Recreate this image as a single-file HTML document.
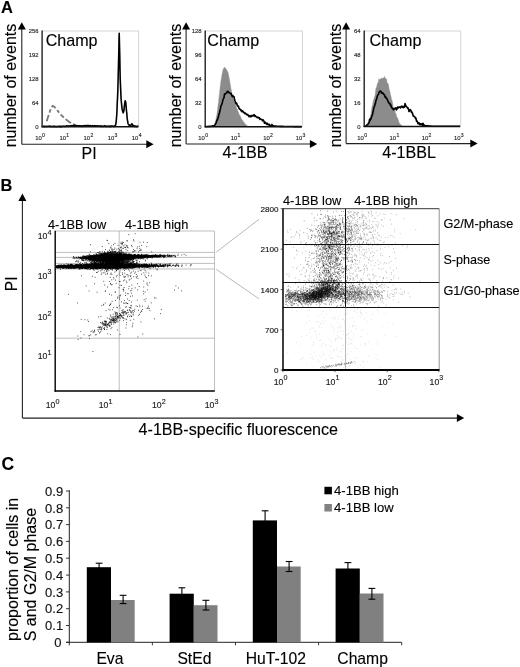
<!DOCTYPE html>
<html lang="en"><head><meta charset="utf-8"><title>4-1BB expression and cell cycle</title>
<style>html,body{margin:0;padding:0;background:#fff}svg{display:block}text{font-family:"Liberation Sans", Arial, Helvetica, sans-serif;stroke:#000;stroke-width:.22px;stroke-opacity:.55}</style>
</head><body>
<svg width="520" height="667" viewBox="0 0 520 667">
<rect width="520" height="667" fill="#fff"/>
<text x="0.9" y="12.6" font-size="16.5" font-weight="bold">A</text>
<line x1="42" y1="31" x2="138.6" y2="31" stroke="#c8c8c8" stroke-width="0.8"/>
<line x1="138.6" y1="31" x2="138.6" y2="126.7" stroke="#c8c8c8" stroke-width="0.8"/>
<line x1="21.8" y1="144.3" x2="21.8" y2="28.6" stroke="#222" stroke-width="1.1"/>
<path d="M21.8 22.3 L17.8 29.6 L25.8 29.6 Z" fill="#000"/>
<line x1="21.8" y1="144.3" x2="147.3" y2="144.3" stroke="#222" stroke-width="1.1"/>
<path d="M153.6 144.3 L146.3 140.3 L146.3 148.3 Z" fill="#000"/>
<text x="38.5" y="33.1" font-size="5.9" text-anchor="end" fill="#2a2a2a">256</text>
<text x="38.5" y="57" font-size="5.9" text-anchor="end" fill="#2a2a2a">192</text>
<text x="38.5" y="80.9" font-size="5.9" text-anchor="end" fill="#2a2a2a">128</text>
<text x="38.5" y="104.9" font-size="5.9" text-anchor="end" fill="#2a2a2a">64</text>
<text x="38.5" y="128.8" font-size="5.9" text-anchor="end" fill="#2a2a2a">0</text>
<text x="41.8" y="140.1" font-size="5.9" fill="#2a2a2a" text-anchor="end">10</text>
<text x="42.1" y="137.2" font-size="5.1" fill="#2a2a2a">0</text>
<text x="66" y="140.1" font-size="5.9" fill="#2a2a2a" text-anchor="end">10</text>
<text x="66.2" y="137.2" font-size="5.1" fill="#2a2a2a">1</text>
<text x="90.1" y="140.1" font-size="5.9" fill="#2a2a2a" text-anchor="end">10</text>
<text x="90.4" y="137.2" font-size="5.1" fill="#2a2a2a">2</text>
<text x="114.2" y="140.1" font-size="5.9" fill="#2a2a2a" text-anchor="end">10</text>
<text x="114.5" y="137.2" font-size="5.1" fill="#2a2a2a">3</text>
<text x="138.4" y="140.1" font-size="5.9" fill="#2a2a2a" text-anchor="end">10</text>
<text x="138.7" y="137.2" font-size="5.1" fill="#2a2a2a">4</text>
<text x="45.7" y="45.8" font-size="16.1">Champ</text>
<text x="81.6" y="158.6" font-size="16">PI</text>
<text x="16.2" y="147.3" font-size="16" transform="rotate(-90 16.2 147.3)">number of events</text>
<path d="M46.7 121.2 48.2 116.5 49.6 112.2 51 108.2 52.7 105.9 54.4 106.7 57 110 61 114.9 65 118.6 69 121.8 73 124.2 75.4 125.2" fill="none" stroke="#787878" stroke-width="1.8" stroke-linejoin="round" stroke-dasharray="6.6 2.4 3.6 2.4 5.4 2.4 3.2 2.4 4.4 2.4"/>
<path d="M42.5 126.5 42.8 126.6 43 126.5 43.2 126.3 43.5 126.4 43.8 126.3 44 126.5 44.2 126.7 44.5 126.4 44.8 126.4 45 126.6 45.2 126.6 45.5 126.5 45.8 126.3 46 126.5 46.2 126.6 46.5 126.3 46.8 126.4 47 126.2 47.2 126.3 47.5 126.2 47.8 126.5 48 126.3 48.2 126.5 48.5 126.5 48.8 126.5 49 126 49.2 126.4 49.5 126.5 49.8 126.5 50 126.2 50.2 126.4 50.5 126.3 50.8 126.4 51 126.7 51.2 126.4 51.5 126.5 51.8 126.7 52 126.4 52.2 126.5 52.5 126.5 52.8 126.5 53 126.3 53.2 126.5 53.5 126.7 53.8 126.2 54 126.7 54.2 126.5 54.5 126.4 54.8 126.7 55 126.6 55.2 126.3 55.5 126.5 55.8 126.6 56 126.5 56.2 126.6 56.5 126.5 56.8 126.6 57 126.7 57.2 126.4 57.5 126.5 57.8 126.4 58 126.5 58.2 126.3 58.5 126.4 58.8 126.5 59 126.7 59.2 126.7 59.5 126.3 59.8 126.4 60 126.6 60.2 126.1 60.5 126.4 60.8 126.4 61 126.7 61.2 126.6 61.5 126.4 61.8 126.3 62 126.4 62.2 126.7 62.5 126.3 62.8 126.3 63 126.4 63.2 126.3 63.5 126.3 63.8 126.1 64 126.3 64.2 126.2 64.5 126.5 64.8 126.4 65 126.2 65.2 126.4 65.5 126.2 65.8 126.4 66 126.2 66.2 126.3 66.5 125.9 66.8 126.2 67 125.8 67.2 125.8 67.5 126.1 67.8 126 68 126.1 68.2 126.5 68.5 125.9 68.8 126 69 126.1 69.2 126.1 69.5 126 69.8 126 70 126.1 70.2 126.1 70.5 125.8 70.8 125.9 71 126 71.2 125.7 71.5 126 71.8 125.8 72 126.1 72.2 125.9 72.5 125.9 72.8 125.8 73 125.8 73.2 125.5 73.5 125.6 73.8 125.9 74 125.4 74.2 125.9 74.5 125.5 74.8 125.9 75 125.6 75.2 125.9 75.5 125.7 75.8 125.4 76 125.9 76.2 126 76.5 125.7 76.8 125.7 77 125.7 77.2 125.6 77.5 126 77.8 125.7 78 125.8 78.2 125.7 78.5 125.8 78.8 125.7 79 126.1 79.2 125.9 79.5 126.1 79.8 126 80 125.8 80.2 125.9 80.5 125.9 80.8 126 81 126 81.2 126 81.5 125.8 81.8 125.9 82 126.4 82.2 126 82.5 125.9 82.8 126.1 83 126.3 83.2 125.7 83.5 125.9 83.8 125.8 84 125.6 84.2 126 84.5 125.9 84.8 125.9 85 125.7 85.2 125.9 85.5 125.7 85.8 125.8 86 125.6 86.2 125.5 86.5 126 86.8 125.6 87 125.7 87.2 125.7 87.5 125.6 87.8 125.5 88 125.7 88.2 125.6 88.5 125.6 88.8 125.7 89 125.9 89.2 125.8 89.5 125.8 89.8 125.6 90 125.5 90.2 125.9 90.5 125.9 90.8 125.8 91 125.9 91.2 126 91.5 126 91.8 126 92 125.8 92.2 126.2 92.5 125.7 92.8 126.1 93 126 93.2 126.1 93.5 126.3 93.8 126.3 94 125.8 94.2 125.7 94.5 126.2 94.8 125.8 95 126 95.2 126.2 95.5 125.7 95.8 125.7 96 126.1 96.2 126.1 96.5 126 96.8 126.1 97 125.9 97.2 125.8 97.5 126.1 97.8 125.9 98 125.8 98.2 126.2 98.5 126.1 98.8 126.2 99 126 99.2 126 99.5 126 99.8 126 100 126.2 100.2 126 100.5 126.2 100.8 126.2 101 126.6 101.2 125.9 101.5 126.4 101.8 126.2 102 126.2 102.2 126 102.5 126.1 102.8 126.4 103 126.2 103.2 126.3 103.5 126.2 103.8 126.5 104 126.3 104.2 125.9 104.5 126.2 104.8 125.9 105 125.7 105.2 126.2 105.5 126.5 105.8 126.3 106 126.1 106.2 126.1 106.5 126.5 106.8 126.3 107 126.3 107.2 126.3 107.5 126.3 107.8 126.4 108 126.4 108.2 126.3 108.5 126.1 108.8 126.4 109 126.2 109.2 126.5 109.5 126.1 109.8 126.3 110 126.3 110.2 126.1 110.5 126.6 110.8 126.6 111 126.2 111.2 126.4 111.5 126.4 111.8 125.8 112 126.3 112.2 126.3 112.5 126.3 112.8 126.1 113 126.3 113.2 126.3 113.5 126.5 113.8 126.4 114 126.3 114.2 126.6 114.5 126.2 114.8 126 115 125.5 115.2 125.7 115.5 125.3 115.8 124.3 116 122.8 116.2 121.3 116.5 118 116.8 114.2 117 109.7 117.2 104 117.5 98.6 117.8 91.6 118 84 118.2 75.6 118.5 64.1 118.8 52.9 119 40.6 119.2 33.2 119.5 45.3 119.8 57.1 120 68.8 120.2 79.4 120.5 85.6 120.8 92.1 121 97.2 121.2 100.4 121.5 103.2 121.8 106.3 122 107.8 122.2 109.7 122.5 110.6 122.8 111.6 123 112.4 123.2 112.8 123.5 112 123.8 111.1 124 110 124.2 107.3 124.5 105.1 124.8 103.1 125 101.5 125.2 100.7 125.5 101.6 125.8 102.8 126 105 126.2 107.8 126.5 111 126.8 113.3 127 116.2 127.2 118.8 127.5 120.5 127.8 121.8 128 123.4 128.2 124 128.5 124.3 128.8 124.4 129 125 129.2 125.6 129.5 125.8 129.8 125.4 130 125.4 130.2 125.4 130.5 125.5 130.8 125.4 131 125.1 131.2 124.7 131.5 124.2 131.8 123.8 132 123.8 132.2 124.2 132.5 124.8 132.8 125.5 133 125.7 133.2 125.7 133.5 125.5 133.8 126 134 125.7 134.2 125.9 134.5 126.5 134.8 126.4 135 126.3 135.2 126 135.5 126.3 135.8 126.2 136 126.5 136.2 126.7 136.5 126.4 136.8 126.3 137 126.2 137.2 126.4 137.5 126.4 137.8 126.2 138 126.5 138.2 126.3" fill="none" stroke="#000" stroke-width="1.6" stroke-linejoin="round"/>
<line x1="42.1" y1="30.6" x2="42.1" y2="127.3" stroke="#111" stroke-width="1.3"/>
<line x1="41.5" y1="126.7" x2="138.2" y2="126.7" stroke="#111" stroke-width="1.4"/>
<line x1="205.1" y1="31" x2="302.4" y2="31" stroke="#c8c8c8" stroke-width="0.8"/>
<line x1="302.4" y1="31" x2="302.4" y2="126.7" stroke="#c8c8c8" stroke-width="0.8"/>
<line x1="186.1" y1="144" x2="186.1" y2="28.6" stroke="#222" stroke-width="1.1"/>
<path d="M186.1 22.3 L182.1 29.6 L190.1 29.6 Z" fill="#000"/>
<line x1="186.1" y1="144" x2="310.9" y2="144" stroke="#222" stroke-width="1.1"/>
<path d="M317.2 144 L309.9 140 L309.9 148 Z" fill="#000"/>
<text x="201.6" y="33.1" font-size="5.9" text-anchor="end" fill="#2a2a2a">128</text>
<text x="201.6" y="57" font-size="5.9" text-anchor="end" fill="#2a2a2a">96</text>
<text x="201.6" y="80.9" font-size="5.9" text-anchor="end" fill="#2a2a2a">64</text>
<text x="201.6" y="104.9" font-size="5.9" text-anchor="end" fill="#2a2a2a">32</text>
<text x="201.6" y="128.8" font-size="5.9" text-anchor="end" fill="#2a2a2a">0</text>
<text x="204.9" y="140.1" font-size="5.9" fill="#2a2a2a" text-anchor="end">10</text>
<text x="205.2" y="137.2" font-size="5.1" fill="#2a2a2a">0</text>
<text x="237.3" y="140.1" font-size="5.9" fill="#2a2a2a" text-anchor="end">10</text>
<text x="237.6" y="137.2" font-size="5.1" fill="#2a2a2a">1</text>
<text x="269.8" y="140.1" font-size="5.9" fill="#2a2a2a" text-anchor="end">10</text>
<text x="270.1" y="137.2" font-size="5.1" fill="#2a2a2a">2</text>
<text x="302.2" y="140.1" font-size="5.9" fill="#2a2a2a" text-anchor="end">10</text>
<text x="302.5" y="137.2" font-size="5.1" fill="#2a2a2a">3</text>
<text x="207.3" y="45.8" font-size="16.1">Champ</text>
<text x="222.6" y="158" font-size="16.2">4-1BB</text>
<text x="180.6" y="147.3" font-size="16" transform="rotate(-90 180.6 147.3)">number of events</text>
<path d="M205.5 126.7 205.5 126.7 206 126.7 206.5 126.7 207 126.7 207.5 126.7 208 126.7 208.5 126.7 209 126.7 209.5 126.6 210 126.6 210.5 126.6 211 126.6 211.5 126.6 212 126.6 212.5 126.6 213 126.6 213.5 126.3 214 125.7 214.5 125.1 215 123.9 215.5 121.7 216 119.3 216.5 116.6 217 113.8 217.5 110.2 218 105.6 218.5 102.2 219 97.5 219.5 93.4 220 88.6 220.5 84.6 221 80.3 221.5 77.9 222 74.4 222.5 72.4 223 69.4 223.5 69 224 67.7 224.5 67.4 225 68 225.5 67.8 226 69.1 226.5 69.7 227 70.2 227.5 71.4 228 72.3 228.5 75 229 77.3 229.5 79.7 230 83.1 230.5 86 231 89 231.5 91.4 232 93.6 232.5 94.7 233 97.1 233.5 98.8 234 100.1 234.5 102.2 235 103.1 235.5 105.2 236 105.9 236.5 107.7 237 108.7 237.5 109.8 238 111.6 238.5 112.6 239 114.2 239.5 114.9 240 115.5 240.5 116.8 241 117.8 241.5 119.1 242 119.4 242.5 120.6 243 120.7 243.5 122.2 244 122.3 244.5 122.7 245 124 245.5 124.8 246 124.3 246.5 125.3 247 125.7 247.5 126.1 248 126.3 248.5 126.3 249 126.4 249.5 126.5 250 126.6 250.5 126.6 251 126.6 251.5 126.6 252 126.6 252.5 126.6 253 126.6 253.5 126.6 254 126.6 254.5 126.6 255 126.6 255.5 126.6 256 126.6 256.5 126.6 257 126.6 257.5 126.6 258 126.6 258.5 126.6 259 126.6 259.5 126.6 260 126.6 260.5 126.6 261 126.6 261.5 126.6 262 126.6 262.5 126.6 263 126.6 263.5 126.6 264 126.6 264.5 126.6 265 126.6 265.5 126.6 266 126.6 266.5 126.6 267 126.6 267.5 126.6 268 126.6 268.5 126.6 269 126.6 269.5 126.6 270 126.6 270.5 126.6 271 126.6 271.5 126.6 272 126.6 272.5 126.6 273 126.6 273.5 126.6 274 126.6 274.5 126.6 275 126.6 275.5 126.6 276 126.7 276.5 126.7 277 126.7 277.5 126.7 278 126.7 278.5 126.7 279 126.7 279.5 126.7 280 126.7 280.5 126.7 281 126.7 281.5 126.7 282 126.7 282.5 126.7 283 126.7 283.5 126.7 284 126.7 284.5 126.7 285 126.7 285.5 126.7 286 126.7 286.5 126.7 287 126.7 287.5 126.7 288 126.7 288.5 126.7 289 126.7 289.5 126.7 290 126.7 290.5 126.7 291 126.7 291.5 126.7 292 126.7 292.5 126.7 293 126.7 293.5 126.7 294 126.7 294.5 126.7 295 126.7 295.5 126.7 296 126.7 296.5 126.7 297 126.7 297.5 126.7 298 126.7 298.5 126.7 299 126.7 299.5 126.7 300 126.7 300.5 126.7 301 126.7 301.5 126.7 301.5 126.7Z" fill="#8c8c8c" stroke="#8c8c8c" stroke-width="0.4" stroke-linejoin="round"/>
<path d="M205.5 126.6 206 126.6 206.5 126.5 207 126.5 207.5 126.5 208 126.5 208.5 126.5 209 126.4 209.5 126.4 210 126.4 210.5 126.3 211 126.2 211.5 126.2 212 126.1 212.5 126 213 125.7 213.5 125.9 214 125.6 214.5 125.6 215 124.7 215.5 123.7 216 123.4 216.5 121.4 217 119.9 217.5 119.8 218 117.9 218.5 116.6 219 113.9 219.5 112.7 220 110.5 220.5 108.4 221 105.5 221.5 104.9 222 103.9 222.5 101.9 223 99.5 223.5 98.5 224 97.6 224.5 94.1 225 94.3 225.5 93.9 226 93.2 226.5 93 227 92.1 227.5 91.2 228 91.3 228.5 92.4 229 92.4 229.5 93 230 93.2 230.5 93.4 231 93.4 231.5 94.7 232 96.1 232.5 96.7 233 95.7 233.5 96.5 234 96.8 234.5 99 235 100.8 235.5 102.4 236 103.6 236.5 103.1 237 104.4 237.5 106 238 106.1 238.5 106.3 239 108.5 239.5 108.9 240 109.4 240.5 109.3 241 110.7 241.5 110.4 242 111.7 242.5 110.9 243 111.3 243.5 112.3 244 112.2 244.5 113.4 245 113.6 245.5 113.1 246 114 246.5 114 247 115 247.5 114.4 248 114.7 248.5 115.9 249 116.7 249.5 116.7 250 115.7 250.5 116 251 116.9 251.5 115.9 252 115.3 252.5 115.9 253 116.1 253.5 115.3 254 114.7 254.5 115.1 255 116.5 255.5 115.9 256 116.5 256.5 116.9 257 117.4 257.5 117.1 258 117.9 258.5 117.4 259 118 259.5 117.9 260 119.5 260.5 119.1 261 119 261.5 119.5 262 119.9 262.5 120.8 263 119.7 263.5 120.4 264 121.1 264.5 123.2 265 122.6 265.5 122.3 266 123.1 266.5 124.3 267 123.3 267.5 123.4 268 124.7 268.5 124.5 269 124.9 269.5 124.4 270 126.2 270.5 126.2 271 125.6 271.5 125.9 272 124.4 272.5 126.1 273 125.9 273.5 125.9 274 126 274.5 126 275 126.1 275.5 126.1 276 126.1 276.5 126.2 277 126.2 277.5 126.3 278 126.3 278.5 126.3 279 126.3 279.5 126.3 280 126.4 280.5 126.4 281 126.4 281.5 126.4 282 126.4 282.5 126.4 283 126.4 283.5 126.5 284 126.5 284.5 126.5 285 126.5 285.5 126.5 286 126.5 286.5 126.5 287 126.5 287.5 126.5 288 126.5 288.5 126.5 289 126.5 289.5 126.5 290 126.5 290.5 126.5 291 126.5 291.5 126.5 292 126.5 292.5 126.5 293 126.5 293.5 126.6 294 126.6 294.5 126.6 295 126.6 295.5 126.6 296 126.6 296.5 126.6 297 126.6 297.5 126.6 298 126.6 298.5 126.6 299 126.6 299.5 126.6 300 126.6 300.5 126.6 301 126.6 301.5 126.6" fill="none" stroke="#000" stroke-width="1.6" stroke-linejoin="round"/>
<line x1="205.2" y1="30.6" x2="205.2" y2="127.3" stroke="#111" stroke-width="1.3"/>
<line x1="204.6" y1="126.7" x2="302" y2="126.7" stroke="#111" stroke-width="1.4"/>
<line x1="364.1" y1="31" x2="460.7" y2="31" stroke="#c8c8c8" stroke-width="0.8"/>
<line x1="460.7" y1="31" x2="460.7" y2="126.5" stroke="#c8c8c8" stroke-width="0.8"/>
<line x1="346.1" y1="143.6" x2="346.1" y2="28.6" stroke="#222" stroke-width="1.1"/>
<path d="M346.1 22.3 L342.1 29.6 L350.1 29.6 Z" fill="#000"/>
<line x1="346.1" y1="143.6" x2="471.3" y2="143.6" stroke="#222" stroke-width="1.1"/>
<path d="M477.6 143.6 L470.3 139.6 L470.3 147.6 Z" fill="#000"/>
<text x="360.6" y="33.1" font-size="5.9" text-anchor="end" fill="#2a2a2a">64</text>
<text x="360.6" y="57" font-size="5.9" text-anchor="end" fill="#2a2a2a">48</text>
<text x="360.6" y="80.8" font-size="5.9" text-anchor="end" fill="#2a2a2a">32</text>
<text x="360.6" y="104.7" font-size="5.9" text-anchor="end" fill="#2a2a2a">16</text>
<text x="360.6" y="128.6" font-size="5.9" text-anchor="end" fill="#2a2a2a">0</text>
<text x="363.9" y="140.1" font-size="5.9" fill="#2a2a2a" text-anchor="end">10</text>
<text x="364.2" y="137.2" font-size="5.1" fill="#2a2a2a">0</text>
<text x="396.1" y="140.1" font-size="5.9" fill="#2a2a2a" text-anchor="end">10</text>
<text x="396.4" y="137.2" font-size="5.1" fill="#2a2a2a">1</text>
<text x="428.3" y="140.1" font-size="5.9" fill="#2a2a2a" text-anchor="end">10</text>
<text x="428.6" y="137.2" font-size="5.1" fill="#2a2a2a">2</text>
<text x="460.5" y="140.1" font-size="5.9" fill="#2a2a2a" text-anchor="end">10</text>
<text x="460.8" y="137.2" font-size="5.1" fill="#2a2a2a">3</text>
<text x="369.5" y="45.8" font-size="16.1">Champ</text>
<text x="382.2" y="157.7" font-size="16.1">4-1BBL</text>
<text x="340.6" y="147.3" font-size="16" transform="rotate(-90 340.6 147.3)">number of events</text>
<path d="M364.5 126.5 364.5 126.5 365 126.4 365.5 126.4 366 126.4 366.5 126.3 367 126.3 367.5 125.8 368 125 368.5 124.2 369 122.3 369.5 121 370 117.8 370.5 115.3 371 114.1 371.5 110 372 106.2 372.5 105.6 373 101.9 373.5 100.3 374 98.9 374.5 96.6 375 95.9 375.5 91.8 376 88.2 376.5 87.3 377 85.4 377.5 83.3 378 83.4 378.5 80.7 379 78.5 379.5 80.7 380 79.2 380.5 79 381 78.5 381.5 78.8 382 77.9 382.5 79 383 77.9 383.5 78 384 78.2 384.5 76.3 385 77.9 385.5 78.2 386 79.6 386.5 78.7 387 82.8 387.5 83 388 83.4 388.5 84.7 389 88.2 389.5 90.5 390 92 390.5 95 391 96.3 391.5 99.7 392 100.1 392.5 102.8 393 105.8 393.5 109.4 394 107.4 394.5 109.6 395 110.8 395.5 114.2 396 113.6 396.5 116 397 117.7 397.5 117.8 398 119 398.5 120.8 399 122.5 399.5 123.2 400 123.8 400.5 124.5 401 125.1 401.5 125.8 402 126 402.5 126.2 403 126.3 403.5 126.5 404 126.5 404.5 126.5 405 126.5 405.5 126.5 406 126.5 406.5 126.5 407 126.5 407.5 126.5 408 126.5 408.5 126.5 409 126.5 409.5 126.5 410 126.5 410.5 126.5 411 126.5 411.5 126.5 412 126.5 412.5 126.5 413 126.5 413.5 126.5 414 126.5 414.5 126.5 415 126.5 415.5 126.5 416 126.5 416.5 126.5 417 126.5 417.5 126.5 418 126.5 418.5 126.5 419 126.5 419.5 126.5 420 126.5 420.5 126.5 421 126.5 421.5 126.5 422 126.5 422.5 126.5 423 126.5 423.5 126.5 424 126.5 424.5 126.5 425 126.5 425.5 126.5 426 126.5 426.5 126.5 427 126.5 427.5 126.5 428 126.5 428.5 126.5 429 126.5 429.5 126.5 430 126.5 430.5 126.5 431 126.5 431.5 126.5 432 126.5 432.5 126.5 433 126.5 433.5 126.5 434 126.5 434.5 126.5 435 126.5 435.5 126.5 436 126.5 436.5 126.5 437 126.5 437.5 126.5 438 126.5 438.5 126.5 439 126.5 439.5 126.5 440 126.5 440.5 126.5 441 126.5 441.5 126.5 442 126.5 442.5 126.5 443 126.5 443.5 126.5 444 126.5 444.5 126.5 445 126.5 445.5 126.5 446 126.5 446.5 126.5 447 126.5 447.5 126.5 448 126.5 448.5 126.5 449 126.5 449.5 126.5 450 126.5 450.5 126.5 451 126.5 451.5 126.5 452 126.5 452.5 126.5 453 126.5 453.5 126.5 454 126.5 454.5 126.5 455 126.5 455.5 126.5 456 126.5 456.5 126.5 457 126.5 457.5 126.5 458 126.5 458.5 126.5 459 126.5 459.5 126.5 460 126.5 460 126.5Z" fill="#8c8c8c" stroke="#8c8c8c" stroke-width="0.4" stroke-linejoin="round"/>
<path d="M364.5 126.2 365 126.2 365.5 126.1 366 125.9 366.5 125.9 367 124.8 367.5 124.6 368 124.3 368.5 122.9 369 122.8 369.5 119.6 370 120.7 370.5 118.6 371 119 371.5 117.1 372 115.7 372.5 114.6 373 111.7 373.5 109.7 374 107.2 374.5 106.3 375 104.6 375.5 103 376 100.2 376.5 99.5 377 97.3 377.5 95.7 378 94.7 378.5 94.2 379 92.5 379.5 91.7 380 91 380.5 91.6 381 91.3 381.5 93.1 382 92.5 382.5 93.5 383 93 383.5 94.2 384 94.6 384.5 94.6 385 97 385.5 96.4 386 98 386.5 98.6 387 98.6 387.5 99.9 388 101.6 388.5 102.2 389 103.1 389.5 103.7 390 103.5 390.5 105.5 391 105 391.5 107.7 392 107.8 392.5 108.2 393 109 393.5 109.8 394 109.1 394.5 108.6 395 108.9 395.5 107.9 396 108.4 396.5 109.9 397 107.7 397.5 108.6 398 106.9 398.5 107.7 399 107.1 399.5 107.1 400 107.3 400.5 107.9 401 106.6 401.5 106.7 402 106.1 402.5 107.3 403 106.8 403.5 107.7 404 106.3 404.5 106.9 405 103.5 405.5 104.7 406 106.5 406.5 106.6 407 107.2 407.5 108.1 408 107.8 408.5 109.4 409 111.5 409.5 110.9 410 109.5 410.5 109.9 411 110.5 411.5 112.5 412 112.2 412.5 113.3 413 115.4 413.5 116.3 414 116.3 414.5 116.6 415 117.2 415.5 118.6 416 118.2 416.5 121.1 417 120.9 417.5 122.2 418 123.7 418.5 123.8 419 122.7 419.5 124.3 420 124.8 420.5 123.7 421 123.8 421.5 124.6 422 123.8 422.5 126 423 123.4 423.5 124.5 424 125.2 424.5 125.3 425 125.6 425.5 125.7 426 125.8 426.5 125.8 427 125.9 427.5 125.9 428 125.9 428.5 126 429 126 429.5 126 430 126.1 430.5 126.1 431 126.1 431.5 126.2 432 126.2 432.5 126.2 433 126.2 433.5 126.2 434 126.2 434.5 126.2 435 126.2 435.5 126.2 436 126.2 436.5 126.2 437 126.2 437.5 126.2 438 126.2 438.5 126.2 439 126.2 439.5 126.2 440 126.2 440.5 126.2 441 126.2 441.5 126.2 442 126.2 442.5 126.2 443 126.2 443.5 126.2 444 126.2 444.5 126.2 445 126.2 445.5 126.2 446 126.2 446.5 126.3 447 126.3 447.5 126.3 448 126.3 448.5 126.3 449 126.3 449.5 126.3 450 126.3 450.5 126.3 451 126.3 451.5 126.3 452 126.3 452.5 126.3 453 126.3 453.5 126.3 454 126.3 454.5 126.3 455 126.3 455.5 126.3 456 126.3 456.5 126.3 457 126.3 457.5 126.3 458 126.3 458.5 126.3 459 126.3 459.5 126.3 460 126.3" fill="none" stroke="#000" stroke-width="1.6" stroke-linejoin="round"/>
<line x1="364.2" y1="30.6" x2="364.2" y2="127.1" stroke="#111" stroke-width="1.3"/>
<line x1="363.6" y1="126.5" x2="460.3" y2="126.5" stroke="#111" stroke-width="1.4"/>
<text x="0.4" y="191.3" font-size="16.4" font-weight="bold">B</text>
<line x1="22.4" y1="418.1" x2="22.4" y2="199.9" stroke="#222" stroke-width="1.1"/>
<path d="M22.4 193.6 L18.4 200.9 L26.4 200.9 Z" fill="#000"/>
<line x1="22.4" y1="418.1" x2="457.9" y2="418.1" stroke="#222" stroke-width="1.1"/>
<path d="M464.2 418.1 L456.9 414.1 L456.9 422.1 Z" fill="#000"/>
<text x="17" y="291.2" font-size="15.6" transform="rotate(-90 17 291.2)">PI</text>
<text x="138.6" y="435.3" font-size="16.1">4-1BB-specific fluorescence</text>
<line x1="55.2" y1="252.4" x2="214.5" y2="252.4" stroke="#a4a4a4" stroke-width="0.7"/>
<line x1="55.2" y1="257.4" x2="214.5" y2="257.4" stroke="#a4a4a4" stroke-width="0.7"/>
<line x1="55.2" y1="263.4" x2="214.5" y2="263.4" stroke="#a4a4a4" stroke-width="0.7"/>
<line x1="55.2" y1="269" x2="214.5" y2="269" stroke="#a4a4a4" stroke-width="0.7"/>
<line x1="55.2" y1="338.2" x2="214.5" y2="338.2" stroke="#a4a4a4" stroke-width="0.7"/>
<line x1="119.2" y1="231" x2="119.2" y2="391" stroke="#a4a4a4" stroke-width="0.7"/>
<line x1="55.2" y1="231" x2="214.5" y2="231" stroke="#a4a4a4" stroke-width="0.7"/>
<line x1="214.5" y1="231" x2="214.5" y2="391" stroke="#a4a4a4" stroke-width="0.7"/>
<line x1="216.2" y1="252.2" x2="259" y2="219.3" stroke="#9a9a9a" stroke-width="0.7"/>
<line x1="216.2" y1="269.3" x2="259" y2="298.8" stroke="#9a9a9a" stroke-width="0.7"/>
<path d="M106.4 266.2h0.8M110.5 265.8h0.8M168.9 265.3h0.8M85.9 266.4h0.8M104.8 266.5h0.8M103.7 264.8h0.8M119.4 263.7h0.8M135.2 266.2h0.8M95.2 264.5h0.8M86.6 266.6h0.8M65.3 266.7h0.8M83.9 267.5h0.8M121.9 268h0.8M109.2 266.6h0.8M81.6 265.9h0.8M98.3 264.9h0.8M108.8 265.2h0.8M121.1 266.1h0.8M92.6 264.1h0.8M101.5 266.3h0.8M60.7 266.6h0.8M78.1 267h0.8M150.1 265.5h0.8M99.2 266.4h0.8M113.7 265.2h0.8M98.3 265.7h0.8M87 264.6h0.8M106.4 266.3h0.8M107.9 268.1h0.8M105.9 266.4h0.8M59.2 266.9h0.8M104.2 265h0.8M85.8 267.8h0.8M93.8 265.5h0.8M113.9 267.1h0.8M124.7 266.1h0.8M131.3 264.9h0.8M95.1 267.5h0.8M132 265.9h0.8M138.5 266h0.8M137.6 266.3h0.8M144.1 265.8h0.8M104.2 265.7h0.8M103.5 266.8h0.8M129.5 265.5h0.8M72.5 266.6h0.8M113.4 265.3h0.8M94.2 264.6h0.8M98.4 265.5h0.8M62.7 266.2h0.8M84.8 266.4h0.8M107.5 267.7h0.8M131.1 264.2h0.8M133.7 266h0.8M105.9 263.4h0.8M103.1 264.9h0.8M86.4 265.9h0.8M118.5 263.3h0.8M101.6 264h0.8M123.8 266.2h0.8M153.5 265.8h0.8M107.2 266h0.8M69.1 265.9h0.8M85.6 268.5h0.8M70.1 266.4h0.8M76.9 265.7h0.8M141.9 267.3h0.8M113.9 266.9h0.8M68.5 266.3h0.8M125 267.3h0.8M140.8 266h0.8M98.6 267h0.8M90.4 266.6h0.8M99.2 265h0.8M115.4 267.3h0.8M124.6 266.2h0.8M138.7 264.9h0.8M139.5 265.2h0.8M138.8 266.7h0.8M143.4 265.5h0.8M125.2 266.1h0.8M68.2 267.1h0.8M104.6 266.4h0.8M116.2 264.2h0.8M98 267h0.8M131.7 266.9h0.8M98.6 267.3h0.8M83.9 268h0.8M145.6 266.1h0.8M125.3 266.9h0.8M113.7 268.1h0.8M132.1 265.6h0.8M135.6 267.6h0.8M116.9 268.2h0.8M90.4 267.2h0.8M96.1 268.4h0.8M82.4 267.2h0.8M113.2 265h0.8M139 266.9h0.8M95.4 266.7h0.8M78.5 266.8h0.8M160.7 265.8h0.8M96.3 267.8h0.8M75.9 267h0.8M114.2 265.2h0.8M119.1 266.6h0.8M89.7 267.1h0.8M128.6 265.2h0.8M95.3 265.8h0.8M84 266h0.8M112.6 265.4h0.8M128 266.3h0.8M91.5 267.4h0.8M116.6 268.4h0.8M105.6 267.7h0.8M181.4 266.2h0.8M89.6 267.5h0.8M144 267h0.8M106.6 265.7h0.8M104.7 267.1h0.8M126.8 266.3h0.8M131.2 265.8h0.8M140.9 265.4h0.8M116.5 265.5h0.8M92.4 266h0.8M94 264.9h0.8M121.3 266.7h0.8M123.1 266h0.8M144.3 265.9h0.8M118.9 266.5h0.8M135.6 266.6h0.8M147.4 265.3h0.8M112.3 266h0.8M69.4 265.3h0.8M77.3 264.5h0.8M70.6 265h0.8M149.4 267h0.8M86 264.6h0.8M140 266.3h0.8M123.2 267.7h0.8M152.6 265.4h0.8M134.1 267.5h0.8M105.3 268.5h0.8M102.8 267.4h0.8M110.2 269.1h0.8M112.6 266.9h0.8M94.2 265.5h0.8M107.2 266.8h0.8M149.8 265.4h0.8M63.7 265.6h0.8M114.7 264.5h0.8M84.4 268.6h0.8M112.9 265.5h0.8M129.8 265.9h0.8M106.5 265.4h0.8M128.1 266.1h0.8M66.7 266.4h0.8M136.8 265.5h0.8M92.3 265h0.8M124.2 264.4h0.8M112.7 265.2h0.8M88.3 266.7h0.8M113.7 268.7h0.8M148.4 266.6h0.8M115.5 268.4h0.8M114.7 266.7h0.8M71.3 266.5h0.8M145.2 264.7h0.8M155 265.7h0.8M108.7 263.5h0.8M102.3 265.9h0.8M65.9 267.9h0.8M131 266.3h0.8M178.3 266.3h0.8M126.6 265.6h0.8M140.9 264.6h0.8M122.1 265.5h0.8M82.4 266.1h0.8M142.8 266.9h0.8M75.9 268.2h0.8M102.5 265.4h0.8M115.3 265.7h0.8M131 265.8h0.8M118.8 265.7h0.8M118.1 264.6h0.8M88.2 266.5h0.8M74.5 266.8h0.8M109.6 266.7h0.8M89.5 265.1h0.8M74 266.4h0.8M75.1 265h0.8M95.3 267.4h0.8M59.8 265.9h0.8M73 266.3h0.8M65.5 266.3h0.8M112.7 265.4h0.8M118.6 264.8h0.8M160.2 264.3h0.8M69.1 268h0.8M90.3 266.6h0.8M131.7 266.2h0.8M102.4 268.8h0.8M99.5 266.2h0.8M152.4 266.2h0.8M99.2 266.3h0.8M77.9 267.5h0.8M73.8 267h0.8M116.7 266.5h0.8M115.9 265.8h0.8M72.3 266.8h0.8M82.4 267.5h0.8M121.9 263.6h0.8M123 265.9h0.8M91.3 265.9h0.8M124.2 265.7h0.8M122.9 263.8h0.8M61.6 267.2h0.8M99.9 265.3h0.8M118.8 265.8h0.8M93.1 265.8h0.8M100.6 264.3h0.8M127.6 265.5h0.8M149.1 264.3h0.8M175.9 264.8h0.8M78.7 266.2h0.8M132.9 265.9h0.8M140.1 265.9h0.8M133.6 265.8h0.8M111.9 268.8h0.8M77.8 266.9h0.8M124.3 264.7h0.8M89.4 265.8h0.8M181.6 265h0.8M126.4 265.8h0.8M155.3 265.2h0.8M84.3 265.6h0.8M146.2 267.2h0.8M149.3 265.8h0.8M148.4 265.5h0.8M107.4 265.9h0.8M76.7 266.3h0.8M103.4 268h0.8M63.7 267h0.8M110.4 267.6h0.8M82.2 263.5h0.8M103.7 266.7h0.8M105.2 267.5h0.8M158.2 267.2h0.8M141.7 265.9h0.8M106.8 264.1h0.8M139.4 266.4h0.8M87.7 265.8h0.8M99.2 264.2h0.8M131.7 265.3h0.8M75.7 267.4h0.8M100.7 267.7h0.8M73.7 267.2h0.8M111.1 264.9h0.8M150.4 267.8h0.8M88.4 265.2h0.8M113.9 266.1h0.8M84.7 265h0.8M78.1 267.7h0.8M75.9 266.9h0.8M145.8 266.6h0.8M169.4 265.7h0.8M120.6 266h0.8M89.4 266.6h0.8M126.3 263.9h0.8M99.3 267.5h0.8M128.8 267h0.8M115.6 265.7h0.8M115.3 266.1h0.8M123.8 266.4h0.8M92.9 268.1h0.8M97.5 266.8h0.8M63.2 266.7h0.8M96.5 265.7h0.8M71 265.3h0.8M104.2 265.5h0.8M83.1 266.5h0.8M110.6 265.9h0.8M119.8 266.2h0.8M71.1 267.2h0.8M86.9 266.9h0.8M83.5 266.7h0.8M127.4 266.7h0.8M152.4 265.9h0.8M130.1 266h0.8M98.9 266.9h0.8M146.1 264.4h0.8M68.6 267.6h0.8M147 264.7h0.8M90.9 267.3h0.8M176.9 265.5h0.8M149 266.7h0.8M81.2 266.5h0.8M112.4 265h0.8M102.4 267.6h0.8M110.7 266.4h0.8M69.4 266.7h0.8M90.3 266.5h0.8M120.2 267.3h0.8M113.8 267.2h0.8M139.2 266.1h0.8M110.1 264.3h0.8M169.1 265.3h0.8M89.4 266.5h0.8M114.7 268.4h0.8M58.2 267h0.8M75.4 266.5h0.8M142.5 266.9h0.8M83.5 266.4h0.8M121.8 266.1h0.8M106.4 266.4h0.8M80.8 265.1h0.8M98.9 267.5h0.8M94.6 266.8h0.8M95.3 266h0.8M127.6 264.8h0.8M125 266.3h0.8M93 267.9h0.8M84.4 265.8h0.8M115.3 264.9h0.8M105.4 266.8h0.8M134.7 264.4h0.8M177 263.9h0.8M129.9 265.5h0.8M107.1 265.4h0.8M103.5 265.9h0.8M85.7 265.9h0.8M84.4 266.8h0.8M81.9 266.3h0.8M97.7 265.6h0.8M96.9 265.8h0.8M127.3 266.7h0.8M97.6 267.5h0.8M102.9 267.4h0.8M76.3 267.1h0.8M150.8 263.1h0.8M121.2 264.9h0.8M154.5 265.5h0.8M128.7 266.2h0.8M146.7 264.5h0.8M101.5 268h0.8M126.6 266.4h0.8M178.3 265h0.8M76.2 266.7h0.8M138.6 265.6h0.8M152.1 265.2h0.8M118.9 266.7h0.8M127.9 265.5h0.8M141.3 264.6h0.8M90.6 265.7h0.8M118.9 266h0.8M84.9 265.4h0.8M90 267.7h0.8M91.6 265.2h0.8M104.2 268.4h0.8M111.9 267.3h0.8M120 265h0.8M70.3 266.7h0.8M160.7 266.6h0.8M138.8 265.7h0.8M127.3 264.7h0.8M98.5 266.5h0.8M105.6 268.7h0.8M122.6 264.4h0.8M119 266.8h0.8M63.3 266.7h0.8M127.7 265.9h0.8M185.7 265.1h0.8M58.8 266.5h0.8M134.5 267h0.8M117.8 266.9h0.8M105 265.1h0.8M144.6 267.2h0.8M76.4 265.4h0.8M112.3 267h0.8M147.1 266h0.8M102.7 267.8h0.8M96.8 266.8h0.8M111.1 267.5h0.8M96.1 266.3h0.8M149.3 266.6h0.8M83.8 266.8h0.8M131.3 268.2h0.8M74.5 266h0.8M125.9 267.4h0.8M105.2 266.9h0.8M107.8 266.5h0.8M79.5 266h0.8M96.1 266.9h0.8M149.1 264.6h0.8M78.1 265.3h0.8M79.7 267.2h0.8M146.5 264.5h0.8M111.1 268h0.8M149.2 265.6h0.8M116.6 266.5h0.8M84.4 266.6h0.8M106.2 266.8h0.8M140.9 265.7h0.8M133.2 265.6h0.8M108 266.1h0.8M109.3 267.6h0.8M105 267.7h0.8M92.5 267.8h0.8M159.6 266h0.8M108.2 266h0.8M77.8 265.1h0.8M95.2 267.1h0.8M127.4 267h0.8M125.1 265.6h0.8M104.3 267.3h0.8M90.1 267.8h0.8M108.6 266.4h0.8M63.3 267.5h0.8M73.2 266.8h0.8M129.4 264.2h0.8M95.2 265.9h0.8M118 265.7h0.8M140.6 266.4h0.8M125.4 265.1h0.8M108.6 265.7h0.8M164.9 264.9h0.8M125.8 266h0.8M98.5 266.4h0.8M127.6 267.1h0.8M118.9 267.1h0.8M85.1 266.6h0.8M110 266.5h0.8M103.6 266.4h0.8M103.4 268.2h0.8M100.4 263.4h0.8M96.3 266.2h0.8M64 266.9h0.8M98.5 267.7h0.8M106.9 264.9h0.8M110.7 266.7h0.8M77.6 267.3h0.8M124.9 265.6h0.8M75.5 264.9h0.8M102 265.9h0.8M142.9 264.8h0.8M89.5 267.1h0.8M94.3 265.4h0.8M136.7 267.7h0.8M97.7 266.5h0.8M100.1 265.4h0.8M113.9 265.6h0.8M136 264.9h0.8M85.9 266.9h0.8M81.1 267.9h0.8M79 266.3h0.8M85.2 267.4h0.8M85.6 265.5h0.8M116 266.6h0.8M84.3 268.7h0.8M111.3 264.5h0.8M118.7 267.6h0.8M88.6 267.7h0.8M111.5 263.9h0.8M151.6 264.6h0.8M116.6 265h0.8M91 267.5h0.8M106.3 265.8h0.8M83.6 266.3h0.8M115.2 267.1h0.8M130.9 266.1h0.8M86.2 266.7h0.8M102.4 265.9h0.8M137.6 267h0.8M94.8 265.5h0.8M113 268.3h0.8M80.8 266.2h0.8M86.2 265.7h0.8M94.4 267.1h0.8M164.6 266h0.8M97.4 264.1h0.8M94.2 266.6h0.8M93.4 264.9h0.8M103.7 265.3h0.8M125.1 267h0.8M112.9 265.1h0.8M161.5 266h0.8M113.6 265.7h0.8M145.6 267.5h0.8M115.2 266.1h0.8M123.7 264.8h0.8M70.5 265.7h0.8M104.7 265.2h0.8M106.2 266.4h0.8M101.7 266.3h0.8M130.9 267h0.8M97.9 266.5h0.8M96.6 266.5h0.8M101.4 266.7h0.8M102.1 266.2h0.8M118.6 266.5h0.8M75 267.2h0.8M83.8 267.2h0.8M115.6 265.5h0.8M111.8 264h0.8M98.2 265.4h0.8M93.1 266.7h0.8M86.3 264h0.8M106.5 265.7h0.8M138.7 266.3h0.8M80.5 266h0.8M147.6 264.9h0.8M129.9 267.9h0.8M96.2 267.9h0.8M128.4 265.8h0.8M69.9 267.7h0.8M63 267.7h0.8M74.5 265.6h0.8M97.3 269.4h0.8M99.5 265.2h0.8M94.6 266.1h0.8M110.6 264.8h0.8M120.9 266.2h0.8M71.1 265.5h0.8M90.8 266.4h0.8M97.3 267.6h0.8M77.9 266.7h0.8M72.4 266.4h0.8M81.8 267.9h0.8M107.7 265.1h0.8M123.3 267.2h0.8M122.7 265.7h0.8M82.1 266.7h0.8M87.4 266.5h0.8M84.1 266.6h0.8M119.7 266.1h0.8M140.2 265.4h0.8M95.4 266.9h0.8M87.6 266.3h0.8M116.8 264.7h0.8M134.8 265.3h0.8M116.9 265.3h0.8M135.4 265.9h0.8M111.5 266.4h0.8M140 266h0.8M140.4 265.3h0.8M105.4 266.3h0.8M145.4 264.7h0.8M112.3 262.6h0.8M110.3 266.1h0.8M84 264.9h0.8M100.5 265.2h0.8M128.2 264.7h0.8M73.9 267.1h0.8M124.9 264.7h0.8M117.1 266.5h0.8M115.2 265.5h0.8M105.3 264.7h0.8M124.9 264.3h0.8M88.2 266.9h0.8M110.3 266.7h0.8M125.5 266.9h0.8M90.8 268.3h0.8M130.7 266.3h0.8M60.1 266.9h0.8M126 265.9h0.8M101.8 266.4h0.8M129 265.6h0.8M83.9 265.6h0.8M91.9 268.5h0.8M166.3 264.2h0.8M86.4 266.7h0.8M89.6 266.8h0.8M100.8 266.4h0.8M81.4 265.6h0.8M139 265.7h0.8M152.9 265.4h0.8M89.7 265.2h0.8M63.1 266.6h0.8M138.5 265.5h0.8M136.8 265.4h0.8M129.4 266.7h0.8M138.1 264.9h0.8M85.4 266.8h0.8M103.6 265.5h0.8M72 266.9h0.8M71.1 266.6h0.8M133.5 266.2h0.8M90.5 265.3h0.8M167.3 265h0.8M109.9 265.1h0.8M91.3 266.5h0.8M128.7 266.8h0.8M154.8 266.5h0.8M120.6 265.4h0.8M76.4 266.6h0.8M117.6 264.1h0.8M143.8 263.9h0.8M95.2 265.3h0.8M87.9 265.7h0.8M134.4 264.4h0.8M111.6 263.9h0.8M79.3 266.9h0.8M98.1 265.3h0.8M88.4 264.6h0.8M115.7 268.9h0.8M110.9 266.3h0.8M137.9 265.6h0.8M126.5 266.7h0.8M67.3 266h0.8M118.6 268h0.8M131.3 264.3h0.8M119.9 264.5h0.8M134.8 265.7h0.8M93.7 265.4h0.8M83.3 267.7h0.8M132.2 264.3h0.8M80.3 265.8h0.8M134.7 266.1h0.8M89.2 266.9h0.8M100 267.4h0.8M71.7 266.8h0.8M73.5 268.3h0.8M77.9 266h0.8M98.6 266.4h0.8M117.6 267.1h0.8M127.6 265.6h0.8M77.3 266.2h0.8M80.3 266h0.8M125.6 265.2h0.8M106.1 264.8h0.8M68.1 266.1h0.8M156 264.5h0.8M85.6 266.7h0.8M114.4 264.1h0.8M113.2 268.6h0.8M144.7 267.2h0.8M96.2 267.5h0.8M134.2 265.7h0.8M88.7 265.7h0.8M137.2 267h0.8M88.2 266.5h0.8M98.6 266.9h0.8M157.3 265.1h0.8M116.2 267.3h0.8M110.9 265.1h0.8M166.3 265.6h0.8M117.4 263.9h0.8M86.8 265.7h0.8M127.1 266.5h0.8M77.3 266h0.8M137.3 265.4h0.8M139.4 266.5h0.8M93.1 266.2h0.8M91.7 267.6h0.8M112.6 263.1h0.8M108.4 266.8h0.8M82.6 266.9h0.8M122.8 264.2h0.8M96.7 264.7h0.8M97.5 267.2h0.8M100.9 264.9h0.8M116 265.2h0.8M76.1 267h0.8M123.3 265.6h0.8M103.3 266.7h0.8M91.1 265.4h0.8M72.5 266.7h0.8M77.2 267.4h0.8M117.4 266.4h0.8M82.9 264.3h0.8M109.7 266.9h0.8M135.6 265.9h0.8M134.8 265h0.8M148.6 266.9h0.8M100.3 264.1h0.8M79.8 268.1h0.8M134.5 265.2h0.8M116 267.9h0.8M137.2 265.8h0.8M108.3 264.4h0.8M139.1 265.9h0.8M130 266.2h0.8M126.6 266.5h0.8M121.1 267.2h0.8M118.3 264.9h0.8M114.1 266.7h0.8M113.9 267h0.8M133.7 265.6h0.8M94.7 265.2h0.8M153.1 264.9h0.8M105.2 267.1h0.8M133.6 266.7h0.8M105.7 265.1h0.8M101.6 264.6h0.8M160.8 266.5h0.8M100 264.3h0.8M74.8 266.6h0.8M89.4 265.5h0.8M99.8 264.1h0.8M164 265.7h0.8M113.4 265.8h0.8M132.3 267.3h0.8M82 268.5h0.8M117.2 265.8h0.8M125.5 267.1h0.8M154.8 266.5h0.8M89.9 265.7h0.8M123.7 265h0.8M115.9 268h0.8M81.4 266h0.8M107.5 266.1h0.8M101.1 265.8h0.8M123.6 265.8h0.8M122 265.3h0.8M96.6 267.1h0.8M73.2 267.5h0.8M146.5 265.4h0.8M114.9 264.3h0.8M134.4 265.9h0.8M144.7 264.5h0.8M94.5 265.5h0.8M129.1 267.2h0.8M101.7 269h0.8M106.4 266.6h0.8M105.8 264.8h0.8M108 267.1h0.8M137 263.7h0.8M111.2 265.2h0.8M104 268h0.8M100.8 267.1h0.8M116.9 264.3h0.8M84.7 264.7h0.8M94.9 267.2h0.8M106.6 266.1h0.8M93.3 265.6h0.8M104.9 266.6h0.8M92.1 265.6h0.8M160.1 264.1h0.8M142.6 266.5h0.8M119.7 265.2h0.8M106.6 264.9h0.8M165 264.5h0.8M116.4 266.3h0.8M105.7 265.1h0.8M115.9 266.8h0.8M116 265.7h0.8M144.7 266.7h0.8M107.5 265.6h0.8M162.6 265.1h0.8M85.1 264.4h0.8M126 264.7h0.8M82 267h0.8M155.2 268h0.8M99.4 264.7h0.8M106.5 264.8h0.8M132 266.2h0.8M140.6 266.2h0.8M79.1 265.8h0.8M99 266.3h0.8M71.7 265.2h0.8M111.6 265.7h0.8M105.4 267.2h0.8M98.9 268.1h0.8M90.2 266.1h0.8M98 265.9h0.8M88.6 266.8h0.8M121.8 267.3h0.8M147.4 266.1h0.8M57.8 266.1h0.8M105 266.6h0.8M97.1 267.3h0.8M120.8 265.1h0.8M83.3 265.1h0.8M104.2 266.8h0.8M81 266.7h0.8M126.1 267h0.8M110.6 266.2h0.8M103.8 265.4h0.8M117.6 265.5h0.8M101.6 264.9h0.8M67.6 265.8h0.8M123.5 265.3h0.8M115.5 265.4h0.8M104 267.5h0.8M133.6 264.6h0.8M139.7 265.8h0.8M79.6 265.9h0.8M87.7 267.8h0.8M148.2 265.9h0.8M144.9 265.4h0.8M88.8 267.1h0.8M77.3 266.5h0.8M91.4 265.8h0.8M95 268h0.8M66.8 267.1h0.8M108.8 268.2h0.8M74.7 267.4h0.8M76.5 267.1h0.8M131.8 266h0.8M90.2 265.2h0.8M106.1 267h0.8M124.4 266h0.8M129.1 266.6h0.8M99.2 266.2h0.8M109.1 265.2h0.8M86.5 265.3h0.8M153.4 266.2h0.8M124.9 267.4h0.8M79.3 266.2h0.8M108.1 266.7h0.8M126.6 267.5h0.8M120.5 265h0.8M155.6 265.4h0.8M143.7 264.8h0.8M94 267.6h0.8M105.7 266.5h0.8M74.7 266.1h0.8M114.5 264h0.8M111.9 265.9h0.8M178.3 266.2h0.8M110.5 265.7h0.8M90.5 265.9h0.8M110.9 266.9h0.8M75.3 265.4h0.8M85.5 266.4h0.8M98.5 266.9h0.8M116.9 265.1h0.8M103.7 265.2h0.8M84.9 266.6h0.8M128.5 265.8h0.8M94 266h0.8M95 266.5h0.8M72.1 266.7h0.8M87.6 265.4h0.8M124.9 265.2h0.8M65.9 266.9h0.8M106.1 267.5h0.8M126.7 267.4h0.8M98.2 265.2h0.8M114.2 267.4h0.8M79 267.1h0.8M142.1 265.8h0.8M136.6 266.3h0.8M114.1 267.1h0.8M62.4 268h0.8M80.8 265.4h0.8M133.4 266.5h0.8M152.5 265.6h0.8M115.7 265.8h0.8M140.4 266.8h0.8M92.2 267.2h0.8M103.1 264.9h0.8M108 265.8h0.8M119 266.3h0.8M68.3 265.4h0.8M132.5 266.8h0.8M142.4 265.7h0.8M78.1 266.6h0.8M72.8 266.8h0.8M117.1 268.2h0.8M91 266.3h0.8M129 265.5h0.8M112 268.2h0.8M95.6 265.7h0.8M162.9 265.2h0.8M111.6 264.4h0.8M88.4 267.4h0.8M110.6 266.4h0.8M81 266.8h0.8M88.2 266.5h0.8M118 265.9h0.8M93.6 265.4h0.8M96.3 265.4h0.8M151.4 266.1h0.8M130.4 266h0.8M128.9 267.7h0.8M121.7 265.1h0.8M120.6 265.4h0.8M145.9 264.9h0.8M107.5 267.8h0.8M156.2 264.7h0.8M83.3 267.1h0.8M101.4 267.9h0.8M72.2 266.4h0.8M99.1 267.1h0.8M121.5 263.5h0.8M145.7 265.4h0.8M90.8 264.6h0.8M108.1 266.3h0.8M98.7 266.2h0.8M88.8 265.5h0.8M77.1 267.3h0.8M109.6 266.6h0.8M63 266.2h0.8M110.9 265.5h0.8M108.5 264.3h0.8M90.9 266.1h0.8M81.7 268.4h0.8M72 265.9h0.8M156.7 266h0.8M73.1 266h0.8M148.5 266.4h0.8M123.6 266.5h0.8M98.5 266h0.8M77.9 264.9h0.8M135.1 265.4h0.8M153 266.6h0.8M83.7 266.2h0.8M100.2 267h0.8M135.3 265.4h0.8M116.7 263.8h0.8M160 266h0.8M93.2 266.6h0.8M122.1 265.3h0.8M75.5 266.2h0.8M162.5 265.8h0.8M89 265.7h0.8M104.7 266.6h0.8M104.4 265.9h0.8M157.8 263.8h0.8M99.2 266.1h0.8M107.7 265.4h0.8M123.4 265h0.8M149.2 266.1h0.8M106.4 265.6h0.8M135 266.4h0.8M121.5 267.3h0.8M100.3 266.4h0.8M110 264.2h0.8M108.7 265.2h0.8M84.2 267.3h0.8M139.6 265.6h0.8M72 265.9h0.8M138.5 265.8h0.8M132.8 266.4h0.8M105.6 266.5h0.8M88.1 267h0.8M102.1 265.2h0.8M120.3 265.7h0.8M127.3 265.7h0.8M115.5 266h0.8M133.8 263.8h0.8M93.5 266h0.8M114.1 264.4h0.8M67.2 267.7h0.8M127.9 267.6h0.8M112 268.2h0.8M97.2 267.2h0.8M138.2 265.4h0.8M126 267h0.8M109 265.9h0.8M70.2 267h0.8M135.7 265h0.8M172.7 265.1h0.8M94.5 266.8h0.8M109.9 268.3h0.8M101.5 266.2h0.8M117.1 268.8h0.8M124.8 269.1h0.8M141.5 264.7h0.8M82.3 266.4h0.8M148.9 265h0.8M83.8 266.3h0.8M115.2 265.4h0.8M138.1 265.8h0.8M126.5 267h0.8M83.6 267.3h0.8M89.7 266.6h0.8M96 266.3h0.8M106.7 266.3h0.8M137.8 266h0.8M74.4 267h0.8M120.1 266h0.8M123.9 266.6h0.8M122.5 264.5h0.8M120.1 267h0.8M147.5 267.2h0.8M120.7 266.2h0.8M130.3 264.5h0.8M122.7 267.6h0.8M154.6 265.4h0.8M58.6 264.4h0.8M141.3 265.6h0.8M101.2 266.9h0.8M100.7 266.7h0.8M82.8 267.6h0.8M59.4 267.1h0.8M98.1 266.4h0.8M90.1 264.3h0.8M120.8 264.7h0.8M69.7 266.7h0.8M145.2 266.4h0.8M115.1 264.8h0.8M101.6 265.5h0.8M89.6 266.8h0.8M87.5 264.4h0.8M78.6 264.7h0.8M93.8 266h0.8M108.2 266.5h0.8M103.4 265.6h0.8M71.2 264.7h0.8M101.1 266.3h0.8M84.8 265.1h0.8M112.2 266.9h0.8M156.5 265.6h0.8M124.3 266.3h0.8M99.9 267h0.8M65.8 266.2h0.8M71.2 267.2h0.8M64.1 267.6h0.8M126.9 266.4h0.8M88.1 267.7h0.8M109.6 265.4h0.8M91.8 267.3h0.8M110.4 266.5h0.8M144.4 265h0.8M90.2 266.3h0.8M99.1 265.6h0.8M87 265.8h0.8M130.7 266h0.8M81.3 267.4h0.8M78.5 266.2h0.8M71.9 266.6h0.8M71.4 265.3h0.8M120.2 266.2h0.8M174.8 266.4h0.8M82.1 267.2h0.8M132.7 266.4h0.8M114.5 265.4h0.8M79.3 265.6h0.8M100.8 266.1h0.8M101.9 264.6h0.8M90 265.1h0.8M158.2 266.4h0.8M58.4 266h0.8M117.9 268.2h0.8M116.6 264.3h0.8M92.9 266.8h0.8M111.9 264.7h0.8M130.8 266.1h0.8M112 264.8h0.8M118.9 266.1h0.8M126 265.8h0.8M146.4 266.2h0.8M167.2 266.7h0.8M133.5 265.3h0.8M134.4 266.8h0.8M71.4 266.6h0.8M104.9 266.1h0.8M86.9 268.5h0.8M92.7 264h0.8M133.1 265.2h0.8M87.1 264.6h0.8M104.6 265.8h0.8M58.4 266.5h0.8M103.9 270.8h0.8M110.3 266.6h0.8M89.7 268.2h0.8M89.3 267.7h0.8M157 265.3h0.8M76.5 266.9h0.8M80.7 267.9h0.8M87 266.5h0.8M139.2 266h0.8M162.6 266h0.8M116.6 264.2h0.8M89.3 265.5h0.8M96.9 266.7h0.8M135.7 266.4h0.8M84.3 265.5h0.8M145.8 265.5h0.8M144.8 265.7h0.8M109.8 265.9h0.8M124.8 266.8h0.8M127.5 266.1h0.8M148.4 265.9h0.8M80.7 265.1h0.8M138.7 264.9h0.8M98.2 266.6h0.8M88 264.7h0.8M110.7 266.5h0.8M102.4 265.4h0.8M82.3 265.7h0.8M66.5 267.1h0.8M83.5 265.8h0.8M145.8 265.1h0.8M159 265.1h0.8M124.9 266h0.8M138.8 268.4h0.8M94.6 263.9h0.8M106 266.1h0.8M115.4 265.8h0.8M79.9 267.3h0.8M82.3 266.1h0.8M110.5 263.1h0.8M99.7 267.8h0.8M80.3 265.4h0.8M118 266h0.8M101.2 264.6h0.8M134.6 264.8h0.8M107.9 265.5h0.8M100.2 267.2h0.8M111.3 267.2h0.8M103.5 265.5h0.8M90.6 266.8h0.8M97.5 265.8h0.8M127.5 266.1h0.8M124.8 266.1h0.8M141.4 266.4h0.8M64 266.1h0.8M97.8 266.1h0.8M97.2 266.5h0.8M112.5 266.2h0.8M96.2 265.4h0.8M94.7 268.2h0.8M128.4 265.4h0.8M112.6 267h0.8M77.7 266.6h0.8M142.7 266.9h0.8M133.9 263.7h0.8M93.1 268.5h0.8M129.6 265.7h0.8M88.9 265.1h0.8M137.3 266h0.8M102.3 268.9h0.8M87.1 266.9h0.8M98.3 264.8h0.8M88.1 265.9h0.8M113 267.7h0.8M112.6 264.4h0.8M108.9 265.9h0.8M93.5 266h0.8M110.4 268.8h0.8M58.7 266.4h0.8M114.3 267.7h0.8M137.4 265.2h0.8M115.1 265.1h0.8M97.9 267.4h0.8M103.3 266.9h0.8M104.5 264.1h0.8M93.7 267h0.8M92.8 267h0.8M84 265.8h0.8M138.9 266h0.8M107.6 266.5h0.8M132.9 265.4h0.8M101.5 265.5h0.8M109.9 265.3h0.8M103.6 265.8h0.8M120 264.4h0.8M129.5 265.9h0.8M114.2 264.2h0.8M90.5 266.4h0.8M87.7 266.3h0.8M151.1 264.9h0.8M100.7 267.2h0.8M100.4 268.5h0.8M146.1 266.9h0.8M136.3 264.6h0.8M121.9 267.5h0.8M97.6 266.5h0.8M169.2 265.5h0.8M118.2 265.3h0.8M122.2 266h0.8M103.6 267.9h0.8M71.2 267h0.8M73.3 266.1h0.8M118.6 265.2h0.8M118.2 265.5h0.8M101.8 266.9h0.8M77.5 268.1h0.8M70.5 265.7h0.8M99.5 266.2h0.8M70.1 266.2h0.8M131.4 265.1h0.8M138 266.2h0.8M181.6 265.8h0.8M130.8 264.4h0.8M92.6 265.2h0.8M85.3 267.5h0.8M92.5 266.6h0.8M103.4 266.8h0.8M133.2 265.4h0.8M123.9 265.5h0.8M123.3 266.5h0.8M113.6 265.5h0.8M125.2 264.7h0.8M145.6 265.8h0.8M80.3 267.2h0.8M96.1 265.1h0.8M71.9 267.4h0.8M150.1 266.3h0.8M141.7 265h0.8M127.6 265.9h0.8M76.8 266.4h0.8M112.5 266.9h0.8M101.9 267h0.8M110.1 264.5h0.8M103.1 264.5h0.8M121.5 267.2h0.8M97.7 266.4h0.8M130.2 266.3h0.8M114.3 266.5h0.8M100.4 268h0.8M105.1 264.7h0.8M96.5 267.5h0.8M129.2 265.1h0.8M100.9 267.1h0.8M115.7 267.7h0.8M97.8 264.6h0.8M69.4 266.9h0.8M131.6 265.6h0.8M80.5 266.2h0.8M125.7 266h0.8M118.9 264.8h0.8M64.9 265.8h0.8M83.4 267h0.8M94.6 267.2h0.8M86.7 265.8h0.8M77.3 265.2h0.8M127.2 268.4h0.8M101.8 267.5h0.8M118 266.5h0.8M96.8 265.1h0.8M115.9 265.3h0.8M88.5 266.6h0.8M107.3 265h0.8M123.1 267.8h0.8M109.2 266.3h0.8M96.1 266.7h0.8M79.7 265.5h0.8M112.4 265h0.8M117 265.1h0.8M101.3 266.5h0.8M88 266.1h0.8M122.1 265.7h0.8M172.5 265.7h0.8M100.1 266.5h0.8M116.8 267.8h0.8M117.8 265.8h0.8M111.2 264.8h0.8M89.6 266.3h0.8M144 267h0.8M101.4 265.5h0.8M87.8 266.4h0.8M102.3 265.8h0.8M112.3 266.6h0.8M93.4 266.6h0.8M106.6 265.1h0.8M72.8 266.3h0.8M102.1 267.3h0.8M128.2 267.1h0.8M159.2 266.3h0.8M126.4 266.9h0.8M115.1 265.7h0.8M138.8 265.5h0.8M134.5 266.8h0.8M151.3 264.8h0.8M136.1 265.8h0.8M104.9 263.9h0.8M114.7 265.6h0.8M112.7 265.2h0.8M115.9 264.6h0.8M113.2 266.8h0.8M87.7 265.6h0.8M90.5 265.9h0.8M109.8 265.2h0.8M108.1 267.9h0.8M64.4 266.2h0.8M125.9 266.2h0.8M130.5 264.6h0.8M110.5 265.5h0.8M151.4 265.5h0.8M156.7 265.4h0.8M76.6 266h0.8M135 266h0.8M119.5 267.8h0.8M118.9 265.9h0.8M132.3 265.8h0.8M89.3 265.9h0.8M92.6 269h0.8M86.5 267.9h0.8M88.4 266.9h0.8M105.4 267h0.8M70.3 266h0.8M80.8 266.3h0.8M123 266.2h0.8M106.2 266.3h0.8M118 265h0.8M58.9 266h0.8M87.6 266.9h0.8M93.6 266.6h0.8M108.8 263.5h0.8M92.8 266.4h0.8M132.3 267.2h0.8M106.5 265.4h0.8M108.4 266.4h0.8M108.4 264.3h0.8M126.4 266.9h0.8M95.7 265h0.8M137.2 264.7h0.8M120 265.6h0.8M112 269h0.8M109.1 265.4h0.8M121.5 264.5h0.8M134.4 266.3h0.8M132.6 266.1h0.8M117.8 268h0.8M130.8 264.6h0.8M111.1 264.1h0.8M140.6 265.5h0.8M107.3 266.6h0.8M142.8 266.1h0.8M110.8 267.4h0.8M77.6 265.2h0.8M102.8 265.2h0.8M85 266.2h0.8M162.6 266.2h0.8M120.9 266.6h0.8M67.2 266.2h0.8M122.2 264.8h0.8M97.6 267.2h0.8M157.8 266.4h0.8M80.6 268.9h0.8M109.7 265.9h0.8M99 268.1h0.8M97.2 264.9h0.8M119.1 265.4h0.8M151.5 265.2h0.8M58.4 266.3h0.8M138.5 265h0.8M93.2 265.7h0.8M169.1 265.5h0.8M119.3 265.5h0.8M103.1 267h0.8M136.7 265.8h0.8M121.7 266h0.8M92.6 267.9h0.8M126.5 266.3h0.8M94.7 266.4h0.8M61.5 266.6h0.8M160.8 265.7h0.8M98.9 266.9h0.8M92.2 265.4h0.8M116.8 267.4h0.8M67.4 267.8h0.8M72.8 267.4h0.8M95 265.7h0.8M94.5 264.5h0.8M109.9 265.6h0.8M137.2 266h0.8M95.7 267.2h0.8M120.8 265.8h0.8M123.6 265.6h0.8M79.8 267.8h0.8M113.9 265.3h0.8M83.5 267.4h0.8M135.7 266.7h0.8M119.8 264.5h0.8M108.4 266.5h0.8M73.2 266h0.8M111 264.9h0.8M88.1 264.5h0.8M126.4 264.3h0.8M104.9 266.7h0.8M86.9 266h0.8M132.1 266.2h0.8M126.8 264.8h0.8M92.6 266h0.8M138.2 265.6h0.8M100.2 264.4h0.8M100 264.3h0.8M111.2 266.6h0.8M88.4 266.5h0.8M96.5 265.2h0.8M103.8 266.1h0.8M147.8 266.3h0.8M147 267.3h0.8M101.3 265.2h0.8M149.9 266.2h0.8M106.9 268.7h0.8M117.9 266.1h0.8M131 267.4h0.8M115.6 262.9h0.8M170.8 266.6h0.8M114.3 266.1h0.8M76.9 264.9h0.8M141.9 266.5h0.8M97.3 267.4h0.8M100.1 267.6h0.8M134 267h0.8M129.3 265.9h0.8M128.8 265.1h0.8M133.4 265.4h0.8M152 265.7h0.8M106.8 266.6h0.8M132.4 265.4h0.8M88.7 266.4h0.8M98.8 267.2h0.8M135.5 266.2h0.8M118.2 268.8h0.8M73.3 268.3h0.8M117.4 264.7h0.8M103.2 265.5h0.8M86.7 265.1h0.8M119.3 264.7h0.8M97.5 266.9h0.8M67.2 265.8h0.8M79.1 265.5h0.8M154 265.5h0.8M68.6 267.2h0.8M113.8 265.6h0.8M123.9 265.6h0.8M124.6 267h0.8M76.1 266.9h0.8M99.6 266.8h0.8M111.7 267.3h0.8M128.8 264.9h0.8M91.2 266.5h0.8M77.7 265.9h0.8M134.1 266.9h0.8M136.7 266.6h0.8M117.6 264.8h0.8M92.2 267.7h0.8M118.6 264.6h0.8M110.8 267.5h0.8M129.8 266.1h0.8M75.5 265.7h0.8M111 264.7h0.8M103.9 265.8h0.8M79.1 266.4h0.8M113.6 265.2h0.8M108.9 266.8h0.8M97.3 264.6h0.8M118.3 266h0.8M71.1 266.5h0.8M106.6 263.9h0.8M119.2 266.4h0.8M115.4 264.5h0.8M136 263.5h0.8M76.8 265.9h0.8M68.8 266.4h0.8M114.2 267.2h0.8M119.8 265.4h0.8M163.1 266.7h0.8M124 267.6h0.8M85.3 267.4h0.8M129 267.3h0.8M86 266.7h0.8M69.4 266.1h0.8M175.8 265.9h0.8M116.5 267.2h0.8M126.6 266.2h0.8M122.7 265.7h0.8M155.1 264.5h0.8M115.4 266.9h0.8M139.7 266.1h0.8M81.3 265.2h0.8M71.8 266.6h0.8M145.1 266.4h0.8M146.3 265.7h0.8M121.3 266.9h0.8M113.9 267h0.8M112.3 264.3h0.8M90.1 266h0.8M148 266.1h0.8M125.1 267h0.8M121.2 267.6h0.8M117.8 263.7h0.8M135.2 265.8h0.8M121.1 266.8h0.8M127.4 267.3h0.8M77.6 267.9h0.8M121.3 264.9h0.8M164.9 265.3h0.8M94.5 265.1h0.8M104.7 267.2h0.8M131.2 264.6h0.8M132.9 267.1h0.8M124.2 267h0.8M65.9 266.9h0.8M121 263.5h0.8M77.2 265.9h0.8M86.6 267.1h0.8M122.2 264.4h0.8M100.3 265.9h0.8M129.1 265.8h0.8M189.9 266h0.8M128.2 266.2h0.8M126.8 266.2h0.8M84.7 266h0.8M91.3 266.3h0.8M80.3 266.3h0.8M94.2 267.1h0.8M79.6 266.3h0.8M90.8 267.4h0.8M102.6 264.1h0.8M82 267.5h0.8M71.1 266.4h0.8M72.6 267.4h0.8M119.8 266.1h0.8M109.6 267.2h0.8M134.7 267.3h0.8M135.2 265.3h0.8M99.1 266.3h0.8M125.4 265.8h0.8M70.5 266.7h0.8M167.4 264.3h0.8M139.1 265.7h0.8M102.4 265.9h0.8M77.8 265.8h0.8M117.9 265.8h0.8M59.4 265.5h0.8M87.7 267.7h0.8M127.5 266.4h0.8M110 268.4h0.8M95.2 265.3h0.8M132.7 264.7h0.8M81 266.7h0.8M115.4 264h0.8M95.1 266.5h0.8M86 265.7h0.8M120 265.6h0.8M82.2 266.6h0.8M157.5 265.7h0.8M92.8 268.3h0.8M159.7 266.1h0.8M79.6 265.3h0.8M123.8 267.1h0.8M76.8 265.3h0.8M73.1 266.6h0.8M112.2 264.5h0.8M125.6 265h0.8M74.9 267.6h0.8M138.8 265.3h0.8M87.3 265.7h0.8M111.4 265.4h0.8M117.9 265.7h0.8M123.5 267.6h0.8M61.3 265.7h0.8M150.1 264.7h0.8M122.6 266.6h0.8M96.9 264.4h0.8M81.4 266.1h0.8M64 267.5h0.8M72.6 266.5h0.8M122.2 265.4h0.8M99.1 265.4h0.8M78.6 265.6h0.8M94.3 265.6h0.8M148.7 265.8h0.8M99.4 267.7h0.8M92.8 267.3h0.8M143.1 265.3h0.8M120 265.1h0.8M109.2 267h0.8M92.2 264.3h0.8M67.6 266.2h0.8M77.6 266.2h0.8M95.5 265h0.8M102.3 265h0.8M117.3 266.4h0.8M122.3 264.1h0.8M113.8 264.9h0.8M113.7 265.3h0.8M81.8 266.5h0.8M94.5 264.7h0.8M83.2 267.4h0.8M91 266h0.8M100.9 265.9h0.8M75.7 266.1h0.8M79.1 265.8h0.8M105.4 264.9h0.8M111 267.5h0.8M90.9 266.5h0.8M121 265.8h0.8M102.3 267.3h0.8M81.5 265.7h0.8M109.1 266.9h0.8M156.9 265.6h0.8M90.5 265.4h0.8M138.3 266.5h0.8M143.8 264.5h0.8M147 266.3h0.8M86.6 265.4h0.8M160.4 265.9h0.8M111 267.8h0.8M101.4 266.8h0.8M102 265.4h0.8M123.6 265.9h0.8M109.3 265.6h0.8M103.4 264.7h0.8M141.4 264.8h0.8M89.2 266.3h0.8M80.9 266.9h0.8M128.6 264h0.8M126.3 265.8h0.8M136.4 266.3h0.8M80.1 266.5h0.8M136.1 264.9h0.8M120.5 267.2h0.8M153.8 264.7h0.8M75.5 267h0.8M113.7 268h0.8M100.8 263.7h0.8M66.7 266.7h0.8M89.4 266.6h0.8M137.3 266h0.8M95.8 265.3h0.8M89.2 266h0.8M130.6 264.4h0.8M133.7 266h0.8M133.7 266.4h0.8M87.5 265.6h0.8M106.5 264.9h0.8M134.8 265.4h0.8M90.9 266.2h0.8M88.5 266.3h0.8M129.5 265.8h0.8M148.6 265.7h0.8M78 265.2h0.8M70.3 264.3h0.8M81.7 266.9h0.8M104.4 267.8h0.8M124 264.3h0.8M104.2 265.3h0.8M89.8 266.6h0.8M112 267.2h0.8M83 266.9h0.8M106.8 267.6h0.8M91.3 266.2h0.8M177.7 265.7h0.8M129.2 266.3h0.8M86.3 265.9h0.8M82.1 267.4h0.8M96.6 266.9h0.8M65.2 267.3h0.8M89 265.9h0.8M88.8 267.3h0.8M131 264.8h0.8M96.9 266.6h0.8M87.4 263.7h0.8M73.1 265.6h0.8M77.4 267h0.8M106.3 265.5h0.8M102.4 266.3h0.8M137.5 264.3h0.8M91.6 267.9h0.8M135.5 266.4h0.8M114.7 265.9h0.8M107.9 266.6h0.8M74.5 267.6h0.8M127.3 266.1h0.8M144.3 264.5h0.8M113.4 265.7h0.8M127.8 267.2h0.8M97.4 266.8h0.8M98.3 265.7h0.8M90.8 266.9h0.8M133.3 265.9h0.8M116.9 266.7h0.8M101.9 264.2h0.8M99.5 265.1h0.8M122.5 266.7h0.8M116.4 265.7h0.8M86.4 266.6h0.8M152.6 267.2h0.8M114.7 265.6h0.8M108.3 266.3h0.8M146.4 265.2h0.8M134.6 265.2h0.8M105.7 266h0.8M121.9 264.3h0.8M80.2 264.5h0.8M91.3 267.7h0.8M139.7 265.7h0.8M58.6 267.4h0.8M125.7 266h0.8M86.4 266.4h0.8M82.5 266.9h0.8M102.9 267h0.8M114.9 264.5h0.8M123.9 267.2h0.8M154.1 264.9h0.8M117.3 266.2h0.8M130.9 268.4h0.8M92.4 266.3h0.8M126.6 267.7h0.8M112 265.6h0.8M96 266.9h0.8M105.5 266.1h0.8M106.4 266.6h0.8M113 265h0.8M118.4 264.9h0.8M94.8 266.6h0.8M88.7 264.7h0.8M127.4 265h0.8M63.9 267h0.8M91.9 265.6h0.8M148.4 265h0.8M90 265.1h0.8M125.9 266h0.8M65.1 266.2h0.8M175.6 265.5h0.8M145.4 265.6h0.8M148.5 267.2h0.8M131.8 265.4h0.8M102.2 263.8h0.8M117.3 266.1h0.8M84.7 266.3h0.8M129 266h0.8M78.9 265h0.8M100.9 267.4h0.8M133.9 265.8h0.8M79 266.3h0.8M98.5 264.3h0.8M112.3 266.6h0.8M73.1 266.4h0.8M138.3 267h0.8M116.9 265.5h0.8M68.6 265.5h0.8M106.8 266.2h0.8M87.8 265.4h0.8M90.9 266.7h0.8M110 264.7h0.8M89.5 266.1h0.8M133.1 265.6h0.8M89.7 266.2h0.8M133.5 265.3h0.8M106.9 265.1h0.8M130.2 265.8h0.8M93.9 265.6h0.8M94.9 266.4h0.8M78 266.1h0.8M123 263.4h0.8M132.4 265.8h0.8M163.1 266.6h0.8M141.6 266h0.8M114.5 266.7h0.8M102.5 266.6h0.8M118.1 265.4h0.8M107.3 264.4h0.8M146.1 266.4h0.8M132.5 266.9h0.8M86.2 266.8h0.8M90.1 266.7h0.8M143.5 266.1h0.8M116 265.9h0.8M102 266.4h0.8M138.8 265.8h0.8M97.9 266.5h0.8M100.7 265h0.8M96 265.5h0.8M57 267h0.8M130.5 265.5h0.8M76.6 264.4h0.8M93.2 266.3h0.8M88.7 264h0.8M126.9 267.9h0.8M106.2 266.9h0.8M108.4 266.9h0.8M64.3 266h0.8M105.7 264.7h0.8M69.6 266.3h0.8M116 266h0.8M117.5 265.1h0.8M107.5 266.2h0.8M161.1 266.1h0.8M121.7 266.6h0.8M123.5 264.8h0.8M111.7 263.4h0.8M103 266.1h0.8M133.1 265.2h0.8M136.6 266.2h0.8M74.2 267.8h0.8M135.4 267.3h0.8M121.4 266.3h0.8M133 266.9h0.8M120.1 267.8h0.8M75.6 266.5h0.8M77.5 266.6h0.8M155.4 266.3h0.8M114.6 266h0.8M71.2 266.1h0.8M117.1 265.1h0.8M98.6 266.2h0.8M60.1 266.1h0.8M66.3 267.1h0.8M115.1 265.6h0.8M106.8 267.8h0.8M101.5 267.5h0.8M115.4 264.5h0.8M123.6 267.1h0.8M100.2 265.7h0.8M86.5 267.6h0.8M75.9 266.8h0.8M93.8 266.2h0.8M104.8 266.9h0.8M101.1 265.5h0.8M70.2 266.7h0.8M95.4 266.6h0.8M160.4 265.5h0.8M80.6 266.7h0.8M64.1 265.8h0.8M115.2 266.7h0.8M123.5 264.6h0.8M120.1 266.7h0.8M78.9 266.8h0.8M134 266.5h0.8M87.6 265.8h0.8M78.5 269h0.8M92.2 266h0.8M105.2 266.3h0.8M126.6 265.1h0.8M124.2 267.5h0.8M107.4 265.5h0.8M132.3 266.8h0.8M110.1 264.9h0.8M131.3 266.2h0.8M71.5 266.2h0.8M67.1 267.2h0.8M128.2 265.6h0.8M71.9 265.8h0.8M100.2 266.7h0.8M105.4 264.7h0.8M95.3 265.2h0.8M96.2 267.1h0.8M144.2 264.2h0.8M131 266.6h0.8M167.7 265.2h0.8M108.6 265h0.8M107.5 266.4h0.8M126.9 266.6h0.8M155.6 265.2h0.8M77.1 266.3h0.8M110.3 267h0.8M103.2 267h0.8M122.5 265.9h0.8M112.1 265.2h0.8M125.2 264.9h0.8M97 265.6h0.8M109.3 266.9h0.8M90.6 266.9h0.8M90.7 266.6h0.8M104.3 267.8h0.8M104.3 265.8h0.8M77.5 266.1h0.8M148.8 265.4h0.8M104.5 268.4h0.8M72 264.9h0.8M136.6 266.1h0.8M88.5 266.8h0.8M121.2 266.1h0.8M107.6 268.9h0.8M114.5 267.4h0.8M112.4 267h0.8M93 265.4h0.8M109.1 266.7h0.8M160.9 265.3h0.8M109.7 266.2h0.8M119.3 266.2h0.8M80.6 266h0.8M72.4 267h0.8M164.1 266.8h0.8M98.3 267.4h0.8M162.1 265.8h0.8M121.9 263.9h0.8M110 267.4h0.8M120.4 267.2h0.8M124.5 265.8h0.8M138.7 265.4h0.8M119.3 266.8h0.8M111.8 265.2h0.8M112.6 267h0.8M143.1 264.9h0.8M129.2 265h0.8M81.9 266.4h0.8M91.5 264.8h0.8M116.6 266.1h0.8M91.8 266.9h0.8M98.2 264.8h0.8M83.1 267.2h0.8M101.2 265.6h0.8M119 266.7h0.8M133.9 266.1h0.8M108.2 265.6h0.8M161.9 265.2h0.8M106 264.2h0.8M191 264.8h0.8M134 265.2h0.8M120.9 267.8h0.8M95 267.4h0.8M104 264.6h0.8M112.6 267h0.8M158 265.8h0.8M72.1 266.2h0.8M157.6 266h0.8M101.5 267.1h0.8M126.8 265.4h0.8M111.6 265.8h0.8M99.1 266.4h0.8M125.7 265h0.8M110.4 266.4h0.8M78.3 266.4h0.8M132.6 265.3h0.8M126.1 265.1h0.8M123.5 266.3h0.8M134.2 266.7h0.8M136.6 266.2h0.8M107.4 265.2h0.8M72.7 267.1h0.8M72 266.7h0.8M143.1 266.3h0.8M126.5 267.2h0.8M110.7 265.1h0.8M96.7 266.1h0.8M108.8 265.5h0.8M108.6 265.1h0.8M99.2 268.5h0.8M89.8 267.3h0.8M164.3 264.3h0.8M113.9 266.6h0.8M92.2 265.8h0.8M74.1 267.4h0.8M89.1 266.4h0.8M126.7 265.8h0.8M127.7 266.1h0.8M102.3 266.7h0.8M109.3 266.2h0.8M100.1 266h0.8M79.2 266.3h0.8M141.8 266.3h0.8M117.7 264.8h0.8M172.4 265.5h0.8M88.3 266.3h0.8M104.4 265.6h0.8M131 266.7h0.8M101.6 264.8h0.8M71.9 266.2h0.8M83.3 265.7h0.8M110.6 266.8h0.8M116.9 265.5h0.8M105.5 266.2h0.8M134.1 266.3h0.8M133.8 264.4h0.8M116.4 266.6h0.8M108.7 265.3h0.8M101.4 265.9h0.8M122.3 265.9h0.8M131.9 266.7h0.8M109.6 267h0.8M119.7 268h0.8M99.6 266.4h0.8M71.3 266.2h0.8M82 266h0.8M127.9 266.6h0.8M119.6 267.8h0.8M149.3 266h0.8M109.5 265.5h0.8M130.5 266.2h0.8M142.4 266h0.8M133.9 265.9h0.8M92.2 265.6h0.8M103.2 263.3h0.8M111.4 265.5h0.8M82.4 267.3h0.8M120.3 266.3h0.8M134.6 263.9h0.8M95.5 266.3h0.8M159.3 264.3h0.8M100.4 268.5h0.8M102.7 266.4h0.8M101.8 264.9h0.8M89.6 267.1h0.8M118.9 265.2h0.8M108.5 266.8h0.8M151.2 265.8h0.8M123.8 264.8h0.8M122 266.8h0.8M102.2 264.7h0.8M71.2 267.6h0.8M105.7 266.3h0.8M85.9 265.4h0.8M132.7 264.2h0.8M107.2 268.1h0.8M151.3 266.8h0.8M127.1 264.7h0.8M129.7 267.6h0.8M114 266.3h0.8M113.4 265.9h0.8M125 265.9h0.8M132 265.7h0.8M89.5 267.7h0.8M120.8 266.2h0.8M176.1 264.2h0.8M105.7 268.6h0.8M101.4 267.2h0.8M90 265.3h0.8M70.3 266.3h0.8M138.9 265.1h0.8M109.6 266.2h0.8M115.8 266.5h0.8M156 265.9h0.8M173.2 265.1h0.8M84.9 265.7h0.8M135.4 266.7h0.8M124.2 265.9h0.8M118.4 268.6h0.8M120.5 265.2h0.8M107.4 267.1h0.8M149.4 265.8h0.8M124 265.2h0.8M117 267.6h0.8M140.5 265.9h0.8M131.4 265.1h0.8M120 265.7h0.8M116.6 267.2h0.8M153.7 264.8h0.8M121.3 267.5h0.8M105.7 267h0.8M85.8 266.1h0.8M99.1 267.8h0.8M80.8 267.9h0.8M110.9 266.8h0.8M114.8 266.3h0.8M108.5 268.3h0.8M124.9 267.6h0.8M112.4 265h0.8M83.2 266.2h0.8M141.1 265.7h0.8M90 265.9h0.8M76.1 265.3h0.8M80 267.2h0.8M107.7 266.3h0.8M133.6 266h0.8M138.4 267.1h0.8M113.5 265.5h0.8M77 266.4h0.8M91 266.6h0.8M84.7 266h0.8M103.4 266.1h0.8M61.9 267.2h0.8M110.9 266.1h0.8M124.8 267.4h0.8M104.2 265.3h0.8M120 266.3h0.8M83.6 265.1h0.8M70.2 266.5h0.8M91.5 265.6h0.8M138.1 267.1h0.8M134.8 266.6h0.8M96.1 266.8h0.8M139.3 267.4h0.8M99.6 267.9h0.8M147.3 266.3h0.8M120.6 265.3h0.8M96.3 264.7h0.8M128.7 265.9h0.8M87.9 266h0.8M83.7 265.8h0.8M70.3 266.3h0.8M114.7 264.2h0.8M106.6 267.9h0.8M106 264.9h0.8M97.3 265.5h0.8M145.4 266.3h0.8M97 264.5h0.8M89.2 267.3h0.8M140.4 266.6h0.8M145 265.5h0.8M116.8 264.8h0.8M62.8 266.3h0.8M92.4 264.4h0.8M123.9 267.5h0.8M108.5 266.2h0.8M148.4 265.2h0.8M72.5 265.8h0.8M125.6 266.6h0.8M91.7 267.9h0.8M142.4 264.8h0.8M106 265.5h0.8M134.8 264.3h0.8M91.2 267h0.8M71.4 266.7h0.8M79.1 268.4h0.8M92.2 266.2h0.8M81.4 266.1h0.8M139.2 265.2h0.8M142.8 266.5h0.8M115.1 264.2h0.8M81.1 267.1h0.8M104.9 266.5h0.8M90.2 265.8h0.8M145.8 265.1h0.8M116.2 267.3h0.8M120.7 268.1h0.8M97.6 265.8h0.8M88 268.1h0.8M79 265.9h0.8M117.6 265.8h0.8M110.5 264.7h0.8M87.2 266.2h0.8M97.9 266.2h0.8M148.7 265.4h0.8M83.1 265.8h0.8M84.1 265h0.8M102.1 264.7h0.8M89.8 265.4h0.8M96.9 267h0.8M121.8 265.5h0.8M153 265.1h0.8M61.7 267.1h0.8M107.5 266.8h0.8M109.1 265.3h0.8M105.8 265.5h0.8M103.1 267h0.8M99.2 266.7h0.8M134.1 265.1h0.8M95.9 266.6h0.8M104.7 266.2h0.8M108 267.5h0.8M110.8 265.1h0.8M103.6 267.2h0.8M134 266.3h0.8M107.8 265h0.8M112.5 267.4h0.8M106.7 267.3h0.8M81.9 265.3h0.8M86.4 268.3h0.8M80.7 265.4h0.8M113 265h0.8M89.4 266h0.8M80.4 267.1h0.8M114.2 266.8h0.8M121.7 265.9h0.8M62.2 267.6h0.8M151.9 266h0.8M108.8 267.8h0.8M105.3 269.5h0.8M135.7 266.1h0.8M109.8 263.1h0.8M92.3 265.9h0.8M165.1 264.8h0.8M80.1 266.5h0.8M105.5 266.3h0.8M130 264.7h0.8M80.2 265.4h0.8M105.3 265.9h0.8M118.1 265.8h0.8M170.4 263.7h0.8M84.8 267.3h0.8M106.8 266.2h0.8M125.1 266h0.8M110.1 266.5h0.8M76.7 265.6h0.8M118.6 266h0.8M110.8 267.4h0.8M119.6 267.3h0.8M137.4 266.3h0.8M134.3 265.6h0.8M118.6 265.1h0.8M116.1 267.7h0.8M79.4 266.9h0.8M104.5 265.7h0.8M113.7 263.5h0.8M97.6 265.3h0.8M110.5 263.8h0.8M86.5 267.6h0.8M147.9 265.9h0.8M164 265.1h0.8M97.9 266h0.8M118.4 269.1h0.8M101.9 267.7h0.8M140.8 264.7h0.8M119.3 265.9h0.8M110 264.7h0.8M102.2 264.2h0.8M111.3 266.3h0.8M82 268.6h0.8M125.6 267.7h0.8M89.4 266.4h0.8M121.9 265.6h0.8M111.4 266.4h0.8M136.5 266.9h0.8M107.6 264.4h0.8M134.6 264.1h0.8M84 268.2h0.8M123.8 266.3h0.8M102.2 268.1h0.8M113 266.4h0.8M109.9 268h0.8M132.3 265.3h0.8M116.4 268h0.8M69.1 267.4h0.8M139.4 265.4h0.8M56.7 267.4h0.8M81.9 265.8h0.8M64.5 265.5h0.8M150.6 266.2h0.8M74.5 267.7h0.8M111 267.2h0.8M94.1 264.9h0.8M61.2 267.3h0.8M99.2 267.1h0.8M125.2 265.5h0.8M103.2 263.2h0.8M132.5 266.9h0.8M98.6 267.3h0.8M108.2 266.8h0.8M98 264.3h0.8M116.9 264.3h0.8M157.4 266.5h0.8M117.4 267h0.8M113.1 266.7h0.8M91.9 266.1h0.8M88.4 266.8h0.8M146.1 265.3h0.8M79.1 266.2h0.8M84.3 265.6h0.8M105.5 266.5h0.8M96.9 265.8h0.8M158.9 266.4h0.8M117.4 266.9h0.8M126.5 265.1h0.8M78.9 268.1h0.8M91.2 265.1h0.8M119.2 266.6h0.8M150.4 266.6h0.8M84.1 267.6h0.8M66.9 264.8h0.8M133.3 266.9h0.8M147.6 266.8h0.8M99.3 268h0.8M145.7 263.9h0.8M102.8 265.4h0.8M137.2 265.8h0.8M106.9 265.6h0.8M98.2 267.8h0.8M96.3 265.5h0.8M146.3 266.8h0.8M145.3 266.3h0.8M83.7 265h0.8M154.2 264.9h0.8M98.5 265.7h0.8M72.6 266.6h0.8M108.1 267.4h0.8M105.2 266h0.8M105.5 267.3h0.8M95.5 264.5h0.8M99.9 262.6h0.8M96.1 265.9h0.8M116.7 266.6h0.8M86.9 266h0.8M100.5 265h0.8M104.3 266.7h0.8M141.9 267.5h0.8M117.7 265.9h0.8M105.1 265.3h0.8M121.9 265h0.8M118.6 268.4h0.8M136.3 265.8h0.8M121.2 266.8h0.8M154.6 266.7h0.8M143 266.8h0.8M106.9 265h0.8M97.2 267.4h0.8M130.9 266.8h0.8M121.4 266.6h0.8M105.5 267.4h0.8M69.6 266.1h0.8M60.4 266.6h0.8M117.1 265.4h0.8M128 266.8h0.8M128.9 265.3h0.8M74.5 266.8h0.8M135 264.8h0.8M94.1 266.2h0.8M118.1 265.6h0.8M118.8 265.9h0.8M87.1 266.5h0.8M92.6 266.1h0.8M84.2 266.2h0.8M61.1 265h0.8M119.4 267.4h0.8M109.6 265.4h0.8M131.8 265.7h0.8M117.3 265.1h0.8M91.5 267.4h0.8M117 265h0.8M97.8 266.9h0.8M123.8 267.4h0.8M116.2 268.1h0.8M82.3 267.5h0.8M108.1 266.9h0.8M109.4 264.7h0.8M100 267.8h0.8M131.3 267.2h0.8M152.5 266.4h0.8M98.4 267.2h0.8M98.9 266.4h0.8M104.6 265.6h0.8M96.7 267.5h0.8M115.5 267.7h0.8M123.4 264.8h0.8M88.9 267.3h0.8M98.3 266.6h0.8M82.9 267.3h0.8M127.8 266.3h0.8M68.5 267.5h0.8M99.9 267.5h0.8M158.7 266.4h0.8M109.3 264.5h0.8M120.2 267h0.8M104.2 266.3h0.8M77.5 265.5h0.8M107.2 267.1h0.8M118.6 264.4h0.8M81.4 267.3h0.8M116.9 268.2h0.8M140.4 265.4h0.8M135.8 266.8h0.8M66.8 267h0.8M82.6 267h0.8M66 265.5h0.8M135.9 266.5h0.8M123.9 266.2h0.8M126.3 266.8h0.8M85.2 266.4h0.8M77.7 267.5h0.8M110 266.5h0.8M110.6 267h0.8M85.8 267.8h0.8M111.7 266.4h0.8M124.8 267.1h0.8M113.9 266.4h0.8M81 266.9h0.8M101.3 265.6h0.8M112.3 267.1h0.8M101.2 267.7h0.8M96.9 266.2h0.8M90 267.2h0.8M126.6 266.5h0.8M106.6 264.9h0.8M111.2 266.6h0.8M82.7 267.7h0.8M91.9 265.8h0.8M112.3 264h0.8M81.9 266.6h0.8M75.3 266h0.8M99.4 268.5h0.8M139.2 265.9h0.8M113 266.2h0.8M145.9 265.3h0.8M104.6 266.5h0.8M99.9 265.6h0.8M71.8 265.8h0.8M93 266.3h0.8M145.3 265.1h0.8M116.5 267.7h0.8M127.1 264.8h0.8M126.3 265.9h0.8M107.8 265.4h0.8M102.7 264.6h0.8M111.1 268.2h0.8M125.5 263.7h0.8M119.9 267.8h0.8M120.8 264.4h0.8M112 266.3h0.8M88 268.7h0.8M101.2 263.8h0.8M83.5 265.2h0.8M134.1 267.2h0.8M102.3 266.5h0.8M170.1 265.2h0.8M99.1 266.3h0.8M78.5 265.7h0.8M107.5 266.4h0.8M141.5 267.2h0.8M103.8 265.8h0.8M123.9 266.2h0.8M110.6 267.7h0.8M98.3 268.6h0.8M189.9 264.9h0.8M109.8 266.6h0.8M94 265.7h0.8M95.3 265.6h0.8M117.9 265.6h0.8M118.6 265.4h0.8M128.1 264.2h0.8M111.7 263.7h0.8M70.8 266h0.8M121.8 266.2h0.8M100 267.7h0.8M100.6 265.7h0.8M69.4 266.5h0.8M93.1 267.1h0.8M89.1 267.1h0.8M107.1 266.1h0.8M70.2 266.5h0.8M109.3 268.5h0.8M111.2 265.8h0.8M78.9 266.1h0.8M91.8 264.7h0.8M85.7 266.8h0.8M131.6 265.7h0.8M99.1 268.5h0.8M64.8 266.4h0.8M96.8 267.2h0.8M130 266.9h0.8M91.6 268.1h0.8M111.6 264.6h0.8M86 267.9h0.8M158.4 265.7h0.8M131.7 265.9h0.8M137.3 265.6h0.8M73.5 266.2h0.8M79.4 266.2h0.8M136.1 263.7h0.8M102.9 266.9h0.8M101.3 266.4h0.8M116.7 265h0.8M75.4 266.5h0.8M128.1 268.4h0.8M108.5 266.7h0.8M120.5 265.6h0.8M90.6 268.2h0.8M121.3 265.2h0.8M89.7 266.2h0.8M132.8 265.4h0.8M137.4 265.7h0.8M131.7 266.7h0.8M121.4 266.7h0.8M124.5 265.2h0.8M129.7 265.9h0.8M100.9 266.4h0.8M110.5 265.7h0.8M100.6 266.2h0.8M71.8 266h0.8M94 265.6h0.8M125.1 266.1h0.8M144.9 265h0.8M91.8 266.8h0.8M84.5 266.3h0.8M145.7 265.1h0.8M85.1 265.8h0.8M161.9 265.3h0.8M109.3 266h0.8M85 266.5h0.8M133.6 265.7h0.8M152 265.1h0.8M70.7 267.7h0.8M148.5 266.5h0.8M100.7 266.4h0.8M146.6 266.6h0.8M98.1 266.7h0.8M67 266.4h0.8M121.1 266.2h0.8M132.1 268.6h0.8M162.5 266.4h0.8M152.8 266.6h0.8M126.1 265.6h0.8M101.8 267h0.8M94.5 268.8h0.8M100.3 266.8h0.8M86.4 267.5h0.8M100.9 267.7h0.8M112.7 266.9h0.8M107.2 268.1h0.8M174.7 265.7h0.8M127.7 266.5h0.8M95.5 265.6h0.8M122.7 269h0.8M76.1 266.8h0.8M92.3 266.5h0.8M59.4 267.7h0.8M145.3 265.4h0.8M123.4 266h0.8M77.4 265.8h0.8M106.4 266.2h0.8M132.7 265.6h0.8M120.9 266.7h0.8M117.9 266h0.8M85.7 265.8h0.8M91.4 266.1h0.8M110.5 266h0.8M131.9 265.5h0.8M86.4 267.3h0.8M78.8 267.1h0.8M137.7 266h0.8M83.8 265.3h0.8M136 266.4h0.8M114.3 264.6h0.8M130.9 266.2h0.8M153.4 265.8h0.8M125.9 265.4h0.8M128.2 265.1h0.8M84.1 265.8h0.8M89.9 268.5h0.8M124.7 265.7h0.8M147.9 265.6h0.8M144.2 266.6h0.8M168.2 265.9h0.8M116.1 267.4h0.8M113.3 264.7h0.8M134.2 264.9h0.8M108.5 270.2h0.8M106.4 266.2h0.8M80.8 266.2h0.8M133.8 266.1h0.8M80.1 267.3h0.8M121.3 264.7h0.8M71.1 266.8h0.8M136.5 265.9h0.8M81.3 267.1h0.8M129.9 266.2h0.8M66.7 266.2h0.8M96.6 265.4h0.8M138.6 263.7h0.8M87.1 267.4h0.8M109.7 264.4h0.8M95.6 265.9h0.8M116 268.1h0.8M119.2 265.6h0.8M79.2 267h0.8M122.9 265.8h0.8M87.3 267.1h0.8M81.9 266.5h0.8M108.2 265.6h0.8M90.3 267.7h0.8M167.6 265.4h0.8M67.6 265.6h0.8M127.2 265.7h0.8M133.7 266.5h0.8M56.5 265.9h0.8M63 267.2h0.8M122.6 266.9h0.8M95.5 268.6h0.8M118 265.4h0.8M137.6 266.5h0.8M98.3 264.4h0.8M80.3 266.1h0.8M113.3 266.3h0.8M83.9 266.8h0.8M116.1 266.1h0.8M114 266h0.8M72 266.1h0.8M152.8 265.4h0.8M136.2 266.2h0.8M130.1 266.5h0.8M77.2 267h0.8M97.4 267.4h0.8M93.8 267.6h0.8M97.2 264.3h0.8M78.8 266h0.8M119.3 265.9h0.8M114 265.4h0.8M117.5 267.3h0.8M94.8 267.1h0.8M141.6 265.8h0.8M112.9 266.3h0.8M91.4 267.7h0.8M106.5 265.8h0.8M133.1 265.6h0.8M100.2 267.3h0.8M101.5 266.8h0.8M90.8 267.8h0.8M125.3 266.4h0.8M96.4 267.1h0.8M92.3 265.8h0.8M88.7 265.5h0.8M122.5 266h0.8M94.1 263.5h0.8M64.4 266.9h0.8M124.2 267.1h0.8M89.8 266.5h0.8M117.3 265.9h0.8M117.7 267.4h0.8M139.3 265.8h0.8M135.2 266.8h0.8M93 268.7h0.8M103.7 267.1h0.8M74.4 267.3h0.8M151.6 266.1h0.8M119.5 266.4h0.8M144.3 266.1h0.8M99.7 266.4h0.8M147.8 266.7h0.8M110.4 264.2h0.8M111.5 265.8h0.8M109.4 267h0.8M124.8 265.1h0.8M121.9 265.9h0.8M66.6 266.1h0.8M136.3 266.3h0.8M94.2 267.3h0.8M95.9 267.9h0.8M152.9 266.1h0.8M131.9 265.3h0.8M99.2 266.6h0.8M59.7 267.1h0.8M112.2 267.8h0.8M122 263.7h0.8M105.9 266.7h0.8M75.6 265h0.8M87.4 267.1h0.8M75.4 266.9h0.8M113.6 266.7h0.8M129.3 266.9h0.8M134.7 266.3h0.8M89 265.7h0.8M114.1 266.6h0.8M122.4 267.4h0.8M94.7 266.2h0.8M104.1 266.3h0.8M163.2 264.8h0.8M113.3 267.5h0.8M131 265.5h0.8M96.7 265.5h0.8M109.1 265.7h0.8M63.4 266h0.8M107.3 265.9h0.8M139 267h0.8M162.6 266.2h0.8M139.1 267.1h0.8M125.9 267.6h0.8M109.4 265.1h0.8M92.4 266.9h0.8M103.8 268h0.8M123.9 268.5h0.8M87.6 265h0.8M132.3 264.6h0.8M82.4 266.9h0.8M61.7 266.4h0.8M81.7 265.6h0.8M64.7 266.9h0.8M72.3 265.9h0.8M137.4 263.9h0.8M102.8 266.2h0.8M113.7 266.3h0.8M138.1 266.5h0.8M140.7 266.7h0.8M94.9 266.5h0.8M142.5 265.6h0.8M118 265.3h0.8M108.1 264.2h0.8M119.5 265.6h0.8M70.9 267.3h0.8M87.6 267h0.8M105.2 268.6h0.8M123.9 265.9h0.8M98.3 264.3h0.8M104.7 267.2h0.8M133.2 266.9h0.8M144.7 264.9h0.8M127.9 264.3h0.8M141 266h0.8M97.5 267.1h0.8M100 265h0.8M116.3 265.7h0.8M100.2 265.4h0.8M94.8 265.1h0.8M151 264.7h0.8M102.8 266.4h0.8M82.9 266.1h0.8M120.7 265.3h0.8M155.7 263.8h0.8M110.1 268.3h0.8M140 265h0.8M96.6 266.2h0.8M95.2 265.1h0.8M90.1 266.7h0.8M104.3 264.5h0.8M155.7 265.8h0.8M78 266.3h0.8M150.6 266.5h0.8M81.8 265.5h0.8M101.9 265.5h0.8M129.7 265.7h0.8M124.4 268.3h0.8M115.3 264.4h0.8M65.1 266.8h0.8M117.4 265.3h0.8M81.4 266.7h0.8M174.8 266h0.8M102.5 266.4h0.8M112.9 266.4h0.8M78.2 266.7h0.8M95.5 265.7h0.8M74.4 266.3h0.8M133.5 264.3h0.8M101.2 265.8h0.8M122.6 265.2h0.8M90.2 266.1h0.8M95 267.1h0.8M141.5 266.2h0.8M82.7 266.9h0.8M61.2 267.5h0.8M118.6 263.3h0.8M78.3 266.8h0.8M96.6 266.3h0.8M131.7 265.8h0.8M86.7 265.1h0.8M130.8 266.5h0.8M90.3 267.5h0.8M146.8 266.6h0.8M142.5 265.8h0.8M95.7 267h0.8M102.5 267.3h0.8M86.4 268.1h0.8M113.2 267.6h0.8M137.9 266h0.8M70.4 266.6h0.8M131.9 266.1h0.8M73.6 266.7h0.8M85.6 265.9h0.8M61.5 267.2h0.8M162.7 265.1h0.8M109.5 265.2h0.8M114.4 266.5h0.8M90.4 265.8h0.8M135.7 265.7h0.8M108.7 263.7h0.8M165.4 266.2h0.8M98.1 266.3h0.8M108.4 266h0.8M125.5 266.5h0.8M86.9 266.6h0.8M108.6 265.3h0.8M133 267.8h0.8M113.1 265.6h0.8M117.6 267.2h0.8M98.9 268.3h0.8M116.2 265.4h0.8M109.4 266.3h0.8M145.8 265.1h0.8M126.8 267.1h0.8M101.7 265.9h0.8M126.6 264.8h0.8M127.6 267.3h0.8M84.2 267.3h0.8M56 266h0.8M78.3 267.5h0.8M132.1 266.1h0.8M80.3 268.8h0.8M96.1 268.2h0.8M113.7 265.5h0.8M139.8 265.6h0.8M107.5 265.1h0.8M105.4 266.4h0.8M93.7 266.4h0.8M150.4 266.3h0.8M135.7 266h0.8M105.5 264.5h0.8M71.7 265.9h0.8M87.5 267.7h0.8M123.1 267.3h0.8M89.2 266.2h0.8M131.2 265.8h0.8M117.4 265.9h0.8M115.6 266.1h0.8M125 264.2h0.8M121 267h0.8M85.8 265.8h0.8M99.5 266.4h0.8M168.8 263.7h0.8M76.6 266.7h0.8M95.7 267.7h0.8M135.7 263.8h0.8M103.9 268h0.8M86.9 266.8h0.8M73.6 265.9h0.8M121.9 264.3h0.8M134.5 267h0.8M144.4 266h0.8M109.4 266.9h0.8M135.2 265.6h0.8M81.1 265.7h0.8M112.4 267.2h0.8M90.4 265.4h0.8M112.5 267.2h0.8M127.5 264.2h0.8M135.8 265h0.8M82.3 265.1h0.8M141 267h0.8M95.7 264.4h0.8M81.3 265.4h0.8M103.6 267h0.8M70 266.7h0.8M108.1 268.8h0.8M115.5 268.3h0.8M102.8 266.9h0.8M121.9 266.8h0.8M99.8 264.2h0.8M108.1 265.1h0.8M70.5 266.3h0.8M109.1 265.9h0.8M85.9 265.1h0.8M96.3 265.3h0.8M105.6 265.2h0.8M113 267.4h0.8M65.2 266.9h0.8M67.4 266.3h0.8M100.1 265.9h0.8M120.3 266.4h0.8M117.4 265.3h0.8M131.2 265.7h0.8M141.8 264.4h0.8M120.9 266.8h0.8M107.5 267.3h0.8M81.2 266.8h0.8M83.4 266.9h0.8M95.9 266.7h0.8M115 268.5h0.8M113.7 266.4h0.8M108.1 264.6h0.8M104 265h0.8M124.4 266.8h0.8M113.4 267.4h0.8M115.7 267h0.8M116 267.1h0.8M93.8 266.5h0.8M81.2 265.1h0.8M120.8 265.2h0.8M118.8 264h0.8M102.3 265.8h0.8M97.2 264.8h0.8M167.2 265.6h0.8M88.3 266.2h0.8M102.3 264h0.8M114.9 267h0.8M78 267.1h0.8M111 264.5h0.8M154.7 265.8h0.8M132.3 266.6h0.8M124.4 265.7h0.8M123.4 267h0.8M110.9 266.4h0.8M132.9 267h0.8M103.9 266.4h0.8M97 266.1h0.8M110.7 266.7h0.8M131.5 266.7h0.8M116.6 266.4h0.8M125.5 265.5h0.8M139 265.5h0.8M168.9 265.1h0.8M142.7 266h0.8M99.7 266.4h0.8M85.9 266.3h0.8M115.2 266.1h0.8M82.3 266.6h0.8M126.9 267.6h0.8M94.3 267.6h0.8M133 265.4h0.8M143.4 266.2h0.8M115.6 266h0.8M89.8 266.1h0.8M71.3 266h0.8M91.9 264.9h0.8M102.3 263.3h0.8M134.9 266.1h0.8M68.4 267.5h0.8M135.3 265h0.8M160.5 266h0.8M123.5 265.6h0.8M122.2 266.3h0.8M107.7 265.2h0.8M77.4 266.3h0.8M121.9 265.9h0.8M118 263.3h0.8M127 266.2h0.8M174.8 265.4h0.8M126.9 263.3h0.8M119.1 266.8h0.8M148.6 265.7h0.8M73 266.7h0.8M78.3 266.8h0.8M98.2 265.8h0.8M91 265.2h0.8M126 265.5h0.8M99.7 265.7h0.8M153.2 267.4h0.8M147.5 267.2h0.8M128 265.4h0.8M98 265.8h0.8M124 266.3h0.8M129.1 266.5h0.8M80.3 265.8h0.8M117.1 264.9h0.8M126.4 268h0.8M113.6 267.4h0.8M148.8 264.5h0.8M139.6 264.3h0.8M86.5 265.6h0.8M111.2 266.4h0.8M86.3 266.9h0.8M123.1 265.6h0.8M85.5 264.8h0.8M132 266.1h0.8M118.1 266.7h0.8M133.2 265.9h0.8M104.2 265.6h0.8M70.1 267h0.8M153.9 265.6h0.8M103.5 264.8h0.8M143.8 265.9h0.8M119.2 264.5h0.8M125.5 267h0.8M155.6 266h0.8M116.8 264.9h0.8M144.4 266h0.8M69.4 267.5h0.8M130.6 263.7h0.8M101.7 266h0.8M104.5 268.1h0.8M108.2 264.2h0.8M117 265.8h0.8M151.1 264.6h0.8M59.8 266.6h0.8M109.1 263.2h0.8M89.4 264.7h0.8M138.3 265.4h0.8M97 266.4h0.8M119.9 266.5h0.8M97.7 266.7h0.8M125.4 267.2h0.8M134.4 266.5h0.8M97.7 267.1h0.8M109.3 264.9h0.8M71.1 266.4h0.8M115.9 269.9h0.8M130.3 268.2h0.8M93.6 267.2h0.8M137.1 266.5h0.8M59.9 267.4h0.8M71.9 266.2h0.8M95.4 268.4h0.8M108.5 265.7h0.8M105.9 266.1h0.8M106.3 268.8h0.8M126.8 263.7h0.8M95.7 266.7h0.8M75.1 265h0.8M75.7 265.9h0.8M162.9 265.5h0.8M103.4 265.8h0.8M145.9 265.9h0.8M120.6 265.1h0.8M86.4 266.3h0.8M108.1 264.7h0.8M130.5 265.5h0.8M139.4 264.6h0.8M84.6 267h0.8M127.8 264.6h0.8M114.6 266.9h0.8M136.7 265.5h0.8M144.2 265.5h0.8M99.1 267.6h0.8M70.3 266.6h0.8M118.3 263.8h0.8M154.2 266.1h0.8M125.8 262.8h0.8M114 266.4h0.8M170.4 265.2h0.8M81 265.1h0.8M131.5 266h0.8M93.2 266h0.8M109.3 268.6h0.8M110.3 265.6h0.8M147.4 267.4h0.8M83.7 267.7h0.8M94.1 265.6h0.8M66.6 265.9h0.8M120.7 267.6h0.8M96.1 266.1h0.8M119 266.2h0.8M80.1 266.2h0.8M98.7 264.8h0.8M135 265.5h0.8M103.5 265h0.8M124.3 264.3h0.8M121.7 265.7h0.8M98.8 268.3h0.8M67.4 267.8h0.8M133.6 265.8h0.8M112.4 266.3h0.8M133.6 266.4h0.8M65 266.8h0.8M85.2 265.9h0.8M135.1 265.5h0.8M122.7 267.3h0.8M107.1 269.4h0.8M111.4 265.3h0.8M127.8 263.7h0.8M100.1 267.2h0.8M118.3 265.9h0.8M111.6 266.3h0.8M98 267.7h0.8M143.3 265.8h0.8M97.7 264.7h0.8M104.3 263.8h0.8M92.2 266.2h0.8M95.4 265h0.8M137.2 266.1h0.8M101 264.7h0.8M81.4 266.1h0.8M93.1 264.7h0.8M56.9 266.4h0.8M60.6 266.3h0.8M128.7 266.6h0.8M126.4 267.4h0.8M58.2 266.5h0.8M130.1 265h0.8M119.9 268.3h0.8M87.6 266.7h0.8M127.1 266.6h0.8M65.7 267.1h0.8M76.7 267.7h0.8M70.6 267.3h0.8M79.1 267h0.8M130.8 266.7h0.8M73.3 265.8h0.8M78.1 265.9h0.8M83.3 266.3h0.8M113.1 266.2h0.8M99.2 266.2h0.8M130.4 266.2h0.8M89.5 266.4h0.8M74.5 266.1h0.8M94.9 264.5h0.8M108.9 267.2h0.8M83.7 266.9h0.8M115.1 265h0.8M155.1 266.1h0.8M92.7 266.7h0.8M108.9 266.2h0.8M142.9 264.2h0.8M90.9 265h0.8M85.7 265.8h0.8M79.3 267.9h0.8M118 265h0.8M121 265.6h0.8M103.8 264.8h0.8M108.7 265.5h0.8M140.7 266.1h0.8M130.1 263.8h0.8M71.1 264.2h0.8M107.2 267h0.8M110.2 266.2h0.8M126.1 265.3h0.8M101.6 267.4h0.8M90.6 267.3h0.8M95.4 263.9h0.8M61.1 266.5h0.8M106.6 267.5h0.8M91.8 265.6h0.8M119.4 265.7h0.8M80.6 267.3h0.8M95.9 266h0.8M81.8 265.3h0.8M79.5 265.8h0.8M125.4 264.5h0.8M95 266.9h0.8M118.7 264h0.8M78 267.3h0.8M109.6 264.1h0.8M63.1 266.6h0.8M94.6 264.6h0.8M93.9 265.9h0.8M122.1 267.2h0.8M111.7 267.5h0.8M102.4 267.8h0.8M128.7 265.8h0.8M111.9 266.2h0.8M120.9 266.3h0.8M126.8 266.6h0.8M105.2 265.7h0.8M99.3 267.5h0.8M115.4 266.5h0.8M96 267.6h0.8M116.9 266.6h0.8M135.6 266.5h0.8M129 265.2h0.8M96.9 265.8h0.8M73.5 265.4h0.8M105.4 265.8h0.8M103.6 266h0.8M135.5 266.7h0.8M96.9 264.8h0.8M101.4 270.1h0.8M125.9 265.8h0.8M94.4 267.7h0.8M102.7 267.5h0.8M151.3 263.7h0.8M145.5 265.5h0.8M123.1 267.7h0.8M113.7 263.1h0.8M81.6 267.1h0.8M121.3 264.9h0.8M108.3 265.6h0.8M112.5 266.4h0.8M93.3 264.2h0.8M106.5 266.4h0.8M102 265.4h0.8M115 265.1h0.8M143.8 266.4h0.8M116.2 270.4h0.8M63.7 266.9h0.8M81.6 266.9h0.8M65.7 266.5h0.8M86.2 265.6h0.8M121.3 266.3h0.8M117.2 267.9h0.8M91.2 266.5h0.8M113.7 267.2h0.8M87.1 266.1h0.8M69.9 268.6h0.8M70.3 265.2h0.8M84.5 266.9h0.8M143.6 266.3h0.8M72 266.7h0.8M139 264.8h0.8M141.2 264.8h0.8M102 265.9h0.8M105.5 266.3h0.8M90.8 265h0.8M106.1 264.8h0.8M123.8 266.6h0.8M106.9 267.4h0.8M132.6 265.3h0.8M137.5 265.2h0.8M115.6 265.2h0.8M115.2 269.1h0.8M105.1 266.8h0.8M115.7 266h0.8M77.8 267.3h0.8M117.2 268.8h0.8M112 267.5h0.8M84.3 265h0.8M162.5 265.5h0.8M81.4 266h0.8M84.1 266h0.8M113.9 264.6h0.8M56.4 266.4h0.8M86.1 265.3h0.8M67.1 266.8h0.8M81.6 266.4h0.8M103.2 264.4h0.8M114.9 263.9h0.8M135.3 265.4h0.8M127.5 266.6h0.8M137.4 266.3h0.8M121.9 265.9h0.8M94.5 262.6h0.8M135.5 265.4h0.8M93.9 265.4h0.8M90.7 265.9h0.8M146.3 264.7h0.8M127 265.5h0.8M112.3 265.2h0.8M126.1 269h0.8M129.4 266.7h0.8M71.2 266.3h0.8M104.1 266.1h0.8M76 266.4h0.8M109.7 266.3h0.8M89.1 265.9h0.8M141.8 265.8h0.8M120 267.2h0.8M85.5 267.2h0.8M106.1 266.5h0.8M75.1 267.6h0.8M107.6 266.4h0.8M120.8 264.8h0.8M113.4 263.9h0.8M56.4 266.1h0.8M97.8 266.2h0.8M119.8 266.5h0.8M114.5 267.4h0.8M136.7 265.3h0.8M73.1 265.8h0.8M120.1 266.9h0.8M89.6 267.5h0.8M111.6 265.5h0.8M117.1 266.4h0.8M124.4 267.5h0.8M91.5 266.6h0.8M111.3 266h0.8M76.2 264.6h0.8M69.9 267.6h0.8M120.9 266.8h0.8M105.1 266.3h0.8M64.4 266.2h0.8M84.4 265.2h0.8M107 266h0.8M146.9 265.7h0.8M133.7 267h0.8M127.2 264.6h0.8M60.1 267.7h0.8M104 266.2h0.8M118.9 267.4h0.8M116.7 264.8h0.8M117.3 266.5h0.8M100.4 267.7h0.8M152.2 265.8h0.8M144.9 264.5h0.8M104 265.8h0.8M81 266.9h0.8M159.9 264.5h0.8M92.1 264.7h0.8M137.6 266.1h0.8M156.1 264.9h0.8M82 267h0.8M114 264.6h0.8M97.4 264.1h0.8M119.9 265.1h0.8M114.8 267.9h0.8M157.1 265h0.8M121.8 266h0.8M106.3 266.4h0.8M135.7 264.9h0.8M99.4 267.5h0.8M97 266.4h0.8M164.7 265.9h0.8M85.1 264.7h0.8M93.8 264.3h0.8M107.6 262.7h0.8M79 266.3h0.8M133.9 265.6h0.8M86.1 267.1h0.8M92.4 267.9h0.8M96.8 265.9h0.8M81 266.2h0.8M78.5 266.8h0.8M110.7 268h0.8M168.8 264.9h0.8M125.6 266.7h0.8M125.9 265.7h0.8M67.3 266.3h0.8M105.8 267.2h0.8M75.7 265.8h0.8M126.5 264.8h0.8M100.5 267h0.8M107.5 266.1h0.8M104.2 265.8h0.8M91.3 266.2h0.8M66.9 266.9h0.8M121.5 265.6h0.8M70.5 267.1h0.8M75.8 266.8h0.8M98.7 268h0.8M88.1 267.6h0.8M113.3 267.1h0.8M132.7 265.7h0.8M112.9 266.2h0.8M111.6 265.3h0.8M107.1 269.7h0.8M128.8 265.7h0.8M58.5 267.1h0.8M116 267.7h0.8M82.2 265.1h0.8M74.4 265.8h0.8M106.6 265.7h0.8M96.4 265.1h0.8M121.6 264.5h0.8M135.1 265.4h0.8M104.6 267.8h0.8M157.4 266.2h0.8M129 266h0.8M144.1 265.8h0.8M109.1 264h0.8M69.1 267.1h0.8M77.2 266.8h0.8M125 264.7h0.8M131.4 266.1h0.8M87.4 266.1h0.8M99.5 265.6h0.8M113.3 264.8h0.8M61 266.1h0.8M97.4 265.1h0.8M148.5 266.1h0.8M163.3 265.9h0.8M103.7 266.6h0.8M154.1 265.5h0.8M92.8 265.8h0.8M85.4 268.4h0.8M131.4 264h0.8M96.7 267.6h0.8M167.3 265.8h0.8M115.1 266.1h0.8M111.4 265.5h0.8M59.5 266.5h0.8M145.5 264.8h0.8M97.1 264.6h0.8M102.3 266.1h0.8M130.6 264.2h0.8M132.2 266.8h0.8M90.7 267.5h0.8M108.9 261.8h0.8M116.7 264.1h0.8M131.5 266.2h0.8M109.2 266.4h0.8M151.3 265.8h0.8M100.2 266.7h0.8M90.8 267.1h0.8M94.4 267.2h0.8M85.6 268.1h0.8M132.7 265.9h0.8M113.4 267.2h0.8M85.3 264.8h0.8M115.6 265.9h0.8M99.2 264.8h0.8M120.2 267.7h0.8M124.7 268.6h0.8M86.4 266.9h0.8M130.3 264.6h0.8M155.2 265.6h0.8M95.5 266.3h0.8M125.9 266.2h0.8M66.1 267.4h0.8M122.5 262.9h0.8M107.7 267.8h0.8M111.8 265.5h0.8M91.5 265.7h0.8M99 267.9h0.8M127.7 265.7h0.8M151.3 264.6h0.8M101 264.6h0.8M63.7 266.6h0.8M139.8 266.7h0.8M122.3 267.7h0.8M124.4 265.8h0.8M111.4 265.5h0.8M167.1 266.8h0.8M108.6 265.6h0.8M120 267.8h0.8M58.5 266.8h0.8M91.6 266.6h0.8M88.8 266.1h0.8M105.9 266.5h0.8M115.7 265.5h0.8M87.2 265.7h0.8M151.7 265.6h0.8M79 265.9h0.8M94.9 266.6h0.8M112.9 266.2h0.8M74.1 266.3h0.8M121.5 265.8h0.8M123.1 265.7h0.8M99.1 268.3h0.8M156.3 265.7h0.8M108.8 265.4h0.8M114 265.7h0.8M81.7 267h0.8M63.1 266.4h0.8M90.3 266.2h0.8M98.3 265.9h0.8M94.8 266.5h0.8M126.7 266.4h0.8M77.2 266.8h0.8M59.2 265.4h0.8M141.6 264.9h0.8M92 263.5h0.8M93.3 267.2h0.8M78 267.4h0.8M130.1 267.3h0.8M96 266.4h0.8M112.5 267.5h0.8M137.2 265.8h0.8M117 265.9h0.8M121 264.2h0.8M138.9 265.1h0.8M101.7 265.5h0.8M102.3 267.3h0.8M125.4 267.8h0.8M117.8 265.5h0.8M100.3 266.7h0.8M107.9 266.5h0.8M93.6 265.4h0.8M125.3 264h0.8M131 265.1h0.8M106.9 264.4h0.8M155.6 265.4h0.8M66.7 266.5h0.8M100.7 266h0.8M151.3 265.6h0.8M95.8 266.8h0.8M65.1 265.8h0.8M143.1 266.6h0.8M121 264h0.8M75.6 266.5h0.8M126.9 266.4h0.8M80.1 265.7h0.8M71.8 265.2h0.8M102.8 267h0.8M94.2 265.5h0.8M78.1 267.1h0.8M97.2 267.1h0.8M80.6 266.4h0.8M108.3 266.1h0.8M106.2 267.4h0.8M126.2 266.4h0.8M94.9 265.2h0.8M72.1 266.6h0.8M72.4 267h0.8M100.4 266.5h0.8M146.8 265.9h0.8M128.9 265.8h0.8M90.1 266.2h0.8M131.3 264.9h0.8M76.5 265.2h0.8M133.2 267h0.8M96.8 265.5h0.8M126.8 266.2h0.8M123 264.3h0.8M99.5 266.4h0.8M115.3 265h0.8M79 269.1h0.8M104.9 264.9h0.8M135 264.9h0.8M125.1 267h0.8M109.1 267.5h0.8M80.4 264.5h0.8M134.4 266.1h0.8M63.6 267.3h0.8M85.9 265.2h0.8M116.1 266.9h0.8M75.4 266h0.8M147 264.9h0.8M135.3 265.5h0.8M92 265.8h0.8M92.3 264.8h0.8M72.4 268.4h0.8M70.3 266.2h0.8M118.3 265.1h0.8M123.1 267h0.8M116 266h0.8M113.7 267.7h0.8M92.2 266h0.8M116.2 266.5h0.8M68.4 266.6h0.8M107 266.4h0.8M145.2 265.6h0.8M141.3 265.7h0.8M94.7 268.1h0.8M98.1 265.4h0.8M142.7 265.3h0.8M153.4 265.4h0.8M67.8 267h0.8M95.7 266.7h0.8M112.9 267.2h0.8M138.6 264.6h0.8M84.9 266.6h0.8M123.6 265.8h0.8M99 265.9h0.8M168.8 265.7h0.8M118 263.7h0.8M103.3 266.5h0.8M98.1 266.4h0.8M134.4 264.5h0.8M124.5 265.9h0.8M78.6 267.8h0.8M112.5 265.6h0.8M71.9 267h0.8M87.1 266.1h0.8M73 265.8h0.8M72.2 265.7h0.8M88.9 265.9h0.8M81.2 267.6h0.8M120.6 267h0.8M127.6 265.2h0.8M100.6 267.4h0.8M77.6 266.3h0.8M127.8 265.2h0.8M56.4 267h0.8M125.8 265h0.8M124 264.2h0.8M132.3 267.2h0.8M101.2 264h0.8M73.9 266.9h0.8M93.5 264.6h0.8M121.6 266h0.8M86.8 266.2h0.8M88.5 265.9h0.8M70.4 264.8h0.8M76.4 266.4h0.8M128.9 265.9h0.8M118.7 265h0.8M76.5 266.4h0.8M78.6 267.3h0.8M92.2 265.5h0.8M121.1 266.3h0.8M76.3 265.5h0.8M102.4 266.7h0.8M74 267h0.8M117.8 269h0.8M130.3 266.9h0.8M76.6 266.8h0.8M86.6 267.7h0.8M127.7 264.9h0.8M96.7 267.5h0.8M92.7 265.7h0.8M120.4 265.3h0.8M112 267.4h0.8M135.9 266.1h0.8M127.6 267.4h0.8M91.8 264.8h0.8M103.7 266.5h0.8M105.3 265.5h0.8M71.5 266.3h0.8M81.4 264.7h0.8M132.2 266.8h0.8M65.4 266.7h0.8M132.8 264.9h0.8M68.4 265.5h0.8M96 265.3h0.8M62.6 267.7h0.8M86.3 266.3h0.8M97.4 265.9h0.8M61.9 267h0.8M89.7 266.3h0.8M67.3 266.7h0.8M57.7 267.2h0.8M74.4 266.8h0.8M86.5 267.2h0.8M67.8 265.6h0.8M97.8 266.3h0.8M67.1 266.7h0.8M70.4 266.5h0.8M71.7 266h0.8M68.5 266.3h0.8M56 267.4h0.8M64.4 266.2h0.8M66.8 265.6h0.8M85.3 267h0.8M72 267.3h0.8M87.5 266.1h0.8M74.9 266.6h0.8M70.3 265.9h0.8M62.2 266.5h0.8M65.3 267.4h0.8M95.6 267.2h0.8M75.5 266.6h0.8M69.1 266.3h0.8M64.8 265.3h0.8M94.4 266.6h0.8M86.7 266.8h0.8M86.3 267.4h0.8M91.2 268.4h0.8M65.9 266.9h0.8M87.9 267.3h0.8M58.2 265.8h0.8M84.9 267.5h0.8M69.5 267.2h0.8M84.8 267.7h0.8M65.2 267.1h0.8M70.9 266.9h0.8M85.2 267.8h0.8M97.3 265.5h0.8M70.3 267.1h0.8M62.6 267.4h0.8M60.6 266.1h0.8M85.2 265.3h0.8M95.2 266.8h0.8M70.5 267h0.8M62.6 267.1h0.8M98 265.4h0.8M61 266.9h0.8M58.1 267.5h0.8M89.6 266h0.8M100 265.9h0.8M89.8 265.2h0.8M60.2 267.3h0.8M73.4 268.1h0.8M78.4 265.3h0.8M95.4 267.1h0.8M88.9 267.3h0.8M57.7 266.3h0.8M75.4 266.2h0.8M90 265.3h0.8M79.4 265.8h0.8M85 266.6h0.8M98.5 267h0.8M99 266.4h0.8M92.7 267.2h0.8M80.7 266.6h0.8M68.8 265.7h0.8M62.2 267.7h0.8M62.5 267.5h0.8M83.8 265.8h0.8M89.8 268.2h0.8M93.6 266.8h0.8M96.1 266.5h0.8M68 268.1h0.8M70.1 264.6h0.8M63.8 265.4h0.8M79.5 267.1h0.8M97.6 266h0.8M89.1 265.4h0.8M74.7 267.8h0.8M62.2 267h0.8M92.9 265h0.8M95.3 265.6h0.8M89.6 267.2h0.8M68.1 268h0.8M72.6 264.9h0.8M81.3 266.7h0.8M96.3 265.9h0.8M65.9 265.3h0.8M73.9 266.4h0.8M57.7 265.5h0.8M66 267.9h0.8M91.4 266.9h0.8M85.4 267.2h0.8M76.5 267h0.8M73.4 266.8h0.8M66.9 267.4h0.8M89.5 265.2h0.8M76.9 266.2h0.8M58.2 267.3h0.8M83.2 265.8h0.8M99.7 265.8h0.8M58.3 267.6h0.8M99.9 268.1h0.8M59.5 266.2h0.8M68.8 265.9h0.8M98.9 267h0.8M98.7 266.6h0.8M63.3 266.1h0.8M87.4 267h0.8M82.6 267h0.8M72.9 266.6h0.8M90.3 269.4h0.8M83.6 267.7h0.8M65.1 267.3h0.8M77.1 267.4h0.8M86.9 269.3h0.8M83 267.5h0.8M79.4 265.9h0.8M88.2 266.7h0.8M61.1 266.7h0.8M56.9 266.3h0.8M56.5 266.9h0.8M82.9 266.7h0.8M74.6 266.5h0.8M92.6 265.9h0.8M98.7 267.3h0.8M60 265.5h0.8M72 267.2h0.8M73.9 266.6h0.8M79.6 266.7h0.8M95.9 263.7h0.8M82 268h0.8M68.7 265.2h0.8M84.8 265.6h0.8M69.8 267.1h0.8M80 266h0.8M59.4 266.4h0.8M80.4 264.5h0.8M76.5 266.2h0.8M84 266.7h0.8M80.5 267.1h0.8M80.8 266.2h0.8M88.2 266.6h0.8M61 267h0.8M88.8 265.7h0.8M83.1 265.8h0.8M86 268.3h0.8M73 265.9h0.8M58.8 267.6h0.8M96.5 266.4h0.8M92.2 267.9h0.8M98.9 265.6h0.8M75.7 267h0.8M94.8 266.7h0.8M94.2 266.1h0.8M79.7 266.8h0.8M95.5 265.5h0.8M91.7 266.3h0.8M59.6 266.4h0.8M61 267.3h0.8M73.3 266.5h0.8M79 265.3h0.8M84.4 266.1h0.8M80.4 266.4h0.8M94.4 265.4h0.8M91 267.8h0.8M59.6 267h0.8M70.3 267.3h0.8M95 265.5h0.8M89 266h0.8M83.2 265.1h0.8M60.7 267h0.8M77.7 266.6h0.8M99.7 265.7h0.8M58.4 266.8h0.8M92.1 265.2h0.8M76.8 266.7h0.8M99 264.9h0.8M93.7 265h0.8M57.9 267.8h0.8M83.9 265.8h0.8M93.7 264.1h0.8M67.6 267.4h0.8M86.7 265.7h0.8M66.4 263.9h0.8M64.2 266.6h0.8M69.9 267.3h0.8M68.2 266.9h0.8M98.3 268.3h0.8M65.6 266.5h0.8M74.1 267h0.8M76.9 265.7h0.8M86.1 266.6h0.8M98.6 268.1h0.8M82.6 266.9h0.8M93.7 266.5h0.8M60.9 265.2h0.8M84.8 266.1h0.8M62.8 265.7h0.8M94.2 267.2h0.8M81.8 265.8h0.8M61.1 266.9h0.8M93.3 265.3h0.8M78.6 268.2h0.8M76.9 265.5h0.8M58.7 266.8h0.8M95.8 269.3h0.8M78.1 266.7h0.8M93.9 265.4h0.8M58.4 267.2h0.8M85.6 267.4h0.8M71.9 267.3h0.8M79.1 264.8h0.8M83.1 266.7h0.8M92.2 264.1h0.8M96.5 268.5h0.8M62.5 266.7h0.8M93.7 265.9h0.8M60.3 267.2h0.8M68.6 265.7h0.8M67.8 267.9h0.8M89.7 266.2h0.8M80.2 264.9h0.8M72.5 267.7h0.8M90.6 268h0.8M97.1 267.8h0.8M83.9 267h0.8M84.4 265.6h0.8M93.8 267.4h0.8M68.2 268.1h0.8M99.8 267.3h0.8M62.9 267.9h0.8M57 266.1h0.8M92 267.5h0.8M62.8 267.4h0.8M70.1 265.4h0.8M78.1 265.1h0.8M60 266.1h0.8M74.1 266.6h0.8M70.9 267h0.8M58.9 266.5h0.8M82.1 266.4h0.8M75.3 266.4h0.8M62.2 266.7h0.8M90.5 267h0.8M73.5 267h0.8M56.2 266.7h0.8M94.6 266.6h0.8M73.4 266.2h0.8M59.1 267.3h0.8M68 266.2h0.8M66.5 267.9h0.8M57 266.7h0.8M69.9 266.8h0.8M62.6 266.1h0.8M64.6 266.4h0.8M85.3 266.6h0.8M62.1 266.7h0.8M56 266.3h0.8M63 265.8h0.8M68.3 266.6h0.8M62.4 266.8h0.8M81.9 267h0.8M94.6 267.7h0.8M92.4 266h0.8M76.2 264.8h0.8M90.4 266.3h0.8M90.6 264.5h0.8M83.6 265.2h0.8M91.1 267.5h0.8M72 267h0.8M88.7 265.8h0.8M78.5 266h0.8M88.2 266.3h0.8M88.3 264.6h0.8M58 267.1h0.8M92.5 266h0.8M56.6 268.1h0.8M74.2 265.7h0.8M81.6 267.4h0.8M92.1 265.7h0.8M57.6 267.5h0.8M85.2 265.5h0.8M70.5 267.2h0.8M56.8 266.4h0.8M70 265.9h0.8M83.8 266.3h0.8M58.7 267.1h0.8M93.2 266.8h0.8M56.9 267.9h0.8M65.8 267.3h0.8M69.8 264.5h0.8M57.9 266.4h0.8M96.6 264.1h0.8M98.5 265.9h0.8M95.7 267.1h0.8M63.9 265.6h0.8M92.5 265.1h0.8M70.2 266.7h0.8M68 266.4h0.8M86 268h0.8M58.8 267h0.8M96.9 268.4h0.8M70.9 266.2h0.8M90.8 266.4h0.8M74.2 265.7h0.8M59.2 266.9h0.8M76.4 267.4h0.8M62.7 267.7h0.8M58.6 266.7h0.8M55.9 266.2h0.8M73 265.9h0.8M66.6 265.5h0.8M70.1 266.7h0.8M98.3 267.9h0.8M92.3 263.8h0.8M86.8 264.3h0.8M66 267.7h0.8M88.7 264.8h0.8M86.4 266.8h0.8M78.8 265.4h0.8M65.7 267.3h0.8M64.4 267.3h0.8M73.9 266.7h0.8M67.4 267.3h0.8M94.8 266.4h0.8M76 267h0.8M85.5 268.2h0.8M95.4 267.6h0.8M82.9 265.9h0.8M62.2 266.1h0.8M69.4 266.4h0.8M96.5 266.1h0.8M57.1 266.8h0.8M65 266.2h0.8M82.8 267.1h0.8M93.4 266.4h0.8M91.9 266.8h0.8M87.9 266.4h0.8M86.6 267.1h0.8M71.8 265.6h0.8M57.8 267.9h0.8M83.6 266.8h0.8M58.3 267.1h0.8M90.9 267.1h0.8M60.9 267.5h0.8M56.1 267.3h0.8M100 266.6h0.8M62.5 266.5h0.8M81.2 265h0.8M57.8 266.9h0.8M99.1 266h0.8M86 268.8h0.8M93 264.4h0.8M68.3 266.7h0.8M56.7 267.5h0.8M57.7 267.7h0.8M88.9 265.1h0.8M78.8 265.7h0.8M95.3 267.1h0.8M83.5 266.2h0.8M81.7 268.1h0.8M64.1 266.8h0.8M65.1 266.8h0.8M99 266.9h0.8M97.9 266h0.8M74.7 266.7h0.8M90.8 265.7h0.8M87.4 266.4h0.8M67.5 266.3h0.8M64 266.9h0.8M88.7 265h0.8M98.3 264.6h0.8M99.3 266.9h0.8M71.1 266.8h0.8M57.9 266h0.8M69.4 266.4h0.8M58.1 265.9h0.8M99.4 268.8h0.8M68.8 265.4h0.8M93.1 268.3h0.8M66.1 266h0.8M98.2 266.9h0.8M77 266.3h0.8M92.5 266h0.8M82 267.4h0.8M89.5 267.3h0.8M58.3 266.5h0.8M58.9 266h0.8M71.1 268.3h0.8M94.5 268h0.8M95.9 266.6h0.8M87 266.2h0.8M81.9 266.8h0.8M57.2 266.8h0.8M96.8 267.8h0.8M84.7 265.6h0.8M82.7 266.5h0.8M92.9 265.6h0.8M65.6 267.7h0.8M82.9 268.2h0.8M85.7 266.4h0.8M89 267h0.8M59.3 267.8h0.8M87.8 266.2h0.8M95.6 265.3h0.8M83.3 267.5h0.8M62.6 267.1h0.8M96.3 266.2h0.8M59.6 267.8h0.8M65.4 266.9h0.8M93.5 264.5h0.8M81.5 266.8h0.8M70.1 266.6h0.8M91.2 268.4h0.8M84.1 266.5h0.8M60.3 266.6h0.8M65.4 267h0.8M91.5 266.7h0.8M91.5 264.9h0.8M58.3 266.8h0.8M78.5 266.3h0.8M87.1 267.9h0.8M69.6 268.6h0.8M57.8 265.9h0.8M73.8 265.8h0.8M97.1 265.4h0.8M87.9 265.8h0.8M64.6 266.1h0.8M93 266.5h0.8M85 267.6h0.8M68.1 265.6h0.8M67.1 265.4h0.8M63 265.3h0.8M73.2 267.5h0.8M71.2 267.7h0.8M67.8 265.4h0.8M94.3 264.6h0.8M89.2 266.6h0.8M77.2 267.5h0.8M98.3 267.6h0.8M85.3 266.7h0.8M97.8 267.2h0.8M92.1 266.8h0.8M83.5 266h0.8M86.2 268.4h0.8M89.9 266.4h0.8M89.1 265.3h0.8M94.3 265.9h0.8M70.3 265.4h0.8M71.4 266.6h0.8M66.1 267.5h0.8M96.5 264.9h0.8M95.7 267.7h0.8M74.9 268.4h0.8M73.1 266.9h0.8M61 265.8h0.8M98.9 265.4h0.8M85.2 266.2h0.8M98.4 264.9h0.8M83.4 265.3h0.8M78.1 266.3h0.8M88.7 266.3h0.8M94.9 267.1h0.8M93 265.1h0.8M70.6 268.2h0.8M77.8 267.5h0.8M97.5 267.4h0.8M77.8 266h0.8M91.1 268.3h0.8M78.6 266.2h0.8M92.5 268.4h0.8M58.1 267.6h0.8M59.1 266.4h0.8M74.6 268.2h0.8M71.5 267.4h0.8M98.2 266.2h0.8M99.9 266.6h0.8M61.1 266.9h0.8M92.5 265.6h0.8M77.9 266.4h0.8M92.9 265.7h0.8M71.6 266.3h0.8M89.8 266.9h0.8M76.1 267.2h0.8M70 266.7h0.8M66.3 267.3h0.8M68.5 267.4h0.8M73.9 267.6h0.8M77.3 267.1h0.8M78.6 267.2h0.8M88.1 266.3h0.8M92.2 267h0.8M98.3 265.3h0.8M85.1 266.3h0.8M66.6 267.3h0.8M81 266.5h0.8M74.7 267h0.8M65.6 265.8h0.8M70 267.7h0.8M65.3 266.2h0.8M79.2 266.9h0.8M58 266.7h0.8M79.4 267.4h0.8M73.5 266.3h0.8M67.4 265.1h0.8M98.7 266h0.8M81.1 265.4h0.8M57.9 267.2h0.8M81 267.9h0.8M86.7 264.2h0.8M61.1 265.7h0.8M73.1 266.9h0.8M64.6 267.7h0.8M79.4 266.8h0.8M92 266.8h0.8M65.8 267.1h0.8M61.3 267.2h0.8M61.3 268h0.8M82.6 267.1h0.8M58.1 265.8h0.8M78.7 266.1h0.8M91.5 266.7h0.8M89.5 265.6h0.8M85.2 266.2h0.8M74.4 266h0.8M66 267.2h0.8M78.2 266.2h0.8M61.8 265.9h0.8M61.1 266.2h0.8M97.8 266.4h0.8M94.6 268.8h0.8M59.4 266.9h0.8M92.2 268h0.8M58 267.1h0.8M70.3 264.9h0.8M99.7 266.8h0.8M97.3 265.4h0.8M76 265.4h0.8M86.6 265.4h0.8M72.2 268.1h0.8M93.2 264.7h0.8M69.2 266.1h0.8M64.3 267.6h0.8M61.5 267.2h0.8M83.4 264.9h0.8M80.1 266.4h0.8M95.6 265.8h0.8M61.6 266.6h0.8M91.2 267.2h0.8M97.5 265.7h0.8M88.6 266.1h0.8M60.2 267.9h0.8M61.9 265.3h0.8M59 266.4h0.8M70 267h0.8M89.2 265.2h0.8M61.5 266.2h0.8M75.2 265.4h0.8M57 266.9h0.8M85.5 265.9h0.8M59.4 267.3h0.8M90.7 267.5h0.8M82.6 266.6h0.8M63.6 266.4h0.8M86.4 266.7h0.8M70.7 266.7h0.8M78.6 265.5h0.8M80 267.5h0.8M67.2 266.8h0.8M73.8 267.3h0.8M90.4 265h0.8M93.9 267.4h0.8M93.2 268.7h0.8M80.6 267.1h0.8M94.3 264.8h0.8M61.3 266.7h0.8M99.3 266.3h0.8M57 266.9h0.8M95.5 266.1h0.8M90.6 267h0.8M72.6 266.2h0.8M90.6 266.7h0.8M98.1 265.6h0.8M62.4 266.8h0.8M84.2 267.5h0.8M84.9 267.1h0.8M57.8 266.1h0.8M85 266.1h0.8M56.2 266.6h0.8M73.2 267.6h0.8M94 265.5h0.8M68.8 267.6h0.8M98.6 264.6h0.8M76.2 266.4h0.8M63.2 267.4h0.8M97.1 267.2h0.8M62 265.9h0.8M81.7 265.4h0.8M97.4 267.4h0.8M97.3 264.9h0.8M80 267.1h0.8M64.5 266.3h0.8M77.5 266.5h0.8M68.1 268.5h0.8M69.1 267.9h0.8M69.3 267.3h0.8M64.1 265.6h0.8M56.7 267h0.8M88.8 266.5h0.8M80.8 267.8h0.8M71.5 265.2h0.8M84.3 266.8h0.8M81.1 266.6h0.8M76.6 265.9h0.8M90 268.3h0.8M80.7 265.3h0.8M95.4 266.4h0.8M81.3 266.6h0.8M94.4 263.9h0.8M93.9 264.8h0.8M86.8 265.5h0.8M69.8 267.3h0.8M76.9 267.4h0.8M58.6 267.2h0.8M87.6 266.7h0.8M84.1 264.3h0.8M91.8 266.7h0.8M58.8 266.3h0.8M60.8 267.6h0.8M84.1 267.8h0.8M87.9 268.8h0.8M58.3 267.3h0.8M56.4 267.4h0.8M69.6 265.8h0.8M70.3 266.7h0.8M57.3 265.8h0.8M59.4 267.4h0.8M64.2 265.7h0.8M61.7 266.1h0.8M56.2 266.4h0.8M71.6 267h0.8M88.7 265.9h0.8M84.8 266.7h0.8M82.2 265.5h0.8M76.1 267.8h0.8M63.4 266.2h0.8M57.2 267.5h0.8M63.3 268.4h0.8M97.6 263.5h0.8M91.6 265.3h0.8M80.6 266.3h0.8M82.6 267.6h0.8M88.5 265.9h0.8M92 266.8h0.8M65.9 266.1h0.8M91.1 267h0.8M84.2 265.3h0.8M67.5 267.3h0.8M67.9 264.2h0.8M62.7 265.2h0.8M79.6 268.2h0.8M98.6 266.6h0.8M90.5 265.5h0.8M62.5 268.4h0.8M60.4 267.5h0.8M67.7 267.6h0.8M62.4 266.3h0.8M61.4 267.2h0.8M87.9 267h0.8M69.2 265.3h0.8M80.4 267.1h0.8M69.2 266.5h0.8M99.3 267.9h0.8M81.6 267.7h0.8M61.3 266.2h0.8M90 265.8h0.8M68 266.8h0.8M75.5 267.1h0.8M67.9 266.3h0.8M77 266.4h0.8M68.8 267.1h0.8M69.4 267h0.8M62.1 267.6h0.8M98.2 266.6h0.8M64.3 266h0.8M67.7 265.2h0.8M73.5 267.3h0.8M60.3 266.4h0.8M65.3 266.4h0.8M73.3 266.3h0.8M81.3 265h0.8M79.1 266.2h0.8M71.6 264.4h0.8M85.4 266.1h0.8M88.6 265.5h0.8M66.9 268.1h0.8M65.8 267h0.8M83.1 266.3h0.8M73.5 266.7h0.8M92.4 267.2h0.8M79.4 266.3h0.8M70.7 266.3h0.8M64.6 268.7h0.8M94.1 266.5h0.8M64.8 265.1h0.8M90.5 267.3h0.8M93.4 269.3h0.8M98.5 265.2h0.8M60.2 269.4h0.8M62 266.6h0.8M58.8 267.5h0.8M69.4 266.1h0.8M95.8 266.1h0.8M84 265.3h0.8M62 265.8h0.8M59.8 265h0.8M88.7 267.6h0.8M83 265.4h0.8M81.4 266.8h0.8M63.5 266.1h0.8M68.2 266.7h0.8M59.5 266.6h0.8M99.6 265.7h0.8M75.6 266.6h0.8M82.8 266.5h0.8M64.2 265.8h0.8M71.9 265.5h0.8M84.1 265.6h0.8M88.6 266.6h0.8M95.8 268h0.8M66.1 267.8h0.8M65.8 266.9h0.8M73.1 267.4h0.8M68.9 266.7h0.8M91.9 267.6h0.8M71.7 266.7h0.8M71.8 266.9h0.8M77.6 266.3h0.8M80.4 266.5h0.8M70.9 268.2h0.8M88.1 266.4h0.8M60.2 266.2h0.8M93.4 267.5h0.8M66.1 268.1h0.8M66.5 266.4h0.8M79.1 263.9h0.8M95.8 267.1h0.8M72.1 267.1h0.8M76.6 265h0.8M73.7 266.4h0.8M60 266.6h0.8M68 264.7h0.8M96.3 267.1h0.8M97.3 266.9h0.8M66.5 266.8h0.8M96.4 265.1h0.8M87.3 265.8h0.8M56.2 267.1h0.8M74.2 265.7h0.8M73.6 267.8h0.8M74.6 266.9h0.8M97.4 263.7h0.8M70.9 268h0.8M55.8 266.9h0.8M60 266.3h0.8M88.7 266.5h0.8M60.8 265.2h0.8M57.6 266.9h0.8M63.8 264.7h0.8M99 265.1h0.8M75 267.7h0.8M61.7 267.7h0.8M84.6 266.1h0.8M72 265.7h0.8M79.9 267.4h0.8M99.8 266.2h0.8M86.5 266.7h0.8M79.1 267.1h0.8M99.9 265h0.8M77.8 267.2h0.8M75.4 264.7h0.8M93.3 268h0.8M98.1 264.4h0.8M87.4 265.8h0.8M71.4 266h0.8M73.1 267.2h0.8M65.8 266.9h0.8M90 267h0.8M77 266.9h0.8M93.5 266.3h0.8M85.2 264.5h0.8M80.5 264.3h0.8M91.3 263.8h0.8M77.4 266.5h0.8M85 266.2h0.8M77 266.4h0.8M70.9 266.8h0.8M89.4 266.1h0.8M58.2 265.9h0.8M99 264.5h0.8M98.2 264h0.8M92.4 267.7h0.8M76 267.3h0.8M75.2 265.3h0.8M73.1 266.3h0.8M75.7 266.9h0.8M65 267.9h0.8M91 265.7h0.8M94.6 266.5h0.8M77.5 267.6h0.8M93.4 264.4h0.8M68.1 266h0.8M93.7 266.3h0.8M98.8 265.4h0.8M85.2 268.6h0.8M98.3 267.4h0.8M87.7 266.6h0.8M86.2 265.4h0.8M76.3 267.3h0.8M57.7 267.2h0.8M60.6 266.3h0.8M92.3 265.9h0.8M63.2 265.5h0.8M85.9 266.3h0.8M62.2 267.4h0.8M89 267.5h0.8M98 267h0.8M82.8 267.3h0.8M56.8 266.2h0.8M88.2 265.9h0.8M76.4 267.6h0.8M94 266.9h0.8M61.7 266h0.8M67.6 267h0.8M96.4 267.3h0.8M92.7 267.2h0.8M95.9 266.5h0.8M78.4 266h0.8M85.3 266.8h0.8M97 268.4h0.8M84.7 266.6h0.8M58.9 266.1h0.8M62 266.9h0.8M60 266.9h0.8M56.2 266.5h0.8M72.3 267.4h0.8M82.7 266.5h0.8M93.8 267.6h0.8M73.4 268.6h0.8M62.2 266.5h0.8M95.9 265.3h0.8M96.3 266.9h0.8M99 266.2h0.8M56.1 266.8h0.8M81.6 265.9h0.8M83.4 267h0.8M79 266.5h0.8M63.5 264.9h0.8M96.4 266h0.8M79.1 266.8h0.8M56.7 267.6h0.8M70.6 266.1h0.8M87.7 265.5h0.8M64.1 267.6h0.8M89.9 265.7h0.8M64.4 266.7h0.8M74.5 266.9h0.8M68.2 267.2h0.8M60.7 266.7h0.8M94.8 265h0.8M70.3 267.4h0.8M105.2 256.8h0.8M104 255.1h0.8M139.5 256.2h0.8M123.6 258.2h0.8M96.4 255.8h0.8M104.5 257.8h0.8M107.8 258.1h0.8M100.8 256.1h0.8M84.4 258.2h0.8M122.5 258h0.8M122.2 258.6h0.8M114.7 259.1h0.8M105.6 253.9h0.8M114.3 259.1h0.8M120.2 258h0.8M96.7 259.1h0.8M106.6 255.3h0.8M103.4 259.2h0.8M121 257.6h0.8M114.9 254.5h0.8M93.1 259.3h0.8M102.6 255.7h0.8M136 255.7h0.8M97.7 258.1h0.8M113.4 255.7h0.8M102.4 258.1h0.8M128.7 256.4h0.8M110.3 257.8h0.8M105.1 259.1h0.8M94.8 257.4h0.8M107.8 259.2h0.8M122.8 258.3h0.8M120.6 255.4h0.8M92.7 258.7h0.8M133.1 257.3h0.8M107.8 257.5h0.8M96.5 259.3h0.8M113 260.9h0.8M102.5 258.9h0.8M103.1 254.2h0.8M102.4 258.3h0.8M109.9 256.9h0.8M104.2 256.7h0.8M87.3 258h0.8M118.5 256.3h0.8M103.9 260.8h0.8M127.9 257.1h0.8M118.7 257h0.8M119.8 258.5h0.8M113.7 258.9h0.8M129.3 258.2h0.8M106.6 258.7h0.8M97.3 257.4h0.8M116 257.3h0.8M73.2 256.6h0.8M106 254h0.8M114.2 259.4h0.8M105.3 256.6h0.8M128.7 259h0.8M120.9 260.2h0.8M112.7 254.3h0.8M105.6 258h0.8M126.4 260.9h0.8M101.7 255.8h0.8M105.3 258.2h0.8M121.6 256.5h0.8M119.4 256.5h0.8M139.5 256.3h0.8M108.1 257.2h0.8M84.9 258.4h0.8M120.3 255.4h0.8M128.7 257.4h0.8M108.8 255.6h0.8M132.9 257.2h0.8M135.9 256.9h0.8M101.8 255.8h0.8M104.4 257.6h0.8M93.6 256.5h0.8M118.7 255.3h0.8M121.1 259.1h0.8M119.5 253.4h0.8M93.9 258.3h0.8M100.4 258.8h0.8M91.1 256.9h0.8M88.6 258.8h0.8M92.3 258.8h0.8M89 256.2h0.8M108.5 258.4h0.8M117 258h0.8M119.8 255.6h0.8M110.8 258.5h0.8M101.7 258.9h0.8M110.9 255.5h0.8M119 253h0.8M106.9 258.2h0.8M111.8 255.4h0.8M106.8 253.3h0.8M103.7 256.5h0.8M111.5 251.6h0.8M95.5 257h0.8M125.7 259h0.8M89.3 254.5h0.8M117.4 258h0.8M92.1 256.4h0.8M132 256.3h0.8M123.1 255.4h0.8M99.7 258.6h0.8M104.8 257.3h0.8M95.3 256.3h0.8M110.2 254.1h0.8M116.7 256.1h0.8M146.5 257.1h0.8M92 256h0.8M128.3 257.3h0.8M102.9 258.1h0.8M114.8 252.6h0.8M123.2 258.7h0.8M118.6 256.9h0.8M116.9 261.8h0.8M108.3 261.3h0.8M110.9 256.6h0.8M113.1 256.8h0.8M127.7 255.5h0.8M90.6 255.9h0.8M104.2 259.1h0.8M93.7 257.2h0.8M97.6 256.8h0.8M99.9 257.1h0.8M126.2 257.8h0.8M140.8 257.2h0.8M129.8 256.7h0.8M94.5 257.2h0.8M112 257.4h0.8M95.2 260.7h0.8M117.2 252.7h0.8M128.6 255.3h0.8M119.2 257.9h0.8M123.1 257.1h0.8M109 260.1h0.8M83.7 258.9h0.8M83.5 259.4h0.8M109.6 255.3h0.8M119 258.2h0.8M128.6 256.5h0.8M106.2 259.5h0.8M112 257.6h0.8M114.5 259.1h0.8M125.7 255.7h0.8M110 257.6h0.8M95.8 256.7h0.8M126 256.5h0.8M116.7 256.1h0.8M116.3 254.8h0.8M93.4 259.1h0.8M110.9 257.9h0.8M87.2 258.8h0.8M83.2 256.9h0.8M107.7 252.7h0.8M105 255.9h0.8M118.9 256.7h0.8M131 257.6h0.8M110.5 259.7h0.8M135.8 257.7h0.8M102.8 260.6h0.8M121.6 258.3h0.8M93.4 257.7h0.8M112.7 255.4h0.8M106.6 258.9h0.8M108.1 256.1h0.8M119.2 255.4h0.8M84.9 258.3h0.8M112.6 257.7h0.8M99.7 259.1h0.8M112.6 255.5h0.8M116.4 259.6h0.8M105.9 258.1h0.8M105.8 256.9h0.8M95 256.4h0.8M118.6 254.8h0.8M101.7 254.6h0.8M117.1 260h0.8M91.2 255.8h0.8M129.9 257.5h0.8M96.8 257.1h0.8M127 256h0.8M104.8 256.3h0.8M118.6 256.8h0.8M109 259.4h0.8M120.4 258h0.8M111.1 257.2h0.8M128.6 255h0.8M120.3 253.6h0.8M120.4 260.5h0.8M134.1 255.7h0.8M101.3 254.2h0.8M129 258.2h0.8M112 253.7h0.8M90.5 258.5h0.8M117.6 259h0.8M108.2 257.8h0.8M134.4 257.5h0.8M104.2 254.3h0.8M111.7 254.3h0.8M114.2 256.7h0.8M84.6 257.7h0.8M118 256.8h0.8M97.2 258.3h0.8M130.5 255.9h0.8M134.1 254.6h0.8M110.9 258.1h0.8M89 257.4h0.8M113.5 259h0.8M113.4 261.9h0.8M121 257.1h0.8M106.9 258.6h0.8M94.5 256.2h0.8M109 259.4h0.8M98.2 258.1h0.8M135.5 256.8h0.8M101.2 259.2h0.8M102 255h0.8M110.4 258.5h0.8M93.8 258.2h0.8M104.8 260.9h0.8M109.1 253h0.8M104.2 257.1h0.8M107.5 262.4h0.8M128.2 256.3h0.8M117 256.1h0.8M92.5 260h0.8M105.1 262.9h0.8M121.3 257.2h0.8M102 255.9h0.8M112.1 255.8h0.8M110.6 256.3h0.8M118.3 255.3h0.8M108.5 255.3h0.8M109 257.6h0.8M99.1 257.5h0.8M116 258.1h0.8M98.2 257.5h0.8M135 255.5h0.8M110.7 258.9h0.8M107.9 257.8h0.8M121.9 255.9h0.8M109.8 256.6h0.8M112.2 257.9h0.8M110.3 257.4h0.8M101 257.1h0.8M98.2 258.8h0.8M101.3 259.5h0.8M126.7 256.4h0.8M102.3 257.3h0.8M105.4 254.8h0.8M104.8 256.9h0.8M120.7 257.8h0.8M138.4 257.2h0.8M98.2 257.7h0.8M118.6 256.8h0.8M112.7 255.5h0.8M106.8 257.8h0.8M118 254.8h0.8M93.4 257.7h0.8M122.5 256.9h0.8M114.1 255h0.8M97.2 258h0.8M133 256.4h0.8M122.8 257.9h0.8M127.1 256.1h0.8M90.9 258.2h0.8M107.2 260.9h0.8M103.8 257.7h0.8M119.7 258.5h0.8M129.7 256h0.8M84.7 257.4h0.8M111.3 252.7h0.8M109.3 256.9h0.8M124.8 255.1h0.8M110.4 257.5h0.8M93.4 254.6h0.8M108.3 255.2h0.8M96.7 257.6h0.8M100.3 258.2h0.8M111.6 253.3h0.8M104.4 256.4h0.8M114.9 262.8h0.8M90 258.5h0.8M143 256.5h0.8M128.4 253.2h0.8M120.9 255.2h0.8M93.1 258.3h0.8M81.2 258h0.8M99.1 258.3h0.8M107.8 259.5h0.8M141.8 256.5h0.8M129 257.8h0.8M103.7 253.4h0.8M127.7 260.1h0.8M127.9 256.4h0.8M111.2 255.6h0.8M127.8 258.8h0.8M115.6 258.4h0.8M102 259.4h0.8M94.8 256.6h0.8M109.3 257.9h0.8M124.8 257.9h0.8M92.3 256h0.8M88.8 257.4h0.8M118.6 256.5h0.8M73.5 257.8h0.8M136.2 256h0.8M104.9 254.5h0.8M121.1 257.7h0.8M136.7 256.8h0.8M91 259h0.8M96.5 257.4h0.8M141.9 256h0.8M107.1 253.9h0.8M109.2 257.4h0.8M114.1 256.4h0.8M125.6 259.8h0.8M129.3 259.5h0.8M112.5 260.8h0.8M106.4 255.2h0.8M110.5 253.9h0.8M115.2 256.5h0.8M129.1 255.6h0.8M112.9 260.4h0.8M136.1 256.7h0.8M99.2 256.7h0.8M118.3 257h0.8M135.2 257.7h0.8M128.8 255.6h0.8M115.6 258.1h0.8M98.8 255h0.8M101.2 256.9h0.8M108.8 255.7h0.8M115.3 257.8h0.8M107.6 257.6h0.8M90.9 259.1h0.8M100.8 258.7h0.8M118.1 255.7h0.8M122.5 254.6h0.8M91.7 256.5h0.8M106 256.3h0.8M87.9 257.4h0.8M103.2 255.7h0.8M159.9 256.7h0.8M111.9 259.3h0.8M106.2 256.6h0.8M102.9 256.3h0.8M94.3 257.2h0.8M85.3 257.7h0.8M110.4 257.1h0.8M107.2 253.5h0.8M131.4 256.2h0.8M88.4 255.6h0.8M117 257.1h0.8M129.5 257.5h0.8M84 256.8h0.8M120.1 257.3h0.8M88.8 257h0.8M118.2 255.6h0.8M131.4 258.8h0.8M110.9 259.2h0.8M115 258.1h0.8M101.4 256.5h0.8M115 258h0.8M126.6 256.5h0.8M108.5 258.3h0.8M109.1 255.1h0.8M116.4 256.9h0.8M122.4 256.2h0.8M88.4 256.1h0.8M111.8 261.1h0.8M101.5 259h0.8M117.9 255.4h0.8M125.3 254.6h0.8M115.3 255.4h0.8M128.8 255.7h0.8M97.3 256.4h0.8M105.4 253.9h0.8M97.3 256h0.8M111.8 257.3h0.8M112.3 258.1h0.8M108.3 252.6h0.8M94.3 257.5h0.8M109.9 254.8h0.8M105 254.9h0.8M119.4 256.3h0.8M107.3 255.6h0.8M127.1 257.7h0.8M114.2 258.7h0.8M85.4 257.4h0.8M108.6 255.7h0.8M91.3 259.8h0.8M124.4 259.8h0.8M130.8 257.1h0.8M110.6 256.8h0.8M117.1 259.1h0.8M91 259.4h0.8M80 257.4h0.8M103.3 261.2h0.8M107.5 256.8h0.8M90.1 258.9h0.8M112.3 255.9h0.8M115.3 257.2h0.8M119.9 256.1h0.8M132.4 256.7h0.8M122.2 258.7h0.8M106 255.2h0.8M112.5 256.4h0.8M119.3 258h0.8M96.6 256.7h0.8M129.4 259.2h0.8M123.5 254.4h0.8M107.9 263.1h0.8M102.2 255.9h0.8M163.6 256.5h0.8M122.6 259.7h0.8M124 257.7h0.8M135.9 255.4h0.8M124.6 256.3h0.8M113.9 257.2h0.8M120.8 258h0.8M98.4 259.2h0.8M120.9 259h0.8M89.8 259.3h0.8M116.9 255h0.8M118.8 259h0.8M89.5 255.6h0.8M137.6 256.7h0.8M95.2 255.8h0.8M125.5 254.1h0.8M103.8 259.3h0.8M115.4 257h0.8M102 259.4h0.8M145.6 255.3h0.8M125.4 255h0.8M136.2 256.5h0.8M122 255.7h0.8M120.8 257.1h0.8M113.3 255.6h0.8M107.9 256.4h0.8M119.6 254.7h0.8M113.4 260.1h0.8M109.1 256.4h0.8M92.2 256h0.8M107 258.8h0.8M119.6 257.9h0.8M104.7 257.8h0.8M116.1 257.5h0.8M109.3 256.2h0.8M97 257.2h0.8M98.8 253.3h0.8M101 254.2h0.8M107.3 254.3h0.8M107.7 257.9h0.8M126.8 258.5h0.8M96.3 257.2h0.8M83 257.5h0.8M120.8 259h0.8M105 256.4h0.8M109.7 258.7h0.8M146.6 256.6h0.8M131.6 255.2h0.8M119.5 257.6h0.8M124.4 257.2h0.8M113 254.4h0.8M124.6 255.2h0.8M102.9 254.6h0.8M101.5 260.2h0.8M104.9 262h0.8M133.2 257.3h0.8M132.9 258.2h0.8M103 254.4h0.8M127.5 258.7h0.8M109.2 261.9h0.8M126.3 259.1h0.8M107 255h0.8M124.6 258.6h0.8M109.9 256.9h0.8M107.4 259.7h0.8M111.1 255.6h0.8M113.6 257.1h0.8M103.4 256.1h0.8M92.5 258.2h0.8M134.9 256.5h0.8M106 259.8h0.8M86.3 258.5h0.8M80 258.1h0.8M72.6 258h0.8M103 256.7h0.8M130.3 256.7h0.8M88.8 258.5h0.8M107 257.5h0.8M86 258h0.8M126.8 256.7h0.8M116.6 256.8h0.8M116 255.5h0.8M130.2 254.5h0.8M134.3 257.2h0.8M125.8 257.6h0.8M103.5 255.2h0.8M93.1 260.2h0.8M97 255.4h0.8M87.2 258.7h0.8M136.6 256.8h0.8M108.9 257.9h0.8M113.3 259.7h0.8M114.3 259.2h0.8M139.6 256.5h0.8M103.7 255h0.8M128 255.1h0.8M115.8 257.5h0.8M109.4 260.9h0.8M84.9 258.5h0.8M124.3 256.8h0.8M101.2 258h0.8M105.2 258.8h0.8M114.7 261h0.8M112.9 255.3h0.8M127.2 257.8h0.8M102.2 257.9h0.8M113.8 255.3h0.8M115.4 254.8h0.8M111.9 260.1h0.8M121 257.5h0.8M108 256.7h0.8M128.3 256.9h0.8M101.7 259.4h0.8M91.6 257.7h0.8M111 261h0.8M128 256.4h0.8M104.4 255.5h0.8M102.9 257.1h0.8M106.8 255h0.8M113.9 256.3h0.8M109.1 260.1h0.8M115.9 260.8h0.8M87.7 258.3h0.8M132.4 256.9h0.8M119.7 255.1h0.8M99.6 255.5h0.8M130.6 257.1h0.8M117.8 257.3h0.8M132 256.1h0.8M95.2 256.8h0.8M134.6 258.1h0.8M112.2 259.5h0.8M83 257.8h0.8M122 257.3h0.8M107.4 260.2h0.8M97.5 258.1h0.8M108.6 257.8h0.8M84.6 256.3h0.8M119.7 253.6h0.8M108.6 252.6h0.8M107.8 251.9h0.8M131.2 256.7h0.8M112.1 257.9h0.8M102.4 255.5h0.8M98.4 258.2h0.8M110.7 258.2h0.8M126.4 256.7h0.8M103.5 254.1h0.8M97.1 259.9h0.8M124.4 259.1h0.8M112.4 255.7h0.8M111.2 261.8h0.8M140.6 256.5h0.8M94.7 256.3h0.8M114.3 256.1h0.8M86.9 255.8h0.8M107.4 256.4h0.8M119.7 253.8h0.8M127.2 258.4h0.8M93.9 258h0.8M123.2 254.5h0.8M122.5 257.9h0.8M109.9 253h0.8M145.8 256.5h0.8M111.6 258.3h0.8M99.3 257.5h0.8M117.5 254.6h0.8M85.7 257.6h0.8M133.3 256.5h0.8M125.3 256.9h0.8M106 260.7h0.8M120.1 260.2h0.8M119 260.2h0.8M138.5 256h0.8M103 255.7h0.8M93.6 257.5h0.8M83.3 258.1h0.8M107.5 252.3h0.8M89.8 256.9h0.8M109.2 261.5h0.8M117.3 254.3h0.8M105.4 255.6h0.8M98.4 256.1h0.8M128.1 257.4h0.8M108.8 257h0.8M114.8 256.3h0.8M124.8 254.4h0.8M93.4 258.4h0.8M98.7 257.4h0.8M146.3 255.9h0.8M109.4 257.2h0.8M97.1 258.8h0.8M108 253.7h0.8M103.6 253.9h0.8M94.5 255.9h0.8M105.9 255.2h0.8M111.3 249.8h0.8M111.4 255.7h0.8M119 259.2h0.8M87.5 257.3h0.8M90.8 258.8h0.8M122.5 251.8h0.8M105.4 257h0.8M128.5 258.5h0.8M115.8 260.5h0.8M92 256.9h0.8M119 255.3h0.8M97.5 258.1h0.8M115.2 254.3h0.8M128.6 256.3h0.8M140.9 255.3h0.8M110.6 257.3h0.8M121.3 256.9h0.8M115.7 260.7h0.8M122.5 257.5h0.8M76.1 257.4h0.8M106.2 257h0.8M115.6 254.1h0.8M118.1 257h0.8M101.1 256.9h0.8M123 257.6h0.8M126.9 258.1h0.8M112.5 252.4h0.8M108.4 258h0.8M106.6 259h0.8M113.5 254.3h0.8M127.9 259.3h0.8M132.4 255.9h0.8M105 262.9h0.8M98.7 258.9h0.8M100.6 259.3h0.8M125.2 257.2h0.8M114.6 259.4h0.8M115.7 254.7h0.8M118.2 255.3h0.8M116.8 252.7h0.8M109.9 258.5h0.8M97.1 256.2h0.8M103 258.9h0.8M113.2 258.5h0.8M117 254.1h0.8M106.4 258.9h0.8M105.8 257.8h0.8M130.5 256.9h0.8M105.1 258.3h0.8M114.6 257h0.8M107.2 257.2h0.8M99.7 259.4h0.8M90.6 256.3h0.8M104.1 254.6h0.8M100.2 255.9h0.8M123.3 258.6h0.8M95.7 256.9h0.8M105.9 261.7h0.8M120.6 251h0.8M110 255.4h0.8M118.4 256h0.8M123.1 257.3h0.8M88.6 259.1h0.8M105.9 256.8h0.8M98.3 255.5h0.8M130.2 257.7h0.8M109.9 260.9h0.8M118.4 251.6h0.8M135 257.1h0.8M106.6 257.9h0.8M112.6 255.1h0.8M117.2 256h0.8M107.9 257.9h0.8M128.9 256.8h0.8M122.8 256.4h0.8M125.4 255h0.8M112.2 257.8h0.8M106.8 255.7h0.8M106.7 257.4h0.8M106.5 255.8h0.8M88.9 257.8h0.8M116.5 258.7h0.8M122.7 257.3h0.8M111.4 258.7h0.8M104.7 254.1h0.8M112.1 258.2h0.8M114.6 257.7h0.8M116 255.6h0.8M136.3 256.4h0.8M99.8 251.9h0.8M116.5 257.2h0.8M121 256.1h0.8M112.6 251.7h0.8M108.3 258.4h0.8M97.5 256.3h0.8M103.4 257.9h0.8M121.2 256.4h0.8M131.5 257.2h0.8M102.5 257.5h0.8M118 256.4h0.8M118.7 258h0.8M125.4 258.1h0.8M114.9 251.8h0.8M117.6 257h0.8M123.8 255.8h0.8M95.6 255.7h0.8M112.2 260.2h0.8M87.4 258.6h0.8M84.5 256.8h0.8M100.3 255.1h0.8M90.5 258.6h0.8M118.4 255.6h0.8M125.1 256.3h0.8M107.3 252.5h0.8M109.6 256.8h0.8M108.3 259.9h0.8M107.9 256.1h0.8M113.4 256.8h0.8M116.3 260.9h0.8M105.2 259.3h0.8M100.8 260.2h0.8M104.4 258.7h0.8M122.4 259h0.8M105.8 253.4h0.8M131.3 255.8h0.8M108.2 253.2h0.8M130.1 259.3h0.8M95.2 257.8h0.8M102 257h0.8M118 255.4h0.8M118.1 254.8h0.8M109.3 250.4h0.8M139.3 258.2h0.8M112.5 256.9h0.8M115.4 257.2h0.8M103.7 254.2h0.8M134 256.6h0.8M123.1 257.5h0.8M117.1 256.8h0.8M89.2 258.3h0.8M116.4 255.1h0.8M105.1 258h0.8M116.8 258.9h0.8M123.9 257.8h0.8M101.3 258.1h0.8M114.4 256.8h0.8M123.4 255.2h0.8M113.7 258.3h0.8M107 256.3h0.8M97.1 255.8h0.8M102.4 258.9h0.8M94.2 255.1h0.8M124.9 255.9h0.8M112.9 258.9h0.8M95 258.9h0.8M111.4 256.2h0.8M93.9 257.6h0.8M127.8 257.5h0.8M127.3 256.7h0.8M91.4 256.5h0.8M101.7 258.2h0.8M114.2 257.4h0.8M106.2 257.5h0.8M99.8 259.5h0.8M104.5 257.9h0.8M108.2 256.1h0.8M103.9 257.6h0.8M114.3 261.5h0.8M108.3 255.5h0.8M101.1 256.8h0.8M111.7 255.2h0.8M88.9 258h0.8M131 255.3h0.8M87.9 258.1h0.8M110.3 258.9h0.8M116 255.3h0.8M117 255.1h0.8M114.9 253.6h0.8M128.5 256.8h0.8M96.2 255.6h0.8M110.5 255.6h0.8M113.4 256.1h0.8M104.7 255.7h0.8M103.4 259.1h0.8M128.8 258.8h0.8M101.7 252.9h0.8M104.9 255.4h0.8M107.6 257.8h0.8M108.5 254.7h0.8M113.6 255.8h0.8M108.6 257.7h0.8M116.4 260.1h0.8M113.2 259.8h0.8M117.8 256.3h0.8M129.9 256.9h0.8M100 256.6h0.8M133.6 256.5h0.8M105.3 254.5h0.8M120.3 253.5h0.8M113.5 256.2h0.8M107.3 259.5h0.8M84.9 258.4h0.8M133.1 254.7h0.8M101.1 256.9h0.8M100.7 256.1h0.8M125.7 257.2h0.8M112.3 254.5h0.8M137 257.3h0.8M134 256.4h0.8M120.9 258h0.8M114.7 259h0.8M121.6 253.3h0.8M93.6 257.2h0.8M113.6 260.6h0.8M113.3 257.1h0.8M105 259.6h0.8M114.7 258h0.8M91.7 256.9h0.8M123.4 257.3h0.8M128.6 258.1h0.8M93.9 259.4h0.8M113.3 260.5h0.8M132.1 255.5h0.8M116.9 258.8h0.8M97.4 255h0.8M98 257.2h0.8M122.8 256.5h0.8M135.9 257.1h0.8M96.7 258h0.8M111.8 260.1h0.8M100.9 256.1h0.8M107.5 259.2h0.8M115.4 257.9h0.8M110.7 257.1h0.8M102.1 254.8h0.8M139.5 256.9h0.8M109.2 257.9h0.8M108.8 259.1h0.8M126.2 256.7h0.8M111.4 256.5h0.8M108.6 258.1h0.8M124 257.6h0.8M97.4 258.6h0.8M121.3 260.4h0.8M125.1 255.9h0.8M120.1 260.8h0.8M108.9 250.1h0.8M111.2 259.4h0.8M88.3 256.7h0.8M109.5 262h0.8M115.1 255h0.8M122.9 258.7h0.8M113.2 254.8h0.8M106.1 254.6h0.8M100 258.9h0.8M110.7 259.2h0.8M113.1 255.4h0.8M127.4 260.1h0.8M111.4 256.3h0.8M104.6 260.8h0.8M109.8 254.7h0.8M104.8 255.1h0.8M108.1 257.4h0.8M81.7 257h0.8M90 258.1h0.8M95.3 254.1h0.8M117.5 257.4h0.8M110.2 255.8h0.8M113.2 254.8h0.8M126.8 257.1h0.8M97.3 257h0.8M126.5 256.1h0.8M116.4 258.8h0.8M101.7 257.9h0.8M131.1 257.1h0.8M92.2 259.3h0.8M96.2 257.3h0.8M108.5 259.2h0.8M116.6 256.1h0.8M108.7 258.6h0.8M82.7 258.2h0.8M107.3 255.9h0.8M110.1 253.5h0.8M145.2 255.5h0.8M129.6 255.6h0.8M112.9 258.4h0.8M96.7 257.2h0.8M115.8 256.4h0.8M95.7 258.2h0.8M113.9 258.7h0.8M116.1 260.1h0.8M105.9 255.9h0.8M114.6 258.3h0.8M106.8 258.9h0.8M103.6 255.2h0.8M131.7 256.8h0.8M119 255.1h0.8M107.1 256.7h0.8M101 258.2h0.8M113.6 253.1h0.8M118.8 255.2h0.8M122.6 255.5h0.8M130.9 256.8h0.8M117.4 255.4h0.8M96.3 258.1h0.8M138.3 255.8h0.8M126.7 256h0.8M122.3 257.9h0.8M129 257.1h0.8M91.4 257.8h0.8M106.2 257.1h0.8M104.4 259.5h0.8M127.1 258.7h0.8M95.5 256.9h0.8M106.9 255.5h0.8M131.4 255.5h0.8M119.8 260.3h0.8M106.1 255.2h0.8M136.2 255.4h0.8M93.5 257.9h0.8M117.2 259.2h0.8M108.2 254.3h0.8M118 256.7h0.8M107.5 253.8h0.8M100.1 256h0.8M114 260.8h0.8M93.6 257.7h0.8M118.2 256.4h0.8M106.9 257.4h0.8M123.5 257.3h0.8M105.2 257h0.8M102.2 254.8h0.8M116.5 254.4h0.8M127.6 259.5h0.8M83.6 257.1h0.8M112.8 259.9h0.8M119.5 255.5h0.8M92.2 259.3h0.8M99.4 258.7h0.8M119.7 256.5h0.8M100.2 261.3h0.8M102.7 255.3h0.8M134 256.4h0.8M98.6 255.8h0.8M99.7 255.9h0.8M80.4 257.5h0.8M96.6 255.8h0.8M94.8 257h0.8M134 258.1h0.8M127.3 254.4h0.8M94.3 255.6h0.8M137.3 255.8h0.8M121.4 256h0.8M108.7 259.6h0.8M121.9 258.2h0.8M116.2 258.1h0.8M101 257.8h0.8M87.7 260.1h0.8M99 255.3h0.8M111.1 254.4h0.8M106.4 257.2h0.8M101.3 257.8h0.8M124.1 256.5h0.8M97 256h0.8M123 254.6h0.8M104.7 256.6h0.8M112.6 255.4h0.8M96.2 256.7h0.8M111 254.6h0.8M100.7 260h0.8M87.9 258.1h0.8M110.8 261.5h0.8M110.4 255.9h0.8M122.1 257h0.8M114.9 256.5h0.8M97.6 257.5h0.8M102.9 256.8h0.8M78 257.7h0.8M96.2 254.2h0.8M128.4 256.4h0.8M131.3 257.4h0.8M121.2 253.3h0.8M115.1 256.2h0.8M118.9 258.1h0.8M117.6 259.7h0.8M88 257.5h0.8M99.5 258.3h0.8M126.9 259.2h0.8M126.8 258.6h0.8M114.3 256h0.8M107 255.8h0.8M106 259.6h0.8M103.8 257.8h0.8M98.7 256.4h0.8M85.4 257.5h0.8M113.1 257.8h0.8M105.1 256.8h0.8M108.2 256.6h0.8M133.9 256.4h0.8M119 253.9h0.8M101.7 260.9h0.8M118.8 259.4h0.8M91 259.5h0.8M125.1 256.6h0.8M114.6 257.3h0.8M108.5 258.5h0.8M118.7 258.6h0.8M130.5 254.6h0.8M104.9 258.1h0.8M97.9 255.6h0.8M139.3 256.5h0.8M111.3 255.5h0.8M131 258.6h0.8M102.1 258.5h0.8M116.1 257h0.8M102.5 260.3h0.8M119.5 256.8h0.8M107.4 255.5h0.8M102.1 256.9h0.8M131.8 256.3h0.8M115.6 257.1h0.8M84 258.5h0.8M107.9 256.9h0.8M98.8 257.3h0.8M94.8 259h0.8M103.3 257.9h0.8M104.7 259.4h0.8M111.5 257.4h0.8M100.4 254.8h0.8M86.2 256.6h0.8M103.9 253.6h0.8M122.8 258.8h0.8M92.8 258.1h0.8M119.3 256h0.8M117.2 254.9h0.8M105 258.1h0.8M115.2 256.7h0.8M101 258h0.8M105.7 255.3h0.8M97.4 255.5h0.8M117.3 260.3h0.8M129.4 255.6h0.8M101.9 257.3h0.8M127.1 258.6h0.8M82.4 256.3h0.8M99.2 258.7h0.8M97.5 257.5h0.8M134.1 256.5h0.8M103.1 257.9h0.8M121.5 254.7h0.8M83.5 255.8h0.8M112.6 261.5h0.8M118.6 256.4h0.8M110.5 259.3h0.8M74.5 258.6h0.8M113.4 257.7h0.8M121.9 257.7h0.8M128.8 257.6h0.8M116.4 260.5h0.8M88.3 258.2h0.8M108.2 260.2h0.8M123.2 256.4h0.8M100 256.5h0.8M118.6 257.1h0.8M104.6 258.2h0.8M112.3 258.4h0.8M121.2 260.5h0.8M101.5 259.1h0.8M149.5 256.3h0.8M113.1 261.7h0.8M115.6 257.8h0.8M101 258.1h0.8M111.8 258.3h0.8M107.4 256.4h0.8M91.4 256.2h0.8M90.4 257.7h0.8M114.9 256.3h0.8M109.8 255.1h0.8M75.6 258h0.8M82.1 257.6h0.8M106.8 255.8h0.8M110.1 252.9h0.8M119.2 256.6h0.8M94.3 260.1h0.8M119 258.7h0.8M106.9 259.7h0.8M104.2 257.2h0.8M109.1 259.7h0.8M124.3 255.8h0.8M118.5 256h0.8M123 257.8h0.8M101.7 254.4h0.8M107.2 257.4h0.8M95.3 258h0.8M103.5 261h0.8M105.6 255.7h0.8M104.7 258.2h0.8M120.6 255.7h0.8M116.7 255.8h0.8M121.2 251.9h0.8M112.7 254.9h0.8M125.5 258.6h0.8M112.5 258.3h0.8M124 257.1h0.8M117.8 262.2h0.8M120.9 257.9h0.8M110.1 254.2h0.8M94.3 257.2h0.8M91.5 257.5h0.8M137.4 257.9h0.8M116.2 255h0.8M117 257.9h0.8M108.7 259.5h0.8M104.8 255.5h0.8M149.8 256.3h0.8M95.9 254.2h0.8M110.2 257.4h0.8M110.3 251.9h0.8M95.7 256.9h0.8M93.8 260h0.8M101.5 258.2h0.8M106.4 257.4h0.8M104.4 257.6h0.8M122 260.8h0.8M95.1 258.3h0.8M116.5 259.3h0.8M130.8 256.2h0.8M123.1 256.1h0.8M95.6 255.8h0.8M122.4 256.6h0.8M117.7 255.5h0.8M103.1 259.4h0.8M128.3 257.6h0.8M105.5 257h0.8M112.5 255.8h0.8M97 252.5h0.8M115.3 255.7h0.8M105.2 258h0.8M104.2 258.8h0.8M125.6 252.2h0.8M113.9 251.6h0.8M90.8 257.8h0.8M120.3 255h0.8M122.3 256.5h0.8M99.8 256.5h0.8M105.7 258.6h0.8M111.7 252.7h0.8M107.6 255.9h0.8M112.7 259.3h0.8M119.8 257.4h0.8M104.4 255.4h0.8M139.1 256.9h0.8M101.4 257.9h0.8M103.7 255.4h0.8M137.6 257.1h0.8M143.2 256.9h0.8M111.5 256.8h0.8M108.5 259.4h0.8M96.5 255.5h0.8M126.4 257.9h0.8M113.3 256.6h0.8M99.6 255.6h0.8M116.5 255.7h0.8M129.5 258.1h0.8M120.3 255.9h0.8M140.8 256.2h0.8M126.7 255.9h0.8M116.9 255.3h0.8M110.6 259.4h0.8M118.4 261.5h0.8M127.4 258.6h0.8M122.6 257.8h0.8M125.2 258h0.8M114 256.3h0.8M121.3 256h0.8M127.4 255.2h0.8M108.8 260.6h0.8M93.5 257h0.8M134.3 255.9h0.8M118.9 255.7h0.8M105.1 257.7h0.8M114.2 255.8h0.8M107.7 257.3h0.8M88 257.8h0.8M108.5 260.4h0.8M91.8 255.9h0.8M113.7 257.8h0.8M109.5 255.5h0.8M126.3 256.2h0.8M109.4 261h0.8M116 258.4h0.8M107 256.3h0.8M105.9 258.4h0.8M92.1 257.5h0.8M124.4 258.6h0.8M113.3 256h0.8M103.1 258.4h0.8M113.8 256.6h0.8M105.4 257.3h0.8M101.2 257h0.8M114.4 255.7h0.8M127.4 256.9h0.8M107.4 259.5h0.8M91.8 256.8h0.8M102.7 256.5h0.8M135.3 256.9h0.8M100 255.9h0.8M127 258h0.8M107.8 258.9h0.8M121 252.6h0.8M109.6 255.6h0.8M89.7 256.4h0.8M105.4 259.1h0.8M139.5 257.2h0.8M109.2 254.4h0.8M118.6 255.6h0.8M106.5 257.1h0.8M109.2 256.3h0.8M115.4 258.7h0.8M117.4 259.1h0.8M141 256.9h0.8M110.8 259.7h0.8M108.6 259.4h0.8M102.1 257.2h0.8M93.3 256.9h0.8M89.3 256.8h0.8M120 258.5h0.8M85.9 258.5h0.8M130 257.9h0.8M122.6 256.3h0.8M107 256.3h0.8M95.4 257.9h0.8M111.4 260.1h0.8M111.3 258h0.8M126.2 257.1h0.8M101 255.7h0.8M105.9 258.3h0.8M110.3 258.4h0.8M107.3 255h0.8M102.6 261.1h0.8M87.9 256.7h0.8M88.9 258.7h0.8M101.9 256.9h0.8M108 257.6h0.8M124.5 255.6h0.8M142.2 256.1h0.8M134.2 257.3h0.8M116.4 256.6h0.8M136.4 256.3h0.8M109.5 259.3h0.8M103.9 258.9h0.8M142.3 256.6h0.8M96.6 257.9h0.8M105.5 261.2h0.8M107.5 256.8h0.8M130.7 257.1h0.8M103 258.2h0.8M121.6 254.4h0.8M105.6 252.9h0.8M94.5 257.7h0.8M114.2 259.1h0.8M113.3 257.6h0.8M95.5 256.7h0.8M99.4 256.2h0.8M100.4 259h0.8M124.1 256.4h0.8M117.3 253.6h0.8M114.3 258.6h0.8M117.7 257.5h0.8M104.6 258.1h0.8M117.5 259.2h0.8M102.9 260.2h0.8M93.1 258.3h0.8M101.6 257h0.8M113.9 252.3h0.8M112.3 257.8h0.8M125.3 256.6h0.8M88.3 259.1h0.8M108.1 260.2h0.8M116.4 258.1h0.8M98.1 259.9h0.8M114.4 256.9h0.8M105.6 257.2h0.8M95.8 256.1h0.8M126.2 256.4h0.8M92.3 257.8h0.8M124.6 258.5h0.8M105.5 255.6h0.8M98.4 258.9h0.8M99.2 261.8h0.8M101.1 254.7h0.8M99.7 256.9h0.8M114.7 257.1h0.8M85.9 258.6h0.8M127.8 259.4h0.8M122.4 259.1h0.8M129.8 256.7h0.8M97.8 255.9h0.8M79.8 257.8h0.8M102.7 257.3h0.8M108.8 257.8h0.8M115.2 255.1h0.8M104.1 260.7h0.8M110 255.5h0.8M113.1 258.7h0.8M90.2 257.9h0.8M135.5 255.6h0.8M96 257.6h0.8M114.7 257.1h0.8M125.7 256.5h0.8M100.6 259h0.8M111.2 256h0.8M133.2 259.2h0.8M107.3 259.9h0.8M125.2 255.4h0.8M115.1 251.5h0.8M114.2 259.9h0.8M120.8 257.4h0.8M108 257.4h0.8M108.3 254.9h0.8M124.1 254.5h0.8M114.7 252.9h0.8M117.9 262.4h0.8M95 260h0.8M111.4 255.8h0.8M127.5 259.3h0.8M123.3 253.8h0.8M115.8 258.6h0.8M104.2 258.9h0.8M102.9 255.5h0.8M117.1 256h0.8M130.3 255.5h0.8M111.8 257.2h0.8M128.8 258.4h0.8M107.2 259.6h0.8M127.4 257.3h0.8M97.7 259.4h0.8M113.7 253h0.8M96.8 260.9h0.8M120.1 256.8h0.8M118.9 254.3h0.8M98.4 256.7h0.8M101.2 256h0.8M105.2 257.5h0.8M91.1 258h0.8M98.7 253.1h0.8M99.5 259.8h0.8M121.8 260h0.8M129.9 255.5h0.8M105.2 260.6h0.8M107.3 260.2h0.8M114.1 259.4h0.8M104.2 260.9h0.8M107.5 254h0.8M122.5 258.2h0.8M114.3 254.7h0.8M110.1 262.8h0.8M103.5 255.2h0.8M131 255.3h0.8M102.9 259.7h0.8M112.8 258.6h0.8M97.3 257.5h0.8M103.2 257.6h0.8M112.5 258.6h0.8M105.9 261.2h0.8M118.4 255.5h0.8M112.1 255.8h0.8M92.6 256.7h0.8M80.1 257.8h0.8M124.6 256.9h0.8M103.3 254.5h0.8M131.2 257h0.8M111.4 254.1h0.8M100.9 256.7h0.8M118.7 256.5h0.8M107.5 256.6h0.8M111.4 260.7h0.8M98.7 260.4h0.8M119.8 259.1h0.8M126 259.2h0.8M104.1 256.6h0.8M135.2 257.9h0.8M103.5 257.2h0.8M114.6 257.6h0.8M89.1 257.9h0.8M85.3 256.5h0.8M139.5 256h0.8M130.4 256.5h0.8M126.7 257.3h0.8M88.3 257.5h0.8M114.2 255.1h0.8M116.8 254.5h0.8M112.3 257.1h0.8M115.2 254.4h0.8M98.8 255.2h0.8M109 256.9h0.8M95.8 257.8h0.8M106.5 255.3h0.8M116.2 253.1h0.8M100.6 257.9h0.8M107.4 259.1h0.8M105.4 256.3h0.8M111.4 256.2h0.8M123.6 253h0.8M114.3 259.1h0.8M116.5 254.6h0.8M91.7 258.5h0.8M106.3 255.9h0.8M122.2 256.6h0.8M99.5 257h0.8M105.3 253.1h0.8M98.1 262.4h0.8M129.1 254.8h0.8M105 257.5h0.8M101.3 255.7h0.8M119.5 256.5h0.8M126 258.8h0.8M117.8 253h0.8M124.4 256.6h0.8M114 258.2h0.8M109.4 257.5h0.8M105.2 258.2h0.8M104.3 255.6h0.8M103.1 253.7h0.8M116.1 254.1h0.8M109.6 256.2h0.8M112.3 258.9h0.8M119.3 257.1h0.8M110.4 261h0.8M92.6 257.7h0.8M100.4 257.7h0.8M96 257.8h0.8M85.4 256.1h0.8M112.5 258.5h0.8M94.9 255.7h0.8M93.8 256.9h0.8M96.6 261.4h0.8M122.9 254.7h0.8M106.9 257.5h0.8M124.6 257.3h0.8M109.9 257.5h0.8M105.2 257.3h0.8M118.7 255.8h0.8M119.1 261h0.8M112.6 252.3h0.8M97.1 255.7h0.8M104.9 260.6h0.8M95.1 258.3h0.8M107.6 255.4h0.8M112.3 255h0.8M131.1 256.4h0.8M130.1 259.8h0.8M120.2 257.9h0.8M123.9 255.1h0.8M114.2 257.6h0.8M148.4 255.9h0.8M131.7 258.3h0.8M146.7 256.5h0.8M116.2 259.8h0.8M116.6 257.4h0.8M125.2 260h0.8M113.6 258h0.8M115.2 257.7h0.8M97.7 255.6h0.8M123.7 256.1h0.8M112.9 258h0.8M122 256h0.8M108.1 263.1h0.8M87.1 257.6h0.8M117.8 255.4h0.8M126.7 258.2h0.8M93.8 256.7h0.8M97.9 258.1h0.8M107 257h0.8M107.7 255.5h0.8M88.1 259.1h0.8M134.7 256.7h0.8M124.7 258.6h0.8M102.7 256.6h0.8M86.6 256.2h0.8M115.9 254.2h0.8M137.8 256.1h0.8M122.2 256.6h0.8M126.6 256.9h0.8M98.3 258.3h0.8M114.1 254.2h0.8M90.8 257.9h0.8M137.7 255.5h0.8M118.7 255.6h0.8M82.6 259.9h0.8M86.1 258.9h0.8M117.5 256.2h0.8M112.9 261.3h0.8M106.8 260.6h0.8M119.3 258.7h0.8M138.1 257.7h0.8M115.9 256.5h0.8M86.6 257.5h0.8M108.8 255.1h0.8M93.3 258.4h0.8M100.1 254.9h0.8M115.4 255.9h0.8M108.7 258.3h0.8M96.6 256.6h0.8M110.6 258h0.8M99.9 260.9h0.8M118.1 254.9h0.8M107.7 260.5h0.8M116.2 255.5h0.8M107.3 255h0.8M121 257.3h0.8M109.1 259.6h0.8M110.7 255.4h0.8M103.3 255.7h0.8M112.8 256.1h0.8M86.9 256.9h0.8M146.9 256.5h0.8M101.7 255.8h0.8M112.2 256.5h0.8M104.5 258.1h0.8M104.3 256.3h0.8M116.3 259.6h0.8M104 255.8h0.8M105.1 255.5h0.8M92.2 260.3h0.8M98.4 260.2h0.8M95.1 257.6h0.8M135.2 257.4h0.8M92.8 258h0.8M96.3 256.6h0.8M113.4 258.7h0.8M130.1 257.1h0.8M88 259h0.8M89.9 255.4h0.8M112.5 259h0.8M115.4 257.4h0.8M91.7 256.7h0.8M86.5 257.2h0.8M97.8 256.7h0.8M120.9 254.4h0.8M110.2 255.8h0.8M120.8 258.4h0.8M109.3 253.5h0.8M110.3 256.2h0.8M119.1 252.1h0.8M109.2 255.8h0.8M113.9 258h0.8M98.5 257.3h0.8M102.7 257.4h0.8M117.1 254.6h0.8M107.5 258.6h0.8M100.7 255.5h0.8M119.6 258.7h0.8M118.1 257.4h0.8M110.6 256.2h0.8M100.5 260.3h0.8M122.8 256.2h0.8M144.4 257.1h0.8M99.6 257.6h0.8M89.9 257.6h0.8M100.2 259.3h0.8M98.1 258.2h0.8M93.6 257.5h0.8M94.7 257.3h0.8M122.1 257.3h0.8M122.3 257h0.8M130.7 256.3h0.8M120.8 254.9h0.8M104.2 251.5h0.8M125.3 256.6h0.8M102.4 256.8h0.8M106 260.1h0.8M94.8 258.2h0.8M127.2 258.4h0.8M124.3 259.7h0.8M104.4 257h0.8M106.5 255.3h0.8M111.1 259.1h0.8M113.4 255.7h0.8M122.1 256.4h0.8M111.5 260.6h0.8M116.1 258.2h0.8M90.4 258.9h0.8M106.6 254.1h0.8M86.4 257.7h0.8M134.7 257.7h0.8M129.5 255.1h0.8M120.3 257.3h0.8M125.6 257.4h0.8M137.7 254.7h0.8M123.3 259.6h0.8M89.1 256.8h0.8M107.8 256.9h0.8M78.8 259h0.8M99.6 253.9h0.8M93.8 258.2h0.8M110.5 256.1h0.8M115.8 257.1h0.8M98.1 255.9h0.8M106.8 260.4h0.8M114.3 254.5h0.8M108.5 258.1h0.8M108.2 258.5h0.8M78.1 257.8h0.8M104.6 256.7h0.8M121.2 256.4h0.8M114 259.4h0.8M90.5 258.1h0.8M106.9 257h0.8M114.1 254.5h0.8M97.4 257.7h0.8M119.6 258h0.8M99.7 257.3h0.8M106.1 260.6h0.8M109.1 252.6h0.8M140.6 258.3h0.8M106.2 256.8h0.8M102.8 254.9h0.8M120.2 253.5h0.8M104.2 259.2h0.8M113.1 258.4h0.8M80.1 257.6h0.8M114.5 256.9h0.8M110.2 257.6h0.8M93.1 256.9h0.8M128.8 258.2h0.8M107.3 258.7h0.8M107.9 256.9h0.8M92.8 255.3h0.8M88.6 259.1h0.8M102.8 256.3h0.8M89.9 256.4h0.8M117.1 259.8h0.8M122.2 257.8h0.8M101.9 253.1h0.8M88.8 255.8h0.8M105.2 256.4h0.8M96.2 255.4h0.8M112.7 256.7h0.8M112.9 263.3h0.8M104.7 264h0.8M111.5 257h0.8M124.5 258.1h0.8M133.5 257.5h0.8M103.4 257h0.8M120.2 254.1h0.8M107.3 259.8h0.8M96.2 257.2h0.8M127.8 257.4h0.8M115.8 258.6h0.8M112.4 255.2h0.8M115.2 260.9h0.8M108.3 257.4h0.8M96.2 257.8h0.8M134.4 256.2h0.8M122.6 258.1h0.8M114 259.4h0.8M123.5 255.9h0.8M127.8 257.6h0.8M107.7 256.2h0.8M118.4 254.4h0.8M106.1 256.5h0.8M119.1 258.2h0.8M107 258.5h0.8M143.3 257.2h0.8M105.6 255.7h0.8M117.4 256.4h0.8M116.7 257.2h0.8M105.9 258.7h0.8M123.1 256.7h0.8M109.3 254.9h0.8M104.9 253.8h0.8M110.5 260h0.8M100.3 259.5h0.8M126.6 255.8h0.8M118.9 260h0.8M123.7 256.8h0.8M92.2 258.2h0.8M114.1 260h0.8M100.1 256.4h0.8M111.6 255.3h0.8M127.6 254.4h0.8M113.9 257.8h0.8M108.1 258.3h0.8M125.6 258.1h0.8M124.1 257.9h0.8M135.4 256.7h0.8M85.3 258.8h0.8M114.9 254.7h0.8M104.8 258.2h0.8M98.6 258.4h0.8M112 256.9h0.8M94.7 260.2h0.8M80.3 258.1h0.8M98.3 259.9h0.8M106.9 259.4h0.8M135.6 256.4h0.8M100.7 261.3h0.8M94.7 259.2h0.8M83.7 257.8h0.8M105.7 257h0.8M107.2 254.8h0.8M112.4 256.8h0.8M90.9 257.3h0.8M100.2 257.8h0.8M79.8 257.5h0.8M112.7 258.5h0.8M89.3 257.5h0.8M73.4 256.9h0.8M126.1 256.1h0.8M117.3 255.1h0.8M115.2 254.2h0.8M115.2 256.5h0.8M96.5 259h0.8M124.9 255.1h0.8M96.3 254.1h0.8M136.3 256.4h0.8M113.5 264.1h0.8M85.5 257.1h0.8M122.2 257.4h0.8M137.1 256.2h0.8M107 259.3h0.8M124.8 259.1h0.8M107.6 256.9h0.8M102 259.9h0.8M75.6 257.2h0.8M127.1 257.1h0.8M104.4 254.4h0.8M115.6 257.5h0.8M95.2 256.5h0.8M98.2 257.9h0.8M125.6 255.1h0.8M105.2 257.8h0.8M105.1 257.6h0.8M93.4 256.7h0.8M113.3 255.2h0.8M121 254.7h0.8M104.3 256.4h0.8M107.9 258.2h0.8M94 257.3h0.8M129.4 256.9h0.8M102.1 260.1h0.8M108.4 256.5h0.8M133.3 257h0.8M107.4 259.2h0.8M89.5 258.2h0.8M98 258.2h0.8M105.7 257.5h0.8M134.6 258.4h0.8M113.5 257h0.8M107.5 256.3h0.8M121.7 258h0.8M128.2 258.9h0.8M100.3 260.2h0.8M130 256.8h0.8M122.2 258.4h0.8M116.6 258.2h0.8M78.5 257.9h0.8M113.2 258.7h0.8M129.5 257.5h0.8M106.9 257.6h0.8M141.9 257.7h0.8M111.6 256.3h0.8M96.8 259.9h0.8M118.6 261.4h0.8M114.6 262h0.8M121.9 257.4h0.8M107.6 256.8h0.8M128.3 254.7h0.8M103.1 257.2h0.8M112.4 263h0.8M93.7 255.2h0.8M99.8 254.4h0.8M113.4 259.1h0.8M101.7 258.7h0.8M104.5 253.2h0.8M107.8 257.1h0.8M114.1 257.9h0.8M121.1 254.1h0.8M121.1 258.8h0.8M124.6 254.7h0.8M113.5 259.8h0.8M103.2 257.8h0.8M89.1 256.8h0.8M105.9 253.6h0.8M99.8 256.8h0.8M85.9 257.6h0.8M133.1 256.5h0.8M85.6 257.1h0.8M115.5 256.6h0.8M118.3 258.8h0.8M107.5 255.1h0.8M146 256.2h0.8M111 258.3h0.8M100.2 257.4h0.8M134.7 257.4h0.8M99.8 260.5h0.8M91.1 257.1h0.8M97 257.9h0.8M101.9 251.2h0.8M111.3 256.3h0.8M115.3 258.6h0.8M89.9 256.3h0.8M115.5 260.1h0.8M141.2 255.1h0.8M100.9 260.1h0.8M108.9 256h0.8M120.2 255h0.8M127.2 256.1h0.8M101.6 256.8h0.8M97.5 255.7h0.8M96.9 255.1h0.8M125.7 256h0.8M123 258.5h0.8M81.1 258.1h0.8M81.4 258.9h0.8M93.8 256.6h0.8M90.2 257.2h0.8M116.3 256.3h0.8M113.7 257.4h0.8M137.5 256.9h0.8M121.6 260.2h0.8M112.4 258.8h0.8M126.9 257h0.8M98.5 259.9h0.8M91.6 256.6h0.8M111.2 254h0.8M123.6 258h0.8M88.5 257.8h0.8M123 257.1h0.8M122.5 258.6h0.8M103.8 256.6h0.8M113 256.9h0.8M106.9 258.1h0.8M111.8 258.7h0.8M121.8 258.7h0.8M99.7 257.6h0.8M125 257.3h0.8M122.6 252.6h0.8M123.1 259h0.8M83.7 256.4h0.8M85.2 257.7h0.8M120.2 261.9h0.8M102.7 256.6h0.8M101.2 254.1h0.8M100.2 260.6h0.8M92.3 256.8h0.8M106.8 256.9h0.8M100.8 257h0.8M101.7 258.9h0.8M117.3 258.7h0.8M94.5 257.3h0.8M126.1 258.5h0.8M80.2 257.1h0.8M145.1 256.8h0.8M92 256.7h0.8M118.7 258.4h0.8M123.2 255.7h0.8M110.6 256.1h0.8M120.9 259.7h0.8M109.2 254.5h0.8M86.5 256.5h0.8M115.4 258.3h0.8M126.4 256.4h0.8M103.1 256.4h0.8M87.4 257.5h0.8M102.4 261.9h0.8M115.2 254.7h0.8M114.8 256.4h0.8M125.9 257.1h0.8M118.4 255h0.8M117.7 256.9h0.8M83.2 258.2h0.8M141.3 255.8h0.8M111.4 259.8h0.8M122.6 254.9h0.8M105.9 256.9h0.8M108.6 258h0.8M111.5 264.7h0.8M132.4 254.8h0.8M131.6 257h0.8M119.2 262.1h0.8M138 256.1h0.8M105.3 259.8h0.8M117.9 257.4h0.8M104.5 254.1h0.8M128.6 257.3h0.8M111.2 255h0.8M124.2 257h0.8M134.5 255.2h0.8M82.2 258.4h0.8M140.7 254.7h0.8M115.2 256.7h0.8M106.4 260.2h0.8M84.4 258.2h0.8M106.6 256.4h0.8M79.1 257.7h0.8M112 256.1h0.8M108.5 263.7h0.8M135.9 256.5h0.8M106.3 257.2h0.8M125.6 255.7h0.8M126.9 256.1h0.8M139.3 257h0.8M107.4 255.8h0.8M121.3 255.4h0.8M89.9 256.9h0.8M95.5 256.9h0.8M107.1 257.6h0.8M110.5 256h0.8M94.1 257.2h0.8M105.2 255.5h0.8M120.5 259.3h0.8M104.6 257.5h0.8M108.7 256.4h0.8M98.6 257.9h0.8M130 256.7h0.8M135.5 255.2h0.8M113.7 256.6h0.8M109.3 261.1h0.8M133.9 257.1h0.8M117.5 259.5h0.8M101.6 255.9h0.8M92.2 255.5h0.8M102.7 255.8h0.8M141.3 257.4h0.8M102.7 255.2h0.8M150.9 255.8h0.8M110.9 259.8h0.8M107.9 256.6h0.8M129.2 256.5h0.8M107.5 258.1h0.8M116.2 257.2h0.8M96.5 256.9h0.8M93.7 257.9h0.8M100.7 255.9h0.8M114 257h0.8M101.7 258.7h0.8M83.7 256.8h0.8M117.5 256.5h0.8M108.7 254.4h0.8M107.1 259h0.8M102.5 258.6h0.8M79.8 258.5h0.8M133 257.7h0.8M104.3 259.6h0.8M118.3 258.5h0.8M130.2 255.8h0.8M126.6 258.1h0.8M113.8 254.9h0.8M111.1 262.7h0.8M115.2 257.7h0.8M123.5 257.9h0.8M119 254.4h0.8M104.8 259.7h0.8M117.2 259.5h0.8M116.2 253.5h0.8M120.6 255.8h0.8M113.8 256h0.8M130 255.9h0.8M113.8 260.3h0.8M123.3 260.5h0.8M111.6 254.6h0.8M103 259.6h0.8M97.9 256.9h0.8M108.8 260.5h0.8M118.4 251.9h0.8M128.5 256.2h0.8M109.7 260.1h0.8M103.8 255.6h0.8M103.9 259.9h0.8M128.9 256.1h0.8M112.5 259.8h0.8M104.1 258.6h0.8M121.2 256.1h0.8M92.7 256.5h0.8M112.6 256.7h0.8M110.4 259.9h0.8M109.1 257.1h0.8M95 256.4h0.8M124.6 262.1h0.8M134.3 255.1h0.8M92.7 257.2h0.8M112.7 258.4h0.8M119.9 254.9h0.8M142.3 256.4h0.8M105.2 256.3h0.8M97.9 254.7h0.8M110.9 258.2h0.8M138.9 255.6h0.8M112 255.3h0.8M114.7 259.9h0.8M135.6 255.6h0.8M81.4 258.3h0.8M81 258.7h0.8M123.6 258.5h0.8M121.7 257.7h0.8M91.8 257.2h0.8M118.2 254h0.8M111.6 257.4h0.8M114 258.1h0.8M99.9 256.4h0.8M104.7 255h0.8M98.9 259h0.8M111.7 254.6h0.8M107.8 258.2h0.8M134.3 256.2h0.8M119.7 253.6h0.8M89.2 259.4h0.8M116.8 258.3h0.8M130.8 257.3h0.8M114.9 253.8h0.8M126 256.6h0.8M110.5 257.8h0.8M120.8 255.5h0.8M98.1 260.4h0.8M121.9 253.2h0.8M91.9 258.5h0.8M128.9 254.3h0.8M90 255.7h0.8M81.7 256.7h0.8M118.3 258.1h0.8M108.6 255.4h0.8M112.6 255.4h0.8M116.9 255h0.8M110.6 253.5h0.8M98.7 255.7h0.8M113.9 254.7h0.8M115.8 256.2h0.8M117.8 256.1h0.8M138.5 254.6h0.8M100.8 256h0.8M111.9 259.9h0.8M118.7 255.9h0.8M104.8 257h0.8M94.4 256.3h0.8M103.1 255.7h0.8M125.7 256.6h0.8M107.3 253.9h0.8M119.5 256.5h0.8M100.8 253.8h0.8M117.2 257.6h0.8M101.6 253.9h0.8M99.3 258.5h0.8M112.6 259.3h0.8M111.7 253h0.8M131.4 257.3h0.8M88.5 257.1h0.8M118 259.2h0.8M133.3 256h0.8M129.9 256.3h0.8M105.7 256.4h0.8M101.6 259.8h0.8M104.1 252.7h0.8M115.2 258.6h0.8M113.6 257.1h0.8M115.8 255.7h0.8M119.3 256.3h0.8M96.2 258.8h0.8M95.4 258.6h0.8M94 259.9h0.8M92.4 256.5h0.8M109.6 252.4h0.8M115.3 255.6h0.8M146.1 256.2h0.8M118.4 255.8h0.8M111.2 259.8h0.8M130.6 259.2h0.8M100.8 257.9h0.8M115.7 252.8h0.8M124.5 258.3h0.8M121.9 255.5h0.8M116.6 256.9h0.8M106.2 258.9h0.8M93.8 257.9h0.8M108.9 256.8h0.8M102.8 257.7h0.8M120.5 258.2h0.8M109.1 258.4h0.8M118.8 261h0.8M88.7 254.2h0.8M124.5 255.4h0.8M99.2 256.1h0.8M89.4 258.4h0.8M91.9 257.7h0.8M102.3 258.9h0.8M126.6 254.6h0.8M120.9 256.3h0.8M94.8 258.3h0.8M112.2 256.7h0.8M109.5 255.9h0.8M89.3 257.8h0.8M97.3 260.1h0.8M82.8 255.9h0.8M99 260.2h0.8M74.3 258h0.8M100 255.5h0.8M98 258.4h0.8M100 257.2h0.8M99.6 259.5h0.8M127 255.5h0.8M106.2 259.2h0.8M114.3 254.7h0.8M121.4 257.3h0.8M123.5 257.8h0.8M120.4 256.6h0.8M103.3 258.5h0.8M95.8 256.3h0.8M100.2 259.3h0.8M104.5 255.9h0.8M111.1 255.2h0.8M109.8 256.6h0.8M126.2 256.6h0.8M109.6 254.9h0.8M135.8 257.2h0.8M125.2 256.5h0.8M104.3 258.4h0.8M122.9 254.1h0.8M130 255h0.8M116.7 256.2h0.8M116.5 254.6h0.8M87.7 257.4h0.8M145.8 256.7h0.8M107.5 259.6h0.8M109 260.4h0.8M126.5 257.8h0.8M108.3 255.2h0.8M99.2 258.2h0.8M120.1 255.7h0.8M97 258.2h0.8M121.3 254.7h0.8M112.9 260h0.8M126.6 257.2h0.8M94.3 256.9h0.8M128.2 254.8h0.8M115.1 257.4h0.8M138.3 256h0.8M102 257.6h0.8M136.6 255.9h0.8M120.7 255.7h0.8M121.9 257.8h0.8M101 260.1h0.8M118.7 254.1h0.8M120.2 256.3h0.8M99.5 257.9h0.8M95 257.1h0.8M100.3 256.3h0.8M131.2 259h0.8M113.2 254.9h0.8M123.9 257.3h0.8M115 255.7h0.8M112.6 256.6h0.8M114.1 251.5h0.8M105.3 259.1h0.8M127.9 256.3h0.8M113.4 254.6h0.8M114.1 260.7h0.8M91.9 257h0.8M115.3 255.4h0.8M101.7 255.4h0.8M104.1 259.4h0.8M125.3 256.7h0.8M95.9 256.8h0.8M108.2 253.8h0.8M119.7 254.9h0.8M126.9 257.1h0.8M103.8 257h0.8M115.4 252.3h0.8M114.9 254.8h0.8M95.4 257.7h0.8M81.5 259.8h0.8M84.4 257h0.8M119.3 252.3h0.8M112.4 258.7h0.8M92.5 256.7h0.8M102.2 254.3h0.8M105.5 258.3h0.8M106.1 256.5h0.8M110.6 254.6h0.8M141.4 255.4h0.8M100.2 256.9h0.8M113 257.1h0.8M100.4 253.6h0.8M102.3 259.2h0.8M98.8 254.8h0.8M107.8 260.3h0.8M103.4 257.8h0.8M115.8 256.4h0.8M113.9 257.6h0.8M98.7 256.1h0.8M137.4 256.4h0.8M94.9 259.9h0.8M115.9 255.5h0.8M140.9 257h0.8M101.2 255.3h0.8M129.3 256.6h0.8M130.6 257.7h0.8M115.7 254.1h0.8M85.5 257.9h0.8M130.6 254.1h0.8M112.3 254.1h0.8M103.4 256.2h0.8M128.6 257.8h0.8M101 258.6h0.8M125.7 255.3h0.8M103.4 256.8h0.8M118.4 257.1h0.8M96.1 254.7h0.8M105.5 258h0.8M98.4 259.7h0.8M101.2 259.7h0.8M113.6 255.5h0.8M108.6 256h0.8M113.6 254.6h0.8M128.7 256h0.8M109.4 256.3h0.8M85.3 258.2h0.8M107 257.2h0.8M112.1 254.7h0.8M125 257.9h0.8M125.2 258h0.8M124.1 255.7h0.8M107.9 256.4h0.8M119.9 256.5h0.8M91.1 255.4h0.8M128.8 256.8h0.8M117 258.2h0.8M118 260.9h0.8M105.8 257.5h0.8M111.8 256.2h0.8M101.8 256.8h0.8M118.8 258h0.8M92.7 258.5h0.8M124.4 255.3h0.8M118.5 257.2h0.8M138.9 256.9h0.8M110.5 252.1h0.8M109.7 260.2h0.8M113.7 256.3h0.8M111.5 259h0.8M109.5 256.8h0.8M95.8 256.9h0.8M95.7 257.2h0.8M103.2 257.7h0.8M107 259h0.8M94.6 256.9h0.8M95 255.6h0.8M107.1 255.3h0.8M121.2 254.9h0.8M108.4 258.8h0.8M120.3 254.9h0.8M124.4 259.1h0.8M121.6 257h0.8M105.2 256.8h0.8M105.4 260h0.8M85.3 257.3h0.8M101.6 256.5h0.8M117.4 258.5h0.8M96 258.5h0.8M129.7 255.4h0.8M130.8 259.4h0.8M105.9 258.3h0.8M123.7 254.6h0.8M91.5 257.2h0.8M96.5 258.9h0.8M105.9 257.5h0.8M111.1 259h0.8M108.4 262.6h0.8M99.1 259h0.8M138.1 258.1h0.8M115 258.4h0.8M114.9 255.3h0.8M120.4 259.7h0.8M113.4 255.2h0.8M107.8 259.3h0.8M103.3 258.6h0.8M88.4 256.6h0.8M131.6 255.8h0.8M98.3 256.9h0.8M88.1 258h0.8M99.9 259.8h0.8M88.9 257.6h0.8M138.5 258h0.8M116 258.8h0.8M130.4 255.9h0.8M131 255.9h0.8M118.8 257h0.8M118.9 255.8h0.8M101 257.1h0.8M109.8 258.9h0.8M102.7 257.8h0.8M111.6 259.3h0.8M101.4 255.8h0.8M128.5 255.6h0.8M121.5 254.2h0.8M109.5 252.8h0.8M88 257.1h0.8M120.4 257h0.8M123.2 256.4h0.8M110.1 257.1h0.8M93.6 260.4h0.8M117 254.5h0.8M125.5 256.3h0.8M84.6 257.2h0.8M118.8 255h0.8M86 258.9h0.8M112.1 256.9h0.8M135.1 257.7h0.8M112.3 254.3h0.8M117.6 260.9h0.8M106.6 262.5h0.8M110.9 255h0.8M143.4 256.4h0.8M129.4 256.5h0.8M106.7 258.5h0.8M105.8 254.2h0.8M111.3 258.2h0.8M141.2 257h0.8M113.9 255.6h0.8M126.3 253.4h0.8M106 255.6h0.8M93.5 256.9h0.8M129.2 257.6h0.8M109.9 255.6h0.8M100.2 255h0.8M101.5 258.6h0.8M101.8 258.1h0.8M102.7 258.8h0.8M89.8 257.6h0.8M127.5 258.2h0.8M116.3 258.1h0.8M124.4 253.9h0.8M106.3 257.6h0.8M115.8 258.7h0.8M113.3 257.1h0.8M127.1 258.8h0.8M122.2 256h0.8M115.9 258.5h0.8M102.1 254.7h0.8M94.5 257.5h0.8M100 256.3h0.8M102.3 255.2h0.8M103.6 254.4h0.8M94 257.8h0.8M133.8 257h0.8M114.7 255.5h0.8M83.3 256.7h0.8M96 256h0.8M92.6 258.6h0.8M114.3 254.2h0.8M125.6 258.5h0.8M97.5 254.5h0.8M119.5 257.5h0.8M107.2 258.7h0.8M126.8 258.5h0.8M129.7 256.2h0.8M115.3 255.3h0.8M120.9 254.2h0.8M111 259.3h0.8M105.9 256.9h0.8M95.1 256.7h0.8M115.5 256h0.8M110 257.7h0.8M105.7 257.3h0.8M110 259.9h0.8M108.5 252h0.8M96.8 258.9h0.8M103.8 256.1h0.8M126.6 256.7h0.8M107.8 256.4h0.8M130.1 256.6h0.8M95.2 258.7h0.8M92.5 257.8h0.8M112.7 253.7h0.8M121.6 256.7h0.8M102 257.1h0.8M119.6 257.7h0.8M123.8 256.9h0.8M125.7 256.7h0.8M109.5 259.6h0.8M110.3 254.5h0.8M88.4 260h0.8M111.3 255.8h0.8M114.8 254.7h0.8M130.3 257.6h0.8M93.6 259.1h0.8M99.4 259.8h0.8M97.3 260h0.8M123.3 257.7h0.8M76.4 257.9h0.8M96.2 258.1h0.8M139.2 256.5h0.8M120 255.9h0.8M92.8 259.8h0.8M110.2 261.5h0.8M122.6 256.9h0.8M118.5 256.5h0.8M108 256h0.8M100.2 254h0.8M122.4 255.7h0.8M110.9 255.9h0.8M122.1 256.8h0.8M116.4 254.8h0.8M104.6 253h0.8M130.7 257.4h0.8M104.2 261.1h0.8M116.9 252.4h0.8M102.4 257h0.8M107.9 259.2h0.8M107.6 254.4h0.8M102 254.3h0.8M114.2 257.1h0.8M128.9 256.4h0.8M136.4 256h0.8M130.6 258.6h0.8M108.7 260.8h0.8M130.9 257.4h0.8M116.7 256.9h0.8M135.5 256.3h0.8M93.8 258.8h0.8M131.2 256.4h0.8M102.8 260.5h0.8M126.8 258.6h0.8M104.7 255.9h0.8M123.4 258.2h0.8M107.2 261h0.8M85.4 258.3h0.8M97.8 255.8h0.8M107.7 256.6h0.8M111.3 256.4h0.8M80.5 257.9h0.8M94.7 257.6h0.8M101 256.7h0.8M108.1 259.3h0.8M114 260.3h0.8M99.8 256.3h0.8M90.4 255.8h0.8M115.1 258h0.8M106.5 257.3h0.8M123.1 257.7h0.8M103.8 255.9h0.8M119.8 257.6h0.8M98.9 255.8h0.8M114.6 259.7h0.8M112.2 261.2h0.8M117.1 255.1h0.8M98.3 252.7h0.8M109.3 256.1h0.8M99.5 256.5h0.8M108.8 257.8h0.8M119.5 257.1h0.8M151.6 256.6h0.8M111.5 263.7h0.8M120.7 256h0.8M112.5 256.4h0.8M126.4 257.5h0.8M117.3 253.1h0.8M125.2 258.1h0.8M115.8 255.8h0.8M143.6 255.5h0.8M129.7 255.8h0.8M87.9 258.2h0.8M115.1 259.1h0.8M112.1 260.2h0.8M81.1 258.2h0.8M99.3 256.1h0.8M104.8 258.7h0.8M101.1 257.3h0.8M112.8 262.8h0.8M86.7 255.7h0.8M121.2 260.1h0.8M121.6 258.5h0.8M115.8 258.1h0.8M106.6 257.2h0.8M111.1 256h0.8M104.7 255.3h0.8M126.6 254.7h0.8M117.9 261.5h0.8M138.1 257.4h0.8M106.1 259h0.8M130.7 257.2h0.8M103.2 253.3h0.8M108.8 256.7h0.8M96.9 257.8h0.8M118.2 259.6h0.8M110.3 255h0.8M119.5 257.7h0.8M131.3 256.5h0.8M110.3 257.5h0.8M116.2 255.5h0.8M123.3 257.6h0.8M110.3 257.6h0.8M103.7 253.4h0.8M115.9 260h0.8M117.9 261.8h0.8M121.7 255.5h0.8M122.4 259.1h0.8M102 255.5h0.8M117.1 256.1h0.8M127.8 259.3h0.8M104.8 258h0.8M116 260.6h0.8M102.7 258.2h0.8M113.4 259.7h0.8M134.6 256.6h0.8M113.4 260.7h0.8M98 260.9h0.8M115.8 258.8h0.8M114 256h0.8M126.2 256.4h0.8M92.5 256.4h0.8M98.7 258.8h0.8M110 258.7h0.8M90.1 256.9h0.8M126.5 258.3h0.8M83.7 257.3h0.8M99.9 261.2h0.8M91.1 258.8h0.8M102.2 261h0.8M121.9 255.8h0.8M119.3 255.2h0.8M123.6 254h0.8M119.3 258.5h0.8M83.6 256.9h0.8M115.2 260.4h0.8M86.1 257.9h0.8M104.3 259.3h0.8M105.8 254.6h0.8M103.7 256.3h0.8M117.8 257.7h0.8M100.2 259.1h0.8M134.5 255.5h0.8M119.2 257.9h0.8M127.1 255.8h0.8M121.4 258.7h0.8M123.2 256.7h0.8M110.5 256.8h0.8M137.7 257h0.8M96.9 259.7h0.8M117.4 256.8h0.8M111.2 260.4h0.8M108.1 255.2h0.8M115.4 258h0.8M101 255.4h0.8M122.9 257.5h0.8M121.7 255.5h0.8M112.4 257.5h0.8M121.1 258.3h0.8M97.1 256h0.8M86.6 256.1h0.8M103.3 257.2h0.8M107.9 258.8h0.8M144.8 256.6h0.8M108 255.4h0.8M125.1 258.3h0.8M122.6 256.6h0.8M139.7 257.2h0.8M112.7 255.3h0.8M120 258.1h0.8M108.5 260.3h0.8M99.4 256.4h0.8M97.5 257.1h0.8M100.5 258.9h0.8M130.4 257.5h0.8M115 258.2h0.8M109 257.2h0.8M111.4 253.7h0.8M103.5 257.6h0.8M110.7 254.4h0.8M110.6 257.6h0.8M119.9 252.6h0.8M123.4 259.5h0.8M89 259.9h0.8M114.3 258.4h0.8M129.7 255.8h0.8M97.3 257.1h0.8M107.7 259.6h0.8M113.4 258.9h0.8M126 256h0.8M119.2 259.6h0.8M108.2 259.2h0.8M117.9 258.4h0.8M125.1 256.5h0.8M116.4 257.3h0.8M136.3 256.1h0.8M116.9 257.7h0.8M96.9 256.5h0.8M100.5 259.9h0.8M109.3 257.6h0.8M108.3 258h0.8M119.5 257.8h0.8M115.9 258h0.8M134.3 255.4h0.8M122.1 259.4h0.8M131.2 256.9h0.8M100.8 256.5h0.8M105.4 255.3h0.8M120.4 255.8h0.8M112.4 255.9h0.8M119.7 257.2h0.8M114.6 255.4h0.8M102.8 257.8h0.8M134.2 256.9h0.8M126.6 256h0.8M90.2 260.4h0.8M102.9 257.3h0.8M111.5 258.2h0.8M120.4 257.4h0.8M110.2 257h0.8M92.8 258.6h0.8M122.4 259.5h0.8M108.4 257.3h0.8M127.5 255.7h0.8M115.3 258.5h0.8M124.8 253.6h0.8M122.5 257.3h0.8M123.2 256.7h0.8M104.4 258.2h0.8M125.1 254.7h0.8M114 256.3h0.8M94.4 256.1h0.8M105.9 256.2h0.8M106.7 258.8h0.8M117.6 256.8h0.8M120.5 256h0.8M96.2 259.6h0.8M121.1 257.1h0.8M110.4 252.5h0.8M97 255.8h0.8M122.5 257.7h0.8M101 258.4h0.8M95.2 257.9h0.8M121.5 257.5h0.8M123.4 255.5h0.8M102.4 257.3h0.8M125.6 255.1h0.8M124.8 255.6h0.8M104.3 255.4h0.8M138.3 255.9h0.8M110.5 256.5h0.8M114.4 256.7h0.8M79.2 257.3h0.8M119.9 259.1h0.8M103 256.4h0.8M117.3 260.4h0.8M88.3 258.8h0.8M126.9 255.2h0.8M131 257.7h0.8M136.8 255.4h0.8M119.3 259.9h0.8M116 257.8h0.8M101.5 255.4h0.8M110.3 252h0.8M130.6 256.3h0.8M100.2 254.8h0.8M114.2 259.6h0.8M110.7 254.2h0.8M116.4 256.6h0.8M106.1 258.4h0.8M123.5 256.9h0.8M124.6 257.3h0.8M93.1 257.2h0.8M126.6 257.8h0.8M101.4 255.5h0.8M107.8 258.5h0.8M126.7 255.1h0.8M112.8 257.5h0.8M119.3 254.7h0.8M122.2 256.5h0.8M119.6 258.1h0.8M104.3 260h0.8M98.7 254.1h0.8M120.8 255.5h0.8M121.8 255.1h0.8M116.4 259.6h0.8M109.1 255.1h0.8M123.2 258h0.8M111.3 255.9h0.8M93.2 255.5h0.8M115.4 257.3h0.8M118.4 254.6h0.8M122.1 258.2h0.8M99.6 258.9h0.8M101.6 260h0.8M116.1 254.8h0.8M105.7 260.8h0.8M110.8 259.4h0.8M124.3 254h0.8M117 261.7h0.8M136.3 258h0.8M115.7 254.7h0.8M134.8 256.9h0.8M126.1 254.8h0.8M146.1 256.3h0.8M112.1 257.5h0.8M110.7 258.6h0.8M129.4 255.7h0.8M105 257.2h0.8M105.7 255.1h0.8M115.3 257.9h0.8M117 258.4h0.8M93.1 257.6h0.8M115.4 259.6h0.8M107.8 258.9h0.8M111.7 258h0.8M114.4 259.7h0.8M109.5 254.2h0.8M126.5 256.7h0.8M118.6 253.3h0.8M109.6 257.1h0.8M113.2 256h0.8M126.1 258h0.8M122.7 256.1h0.8M129.2 255.9h0.8M110.4 256.9h0.8M114.1 256.7h0.8M139.3 256.9h0.8M111.8 255h0.8M134.8 255.2h0.8M123.6 254.2h0.8M106.5 259.9h0.8M93.5 255.7h0.8M120.8 256h0.8M102.9 254.9h0.8M102.8 259.2h0.8M89.1 257h0.8M128.3 258.3h0.8M113.7 255.4h0.8M112.7 257.8h0.8M117.7 258.6h0.8M115.6 259.2h0.8M113.7 254.3h0.8M119.3 256.2h0.8M108.7 257h0.8M77.8 256.6h0.8M122.3 258.1h0.8M118.1 257.8h0.8M112.7 258.3h0.8M133.7 255.3h0.8M93.7 257.8h0.8M73.6 258.2h0.8M132.4 257.7h0.8M118 255.9h0.8M90.4 258.4h0.8M106.9 261.8h0.8M120.7 256.1h0.8M96.1 256.8h0.8M119.9 256.3h0.8M140.8 255.4h0.8M131 256.3h0.8M112 260.9h0.8M116.7 255h0.8M99.7 257h0.8M114.2 259.8h0.8M108 258.5h0.8M99.1 257.8h0.8M94.4 257h0.8M138.3 256.4h0.8M113.6 257.1h0.8M98.7 258.7h0.8M106.8 257.4h0.8M132.3 257.6h0.8M134.1 254.8h0.8M104.2 259.1h0.8M115 255.8h0.8M124.3 256.9h0.8M107.8 256.2h0.8M96.6 258.5h0.8M99.3 257.2h0.8M112.5 258.6h0.8M102 255.6h0.8M95 257.8h0.8M109.2 260.1h0.8M124.9 258.6h0.8M121.5 256.2h0.8M109.3 257.5h0.8M138 256.2h0.8M101.9 257.1h0.8M111.4 257.2h0.8M94.1 259.3h0.8M122.8 257.9h0.8M110.7 260.6h0.8M89.8 259.4h0.8M101.3 254.8h0.8M136.4 256.8h0.8M122 256.1h0.8M113.8 253.4h0.8M123.9 255.1h0.8M90.9 256.9h0.8M101.3 260.7h0.8M94.6 257.6h0.8M101.2 257h0.8M107.2 257.2h0.8M119.4 255.5h0.8M125.8 257.1h0.8M125.4 256.7h0.8M148.3 255.3h0.8M105.7 256h0.8M112.1 265h0.8M119.1 258.2h0.8M101.2 257.2h0.8M108.4 258.8h0.8M117.8 255h0.8M100.5 257.5h0.8M118.6 258.8h0.8M128.7 254.7h0.8M97.3 256.2h0.8M81.7 257.5h0.8M113.4 256.4h0.8M98.3 256.5h0.8M114.6 257.7h0.8M106.2 259.6h0.8M116.3 257.8h0.8M127.4 258.2h0.8M123.2 258.6h0.8M107.4 255.8h0.8M96.5 257.9h0.8M78.9 257.6h0.8M83.1 258.3h0.8M101.5 256.6h0.8M113.4 256.7h0.8M103.1 260.9h0.8M104.1 256.9h0.8M90.6 255.7h0.8M89.9 257.7h0.8M88.9 258h0.8M120.3 256h0.8M85.4 257.8h0.8M120.9 258.8h0.8M99.7 256.4h0.8M118.9 256.6h0.8M114.9 255.5h0.8M121.8 257.5h0.8M127.5 256.6h0.8M101.1 255.5h0.8M98.5 257.1h0.8M105.6 261.4h0.8M101.1 254h0.8M120.3 254.3h0.8M109.8 258h0.8M111.4 253.9h0.8M116.9 261.2h0.8M104.9 254h0.8M126 254.9h0.8M86.6 257.2h0.8M114.3 259.5h0.8M117.9 258.7h0.8M100.9 258.5h0.8M101.8 258h0.8M123.3 259h0.8M106.8 253.1h0.8M85.3 258h0.8M93 259.5h0.8M124.6 255.2h0.8M99.2 258h0.8M128.6 258.3h0.8M129.4 258.2h0.8M108.3 256.9h0.8M118.3 260.8h0.8M99.9 258.4h0.8M105.6 259.7h0.8M101.6 255.2h0.8M118.9 255.5h0.8M93.8 256.4h0.8M109.2 261.3h0.8M111.7 251.7h0.8M117.9 253.2h0.8M82.5 258.4h0.8M86.9 257.8h0.8M99.1 251.9h0.8M107.9 256.3h0.8M112.8 256.4h0.8M113.5 259.9h0.8M138 255h0.8M119.7 255.9h0.8M118.8 259.1h0.8M104.3 259h0.8M121.4 255.3h0.8M120.2 256.4h0.8M119.9 254.1h0.8M109.4 260.4h0.8M119.2 256.1h0.8M131.3 258.1h0.8M100.2 258.9h0.8M81.9 257.1h0.8M121.8 256.7h0.8M120.7 258.2h0.8M107.7 258.3h0.8M104.9 260.7h0.8M147.8 257h0.8M104.6 258h0.8M94.5 258.5h0.8M104.4 255.8h0.8M117.5 255.8h0.8M102.6 258.6h0.8M105.6 258.1h0.8M114.9 254.6h0.8M105 257.1h0.8M112.5 255.3h0.8M110.2 255.9h0.8M96.5 259.6h0.8M111.7 255h0.8M95.2 256.5h0.8M123.3 257.8h0.8M98.3 257.6h0.8M107.6 257.7h0.8M86.4 256.3h0.8M104.8 257.3h0.8M94 257h0.8M130.8 255.8h0.8M109.1 255.9h0.8M117.7 256.4h0.8M87.3 258.5h0.8M94.1 260.3h0.8M108.5 257.5h0.8M92.6 259.6h0.8M126 257h0.8M105.3 254h0.8M112.7 257.3h0.8M114.8 260h0.8M108.7 260.5h0.8M121.1 255.4h0.8M101.7 261.9h0.8M115.6 255.5h0.8M126.7 255.8h0.8M113.5 256h0.8M112.4 260.5h0.8M106.2 258.2h0.8M111.5 259.3h0.8M119.7 252.7h0.8M107.4 257.2h0.8M88.2 257.6h0.8M112.9 258.8h0.8M108.7 256.2h0.8M116.9 259.6h0.8M111.2 255.6h0.8M131.7 255.2h0.8M94.6 255.1h0.8M97.7 259.7h0.8M119.4 258.5h0.8M97 256.2h0.8M115 259.6h0.8M110.4 256.8h0.8M84.5 257.6h0.8M119.5 254.2h0.8M128.9 256.1h0.8M113.4 257.4h0.8M92 257.9h0.8M121.1 256h0.8M96.8 259.2h0.8M109 260.6h0.8M116.1 255.4h0.8M100.3 258.2h0.8M88.1 256.1h0.8M108.7 258.2h0.8M110 255h0.8M99.3 257.2h0.8M100.3 257.8h0.8M120.4 256.6h0.8M109.4 259.7h0.8M104.4 255.7h0.8M102.7 256.4h0.8M112.8 257.9h0.8M111.8 257.1h0.8M108.3 257.9h0.8M92.2 257.3h0.8M105.7 255.6h0.8M102.3 258.8h0.8M111.4 257.4h0.8M125.8 258.2h0.8M123.1 259.2h0.8M119 256.4h0.8M112 255.5h0.8M106.3 256.3h0.8M115 255.7h0.8M104.3 253.1h0.8M106.1 261h0.8M99.5 258.2h0.8M109.8 262.7h0.8M109.5 256h0.8M134.8 257.2h0.8M149.6 256.5h0.8M136 256.6h0.8M152.8 256.8h0.8M134.6 256.7h0.8M156.2 256.1h0.8M152.8 256.3h0.8M183.7 254.3h0.8M125.7 255.8h0.8M140.4 256h0.8M139.8 257.7h0.8M145.8 256.8h0.8M151.9 256.7h0.8M127.3 257.7h0.8M130.9 256.5h0.8M145.9 257.4h0.8M155.6 256.1h0.8M125.2 254.8h0.8M118.9 258.3h0.8M158.1 256.8h0.8M153.7 256.3h0.8M157.3 256.4h0.8M127.4 258.1h0.8M138.6 257.7h0.8M144.8 256.8h0.8M147.9 257.4h0.8M139.8 256.8h0.8M140.8 258h0.8M156.2 255.4h0.8M135.2 257.5h0.8M133.5 257h0.8M135.2 256.8h0.8M134.1 255.5h0.8M143.4 257.2h0.8M138.5 256.4h0.8M135.1 255.8h0.8M162.1 255.7h0.8M145.9 256.3h0.8M136.6 256.7h0.8M159.8 255.6h0.8M133.5 255.8h0.8M141.5 256.8h0.8M140.1 256.5h0.8M133.2 258.6h0.8M135.9 256.3h0.8M142.7 257h0.8M120.8 260.2h0.8M135.9 256.5h0.8M145.1 257h0.8M145.5 256.6h0.8M145.8 256.4h0.8M175.2 256.7h0.8M151.1 255.7h0.8M139.4 256.1h0.8M139.7 255.3h0.8M141.4 256.4h0.8M147.7 257h0.8M137.2 256.4h0.8M163.1 256.5h0.8M125.6 255.8h0.8M150.5 257h0.8M148.7 256.3h0.8M125.1 256.2h0.8M150.5 257.3h0.8M149.4 256.3h0.8M132.3 257.3h0.8M174.6 255.8h0.8M151.6 256.7h0.8M136.8 256.7h0.8M134.6 255.6h0.8M130.8 257.1h0.8M145.2 256.7h0.8M142.3 256.7h0.8M121.3 256.6h0.8M126.6 259.4h0.8M131.2 256h0.8M135.7 256.7h0.8M136.3 256.8h0.8M131.9 255.6h0.8M150.6 255.6h0.8M155 256.6h0.8M142.5 256.9h0.8M110.1 257.6h0.8M139.2 255.4h0.8M149.4 256.1h0.8M140.3 256.7h0.8M145.3 256.8h0.8M142.9 257.3h0.8M120.2 257.9h0.8M105.3 259.5h0.8M150.3 257.3h0.8M134 254.5h0.8M147.3 257h0.8M137.1 256.3h0.8M139 256.9h0.8M160.9 256.2h0.8M124.4 255.3h0.8M141.3 255.9h0.8M125.8 257.5h0.8M142.4 256.4h0.8M148.2 256.8h0.8M150.7 256.1h0.8M143.6 257.8h0.8M121.8 256.5h0.8M144.9 257.7h0.8M154.1 255.8h0.8M155.6 256.5h0.8M171.9 256.5h0.8M149.4 255.5h0.8M126.9 255.5h0.8M134 257.1h0.8M142.6 257.2h0.8M156.3 257h0.8M125.1 257.7h0.8M154.4 256.8h0.8M150.7 255.6h0.8M129 256.3h0.8M150.1 257.2h0.8M130.5 256.1h0.8M141.4 256.3h0.8M137.1 255.2h0.8M144.8 256.3h0.8M124.6 254.5h0.8M148.9 256.5h0.8M110.5 260.6h0.8M135.6 256.9h0.8M133.4 256.8h0.8M163.9 255.8h0.8M149.1 256.7h0.8M134.5 255.7h0.8M128.7 256.2h0.8M141.9 257.9h0.8M132.5 255.4h0.8M173.2 255.5h0.8M101.9 254.6h0.8M142.4 257.3h0.8M106.4 256.8h0.8M156.2 255.4h0.8M130 255.3h0.8M164.3 256.6h0.8M133.7 257.3h0.8M156.8 256.6h0.8M144.3 256.4h0.8M158.3 256.6h0.8M141.8 257.4h0.8M99.1 258.7h0.8M131.1 255h0.8M119.2 253.2h0.8M154.9 255.3h0.8M149.1 256.5h0.8M141.5 255.5h0.8M147.9 255.7h0.8M144.2 256.4h0.8M133.3 255.8h0.8M169.3 255.1h0.8M144.8 257h0.8M138.7 256.9h0.8M120.6 258.4h0.8M132.6 257.6h0.8M141.6 257.5h0.8M138.9 256.5h0.8M134.6 256.5h0.8M140.7 255.3h0.8M125.4 256.5h0.8M141.6 256.1h0.8M119.4 259h0.8M129.2 257.6h0.8M130.9 258.3h0.8M153.8 256.8h0.8M148.4 257h0.8M142.5 256.8h0.8M125.1 257h0.8M135.7 256.3h0.8M152.8 256.2h0.8M159.3 255.5h0.8M120.4 257.7h0.8M135.3 256.5h0.8M143 255.1h0.8M146.4 254.7h0.8M141.6 256h0.8M151 256h0.8M120.9 256.4h0.8M163.7 256.7h0.8M125.2 255.9h0.8M142.3 255.6h0.8M148.9 256.5h0.8M158.1 256.7h0.8M154.4 257.1h0.8M153.9 255.6h0.8M159.7 255.9h0.8M139.3 256.2h0.8M152.2 257.1h0.8M163.5 256.4h0.8M130.7 256.7h0.8M121.6 258.2h0.8M127.2 256.3h0.8M161.7 255.9h0.8M159.3 256h0.8M136.5 256.2h0.8M145.1 256.2h0.8M148.4 256.5h0.8M156.6 256.3h0.8M114.7 260.3h0.8M133.6 257.4h0.8M137.9 256.5h0.8M146.2 255h0.8M142.7 255.4h0.8M137.1 256.1h0.8M145.8 256.1h0.8M104.9 254.4h0.8M185.6 255.3h0.8M153.4 256.3h0.8M154.3 255.8h0.8M132.3 256.5h0.8M147.6 256.3h0.8M171.1 255.4h0.8M167.7 255.4h0.8M142.8 256.3h0.8M123.9 257.2h0.8M144 255.7h0.8M137.4 254.9h0.8M153.9 255.6h0.8M123.4 257.6h0.8M139 255.3h0.8M145.6 256.9h0.8M135 256.1h0.8M156.8 256.2h0.8M125.4 255.6h0.8M124 257.7h0.8M136.7 256.6h0.8M153.6 256.4h0.8M137.4 255h0.8M133.3 257.3h0.8M153.3 255.2h0.8M145 256.2h0.8M134.2 257.1h0.8M143.5 256.3h0.8M138.3 256.9h0.8M150.5 256.3h0.8M143.8 256.4h0.8M130.3 255.8h0.8M134.9 257.5h0.8M135.8 257.5h0.8M147.1 256h0.8M147.1 255.8h0.8M129.8 256.9h0.8M139 255.9h0.8M146.2 256.4h0.8M157.5 256.6h0.8M145.3 256.8h0.8M169.7 256.7h0.8M142.1 256.7h0.8M152.3 255.6h0.8M137 255.8h0.8M127.5 257.4h0.8M143.3 257.6h0.8M148.7 256.1h0.8M146.4 255.8h0.8M143.8 257.3h0.8M137 256.4h0.8M130 257.5h0.8M137.4 257.4h0.8M148.5 255.7h0.8M155.4 255.9h0.8M94.5 256.6h0.8M150.5 256.5h0.8M157.3 256.5h0.8M159.9 255.7h0.8M147.2 256.6h0.8M151.3 255.2h0.8M135.3 256.9h0.8M140.5 256.7h0.8M149.3 256.3h0.8M126 254.7h0.8M130.4 256.5h0.8M144.6 255.7h0.8M122.6 259.2h0.8M142.5 256.2h0.8M120.4 256.5h0.8M144.5 256.3h0.8M142.1 256.8h0.8M133.6 256.7h0.8M128.2 257.4h0.8M134.4 255.8h0.8M109.5 259.6h0.8M136 256.1h0.8M143.4 256.9h0.8M159 256.2h0.8M134.4 257.5h0.8M139.2 256.4h0.8M161.7 255.2h0.8M166.7 255.2h0.8M134.7 256.4h0.8M156.8 256.9h0.8M158.6 255.8h0.8M149.1 256.3h0.8M127.5 258.3h0.8M128.2 256h0.8M150 256.4h0.8M175.3 255.9h0.8M139.1 256h0.8M164.3 256.1h0.8M169 256.4h0.8M123.8 258.4h0.8M133.1 256.3h0.8M163.4 257.6h0.8M155.8 256.3h0.8M149.6 256.1h0.8M141.6 255.9h0.8M150.8 255.7h0.8M132.6 257.4h0.8M177.7 254h0.8M125.1 256.5h0.8M115.9 254h0.8M143.9 256.3h0.8M162.5 256h0.8M134.6 255.4h0.8M140.9 255.8h0.8M127 258.4h0.8M140.7 256.1h0.8M127.1 256.7h0.8M127.3 256.3h0.8M120.5 258.3h0.8M133.8 257.7h0.8M168.5 256.4h0.8M140.9 256.8h0.8M144.5 256.7h0.8M173.9 255.1h0.8M132.6 257.9h0.8M127.3 256h0.8M149.2 255.7h0.8M124 256.2h0.8M146.5 255.8h0.8M158.4 256.3h0.8M126.1 257.7h0.8M134.2 257.7h0.8M166.2 255.8h0.8M126.4 255.9h0.8M131.9 256.3h0.8M145.1 255.6h0.8M137.2 255.9h0.8M129.4 259h0.8M164.8 255.5h0.8M133.3 256.2h0.8M146.5 256.7h0.8M135.8 256.8h0.8M138.4 257.1h0.8M121.9 255.3h0.8M155.1 255.5h0.8M135.5 257.7h0.8M160.1 255.6h0.8M124.9 256.6h0.8M134.7 256.8h0.8M148.6 255.2h0.8M143.3 256.3h0.8M132.2 256h0.8M139.7 256.8h0.8M123 256.3h0.8M142.5 254.9h0.8M103.5 258.8h0.8M144.2 254.8h0.8M161.3 255.8h0.8M154.6 255.7h0.8M154 255.8h0.8M135.6 256.5h0.8M148.8 256.8h0.8M135.9 255.8h0.8M140.4 256h0.8M140.3 257h0.8M93.1 258.1h0.8M155 256.5h0.8M148.3 256.5h0.8M153.9 256h0.8M128 256.1h0.8M151.7 255.9h0.8M148.7 256.8h0.8M109.5 260.4h0.8M116.2 261.1h0.8M142.5 255.7h0.8M132.1 256.4h0.8M141.5 256.4h0.8M132.5 256.5h0.8M163.3 255.3h0.8M114.3 261.7h0.8M122 259.4h0.8M127.6 256.5h0.8M122 256h0.8M133.4 256.6h0.8M141.3 255.6h0.8M122.3 256.2h0.8M147 256.8h0.8M160.7 257h0.8M157.5 256.6h0.8M170.7 256.5h0.8M158.1 255.5h0.8M141.3 254.2h0.8M167.5 256.6h0.8M151.9 256.3h0.8M168.8 255.8h0.8M139 257.7h0.8M111.4 254.9h0.8M124.9 255.3h0.8M144.4 255.9h0.8M149.7 257.2h0.8M138.8 257.2h0.8M156.3 255.1h0.8M125.2 259.2h0.8M131.7 256.6h0.8M156.1 256.4h0.8M142.6 255.9h0.8M143.2 257.6h0.8M162.2 256.2h0.8M157.7 256.8h0.8M130.4 255.6h0.8M144.8 256.8h0.8M117.3 257.1h0.8M141.7 256.3h0.8M147.5 255.8h0.8M116.9 255.5h0.8M164.5 255.3h0.8M170.8 255.4h0.8M149.1 256.3h0.8M155.3 256.5h0.8M163.6 255.1h0.8M139.4 255.7h0.8M157 255.7h0.8M147.5 255.3h0.8M119.9 256.3h0.8M128.9 256.4h0.8M133.8 256.4h0.8M157.4 256.3h0.8M143.4 257h0.8M156.2 256.6h0.8M135.2 256.8h0.8M123.5 257.7h0.8M171.8 255.3h0.8M181.4 255h0.8M147.5 256.7h0.8M139.2 256.9h0.8M159.2 257.3h0.8M126 256.4h0.8M139 255.8h0.8M121.3 257.3h0.8M149 256h0.8M145.6 255.8h0.8M136.2 257.7h0.8M132.6 258.5h0.8M120.1 257.5h0.8M130.1 255.9h0.8M159.8 256.2h0.8M136.9 256.5h0.8M160.2 255.2h0.8M129.5 257.7h0.8M140.9 256.7h0.8M135.4 257.6h0.8M138.3 256.1h0.8M153.2 256.2h0.8M112.4 256.8h0.8M152.7 255.2h0.8M152.1 257.7h0.8M142.1 255h0.8M143.1 255.6h0.8M138.8 256.2h0.8M152 255.3h0.8M142.9 256.7h0.8M129.8 256.1h0.8M144.2 256.4h0.8M155.8 256.3h0.8M147.4 256.4h0.8M142.5 256.5h0.8M145 256.3h0.8M134.9 257h0.8M135.4 257.3h0.8M114.9 256.4h0.8M139.4 256.2h0.8M156.2 255.9h0.8M136.4 256.8h0.8M129 256.3h0.8M155 255.9h0.8M144.4 255.4h0.8M144.1 257.6h0.8M148.8 255.5h0.8M152.1 257.2h0.8M141.4 257h0.8M130.1 257.9h0.8M167.1 256h0.8M142.9 256.7h0.8M130.9 257h0.8M144.7 256.8h0.8M159.2 256.5h0.8M121.7 259.5h0.8M160.9 255.5h0.8M140.1 256.8h0.8M170.7 256.7h0.8M151.6 257.1h0.8M140.5 255.7h0.8M160.1 256.2h0.8M160.3 256.2h0.8M137 256.8h0.8M145.4 254.9h0.8M134.7 257.4h0.8M155.2 255.2h0.8M121.9 260.7h0.8M139.5 257h0.8M111.5 256.9h0.8M150.5 256.6h0.8M110.1 257.5h0.8M126.9 256.1h0.8M145.8 256.3h0.8M137 256.8h0.8M135.7 255.9h0.8M128.2 257.7h0.8M135.4 257.6h0.8M116.9 259.3h0.8M146.7 257.1h0.8M153.6 257h0.8M153 256.6h0.8M141.5 257.4h0.8M159.6 256.1h0.8M148.7 256.6h0.8M155.8 257h0.8M147.7 257.5h0.8M142.5 256.2h0.8M131.2 255.1h0.8M104.4 262h0.8M151.3 256.9h0.8M140.4 257.8h0.8M170.5 256.4h0.8M113.7 257.7h0.8M154.1 255.8h0.8M128.5 255.6h0.8M142 257.5h0.8M129.4 257.9h0.8M147.1 256.5h0.8M141.6 255.7h0.8M154.6 255.9h0.8M144.2 256h0.8M148.9 256.1h0.8M160.3 254.4h0.8M149.5 256.4h0.8M140.2 257.6h0.8M159.8 255.7h0.8M140.5 256.5h0.8M147.9 256.5h0.8M137.5 255.8h0.8M132.6 257.1h0.8M99.2 255.9h0.8M152 256h0.8M125.6 257.2h0.8M152.6 256.2h0.8M167.9 255.9h0.8M123.3 255.4h0.8M154.6 256.6h0.8M140.7 255.7h0.8M148.6 256.8h0.8M125 256.1h0.8M142.5 255.6h0.8M144.3 256.4h0.8M162.5 255.4h0.8M172.7 255.5h0.8M146.6 256.3h0.8M136.9 257.2h0.8M173.8 256.2h0.8M140.6 256.8h0.8M141.3 256.3h0.8M143.6 255.4h0.8M148.8 256.2h0.8M152.3 256h0.8M133.9 256.5h0.8M140.6 256.1h0.8M169 255.6h0.8M165 256.4h0.8M148.5 255.5h0.8M146.1 256.4h0.8M138.9 257.5h0.8M156.8 255.7h0.8M134.8 255.7h0.8M144 256.3h0.8M135.7 256.3h0.8M133.3 256.9h0.8M142.8 257.4h0.8M142.3 256.4h0.8M134 257.2h0.8M141.3 256.1h0.8M143.2 256.1h0.8M135.5 256.9h0.8M132.9 256h0.8M140.3 257.4h0.8M152.2 256h0.8M158 256h0.8M144.9 255.7h0.8M138.4 256.2h0.8M141.8 255.8h0.8M169.5 255.6h0.8M155.3 255.1h0.8M128.7 256.8h0.8M141.5 257.7h0.8M134.7 254.9h0.8M137 258h0.8M118.2 256.8h0.8M142.6 257h0.8M122.9 255.2h0.8M133.9 258.6h0.8M163.9 255.3h0.8M156.5 256.1h0.8M129.9 258.6h0.8M127.5 255.1h0.8M129.3 253.9h0.8M115.4 256.9h0.8M128.3 255.8h0.8M138.4 255.8h0.8M127.3 255.5h0.8M153 255.3h0.8M141.5 257.5h0.8M134.7 257.7h0.8M167.2 255.1h0.8M152.4 256.2h0.8M143.3 256.1h0.8M168.6 256.5h0.8M161 255.5h0.8M132.2 258.4h0.8M146.9 256.3h0.8M136 255.9h0.8M121.8 256.8h0.8M169.4 255.5h0.8M163.7 257.3h0.8M124.1 257.1h0.8M149.3 256h0.8M118.8 257.2h0.8M157.6 257h0.8M141.5 255.8h0.8M138.1 255.2h0.8M160.3 256.8h0.8M142.4 256.9h0.8M138.6 256.2h0.8M155.3 256.1h0.8M137.9 257.4h0.8M154.8 254.5h0.8M142.3 257.3h0.8M154.1 256.1h0.8M151.3 256.7h0.8M153.6 256.2h0.8M127.9 260.9h0.8M169.3 255.5h0.8M140 257.3h0.8M167.6 254.3h0.8M133.7 256.7h0.8M138.4 257.2h0.8M138.5 255.3h0.8M158.9 254.9h0.8M136.2 256.7h0.8M148.3 256.9h0.8M119.8 259.3h0.8M135.4 256h0.8M145.5 256.6h0.8M140.7 255.5h0.8M115.3 261h0.8M149.5 255.9h0.8M128.4 258.4h0.8M170.2 255.7h0.8M139.5 256.3h0.8M174.8 256.7h0.8M151.9 255.7h0.8M148.9 257.1h0.8M135.4 256.3h0.8M140.6 255.8h0.8M148.8 255.8h0.8M114.2 259.7h0.8M156.6 256.1h0.8M125.4 256.3h0.8M138.6 255.3h0.8M102.8 259.8h0.8M148.9 257h0.8M153.1 256.4h0.8M146.4 256.9h0.8M146.9 254.3h0.8M136.9 256.1h0.8M144.5 256.5h0.8M159.8 256.1h0.8M136.1 256.1h0.8M149.5 256.4h0.8M152.8 255.8h0.8M138.9 256h0.8M145.7 255.6h0.8M145.4 256.5h0.8M135.1 255.9h0.8M177.5 255.4h0.8M136 257.8h0.8M167.1 255.9h0.8M157.8 256.1h0.8M112.8 253.5h0.8M145.9 256h0.8M157.2 256.7h0.8M154.1 256.5h0.8M129.2 256.8h0.8M146 256.2h0.8M124.9 256.9h0.8M127.2 257.3h0.8M138.8 256.3h0.8M145 254.7h0.8M165.6 257.1h0.8M147.5 257h0.8M157.6 256h0.8M124.8 259h0.8M125.5 254.8h0.8M135.2 257.8h0.8M167.7 256h0.8M122.8 258.4h0.8M119.3 256.2h0.8M141.2 256.6h0.8M159.5 256.4h0.8M118.5 259.1h0.8M138.6 256.9h0.8M122.5 257.7h0.8M163.3 255.6h0.8M152.3 257.3h0.8M146.2 256.5h0.8M141.5 256.3h0.8M138.8 256.3h0.8M144.2 255.6h0.8M132.8 255.9h0.8M129.4 254.8h0.8M126 257.1h0.8M142.4 256.4h0.8M130.6 256.9h0.8M154.9 255.4h0.8M111.6 256.1h0.8M150.5 255.9h0.8M150 256.9h0.8M159.9 255.2h0.8M138.5 255.3h0.8M120.3 259.4h0.8M128.7 257.2h0.8M158.7 255.1h0.8M137.7 257.6h0.8M136.2 257.9h0.8M133.7 257.7h0.8M141.2 255h0.8M138.9 256.6h0.8M119.5 255.2h0.8M133.5 256.4h0.8M156.9 255.2h0.8M163.3 257h0.8M140.4 256h0.8M134.6 256.9h0.8M162 256.5h0.8M139.6 257h0.8M125 257.5h0.8M140.3 256.2h0.8M152.3 256.4h0.8M164.9 255.8h0.8M135.1 254.5h0.8M150 256.9h0.8M137.3 256h0.8M158.8 255.8h0.8M145.9 256.1h0.8M146 255.5h0.8M127.8 255.1h0.8M137.5 255.1h0.8M137.4 256.9h0.8M89.6 259h0.8M154.6 256.2h0.8M142 255.6h0.8M139.1 257.5h0.8M136.9 256.3h0.8M142.5 255.3h0.8M145.7 255.1h0.8M123.1 257.2h0.8M144 257.4h0.8M143.8 256.1h0.8M142.5 256h0.8M120.4 256.4h0.8M140.1 255.9h0.8M123.4 255.9h0.8M147.2 256.5h0.8M161.3 255.6h0.8M154.8 256.7h0.8M137.2 255.7h0.8M134.2 257.3h0.8M133.9 257h0.8M147.2 256.1h0.8M132.4 256.3h0.8M134.3 256.3h0.8M105.5 261.1h0.8M129.7 255.7h0.8M130.7 258.1h0.8M134.2 257.6h0.8M159.8 255.8h0.8M122.3 259.8h0.8M122.7 252.7h0.8M150.9 256.4h0.8M127.8 256.9h0.8M139.7 256.5h0.8M144.6 256.9h0.8M142.3 256.2h0.8M130.8 256.5h0.8M155.5 256.8h0.8M164 255.9h0.8M127.5 255.3h0.8M138.1 257h0.8M155.8 256.1h0.8M103.6 259.5h0.8M118.1 264.8h0.8M100.9 259.7h0.8M98.2 264.1h0.8M107.5 264.7h0.8M108.4 263.4h0.8M111.6 259.7h0.8M95.3 262.6h0.8M133.3 264.7h0.8M119.7 263.5h0.8M112.8 264.4h0.8M113.9 264.9h0.8M78.4 261.8h0.8M122.9 263.1h0.8M97.6 262.1h0.8M117.5 265.8h0.8M95.4 257.8h0.8M123.7 257.2h0.8M104 264.2h0.8M108.1 264h0.8M130.8 262.5h0.8M123.8 257.1h0.8M93 259.7h0.8M101.8 264.6h0.8M113.4 258.4h0.8M107.9 257.2h0.8M121.4 265.8h0.8M102 261.9h0.8M86.5 258.1h0.8M99.1 260.3h0.8M108.5 264.6h0.8M118 264.6h0.8M120.6 259.3h0.8M127.1 263.9h0.8M114 260.1h0.8M108.3 258.7h0.8M120.4 262.2h0.8M109.6 260.4h0.8M104.8 264h0.8M104.8 265h0.8M123 265.8h0.8M130.2 263.8h0.8M128 260.2h0.8M90.1 260.1h0.8M125.1 258.7h0.8M96.3 261.2h0.8M106.5 263.7h0.8M118.5 257.4h0.8M93.6 258h0.8M95 263.2h0.8M101.2 259.3h0.8M132.9 262h0.8M124.9 261.7h0.8M99.2 258.5h0.8M112.7 264.9h0.8M112.7 261.2h0.8M115 257.3h0.8M101.7 264.9h0.8M129.7 263.6h0.8M106 258.5h0.8M121.6 264.2h0.8M89 258.1h0.8M116 261.4h0.8M112.8 263h0.8M128.6 265.9h0.8M77.2 265.6h0.8M118.1 265h0.8M121.5 265.4h0.8M107.5 258h0.8M128 257.4h0.8M138.3 258h0.8M122.4 263.1h0.8M121.5 257.4h0.8M128.5 258.8h0.8M116.6 257.4h0.8M126.9 262.6h0.8M118.7 263.1h0.8M102 259.1h0.8M97.3 259.2h0.8M126.2 265.8h0.8M118.7 260.9h0.8M102.2 259.4h0.8M111.3 263.1h0.8M130 263.5h0.8M88.7 261.7h0.8M99.2 257.8h0.8M120 259.3h0.8M121.7 264.2h0.8M95.7 259.5h0.8M98 258.4h0.8M113.1 259.5h0.8M129.2 263.7h0.8M111.1 265.2h0.8M80.7 264.9h0.8M124.3 265h0.8M110.7 265.1h0.8M105 265.7h0.8M95.8 264.6h0.8M126.5 262.6h0.8M114.4 259.7h0.8M116.2 266h0.8M115.5 259h0.8M116.6 259.9h0.8M121.8 263.9h0.8M133.2 261h0.8M97.1 257.4h0.8M110 261.9h0.8M105.1 264.9h0.8M132.8 261.7h0.8M107.2 263.9h0.8M90 258.8h0.8M110.6 264h0.8M101.4 260h0.8M101.3 260.2h0.8M105.1 263.7h0.8M93.9 262h0.8M85.8 260.9h0.8M136.3 260.2h0.8M109.3 259.8h0.8M98.8 264.9h0.8M119 262.2h0.8M128.3 263.9h0.8M88.2 265.6h0.8M105.1 261.1h0.8M114.6 263.4h0.8M100 257.6h0.8M116.8 261.5h0.8M94.8 263.1h0.8M102.3 263.8h0.8M109.4 262.6h0.8M116.5 261.3h0.8M111.4 265.4h0.8M102.1 258.6h0.8M106.1 263.2h0.8M83.4 260.5h0.8M138.7 257.1h0.8M105.6 266h0.8M107.1 263.9h0.8M114.4 264.6h0.8M118.4 258h0.8M115.4 264.4h0.8M102.1 261h0.8M89.3 259.5h0.8M108.6 262h0.8M100.5 264.6h0.8M103.7 265.5h0.8M110.9 261.6h0.8M114 263.8h0.8M127.7 264.5h0.8M109 262.8h0.8M88.4 265.9h0.8M118.5 261.1h0.8M123 257.9h0.8M89.5 261h0.8M118.8 261.7h0.8M113.3 263.8h0.8M103.8 264.5h0.8M113.1 257.4h0.8M116 259.1h0.8M118.6 258.4h0.8M125.8 265.2h0.8M110.7 257.9h0.8M110.8 264.8h0.8M142.3 258.7h0.8M97 264.8h0.8M107.3 261.6h0.8M106.3 264.2h0.8M120.9 265.6h0.8M125.3 265.9h0.8M93.7 257.7h0.8M126.9 264.9h0.8M95.4 263.7h0.8M144.9 260.2h0.8M102.2 258.9h0.8M125.3 262.9h0.8M107.4 263.3h0.8M120.1 258.2h0.8M101.1 263.6h0.8M112.6 262h0.8M111.2 263.1h0.8M112.1 264.5h0.8M121.2 261.2h0.8M105.2 265.3h0.8M106.7 262.2h0.8M93.8 259.4h0.8M109.1 260.3h0.8M104.5 259.7h0.8M122.4 265.5h0.8M119.6 262.9h0.8M101.5 261.9h0.8M116.7 265.2h0.8M128 262.4h0.8M108.2 261.6h0.8M95.6 261h0.8M143 264.8h0.8M118.1 261.7h0.8M120.1 260.3h0.8M143.5 258.8h0.8M100.5 259.6h0.8M114.9 264h0.8M86.2 258.9h0.8M117.3 264.7h0.8M116.1 264.3h0.8M100.7 259.2h0.8M99.8 258h0.8M108.6 264.6h0.8M107.9 262.2h0.8M131.5 264.6h0.8M107.7 265.5h0.8M108.9 258.6h0.8M108.6 262.9h0.8M90.1 259.3h0.8M104.6 261.5h0.8M93.3 258.1h0.8M112.6 264.2h0.8M82.4 260.5h0.8M96.3 258.3h0.8M114.2 258.1h0.8M83.6 260.8h0.8M90.6 259.8h0.8M123.8 263.3h0.8M93.6 258.6h0.8M110.8 259.8h0.8M114.9 265.3h0.8M97.1 260.1h0.8M88.9 258.1h0.8M130.8 258.7h0.8M103.6 265.1h0.8M117.6 258.4h0.8M101 258.9h0.8M115.6 262.2h0.8M93.8 260.3h0.8M93 257.4h0.8M97.3 260.7h0.8M102.7 258.9h0.8M102.7 260.7h0.8M106.6 262.2h0.8M116.5 261.4h0.8M103.9 258.1h0.8M123.1 263.1h0.8M102.3 258.9h0.8M119.5 264.3h0.8M128 261.5h0.8M133.5 257.4h0.8M85 265.9h0.8M133.3 259.2h0.8M87.9 257.1h0.8M129.4 264.6h0.8M110.7 260.8h0.8M115.5 260.3h0.8M98.6 263.8h0.8M123.1 266h0.8M119.8 258.3h0.8M103.7 264.2h0.8M102.9 265.8h0.8M122.1 265.4h0.8M124.3 259.8h0.8M120.9 257.5h0.8M105.9 261.6h0.8M110.9 262.6h0.8M123.1 259.1h0.8M121.8 262.4h0.8M125.6 257.3h0.8M112.8 264.7h0.8M101.8 260.2h0.8M114.7 257.4h0.8M116.8 259.4h0.8M104 265h0.8M116.8 258.7h0.8M100 259.3h0.8M114.3 260h0.8M103.1 260.9h0.8M138.5 258.7h0.8M126.4 259h0.8M114.3 264.1h0.8M93.8 262.4h0.8M94.9 258.9h0.8M120 265.8h0.8M109 260.1h0.8M114.9 261.9h0.8M90.4 262.7h0.8M91.3 265.8h0.8M112.4 263.2h0.8M108.2 264.7h0.8M93.6 260.6h0.8M100.5 259.7h0.8M121.1 263.8h0.8M105.3 262.5h0.8M118.4 261h0.8M132.4 257.9h0.8M115.3 261.1h0.8M112.6 257.7h0.8M103.2 263.5h0.8M126.8 259h0.8M92.1 261.7h0.8M96.6 261.3h0.8M110.7 257.1h0.8M91.8 265.7h0.8M123.7 258.8h0.8M102.8 263.6h0.8M117.8 265.3h0.8M106.9 261.3h0.8M107.6 259.9h0.8M111.1 257.7h0.8M85.4 259.7h0.8M96.8 261.1h0.8M104.8 260.6h0.8M139.8 259h0.8M121.5 262.5h0.8M120.3 264h0.8M97.4 260.5h0.8M122.5 259.1h0.8M127.1 259.7h0.8M120.7 258.8h0.8M145 265.6h0.8M93.4 264.8h0.8M96.9 257.7h0.8M107.5 258.1h0.8M98.2 264.4h0.8M111.6 261.4h0.8M117.7 259.9h0.8M110.7 265.3h0.8M112.2 260.7h0.8M116.2 260.9h0.8M121 264.8h0.8M102.3 263.6h0.8M102.2 261.8h0.8M126.4 257.2h0.8M106.5 261.6h0.8M100.1 264.4h0.8M114.6 261.8h0.8M106.3 258.5h0.8M112.4 262.6h0.8M110 264h0.8M119.1 261.7h0.8M122.8 261.5h0.8M100.1 264.1h0.8M95.1 260h0.8M131.6 259.6h0.8M102 260.6h0.8M90.7 260.1h0.8M86.2 263h0.8M110.4 263.8h0.8M102.5 261.6h0.8M87 265.3h0.8M98.5 264.8h0.8M97.1 264.7h0.8M123.8 263.6h0.8M113.9 265.5h0.8M110.7 259.6h0.8M94.3 263.2h0.8M108.5 260.6h0.8M119.4 260.9h0.8M112.9 265.7h0.8M124.5 261.8h0.8M111.8 262.3h0.8M119.8 258h0.8M116.7 264.1h0.8M103.4 259.5h0.8M128.2 260.9h0.8M115.5 259.2h0.8M121.5 262.9h0.8M97 259h0.8M96.7 262.1h0.8M108.5 260.8h0.8M100.3 262.2h0.8M118.9 264.9h0.8M116.1 261.3h0.8M126.7 262.4h0.8M118.5 262.3h0.8M96.1 258.8h0.8M123.1 264.5h0.8M102.3 261.7h0.8M101.3 264.6h0.8M111.6 257.5h0.8M110.7 261.6h0.8M124.3 259.8h0.8M147.5 257.7h0.8M116.3 265.6h0.8M129.7 263h0.8M108 264.9h0.8M115.2 262.3h0.8M104.1 260.1h0.8M105.3 261.4h0.8M128.2 258h0.8M116.7 262.6h0.8M116.6 263h0.8M100.4 261.9h0.8M133 263.8h0.8M108.5 259.7h0.8M102.3 265.1h0.8M110.5 263.1h0.8M119.5 259.1h0.8M120.5 263.1h0.8M129.9 263.3h0.8M97 265.2h0.8M105.2 261.3h0.8M131.1 259.1h0.8M140.3 258.2h0.8M102.7 260h0.8M109.6 260.8h0.8M90.8 263.7h0.8M100.1 257.6h0.8M99.3 258h0.8M109.5 263.7h0.8M95.4 258.8h0.8M122.9 257.2h0.8M110.1 257.8h0.8M107.5 262.9h0.8M122.8 262.3h0.8M107.4 265.4h0.8M94.7 258.3h0.8M111.2 263h0.8M139 257.6h0.8M112.1 264.3h0.8M117.6 261.6h0.8M108.3 257.5h0.8M108 257h0.8M117.4 265.6h0.8M76.5 261.3h0.8M94.7 265.3h0.8M103.1 258.2h0.8M107.3 261.3h0.8M129.7 263.2h0.8M142.7 257.5h0.8M119 262h0.8M116 265.7h0.8M119.7 259.3h0.8M130.4 259.3h0.8M98.1 259.3h0.8M104.5 261.7h0.8M112.8 260h0.8M114.7 262.3h0.8M86.2 265.7h0.8M116.4 257.8h0.8M90.2 265.5h0.8M120.8 264h0.8M121.8 262.7h0.8M81.5 260.3h0.8M117.3 263.9h0.8M113.4 258.3h0.8M102.8 257.2h0.8M123.2 262.2h0.8M136.8 258.9h0.8M117.3 259.5h0.8M96.6 259.8h0.8M92.1 260h0.8M95.7 262.1h0.8M97.6 264.8h0.8M125.4 265.1h0.8M114.5 261.7h0.8M110.5 258.4h0.8M122.1 260.2h0.8M111 265.7h0.8M111.3 258.1h0.8M99.9 264.2h0.8M102.7 262.2h0.8M111.2 263.9h0.8M95.7 264.2h0.8M132.3 262.1h0.8M112.4 264.4h0.8M103.7 264.3h0.8M123.4 264.5h0.8M97.1 264.9h0.8M124.5 258.3h0.8M111.9 261.3h0.8M135.2 265.9h0.8M103.7 259.6h0.8M105.7 260h0.8M99.9 264.6h0.8M94.6 264h0.8M114 264.2h0.8M97.1 264.6h0.8M114.9 266h0.8M102.5 258.4h0.8M124.4 261.8h0.8M77.7 260.7h0.8M116.2 260.6h0.8M111.4 264.6h0.8M110.8 265.9h0.8M102.6 263.3h0.8M133.4 257.2h0.8M105.5 260.7h0.8M116.3 265.5h0.8M107.4 261.7h0.8M106.1 259h0.8M111.9 258.1h0.8M119.5 258.8h0.8M96.3 257.8h0.8M104.7 264.4h0.8M92.5 263.1h0.8M115.9 262.7h0.8M99.7 264h0.8M101.1 261.2h0.8M119.2 264.1h0.8M110.6 264.2h0.8M116 263.1h0.8M108.9 258.7h0.8M116 265.7h0.8M111.9 261.5h0.8M96.3 263.5h0.8M113.5 259.4h0.8M106.3 258h0.8M107.6 257.5h0.8M114.4 257.5h0.8M103.6 265.8h0.8M97 257.8h0.8M126.1 258.3h0.8M134.6 265.2h0.8M106.3 257.1h0.8M125.6 264.5h0.8M115.7 264h0.8M102.4 265.2h0.8M99.9 262.8h0.8M107.1 259.3h0.8M105.2 265.9h0.8M106.4 264h0.8M109.1 259.4h0.8M96.1 259.5h0.8M121.9 263.9h0.8M96.1 262h0.8M96.9 265h0.8M122.7 260.2h0.8M120.6 258.8h0.8M129.6 263.7h0.8M112.5 257.6h0.8M102.4 259.8h0.8M125.6 260.8h0.8M109.5 262h0.8M109.1 261.7h0.8M99.7 265h0.8M116 264.5h0.8M80.1 258.5h0.8M117.6 258.3h0.8M84.8 262.9h0.8M122.1 260.4h0.8M90.5 265.8h0.8M119.6 259.7h0.8M142.8 258.8h0.8M107.1 260.1h0.8M95.6 263.3h0.8M136 262.1h0.8M105 259.2h0.8M96.3 265.2h0.8M127 265.4h0.8M73.8 264.3h0.8M91.5 259.7h0.8M93.7 257.5h0.8M101.7 262.8h0.8M84.4 263h0.8M121.4 265.1h0.8M124 257.2h0.8M110 259.1h0.8M105.4 265.4h0.8M90.4 266h0.8M116.8 260.1h0.8M101.6 264.8h0.8M118.7 264.4h0.8M124 258h0.8M111.3 263.9h0.8M83.3 260.6h0.8M98.6 259.9h0.8M128.5 263.4h0.8M114.3 260.9h0.8M129.2 265h0.8M81.7 259.5h0.8M109.3 259.2h0.8M108.5 257.7h0.8M89.6 264.7h0.8M102.4 260.4h0.8M123.5 257.6h0.8M117.8 265.8h0.8M103.8 258.4h0.8M115 259h0.8M126.3 263.1h0.8M96.7 265.7h0.8M114.6 265.7h0.8M124.3 265.9h0.8M101.8 260.1h0.8M127.7 260.2h0.8M109.6 257.5h0.8M125.2 263.9h0.8M122.8 264.7h0.8M114.2 257.2h0.8M107 260h0.8M102.3 265h0.8M113 260.7h0.8M113.5 264.1h0.8M129 260.8h0.8M109.7 265.7h0.8M115.4 257.8h0.8M132.7 263.6h0.8M115 265.5h0.8M116.7 264.1h0.8M131.7 264.6h0.8M112 259.8h0.8M116 261.9h0.8M120.6 261.5h0.8M109.3 257.3h0.8M96.3 264.1h0.8M91.8 257.6h0.8M108.2 259h0.8M125.4 259.6h0.8M123.8 265.4h0.8M132 265.2h0.8M122.6 260.1h0.8M102.4 260.3h0.8M91.9 258.6h0.8M104.1 259.5h0.8M107.4 257.7h0.8M101.1 265.2h0.8M122.8 260.1h0.8M100.5 258.8h0.8M118.3 257.8h0.8M121 258.3h0.8M88.2 257.3h0.8M105.3 260.7h0.8M127.1 264.4h0.8M121.8 265.3h0.8M112.4 259.2h0.8M96.4 258h0.8M101.7 260.4h0.8M111.9 257.2h0.8M127.2 264.3h0.8M117.2 259.8h0.8M109.7 259.7h0.8M113.8 264.9h0.8M120.9 265.4h0.8M88 265.1h0.8M97.9 261.6h0.8M111.2 260h0.8M126.5 257.7h0.8M124.8 265.6h0.8M100.7 257.3h0.8M111.1 264.4h0.8M101.2 264.7h0.8M105.7 264.3h0.8M112.7 264.6h0.8M106.1 260.8h0.8M103.5 264.8h0.8M95.6 260.2h0.8M90.2 265.5h0.8M108.3 257.5h0.8M113.3 264.8h0.8M118.8 260.4h0.8M100.1 262.2h0.8M101.4 257.3h0.8M127.1 257.1h0.8M116.2 257.9h0.8M122.2 259h0.8M103.4 259.7h0.8M101.5 262.8h0.8M95.8 260.8h0.8M123.6 262.6h0.8M96 259.5h0.8M88.3 257.9h0.8M101 263.9h0.8M127.2 262.3h0.8M111.1 264.9h0.8M113.8 265.3h0.8M112.3 261.2h0.8M110.2 258.8h0.8M108.6 258.6h0.8M92.5 261h0.8M132.3 259.6h0.8M108.8 263.4h0.8M126.5 261.2h0.8M90.5 262.2h0.8M117.8 260.1h0.8M95.4 264h0.8M94 261.6h0.8M114.2 264.7h0.8M124.1 261.3h0.8M128.5 264.6h0.8M128 264.4h0.8M107.2 259.6h0.8M120.9 259.7h0.8M103 265.9h0.8M103.7 260.7h0.8M113.9 262.6h0.8M109.2 265.2h0.8M121.7 261.8h0.8M87 257.6h0.8M125.5 260.7h0.8M103.2 261.8h0.8M129.9 265.5h0.8M125.6 265.5h0.8M95.8 259.5h0.8M110.1 258h0.8M119.5 261.5h0.8M100.5 260.8h0.8M101.1 263.8h0.8M106.8 261.3h0.8M120.4 258.4h0.8M122.5 260.6h0.8M105.3 258.7h0.8M121.5 264.1h0.8M129.9 261.8h0.8M122.7 263.8h0.8M101.3 258.1h0.8M99.9 266h0.8M114.5 261h0.8M121.4 262.6h0.8M116.3 264.1h0.8M105.8 263.3h0.8M98.8 265.4h0.8M127.2 258.4h0.8M108.9 263.8h0.8M135 265.6h0.8M96 264.1h0.8M106.5 264.3h0.8M102.5 258.1h0.8M134.7 259.2h0.8M126.8 265.9h0.8M104.4 260h0.8M85.9 262.7h0.8M125.8 262.2h0.8M112.5 265.9h0.8M96.3 260h0.8M91.4 259.3h0.8M116 261.5h0.8M108.2 264.3h0.8M112.7 259.3h0.8M116 257.8h0.8M106.1 258.9h0.8M107.4 263.5h0.8M119.4 257.9h0.8M109.5 262.3h0.8M107.3 265.7h0.8M119.2 265h0.8M85.4 259.4h0.8M127 257.1h0.8M116.7 257.3h0.8M101 264.1h0.8M108.6 264.3h0.8M126.8 258.1h0.8M118.1 262.8h0.8M88 258.8h0.8M97.8 259.9h0.8M113.3 261.9h0.8M134 265.7h0.8M120.8 257.5h0.8M108.4 263.4h0.8M118.4 264.9h0.8M111.2 261.2h0.8M107.1 265.2h0.8M115.9 260.4h0.8M83.4 257.3h0.8M124 260.8h0.8M117.9 261.4h0.8M105.3 262.4h0.8M99.9 257.5h0.8M95.4 257.4h0.8M114.5 258.2h0.8M112.9 258.3h0.8M113.3 258.9h0.8M133.1 262.7h0.8M82.6 260.2h0.8M101.7 264.8h0.8M101 264.9h0.8M123.2 265h0.8M107.8 264.7h0.8M98.8 266h0.8M113.7 261.9h0.8M116.2 260.5h0.8M131.8 260.9h0.8M114.3 258h0.8M105.3 258.4h0.8M104.5 265.7h0.8M100.5 263.4h0.8M117.3 264.9h0.8M121.5 265h0.8M108.1 264.5h0.8M109.3 260.3h0.8M128.8 257.4h0.8M112.3 260.9h0.8M117.4 265.8h0.8M97 258.1h0.8M103.2 261.8h0.8M83.5 258.5h0.8M93.4 264.3h0.8M115.8 264.6h0.8M127.1 258h0.8M107.6 262.7h0.8M95.6 265.9h0.8M112.2 259.9h0.8M125.8 261.5h0.8M108.9 260.9h0.8M122.9 260.4h0.8M110.2 261.5h0.8M95.1 258.8h0.8M99.3 261.5h0.8M107.7 261h0.8M140.4 265.5h0.8M118.6 260.5h0.8M107.9 265.2h0.8M114.8 263.4h0.8M113.8 265.3h0.8M105.3 265.5h0.8M109.7 264.8h0.8M107.7 261.3h0.8M120.6 263.1h0.8M131.1 258.5h0.8M128.1 265.6h0.8M106.9 264.7h0.8M118.2 261.3h0.8M101.7 264.3h0.8M96.9 262.7h0.8M112 257.6h0.8M118.9 259.8h0.8M110.2 257.5h0.8M121.7 262.8h0.8M121.7 264.7h0.8M120.8 258.3h0.8M109 258h0.8M93.5 257.6h0.8M134.2 261.6h0.8M104.9 265.8h0.8M120.5 265.5h0.8M117.3 263h0.8M106.6 260h0.8M134.6 264.9h0.8M119.7 257.2h0.8M110.9 261.4h0.8M105.7 262.2h0.8M98.6 265.9h0.8M94.7 260.1h0.8M118.4 265.8h0.8M105.4 260.5h0.8M105.2 265.6h0.8M117.5 262.3h0.8M106.6 259.9h0.8M119.4 261.9h0.8M102.8 262.5h0.8M104.3 260.6h0.8M122.9 258.2h0.8M102.3 257.2h0.8M118.9 261.8h0.8M117.5 265.6h0.8M111.1 258h0.8M89.7 259.5h0.8M94.2 262h0.8M96.9 258.8h0.8M94.5 261h0.8M122.1 264.8h0.8M99.8 260.9h0.8M95.1 264.4h0.8M104.5 265.4h0.8M109.8 265.1h0.8M89.6 260.4h0.8M118.8 263.5h0.8M120.3 260.3h0.8M103.4 264h0.8M121.4 262.8h0.8M91 263.1h0.8M103.9 259.4h0.8M108.9 259.9h0.8M111.9 265.3h0.8M125.7 264.2h0.8M106.8 260h0.8M98 263.4h0.8M113.8 257.8h0.8M113 259.7h0.8M116.7 260.7h0.8M106.7 262.1h0.8M113.2 263.2h0.8M103.7 257.7h0.8M118.2 260.9h0.8M102.5 258.9h0.8M103 265.8h0.8M125.9 257.4h0.8M101.2 259.9h0.8M111 259.3h0.8M118.3 258.2h0.8M106.9 259.5h0.8M122.6 258.8h0.8M103.5 262.4h0.8M124.1 262h0.8M91 263h0.8M93.7 266h0.8M111.8 260.4h0.8M129.3 264.6h0.8M131.6 263.2h0.8M100 264h0.8M110.6 263.2h0.8M104.7 257.4h0.8M83.6 265.4h0.8M120.2 262.5h0.8M106.2 265.7h0.8M128.5 265.4h0.8M114.5 257.4h0.8M104.2 259.4h0.8M102.1 261.2h0.8M108.6 264.6h0.8M116.8 258.3h0.8M104.7 262.4h0.8M146.8 259h0.8M113.6 260.6h0.8M96.4 259.8h0.8M112 258.1h0.8M125.6 265h0.8M116.5 263h0.8M106.7 265.3h0.8M102.5 258.6h0.8M100.9 262.8h0.8M95.8 262h0.8M104.4 265h0.8M114.3 258.7h0.8M103.7 259.1h0.8M131.8 260.6h0.8M115.8 265.9h0.8M105.3 258.9h0.8M110.6 261.5h0.8M129.7 259.5h0.8M89.2 257.4h0.8M114 264.5h0.8M145.2 260.9h0.8M123.8 260.3h0.8M99.4 265h0.8M112.6 262.8h0.8M108 265.6h0.8M146.6 258.5h0.8M102.4 264h0.8M107.5 258.2h0.8M106.7 263.9h0.8M92.8 261h0.8M68.8 265h0.8M107.9 260.2h0.8M117.6 264.3h0.8M105.4 260.1h0.8M117.3 257.7h0.8M120.6 262.5h0.8M119.9 259.1h0.8M89.3 263.9h0.8M130.3 264h0.8M122 260.4h0.8M121.2 258.6h0.8M111.1 264.3h0.8M110.9 265.3h0.8M104 265.4h0.8M116.3 264h0.8M122.8 258.8h0.8M103.7 264.8h0.8M121.4 260.6h0.8M105 261.5h0.8M118.6 259.3h0.8M109.1 263.8h0.8M122 265.7h0.8M135.6 260.3h0.8M113.9 258.7h0.8M104.7 261.3h0.8M105.5 258.7h0.8M119 258.3h0.8M104.6 261.3h0.8M123.5 261h0.8M114.8 257.1h0.8M122.6 265.6h0.8M103.9 265.9h0.8M98.7 264.4h0.8M101.5 259.7h0.8M116.1 262.7h0.8M100.9 265.3h0.8M119.9 264.2h0.8M84.7 265.8h0.8M102.5 263.6h0.8M108.9 259.9h0.8M87.6 259.5h0.8M103.2 259.1h0.8M91.8 265.8h0.8M110.1 260.6h0.8M107.9 262.3h0.8M120.5 263.9h0.8M100.2 257.4h0.8M90.2 259.5h0.8M104.1 265.1h0.8M112.7 261h0.8M112.2 259.7h0.8M113.2 262.8h0.8M126.7 258.9h0.8M106.5 263.8h0.8M108.3 262.9h0.8M100.2 265h0.8M103.4 258.8h0.8M124.4 258.3h0.8M115.7 263.2h0.8M77.6 262h0.8M126.5 265.3h0.8M85.6 265.4h0.8M105.8 265.2h0.8M123.5 257.3h0.8M112.7 263.6h0.8M118.2 264.2h0.8M122.2 263h0.8M114.9 259.2h0.8M95 260.7h0.8M115.8 261.2h0.8M102.1 258.2h0.8M80.1 262.6h0.8M107.3 258.9h0.8M118.1 259h0.8M112.6 262.9h0.8M111.2 260.2h0.8M133.3 264.5h0.8M114.6 257.1h0.8M122.8 265.6h0.8M115.3 263.3h0.8M132.2 259.8h0.8M106.4 260.7h0.8M126.2 264.9h0.8M134.4 265.5h0.8M106.3 259.6h0.8M124.5 263h0.8M93.8 261.3h0.8M115.2 263.5h0.8M120.6 263.8h0.8M100.5 260.8h0.8M88.2 258.3h0.8M111.8 258.2h0.8M107 264.5h0.8M113.5 261.1h0.8M114.9 264.5h0.8M121.9 264.5h0.8M131.2 263.6h0.8M116.7 258.6h0.8M91.6 265.9h0.8M119.8 260.8h0.8M116.2 265.7h0.8M113.1 257.1h0.8M131.5 263.9h0.8M114.6 264.9h0.8M106.7 264.5h0.8M117.2 262.9h0.8M90.8 266h0.8M123.5 259.2h0.8M112.1 261h0.8M132.9 259.1h0.8M120.1 264.3h0.8M116.1 262h0.8M113.7 264h0.8M96.2 257.7h0.8M110.3 257.4h0.8M115.2 257.7h0.8M124 264.7h0.8M116.9 261.8h0.8M120.3 257.6h0.8M120.2 257.5h0.8M104.6 263.6h0.8M115.3 258.6h0.8M108.6 263h0.8M95.4 258.8h0.8M92.1 265.1h0.8M122 260h0.8M129.8 263.9h0.8M129.6 259.8h0.8M100.6 257.1h0.8M130.7 258.4h0.8M131.4 264.2h0.8M101.7 260.1h0.8M117.7 263.3h0.8M133.3 258.7h0.8M112.7 261h0.8M126.6 262h0.8M103.5 263.8h0.8M107.2 265.4h0.8M122.7 260.3h0.8M109.4 259.7h0.8M113.1 258.9h0.8M112.7 263.2h0.8M98.4 263.1h0.8M130.6 259.5h0.8M109.8 258.8h0.8M107.3 257.9h0.8M105.8 258.1h0.8M112.3 263.9h0.8M99.6 264.2h0.8M122.6 261.2h0.8M107.1 263.9h0.8M121.6 261.8h0.8M100.3 262.4h0.8M98.5 264.9h0.8M99.7 261.2h0.8M114.4 261.8h0.8M94.6 265.9h0.8M122.2 265.9h0.8M107.2 262.5h0.8M123 261.5h0.8M106.6 257.1h0.8M121.8 261.1h0.8M98.3 259.6h0.8M97.4 261h0.8M119 259.1h0.8M104.4 265.9h0.8M125 259.1h0.8M102.5 263h0.8M118 257.3h0.8M100.9 260.7h0.8M89.1 265.9h0.8M129.8 260.5h0.8M108.7 257.8h0.8M123.8 263.1h0.8M113.7 264.7h0.8M89.4 257.4h0.8M116.4 262.6h0.8M125.2 257.7h0.8M127.9 264.2h0.8M132.4 262.5h0.8M116.4 264.4h0.8M110 265.5h0.8M112.3 263.7h0.8M96.4 264.2h0.8M120.8 260.9h0.8M120.6 259.8h0.8M115.8 265.4h0.8M101.4 259.8h0.8M119.6 264.9h0.8M104.3 261.2h0.8M127.3 257.2h0.8M103.5 262.4h0.8M104.6 263.8h0.8M107.2 257.2h0.8M98.1 265.9h0.8M99.8 260h0.8M107.7 261.1h0.8M79.7 263.7h0.8M136.9 262.2h0.8M116.1 261.3h0.8M115 265.7h0.8M100 258.2h0.8M113.7 263.5h0.8M111.2 257.1h0.8M112.5 263.9h0.8M92.3 263.4h0.8M109.7 260.7h0.8M87 260.7h0.8M108.7 262.1h0.8M99.8 265.1h0.8M103.4 258.4h0.8M107 260.5h0.8M122 261.1h0.8M126.9 260.2h0.8M111.6 259.2h0.8M97.4 261.4h0.8M130.3 260h0.8M93.1 262.3h0.8M104.1 260.9h0.8M108.4 264.5h0.8M101.7 264.5h0.8M128.3 261.9h0.8M116.3 264.9h0.8M125 261.6h0.8M107.3 260.2h0.8M122.3 262.2h0.8M109.2 264.7h0.8M109.3 261.9h0.8M115 264.2h0.8M116.2 260.2h0.8M118.5 263h0.8M108.4 262.1h0.8M91.8 262.9h0.8M107 261h0.8M76.6 258.2h0.8M107.4 257.1h0.8M100.6 257.8h0.8M121.6 257.6h0.8M76.2 260.8h0.8M136.8 260.4h0.8M106.6 262.7h0.8M90.5 265.6h0.8M116.5 260.7h0.8M117.3 259.9h0.8M116.5 262.6h0.8M139.1 261.7h0.8M100.3 257.5h0.8M114.8 264.1h0.8M113 260.2h0.8M102.3 261.9h0.8M114.8 262.8h0.8M127.2 265.4h0.8M100.1 259.9h0.8M116.8 261.2h0.8M124 264.8h0.8M119.4 265.5h0.8M90.4 263.6h0.8M114.7 264.4h0.8M106 257.3h0.8M126.8 262.2h0.8M109.4 259.7h0.8M136.3 262.4h0.8M95.1 262.7h0.8M117.5 260.6h0.8M99.7 264.7h0.8M133.9 264.3h0.8M131.3 257.5h0.8M99.1 265h0.8M120.7 263.7h0.8M110.5 264.7h0.8M90.1 259.7h0.8M97.6 260.7h0.8M112.3 263.7h0.8M117.7 264.8h0.8M106.2 259.6h0.8M114.8 263.1h0.8M115.1 260.5h0.8M114.7 261.2h0.8M95.8 261.4h0.8M112.8 260.5h0.8M117.9 265h0.8M91.8 264.5h0.8M130.9 257.4h0.8M129.8 257.6h0.8M113.1 257.7h0.8M137.9 258.3h0.8M100.7 258.9h0.8M98.8 258.8h0.8M103 259.5h0.8M101.8 260.5h0.8M134.8 263.5h0.8M111.7 262.4h0.8M110.3 258.1h0.8M115.7 263.1h0.8M131.5 262.2h0.8M113.2 257h0.8M106.2 264.8h0.8M114.5 258.9h0.8M127.3 261.5h0.8M108.4 261.7h0.8M129.2 257.5h0.8M115 258.3h0.8M108.8 258.5h0.8M117.4 265.3h0.8M136.5 265.1h0.8M107.9 264.9h0.8M128.8 259.2h0.8M118.3 260.8h0.8M113.1 261.9h0.8M111.7 257.5h0.8M121.6 258.2h0.8M119 261.3h0.8M115.9 258h0.8M119.5 261.2h0.8M100 261.8h0.8M102.7 257.3h0.8M98.2 264h0.8M106.6 260.5h0.8M108.4 261.3h0.8M106.3 262.9h0.8M117.9 264.8h0.8M98.9 258.4h0.8M107.9 258.6h0.8M122.2 262.7h0.8M132.7 265h0.8M111.8 259h0.8M126.5 261.2h0.8M128.7 257.4h0.8M98 257.1h0.8M114.2 265.3h0.8M97.6 263.9h0.8M106.1 263.3h0.8M116.3 257.5h0.8M94.8 263.3h0.8M117.9 263.5h0.8M109.3 260.1h0.8M108 264.3h0.8M117.9 266h0.8M100.5 259.2h0.8M89.4 257.3h0.8M111.4 259.6h0.8M101.8 263.1h0.8M108.5 265.1h0.8M96.9 265.5h0.8M99 264.3h0.8M97.9 262.5h0.8M94.6 258.9h0.8M100.6 259.9h0.8M101 258.9h0.8M111.3 262.2h0.8M151.5 257.9h0.8M103.1 264.2h0.8M90.6 262.8h0.8M118.4 264.2h0.8M95.2 263.4h0.8M99.5 263h0.8M106.6 259.8h0.8M111.5 265.2h0.8M111.8 263.9h0.8M114 258.1h0.8M109.4 259.1h0.8M125 257.9h0.8M121.6 263.1h0.8M103.9 261.1h0.8M108.1 259.1h0.8M93.6 263.4h0.8M119.3 258h0.8M108.2 265.9h0.8M135.2 265.6h0.8M102.2 257.9h0.8M130.2 263.1h0.8M99.1 262.5h0.8M89.4 259.7h0.8M99.9 260h0.8M115.2 265.6h0.8M123.8 257.7h0.8M99.7 265.1h0.8M123.2 261.4h0.8M104.2 262h0.8M104.3 261.6h0.8M107 264.1h0.8M131.8 258.7h0.8M113.1 259.1h0.8M114.7 258h0.8M91.6 261h0.8M112.9 257.4h0.8M114.3 265.7h0.8M131.6 261h0.8M99.7 260.2h0.8M101.8 265.4h0.8M99.1 264.7h0.8M102.5 259h0.8M119.3 257.7h0.8M100.6 263.5h0.8M127 260.2h0.8M111.2 264.4h0.8M99.1 260.4h0.8M102.5 259.7h0.8M93.3 261.1h0.8M92.3 257.4h0.8M125.4 258.6h0.8M121.9 258.3h0.8M98.2 263.4h0.8M105 259.7h0.8M131.1 264.3h0.8M101.5 265.5h0.8M113.5 261.4h0.8M117.1 258.7h0.8M108.1 257.1h0.8M108.3 265.7h0.8M106.4 258.1h0.8M112.2 263.7h0.8M90.8 257.2h0.8M111.2 265.2h0.8M112.9 262h0.8M93.8 262.9h0.8M116.4 262.5h0.8M98.8 259.1h0.8M77.2 258.1h0.8M85.9 264.5h0.8M111.8 262h0.8M117.7 262.1h0.8M105.1 258h0.8M92.1 265.5h0.8M108.5 263.3h0.8M122.2 260.8h0.8M110 257.4h0.8M91.8 261.2h0.8M116.5 265.8h0.8M108 263.8h0.8M108.3 257.2h0.8M111.3 263.7h0.8M117.6 264.8h0.8M109.1 259.3h0.8M98.2 264.6h0.8M109.1 265.7h0.8M112.2 260.8h0.8M125.5 257.9h0.8M94.9 260.3h0.8M108.7 265.2h0.8M99.3 261.2h0.8M113.9 259.7h0.8M103.5 261h0.8M71.3 264.5h0.8M122.6 262.5h0.8M102 258h0.8M96.6 259.9h0.8M91.3 259.6h0.8M96.9 263.9h0.8M94 261.6h0.8M108.6 257.7h0.8M112.3 257.2h0.8M109.5 260.3h0.8M115 262.1h0.8M99.9 262.2h0.8M118.1 260.5h0.8M109.1 260.7h0.8M116.1 259.7h0.8M118.3 258.4h0.8M105.8 260h0.8M126.2 262.9h0.8M120.6 259.6h0.8M105.3 265.2h0.8M132.8 262h0.8M131.6 258.5h0.8M90.9 261.2h0.8M81.9 258.6h0.8M102.6 258.2h0.8M116.4 258h0.8M122.4 258.5h0.8M118.9 258.7h0.8M110.3 265.7h0.8M122.8 257.4h0.8M119.6 261.1h0.8M105 262.8h0.8M112.9 257.6h0.8M124.1 259.9h0.8M102.4 260.6h0.8M102.6 261.3h0.8M100 263.1h0.8M129.1 261.6h0.8M119.1 261.7h0.8M121.3 259.5h0.8M105.9 257.5h0.8M110.3 263h0.8M126 261.7h0.8M107.1 261.6h0.8M125.6 262.2h0.8M110.4 265.4h0.8M110.3 263.8h0.8M117.7 261.4h0.8M121.5 258.8h0.8M132.9 258.5h0.8M106.3 262.2h0.8M132.1 264h0.8M101 263.1h0.8M99.8 263.9h0.8M82.3 257.7h0.8M121.3 257.7h0.8M129.4 262.1h0.8M95.5 263.9h0.8M106.6 258.8h0.8M107.4 265.9h0.8M91 261.2h0.8M111.6 257.5h0.8M114.5 262.4h0.8M104.4 266h0.8M97.8 265.9h0.8M112.4 265.8h0.8M118.3 261h0.8M92.8 264.9h0.8M109.5 260h0.8M117.8 264.8h0.8M75.2 261.7h0.8M114.8 260.4h0.8M132.5 257.4h0.8M94.5 260.5h0.8M127.3 263h0.8M107 258.7h0.8M118.4 261h0.8M108.7 259.2h0.8M96.3 258.5h0.8M89 260.1h0.8M141 258.5h0.8M93.8 262.3h0.8M107.3 263h0.8M128.9 260h0.8M114.6 257.8h0.8M113 259.8h0.8M85.2 258.2h0.8M102.9 262.7h0.8M93.9 264.9h0.8M88 257.5h0.8M115.4 261h0.8M121.3 261.4h0.8M101 257.4h0.8M102.5 265.9h0.8M116.3 258.1h0.8M122 258.1h0.8M97.4 257.6h0.8M125.7 260.4h0.8M122.7 263h0.8M110.9 261.7h0.8M96.7 260.8h0.8M118 259.2h0.8M119.6 264.5h0.8M133.2 259.2h0.8M103.2 261h0.8M131 263.1h0.8M106.3 257.2h0.8M117.5 258.4h0.8M109.4 261.1h0.8M111.9 259.4h0.8M129.5 258.7h0.8M102.1 265.7h0.8M121.4 257.1h0.8M107.4 259.8h0.8M110.4 258.5h0.8M101.7 258.9h0.8M113.4 265.4h0.8M85.4 260.3h0.8M107.5 262.3h0.8M123.7 262.6h0.8M121.5 265.2h0.8M90.2 265.3h0.8M96.5 260.1h0.8M105.6 262.9h0.8M134.7 257.9h0.8M105.4 263h0.8M110.7 259.2h0.8M107.7 257.1h0.8M114.7 263.9h0.8M99.2 266h0.8M114.2 263.3h0.8M126.5 240.9h0.8M115.7 251h0.8M133 239.8h0.8M120.5 250.6h0.8M151.3 251.8h0.8M122.9 245.9h0.8M140.5 249.9h0.8M124.9 247.6h0.8M122 243.4h0.8M127 247.4h0.8M112.7 249.6h0.8M113.9 249.4h0.8M139.3 250.7h0.8M119 249.6h0.8M108.4 243.5h0.8M126.7 245.8h0.8M111.9 250.2h0.8M122 242.1h0.8M133.7 251.5h0.8M135.4 250.8h0.8M141.3 245.4h0.8M134.1 250.5h0.8M128.4 234.6h0.8M127.3 250.7h0.8M124.5 247.4h0.8M120.8 247.1h0.8M146.4 246.6h0.8M120.5 250.8h0.8M139.8 250.2h0.8M120 247.3h0.8M134.7 233.7h0.8M90 244.7h0.8M123.1 242.4h0.8M114.5 243.3h0.8M138.8 246.3h0.8M138 251.8h0.8M114.5 248.1h0.8M120.6 243.7h0.8M131.7 246.7h0.8M124.9 247.4h0.8M122.6 248.4h0.8M132.4 251.7h0.8M107.2 240.7h0.8M139.4 248.4h0.8M126.6 246.6h0.8M89.9 251.8h0.8M111.6 248.7h0.8M120.9 243.4h0.8M146.8 242.5h0.8M121.7 244.6h0.8M105.2 249.6h0.8M136.9 247h0.8M126.3 245.4h0.8M121.9 243.7h0.8M133.5 241h0.8M117.7 245.4h0.8M120.8 247.1h0.8M133.1 249.6h0.8M126.9 240.8h0.8M132.8 251.9h0.8M118.1 248.6h0.8M140.7 250.1h0.8M106.5 240.3h0.8M107 251.2h0.8M127.7 247.8h0.8M118.8 250.4h0.8M124.5 245h0.8M122.7 248.3h0.8M120.6 249h0.8M110.6 247.8h0.8M125.7 249.4h0.8M136.7 248.8h0.8M113.1 244.7h0.8M143.2 242.2h0.8M139.6 242.2h0.8M113 252h0.8M131.2 245.4h0.8M110.3 247.8h0.8M121 250.2h0.8M110.3 251.7h0.8M116.5 249.1h0.8M101.9 246.5h0.8M120.7 242.2h0.8M110.8 245.9h0.8M112.5 251.1h0.8M123.5 276.2h0.8M128.7 286.5h0.8M137.2 276.1h0.8M156.8 269.1h0.8M119.7 275.6h0.8M134.7 287.8h0.8M93.6 270.4h0.8M115.9 276.8h0.8M110.2 283.9h0.8M111.7 284.6h0.8M143.7 268.9h0.8M124.9 276.3h0.8M124.1 270.5h0.8M124.3 273.3h0.8M118.9 274h0.8M119 281.5h0.8M111.3 269.7h0.8M113.3 277.4h0.8M115.2 280.1h0.8M119.7 285.2h0.8M89.3 269.6h0.8M124.1 268.1h0.8M122.2 272.8h0.8M130.4 275.7h0.8M102.9 272.8h0.8M106.2 271.5h0.8M137.2 283.7h0.8M110 283.6h0.8M131.5 285.1h0.8M110.8 284.8h0.8M101.4 273h0.8M96.8 272.4h0.8M112 270.1h0.8M114.4 272.1h0.8M100.9 274.3h0.8M148.2 275.7h0.8M123.2 280.8h0.8M107 274h0.8M149.5 268.6h0.8M137.6 278.4h0.8M109.3 281.5h0.8M104.5 272.8h0.8M119.6 272h0.8M135.9 274.5h0.8M97.8 271.2h0.8M143.4 272.8h0.8M116 270.4h0.8M137.8 271.2h0.8M120.4 295h0.8M131.6 288.4h0.8M134.4 273.2h0.8M146 277.6h0.8M110.2 274.1h0.8M156.7 270h0.8M100.3 270.8h0.8M128.6 275.4h0.8M135.1 272h0.8M123.5 268.7h0.8M138.8 286.4h0.8M94.2 283.7h0.8M122.2 274.4h0.8M140.8 270.2h0.8M123.3 289.9h0.8M103.4 281.3h0.8M125.9 281.2h0.8M126.4 274.7h0.8M105.5 269h0.8M146.6 284.1h0.8M113.5 279h0.8M104.8 291.2h0.8M125 268.1h0.8M111.5 274.5h0.8M119.7 281.5h0.8M127.3 274.8h0.8M115.7 271h0.8M133.6 268.8h0.8M128.4 288.8h0.8M144.7 292h0.8M105.4 268.6h0.8M124.3 279.9h0.8M127.7 276.8h0.8M128.3 269.6h0.8M85.8 285.9h0.8M104.3 285.1h0.8M129 268.2h0.8M133.4 276.7h0.8M123.8 277.3h0.8M126.5 282.7h0.8M144.9 276.9h0.8M117 269.5h0.8M139.4 305.2h0.8M105.6 310.7h0.8M119 295.9h0.8M124.7 277.2h0.8M124.3 303.2h0.8M141.1 274.2h0.8M132.6 314.2h0.8M116.4 307.2h0.8M81.2 275.8h0.8M139.5 306.8h0.8M143.3 281.1h0.8M134.2 311.2h0.8M131.3 272.2h0.8M132.9 271.1h0.8M147.3 289.9h0.8M115.1 292.1h0.8M123.3 291h0.8M106 270.3h0.8M120.5 270h0.8M109.2 294.3h0.8M109.2 305.5h0.8M87.4 320h0.8M122.7 311.1h0.8M143.4 287h0.8M68.2 294.3h0.8M148.3 308.2h0.8M123.7 287.5h0.8M111.7 301.3h0.8M130.1 290.8h0.8M119.7 308h0.8M122.9 289.1h0.8M150.9 275.8h0.8M127.5 293.5h0.8M131.1 293.2h0.8M119.3 299.2h0.8M121 285.5h0.8M107.2 287h0.8M122 311.1h0.8M109.7 310h0.8M145.6 272h0.8M119.9 295.8h0.8M138 310.2h0.8M148.4 273.1h0.8M143.3 293.8h0.8M111.4 279.8h0.8M155.5 298.2h0.8M88.7 290.9h0.8M150.8 302.9h0.8M77 302.9h0.8M107.2 273.2h0.8M122.8 289.5h0.8M110.8 273h0.8M84.6 319.7h0.8M96.1 272.5h0.8M128.8 280.1h0.8M92.1 276.3h0.8M135.9 276.8h0.8M145.6 298.7h0.8M149.3 282.7h0.8M128.8 307.5h0.8M123.2 320.7h0.8M116.6 313.1h0.8M175.5 285.9h0.8M146.6 283h0.8M135.9 277.8h0.8M130.4 307.3h0.8M144.5 275h0.8M88.2 321.5h0.8M140.2 312.3h0.8M113.3 307.6h0.8M80.8 319.3h0.8M144.7 270.4h0.8M109.8 277.3h0.8M132.2 295.9h0.8M110.2 304.5h0.8M116.6 275.5h0.8M154.2 297.8h0.8M130.3 273.2h0.8M131.4 290.2h0.8M94.7 277.3h0.8M141 310.9h0.8M112 309.7h0.8M132.9 312.7h0.8M105 291h0.8M131 278.3h0.8M134.4 309.2h0.8M96.7 292.2h0.8M130 276.6h0.8M107.4 271h0.8M147.5 285.3h0.8M131 302h0.8M125.1 295.5h0.8M181.1 290.9h0.8M139.8 270.6h0.8M117 298.1h0.8M140.5 321.9h0.8M129.5 279.4h0.8M149.5 310.6h0.8M105.4 274.3h0.8M160.9 309.4h0.8M114.7 292.1h0.8M117.1 307.7h0.8M110.5 303.4h0.8M118.6 287.7h0.8M160.1 313.7h0.8M127.6 293.9h0.8M104.1 321.2h0.8M121.4 310.3h0.8M128.9 270.9h0.8M142.2 309.5h0.8M122.3 312.5h0.8M108.6 325.5h0.8M103.3 325h0.8M131 305.8h0.8M123.6 315.3h0.8M116.8 313.1h0.8M127.1 316.2h0.8M110.2 319.4h0.8M116.5 322.2h0.8M108.8 318.4h0.8M115.3 320.6h0.8M108.9 322.7h0.8M99.6 332.4h0.8M113 319.3h0.8M114.8 316.5h0.8M110.6 321.1h0.8M122.7 318.3h0.8M119.8 315h0.8M121.3 312.5h0.8M117.4 318h0.8M112.7 320.5h0.8M119.4 315.3h0.8M119 317.1h0.8M105.2 324.6h0.8M105.4 325.6h0.8M119.2 313.6h0.8M106.4 326h0.8M117.8 316.2h0.8M103.9 321.3h0.8M119.4 320.4h0.8M131.3 316.4h0.8M127.2 303.5h0.8M99.5 326.9h0.8M98.1 331.2h0.8M77.7 339.4h0.8M117.7 318.4h0.8M129.9 310.7h0.8M119.9 315.3h0.8M110.2 320.8h0.8M121.6 315.7h0.8M103.9 323.8h0.8M117.8 317.3h0.8M128.2 312.3h0.8M124.1 311.4h0.8M117.5 316.5h0.8M109.6 322.4h0.8M104.8 322.7h0.8M102.4 323.4h0.8M130.7 311.8h0.8M125.1 311.5h0.8M108.3 323.3h0.8M109.8 325.8h0.8M115 322.5h0.8M107.9 324.3h0.8M117.9 317.2h0.8M117.4 316.8h0.8M115.1 318.1h0.8M113.5 317.7h0.8M80.4 331.6h0.8M112.6 322.1h0.8M101.2 329.2h0.8M95.9 334.6h0.8M132.9 310.4h0.8M111.3 319.9h0.8M109.2 319.1h0.8M113.3 324h0.8M103.6 328.5h0.8M127.1 310.2h0.8M93.7 332.1h0.8M115.9 312.6h0.8M106.4 329.6h0.8M126.9 310.4h0.8M120.6 316.2h0.8M112.4 320.6h0.8M97.6 327.5h0.8M121.7 317.3h0.8M122.6 317.6h0.8M120.8 315.9h0.8M111.3 322.5h0.8M119.8 317.8h0.8M106.8 327.6h0.8M115.3 320.8h0.8M119.4 315.7h0.8M111.4 319.4h0.8M104.9 325.2h0.8M109.9 315h0.8M100.2 322.6h0.8M99.5 327.4h0.8M123.4 311.9h0.8M112.1 319.2h0.8M107.4 325.8h0.8M111.2 324.4h0.8M113.7 319.6h0.8M104.8 321.9h0.8M105 323.8h0.8M113.6 316.4h0.8M114.2 320h0.8M105.2 321.6h0.8M108.8 325h0.8M122.4 313.5h0.8M107.1 324.2h0.8M124.6 312.5h0.8M114.9 313.6h0.8M110 322.2h0.8M113.5 320h0.8M128.9 309.6h0.8M106 322h0.8M111.5 327.3h0.8M99.9 329.3h0.8M111.3 319.2h0.8M103 323.4h0.8M114.5 319.4h0.8M97.4 329.9h0.8M116.8 320.1h0.8M115.7 318h0.8M116.6 315.9h0.8M104.6 324.9h0.8M127.1 312.8h0.8M127.4 303.6h0.8M112.3 320.5h0.8M106.8 324.5h0.8M116.8 313.8h0.8M109.7 322.2h0.8M114 322h0.8M119.8 318.7h0.8M101.9 326.8h0.8M120.4 314.2h0.8M101.4 328.7h0.8M99.4 327.5h0.8M109.3 321.9h0.8M129.3 316.5h0.8M106.8 318h0.8M115.9 315.8h0.8M102.3 324.2h0.8M116.9 316.2h0.8M113.6 322.5h0.8M123 312.6h0.8M112.9 318.5h0.8M114.5 320.7h0.8M90.6 331.5h0.8M115.9 319.3h0.8M117.5 321.6h0.8M116.6 317.4h0.8M115.1 318.7h0.8M121.4 316.6h0.8M122.7 309.6h0.8M100.9 327.6h0.8M111.9 320.7h0.8M115.3 312.7h0.8M113.8 318.1h0.8M100.3 326.9h0.8M91.7 330.8h0.8M116 321h0.8M120.3 314.3h0.8M135.7 306h0.8M116.4 319.7h0.8M103.9 325.6h0.8M116.8 317.9h0.8M110.7 317.1h0.8M104.9 321.3h0.8M98.1 327h0.8M93.6 331.6h0.8M107.3 324.5h0.8M109.3 326.5h0.8M110.9 323.8h0.8M112.7 320.6h0.8M115.6 318.7h0.8M131.1 312.9h0.8M111.2 320.9h0.8M126.1 314.1h0.8M106.1 324.2h0.8M105.6 324.8h0.8M105.8 323.1h0.8M94.2 330.2h0.8M132.3 310.7h0.8M112.6 316.7h0.8M121.4 315.5h0.8M129.3 310.4h0.8M126.3 322.7h0.8M130.5 305.3h0.8M88.7 335.7h0.8M125.1 313.9h0.8M111.7 317.6h0.8M105.6 326.1h0.8M128.5 314.8h0.8M113.6 321.4h0.8M104.6 323.8h0.8M92.7 332.3h0.8M130.6 308.4h0.8M83.6 334.7h0.8M113.4 320.4h0.8M129.9 307.6h0.8M115.4 313.9h0.8M105.5 321h0.8M102.9 324.9h0.8M102 322.9h0.8M117 316.6h0.8M114.7 322.9h0.8M104 327.7h0.8M94.3 330.7h0.8M123.8 312.7h0.8M98.6 329.5h0.8M103.5 328.2h0.8M136.9 300.1h0.8M104.1 329.5h0.8M100.4 331.4h0.8M101.3 323.1h0.8M122.6 317.8h0.8M103.9 324.7h0.8M113.6 321.7h0.8M89.2 338.6h0.8M106.6 327h0.8M109.8 322.7h0.8M108.9 325.2h0.8M123.3 313.8h0.8M118.6 315.8h0.8M77.4 336h0.8M99 333.1h0.8M102.3 322.1h0.8M105.8 321.6h0.8M113.5 319.4h0.8M115.5 314.8h0.8M95 334.9h0.8M88.7 335.8h0.8M123.2 315h0.8M104.1 329.3h0.8M90.3 334.9h0.8M101.1 329.8h0.8M110.6 328.6h0.8M99.4 328.2h0.8M123.6 318.7h0.8M142.4 333.9h0.8M98 316.9h0.8M108.1 323.3h0.8M111.3 295.1h0.8M102.9 305h0.8M125.9 324.8h0.8M130.2 296.3h0.8M125.6 328h0.8M125.6 319h0.8M139 314.3h0.8M141.3 311.4h0.8M143.7 299.6h0.8M123.9 300.5h0.8M126.2 306.8h0.8M147 307.9h0.8M131.8 326.8h0.8M144.8 301.2h0.8M119.2 305.7h0.8M125.3 293h0.8M116.8 314.6h0.8M125.7 312.7h0.8M132 325.2h0.8M119.6 334.5h0.8M154 318.8h0.8M104.8 303h0.8M138.3 315.3h0.8M110.4 316h0.8M130.2 312.1h0.8M115 300.5h0.8M127 316.7h0.8M127 299h0.8M114.5 311.8h0.8M108.5 309.3h0.8M115.8 283.4h0.8M126.2 319.7h0.8M137.5 336.9h0.8M148.9 308.6h0.8M101.4 305.7h0.8M132.5 323.3h0.8M119.2 297.9h0.8M126.1 313h0.8M130.5 315.5h0.8M137.2 306.4h0.8M131.7 311.9h0.8M125.6 303.1h0.8M148.2 306.2h0.8M129.9 320.3h0.8M125.9 302.8h0.8M142.2 306.2h0.8M109.6 304.8h0.8M112.5 318.5h0.8M146.6 308.5h0.8M123.1 303.1h0.8M100.5 316.5h0.8M137.3 289.9h0.8M143.1 291.2h0.8M114.9 316h0.8M107.3 333.9h0.8M125.1 307.2h0.8M131 316.6h0.8M117.4 297h0.8M112.8 314.1h0.8M133.3 315h0.8M133.4 319.3h0.8M103.3 304.3h0.8M109.9 334.7h0.8M121.2 301.9h0.8M116.9 330h0.8M128.8 300.5h0.8M92.5 351.5h0.8M80.5 338h0.8M174 290h0.8M178 288h0.8" stroke="#000" stroke-width="0.8" fill="none"/>
<line x1="55.2" y1="230.7" x2="55.2" y2="391.7" stroke="#000" stroke-width="1.4"/>
<line x1="54.6" y1="391" x2="214.8" y2="391" stroke="#000" stroke-width="1.6"/>
<text x="48" y="228.7" font-size="12.8">4-1BB low</text>
<text x="125" y="228.7" font-size="12.8">4-1BB high</text>
<text x="44.6" y="239" font-size="8.7" fill="#222" text-anchor="middle">10<tspan font-size="7.2" dy="-4.3">4</tspan></text>
<text x="44.6" y="278.6" font-size="8.7" fill="#222" text-anchor="middle">10<tspan font-size="7.2" dy="-4.3">3</tspan></text>
<text x="44.6" y="319.8" font-size="8.7" fill="#222" text-anchor="middle">10<tspan font-size="7.2" dy="-4.3">2</tspan></text>
<text x="44.6" y="359" font-size="8.7" fill="#222" text-anchor="middle">10<tspan font-size="7.2" dy="-4.3">1</tspan></text>
<text x="52.6" y="408" font-size="8.7" fill="#222" text-anchor="middle">10<tspan font-size="7.2" dy="-4.3">0</tspan></text>
<text x="105.6" y="408" font-size="8.7" fill="#222" text-anchor="middle">10<tspan font-size="7.2" dy="-4.3">1</tspan></text>
<text x="158.8" y="408" font-size="8.7" fill="#222" text-anchor="middle">10<tspan font-size="7.2" dy="-4.3">2</tspan></text>
<text x="211.6" y="408" font-size="8.7" fill="#222" text-anchor="middle">10<tspan font-size="7.2" dy="-4.3">3</tspan></text>
<line x1="439.2" y1="208.7" x2="439.2" y2="370" stroke="#777" stroke-width="0.8"/>
<path d="M324.2 294.9h0.7M328.6 296.6h0.7M335.3 292.4h0.7M316.9 292.3h0.7M304.6 296.3h0.7M324.6 288.9h0.7M312.1 295.7h0.7M309.2 299.7h0.7M313.1 295.1h0.7M310.5 296.1h0.7M324 282.2h0.7M319.4 294.4h0.7M323.4 288.6h0.7M324.8 291.1h0.7M314.8 296h0.7M323.5 292.6h0.7M327.7 293.3h0.7M332.8 294.2h0.7M319.3 286.5h0.7M315.8 289.8h0.7M310.4 301.3h0.7M314.7 296.4h0.7M318 291.7h0.7M319.9 292.6h0.7M307.1 297.3h0.7M314.7 298.2h0.7M316.3 293.5h0.7M313.1 295.4h0.7M313 291.4h0.7M320.7 297.7h0.7M310.1 297.8h0.7M321.7 291.4h0.7M309.2 292.5h0.7M319.7 293.4h0.7M309 299.4h0.7M327.4 298.3h0.7M323.9 298.2h0.7M328.7 289.6h0.7M311.2 294.8h0.7M307.3 294.2h0.7M307.3 298.7h0.7M316.1 292.3h0.7M326.5 293.3h0.7M323.6 293.4h0.7M323.3 293.7h0.7M308 294h0.7M326.6 295h0.7M323.8 291.7h0.7M313.5 291.6h0.7M297.4 300.1h0.7M311.5 296.6h0.7M316.8 294.6h0.7M330.6 293.2h0.7M319.7 297.3h0.7M317.4 301.3h0.7M330.7 290h0.7M330.5 294.1h0.7M321 285.2h0.7M322.9 298.4h0.7M328 291h0.7M312.1 299.8h0.7M321.2 292.4h0.7M314.5 296.8h0.7M310.1 298.4h0.7M322 291h0.7M326.9 289.7h0.7M333.1 280.6h0.7M324.2 294h0.7M327.1 290.9h0.7M316.5 293.8h0.7M305.8 301.6h0.7M312.8 296.7h0.7M321.2 293.9h0.7M313.2 289.7h0.7M333.5 289.9h0.7M327.8 290.2h0.7M316.4 297.6h0.7M332 288.4h0.7M323.2 288.7h0.7M331.3 289.4h0.7M316.5 300.3h0.7M324.4 289.5h0.7M316.1 298.7h0.7M318.1 293.5h0.7M327.3 285h0.7M333.5 291.4h0.7M319 301.1h0.7M320.4 294.8h0.7M310.9 292.9h0.7M316.3 293.9h0.7M322.1 290.1h0.7M307.9 306.1h0.7M314.5 296.9h0.7M309 289.4h0.7M319.7 296.2h0.7M325.3 293.3h0.7M320.8 290.1h0.7M315.8 292.9h0.7M309.9 296.3h0.7M304.9 303.4h0.7M318.2 292.4h0.7M330.4 288h0.7M315.9 297.7h0.7M317.5 292.3h0.7M314.4 291.9h0.7M308.9 296.4h0.7M326.7 294.1h0.7M323.8 292.8h0.7M306.1 296.5h0.7M308 301.6h0.7M329 295.2h0.7M310.9 291.3h0.7M317.7 290.6h0.7M309.7 293.7h0.7M320.7 292.6h0.7M311.7 296.5h0.7M313.2 295.3h0.7M309 297h0.7M333.5 290.9h0.7M339.2 283.8h0.7M319.9 286.8h0.7M323.5 293.4h0.7M322.7 296.6h0.7M318.1 294.7h0.7M317.3 293h0.7M315.1 296.7h0.7M324.5 291.2h0.7M308.1 293h0.7M311.3 295h0.7M323.8 294.8h0.7M306.7 298.5h0.7M331.2 292.3h0.7M315.8 293.2h0.7M319.6 295.4h0.7M328.9 295.3h0.7M317.7 293.2h0.7M319.1 292.3h0.7M313.3 299.4h0.7M322.3 293.2h0.7M323.7 288.8h0.7M310.9 295h0.7M323.4 296.6h0.7M326 292.9h0.7M321.9 298.8h0.7M312 298h0.7M325.7 292.7h0.7M329.2 294.1h0.7M314.1 293.4h0.7M303.2 301.9h0.7M312.3 295.6h0.7M318.2 293.3h0.7M328.7 292.2h0.7M327.8 289.8h0.7M323.7 289h0.7M312.8 292.9h0.7M324.3 293.9h0.7M318 295.1h0.7M309.7 296.9h0.7M303.5 300.8h0.7M326.2 288.9h0.7M304.8 296.9h0.7M328.3 296.2h0.7M336.5 285.7h0.7M318.4 298h0.7M311.2 295.4h0.7M312.9 297.4h0.7M312.5 296.6h0.7M321.2 292.4h0.7M326.3 292.1h0.7M311.9 299h0.7M315.4 292.8h0.7M312.8 292.8h0.7M327.4 294h0.7M326.1 290.6h0.7M311.1 295.7h0.7M315.6 294.4h0.7M319.4 292.5h0.7M303.4 293h0.7M313.7 295.2h0.7M319.2 292.4h0.7M306.6 293.4h0.7M319.8 291.9h0.7M318.5 294.8h0.7M313.5 300.9h0.7M326.5 290h0.7M310.4 300.6h0.7M321.5 291.7h0.7M316 296.2h0.7M327 290.7h0.7M311.7 298.4h0.7M323 293.1h0.7M323.1 291.5h0.7M327.4 286.6h0.7M331.2 293.3h0.7M305.7 293.3h0.7M317.5 292.5h0.7M309.2 302.3h0.7M326 292.5h0.7M329.2 291.1h0.7M315.6 295.3h0.7M320 294.4h0.7M328.8 289.9h0.7M319.7 294.8h0.7M317 294h0.7M304.6 297.2h0.7M312.3 297.4h0.7M326.2 293.7h0.7M306.1 298.9h0.7M320.4 296.4h0.7M319.8 299.4h0.7M318 299.5h0.7M324.6 292.6h0.7M311.9 292.7h0.7M329.4 294.3h0.7M314.5 295.7h0.7M326.4 294.1h0.7M313.3 294.6h0.7M320.2 296.2h0.7M315.3 291.6h0.7M331.8 290.6h0.7M309.5 292.7h0.7M312.9 302h0.7M330 289.9h0.7M324.7 285.8h0.7M317.8 298.3h0.7M315.9 297.9h0.7M307.5 301.6h0.7M315.8 291.5h0.7M321 294.6h0.7M327.9 295.4h0.7M325.7 291.4h0.7M330 291.9h0.7M321.2 292.7h0.7M312.2 295.1h0.7M315.2 299.4h0.7M330.6 288.2h0.7M319 294.1h0.7M329.6 292.6h0.7M305.1 298.3h0.7M314.1 298.1h0.7M311.5 290.2h0.7M320.2 297.2h0.7M311.6 292.6h0.7M307.2 296.9h0.7M317.4 293.4h0.7M299.3 301.4h0.7M313.2 295.2h0.7M321.6 292h0.7M308.6 299.2h0.7M317.6 300.7h0.7M310.8 294.6h0.7M315.2 293.1h0.7M320 291.9h0.7M321.9 289.4h0.7M321.6 289.5h0.7M311.9 294.7h0.7M330.6 292.7h0.7M320.8 291.9h0.7M312.7 293.4h0.7M329.1 290.6h0.7M314.8 292.8h0.7M334.2 297.7h0.7M325.1 296.9h0.7M317.2 294.6h0.7M314.2 290.3h0.7M311.2 294.6h0.7M311.7 293.4h0.7M315.8 292.3h0.7M329.3 284.3h0.7M319.6 292.2h0.7M317.5 292.6h0.7M321.7 291.1h0.7M315.6 291.1h0.7M307.8 298.5h0.7M305.9 295.3h0.7M330 283.8h0.7M315.9 291.8h0.7M331.5 292.7h0.7M333.9 293.1h0.7M320.5 290h0.7M324.6 291.8h0.7M315.2 296.8h0.7M317.1 297.3h0.7M318.9 292.6h0.7M318.2 295.1h0.7M330.7 289.1h0.7M317.4 288.9h0.7M325.7 294.7h0.7M319.3 293.6h0.7M323.5 293.9h0.7M333.5 288.9h0.7M305.3 295.4h0.7M328 289.7h0.7M313.1 296.7h0.7M319.9 289.8h0.7M315.4 299.7h0.7M314.3 302.3h0.7M306.9 290.6h0.7M296 303.6h0.7M336.1 287.5h0.7M325.5 293.8h0.7M316.3 295.3h0.7M302.7 298.3h0.7M323.9 295.2h0.7M331.5 290.5h0.7M321.9 297.6h0.7M303.9 299.5h0.7M313.9 291.1h0.7M320.5 293h0.7M317.6 294.4h0.7M327.6 289.6h0.7M310.1 292.9h0.7M312.9 301.7h0.7M297.3 300.2h0.7M327.8 291.2h0.7M323.6 287.6h0.7M314.6 297h0.7M303.1 298.4h0.7M325.5 295.3h0.7M306.3 302.9h0.7M307.4 295.5h0.7M301.9 296.9h0.7M306.1 301.3h0.7M310.2 299.9h0.7M308.9 297.9h0.7M327.4 293.7h0.7M324.2 291.5h0.7M318.8 294h0.7M313.3 295.7h0.7M317.7 287.9h0.7M306.9 299.9h0.7M321.5 295.6h0.7M310.1 293.8h0.7M313.7 293.9h0.7M320.9 294.3h0.7M310.6 298.7h0.7M306.2 297.8h0.7M326.7 290.3h0.7M303.4 299.9h0.7M307.1 297.9h0.7M308.1 294.2h0.7M311.8 295.1h0.7M316.8 293.5h0.7M290.6 304.5h0.7M313.7 291.6h0.7M330 288.2h0.7M328.2 290h0.7M325.5 292.1h0.7M317.3 301.7h0.7M319.9 293.2h0.7M313.3 298.9h0.7M303.7 300.9h0.7M321.1 297.3h0.7M327.2 296.7h0.7M320.6 295.2h0.7M317.8 291.4h0.7M325.4 291h0.7M320.7 298h0.7M327.6 297.9h0.7M314.4 299.2h0.7M302.6 306.2h0.7M322.2 295.1h0.7M325.6 289.5h0.7M311.3 296.6h0.7M320 294.6h0.7M324.2 295.2h0.7M294.6 303.9h0.7M339 285.3h0.7M324.7 295.9h0.7M316.3 293.1h0.7M308 298.1h0.7M304.4 300.3h0.7M346.7 287.8h0.7M315.2 296.7h0.7M324 290.8h0.7M312.3 295.6h0.7M315.2 298h0.7M323.6 291.2h0.7M309.9 293.1h0.7M317.3 286.8h0.7M316.2 294.8h0.7M322.1 290.3h0.7M325.4 292.1h0.7M316.4 291.5h0.7M330 289.3h0.7M313.9 294.4h0.7M314.6 298.1h0.7M318.7 291.4h0.7M315.8 291.3h0.7M324.7 292.6h0.7M293.4 304.1h0.7M302.7 296.1h0.7M299.2 301.4h0.7M330.1 290.6h0.7M325.1 293.6h0.7M312 290.4h0.7M321.3 293.5h0.7M302.7 298h0.7M315.3 295.7h0.7M330.8 288.3h0.7M323.6 292.2h0.7M336.5 282h0.7M313.7 295.4h0.7M328 295.4h0.7M318.9 294.5h0.7M320.8 293.6h0.7M320.3 294.6h0.7M324.7 296.5h0.7M329.5 288.7h0.7M318.6 289.6h0.7M321.3 289.8h0.7M317.2 292.4h0.7M320.6 293.7h0.7M311.1 298.8h0.7M326.7 289.4h0.7M324.2 289.3h0.7M320.9 296.1h0.7M318 297.5h0.7M312.4 293.6h0.7M309.9 299h0.7M308.5 296.5h0.7M311.3 294.7h0.7M326.1 291.4h0.7M321.8 290.4h0.7M305.8 292.7h0.7M309.8 292.3h0.7M329.7 288.4h0.7M332.6 290.7h0.7M325.5 293.1h0.7M336.5 291.3h0.7M312.3 293.5h0.7M322 292.9h0.7M312.7 291.3h0.7M337.5 285.3h0.7M322 296.1h0.7M322 292.6h0.7M321.6 298.9h0.7M312.4 297.9h0.7M317.9 292.8h0.7M298.7 297.8h0.7M314.6 288.9h0.7M309.7 300.7h0.7M325.2 295h0.7M330 301.6h0.7M320.8 299.7h0.7M309.6 297.7h0.7M309 293.7h0.7M324.9 286.7h0.7M316.2 293.5h0.7M316.3 294.6h0.7M309.2 292.3h0.7M320.7 295.5h0.7M320.3 296.5h0.7M325.5 288.9h0.7M310.5 295.6h0.7M318.3 289.7h0.7M306.3 300.8h0.7M320.6 290.6h0.7M318.7 290.5h0.7M315.4 288.9h0.7M326.4 288.5h0.7M307.6 291.9h0.7M332.1 293.2h0.7M322.2 294.9h0.7M323.6 288.7h0.7M321.1 290.5h0.7M312.6 295.5h0.7M313.8 295.7h0.7M326.9 288.2h0.7M318.5 298.2h0.7M321.4 295.1h0.7M315.7 301.1h0.7M326 283.2h0.7M324.3 287.4h0.7M307.5 299.5h0.7M335.6 289.6h0.7M327.7 290.4h0.7M325.9 288.2h0.7M321.6 294.6h0.7M318.3 292.5h0.7M326.1 295.9h0.7M341.1 290.7h0.7M318 297h0.7M309.3 291.1h0.7M318.5 295h0.7M319.4 299.2h0.7M327 297.2h0.7M308.1 301h0.7M314.9 298.6h0.7M316 292.4h0.7M327.1 296h0.7M328.3 296.9h0.7M320.4 294.8h0.7M327.9 292.8h0.7M319.6 293.2h0.7M319.6 294.3h0.7M299 298.9h0.7M310.9 297.8h0.7M308.9 296.4h0.7M322.5 288.1h0.7M319.2 291.9h0.7M309.3 298.1h0.7M318.9 294.6h0.7M317.4 298.9h0.7M321.8 296h0.7M313.7 299.5h0.7M312.3 295.7h0.7M328.9 294.2h0.7M316.2 292.5h0.7M327.2 289.3h0.7M310.8 299.1h0.7M316.5 295.4h0.7M315.6 292.4h0.7M310 299.5h0.7M324.5 296.8h0.7M306.8 299.9h0.7M320.4 297.6h0.7M300 302.5h0.7M324.3 295.2h0.7M318.7 291.5h0.7M328 285.4h0.7M335.6 287.8h0.7M312.5 285.7h0.7M318.4 292.3h0.7M307.3 293.9h0.7M314.4 295.6h0.7M318.8 291.7h0.7M318.6 294h0.7M325 289.3h0.7M322.5 292h0.7M326.7 296.2h0.7M312.4 292.6h0.7M319.5 288.3h0.7M309.4 301.1h0.7M316.8 296.9h0.7M294.9 301h0.7M317.3 293.1h0.7M318.7 294.9h0.7M314.3 294.1h0.7M314.8 298.1h0.7M303.6 297.5h0.7M312.6 293.8h0.7M313.1 297.3h0.7M320.1 291h0.7M322.1 294.7h0.7M314.4 291.6h0.7M317 292.8h0.7M321.2 293.8h0.7M310.6 294.2h0.7M326.8 294.6h0.7M335.5 288.6h0.7M321.4 293.8h0.7M314.1 289.2h0.7M320 295.3h0.7M328.1 291.4h0.7M329 284.7h0.7M306.7 298.3h0.7M320.9 294.3h0.7M312 293.7h0.7M314.4 291.8h0.7M320.5 289h0.7M322.7 292.8h0.7M315.8 294.9h0.7M310.9 295.6h0.7M316.4 300.9h0.7M309.4 296.7h0.7M333 290.1h0.7M304.9 293.1h0.7M323.2 293.5h0.7M319.1 296.7h0.7M318.2 291.3h0.7M309.2 303.3h0.7M314 293.6h0.7M315.2 295.4h0.7M313.5 294.3h0.7M316 293.5h0.7M319 284.9h0.7M314.3 297.9h0.7M321.8 286.2h0.7M324.3 296.1h0.7M313.5 292h0.7M324.3 290.6h0.7M318.5 301.8h0.7M313.3 292.5h0.7M322 292.2h0.7M327.5 287.4h0.7M315.3 294.3h0.7M302.6 300h0.7M324.6 297h0.7M326.5 283.4h0.7M308.6 296.7h0.7M316.9 296.3h0.7M321.9 295.7h0.7M297.9 297.7h0.7M324.6 292.4h0.7M324.1 298.1h0.7M324.9 293.2h0.7M330.6 296.9h0.7M309 293.1h0.7M326 289.5h0.7M337.2 288.5h0.7M298.8 296.7h0.7M314.8 297.1h0.7M323.9 288.9h0.7M311.8 297.1h0.7M302.4 294.1h0.7M320.5 290.7h0.7M319.3 294.5h0.7M311.7 297.9h0.7M319.9 290.6h0.7M325.6 287.1h0.7M326.4 293.4h0.7M321.4 290h0.7M307.3 298.6h0.7M315.2 299h0.7M298.5 302h0.7M308.8 292.2h0.7M319.2 297.6h0.7M322.4 296.3h0.7M317.6 292.4h0.7M317.7 292.9h0.7M301.1 303.7h0.7M306.8 298.5h0.7M308 298.5h0.7M312.7 299.2h0.7M312.6 297.5h0.7M336.3 297.5h0.7M326.3 296h0.7M309 297.4h0.7M312 296.4h0.7M313 294.8h0.7M312.7 299.6h0.7M313.2 291.9h0.7M300.3 302.3h0.7M327.6 289.5h0.7M323.4 286.8h0.7M323.1 295.7h0.7M318.5 295.4h0.7M321.6 294h0.7M314.6 294.3h0.7M300.8 299.3h0.7M318.7 292h0.7M317.8 298.5h0.7M306.4 302h0.7M298.5 299.9h0.7M327.3 291.5h0.7M308.9 297.9h0.7M315.8 297.7h0.7M311.6 296.9h0.7M331.9 288.7h0.7M304.9 297.5h0.7M326.5 292.6h0.7M296 300.4h0.7M325.4 290.8h0.7M313.3 299.5h0.7M298.3 301.5h0.7M318 297.1h0.7M316.9 291.8h0.7M303.8 301.1h0.7M320.6 293.6h0.7M317.3 293.7h0.7M321.6 291.1h0.7M305.6 296h0.7M311.1 294.9h0.7M309.3 297.3h0.7M318.5 293.9h0.7M313 302h0.7M308.9 298.5h0.7M329.3 291.7h0.7M313 295.5h0.7M326.9 289.2h0.7M324.6 289.8h0.7M311.4 297.4h0.7M301.8 294.4h0.7M319.2 299h0.7M323.3 297.6h0.7M327.5 286.8h0.7M320.8 297.2h0.7M321.2 296.8h0.7M312.1 299.6h0.7M311.3 298.4h0.7M345 291.3h0.7M327.3 289h0.7M306.2 296.4h0.7M320.1 295.6h0.7M321.5 293.4h0.7M302.2 294.6h0.7M315.1 297.7h0.7M322.4 296.2h0.7M331.8 289.5h0.7M331.4 291.5h0.7M314.6 298.3h0.7M314.9 288.7h0.7M313.6 293.9h0.7M319.5 291.1h0.7M324.9 291.8h0.7M308.7 293.2h0.7M316.1 290.9h0.7M312.6 296.6h0.7M311 302.1h0.7M313.2 291.9h0.7M333.3 294.7h0.7M332.6 292.9h0.7M330.2 293.8h0.7M303.4 302.8h0.7M320.3 292.3h0.7M338.2 291.8h0.7M321.2 288.7h0.7M311.5 293.8h0.7M322.8 293.9h0.7M315.4 297.5h0.7M314.2 291.2h0.7M319.8 287.9h0.7M321.7 294.5h0.7M316.2 295.8h0.7M317.5 296.7h0.7M308.9 296.8h0.7M317.3 290.5h0.7M323.8 296.1h0.7M318.4 296.6h0.7M316.2 295.4h0.7M305.3 304.9h0.7M327.3 292.3h0.7M307.7 302.1h0.7M323.5 292.3h0.7M314.6 286.3h0.7M324.6 288.8h0.7M326.6 283.2h0.7M315 294.5h0.7M291.6 305.9h0.7M300.1 294.4h0.7M309.3 299.2h0.7M309.7 296h0.7M320.2 296.5h0.7M334.7 290.5h0.7M323.4 289.6h0.7M316.5 296.6h0.7M329.3 290.8h0.7M316.1 297.7h0.7M325.1 298.3h0.7M320.9 292.9h0.7M301.1 304.5h0.7M326 291.6h0.7M332.8 291.8h0.7M314.8 295.9h0.7M324.3 290.4h0.7M322.1 293.5h0.7M315.4 293.7h0.7M314.5 297.2h0.7M326.3 288.6h0.7M312.2 293.1h0.7M313.1 298.5h0.7M325 293.9h0.7M325.7 293.8h0.7M331.2 292.2h0.7M312.7 299.2h0.7M306.3 299.4h0.7M327.1 294.5h0.7M304.6 296h0.7M314.2 297.1h0.7M315.9 292.7h0.7M332.5 286.2h0.7M318 293.7h0.7M307.4 299.6h0.7M317.6 294.6h0.7M329.2 296.6h0.7M302.3 301.2h0.7M306.5 299.2h0.7M326.6 292.2h0.7M318.8 290h0.7M309.1 297.2h0.7M316 295.1h0.7M318.4 299.7h0.7M307.9 295h0.7M312.9 295.5h0.7M330.2 288.5h0.7M320.5 294.1h0.7M327.4 286.2h0.7M317.5 295.5h0.7M313 295.9h0.7M320.4 294.2h0.7M310 305h0.7M320.9 293.3h0.7M315.2 296.8h0.7M315.3 295.2h0.7M315.5 298.5h0.7M309.7 303.9h0.7M329.5 296.2h0.7M304.9 299.4h0.7M319.7 289.9h0.7M307 299.1h0.7M325.5 287h0.7M315.9 292.3h0.7M319.4 292.1h0.7M321.8 289.8h0.7M320.9 293.5h0.7M319.4 292.8h0.7M320.9 291.2h0.7M320.8 294.7h0.7M313.9 293.3h0.7M315.3 299.2h0.7M315.7 297h0.7M311.7 294.9h0.7M313.2 297.2h0.7M329.1 288.9h0.7M305.5 296.2h0.7M332.2 293.3h0.7M313.3 290.8h0.7M323.1 294.3h0.7M317.8 300.4h0.7M316.3 287.9h0.7M322.6 300.5h0.7M332.3 284h0.7M316.8 287.7h0.7M317.5 287.9h0.7M313.2 292.1h0.7M335.1 287.4h0.7M327.8 285.4h0.7M327.4 290.9h0.7M318.1 296.9h0.7M301.7 296.8h0.7M321.9 293.5h0.7M302.6 300.9h0.7M312.5 301.4h0.7M326.1 291.6h0.7M312.9 298.1h0.7M312 297.7h0.7M299.7 300h0.7M323.9 291.5h0.7M321.4 294.5h0.7M313.7 297.8h0.7M320.9 289.3h0.7M304.1 297.3h0.7M309.9 297.8h0.7M319.5 294.8h0.7M325.3 293.2h0.7M317.5 299.6h0.7M307.3 300.8h0.7M313.6 291.7h0.7M327.3 296.5h0.7M312.7 293.7h0.7M319.9 291.1h0.7M321.5 296.7h0.7M313.1 294.7h0.7M318 289h0.7M302.5 300.9h0.7M312.9 297.3h0.7M318.1 296h0.7M323.2 288.3h0.7M328.8 293.6h0.7M313.7 293.6h0.7M321.8 296h0.7M316.7 290.8h0.7M311.1 293.3h0.7M311.2 290.1h0.7M317.3 292h0.7M317.8 297.7h0.7M311.4 297h0.7M341.1 285.6h0.7M317.5 298.8h0.7M323.4 293.3h0.7M315.5 297.5h0.7M341.5 288.3h0.7M298.8 299.7h0.7M314.7 295.7h0.7M319.3 295.3h0.7M327.9 294.9h0.7M317.3 296.4h0.7M309.3 299.7h0.7M331.1 286.8h0.7M323.4 286.7h0.7M315.5 296h0.7M315.6 295.5h0.7M315.6 296.4h0.7M319.1 290.8h0.7M303.2 299.2h0.7M318.9 290.6h0.7M312.6 296.2h0.7M321.8 292.9h0.7M320.5 293h0.7M308.8 298h0.7M329.1 289.3h0.7M324.1 292.4h0.7M310 298.9h0.7M308.8 301.8h0.7M311.9 297.4h0.7M320.6 296.1h0.7M328.4 293h0.7M310 301.9h0.7M311.1 303h0.7M322.1 291h0.7M317.2 296.7h0.7M317.2 295.4h0.7M316.6 299.7h0.7M314.9 287.4h0.7M332.5 287.9h0.7M325.9 286.4h0.7M314.9 299.6h0.7M328.3 292.1h0.7M333.6 291.7h0.7M321.7 294.5h0.7M320.3 294.5h0.7M313.5 296.9h0.7M318.7 292.7h0.7M319.5 287.3h0.7M328.7 292.1h0.7M309.7 296.6h0.7M303.9 296.7h0.7M313.4 293.7h0.7M320.8 297.6h0.7M300.7 297.1h0.7M315.9 291.5h0.7M310.8 298.5h0.7M308.1 301.9h0.7M318.8 289.9h0.7M327.5 288.3h0.7M306.1 294.5h0.7M319.6 295h0.7M316.2 296.6h0.7M323.1 297.2h0.7M317.7 294.2h0.7M312.3 295.2h0.7M325.1 290.2h0.7M321.2 296.8h0.7M308.9 295.1h0.7M300.7 296.8h0.7M311.6 295.4h0.7M319.3 293.8h0.7M324.1 293.7h0.7M312.7 293.8h0.7M314.3 300.9h0.7M302.3 305h0.7M313.7 292h0.7M318.5 294.5h0.7M312.6 292.7h0.7M316.7 293.8h0.7M309.3 293h0.7M309.9 295.8h0.7M319.8 294.5h0.7M304.4 298.9h0.7M317.6 290.1h0.7M327.5 285h0.7M312.7 290h0.7M313.3 299.5h0.7M310.4 295.9h0.7M306.5 297.9h0.7M312.6 300.5h0.7M306.7 294.5h0.7M315.5 296.3h0.7M312.8 293.7h0.7M307.8 297.9h0.7M317.6 288.4h0.7M325.8 290.6h0.7M324 292.2h0.7M315 295.5h0.7M317.1 289.9h0.7M308.5 296.3h0.7M315.2 297.9h0.7M322.8 292.5h0.7M323.7 295.2h0.7M328.6 293.1h0.7M304.5 299h0.7M330.4 289.3h0.7M320.4 293.7h0.7M330.3 287.6h0.7M317.3 296.5h0.7M327.6 292.4h0.7M317 298.3h0.7M308.3 304.3h0.7M319.9 296.3h0.7M312.9 297.5h0.7M316.9 295.2h0.7M321.6 295.8h0.7M323.7 296.9h0.7M322.7 291.9h0.7M325.3 288h0.7M304.1 294.1h0.7M326.9 294.7h0.7M310.2 298.1h0.7M317.9 295.9h0.7M313.7 290.2h0.7M307.5 295.6h0.7M324.6 287.3h0.7M308.6 293.4h0.7M312.5 294.1h0.7M329.4 288.6h0.7M298.2 305.2h0.7M303 294.7h0.7M325.2 290.1h0.7M313.7 293.1h0.7M323.8 292.7h0.7M317.1 296.8h0.7M313.1 293.1h0.7M323.1 287.4h0.7M311.3 294.9h0.7M312.5 297.1h0.7M319.1 290.4h0.7M307.9 300.3h0.7M305.1 294.9h0.7M303.2 296.6h0.7M318.3 297.9h0.7M303 300.7h0.7M288.2 295.1h0.7M299.8 298.6h0.7M297.1 293.6h0.7M310.7 297.7h0.7M311.2 295.7h0.7M298.6 300.2h0.7M311.4 289.7h0.7M285.4 296.3h0.7M293.6 295.8h0.7M289 299.2h0.7M290.9 294.3h0.7M295.8 295.4h0.7M291.6 301.3h0.7M304.1 294.7h0.7M320.5 295.5h0.7M319.3 300.9h0.7M313.3 289.5h0.7M315 298.3h0.7M290.3 298.1h0.7M288.1 297.8h0.7M309.4 290.6h0.7M300.6 291.9h0.7M292.1 293.9h0.7M288.1 293.8h0.7M296.3 299.2h0.7M301.6 295.3h0.7M285.8 301.8h0.7M300 296.8h0.7M290.8 299h0.7M317.3 294.5h0.7M311.9 294.8h0.7M292.8 298.4h0.7M289.7 299.9h0.7M313.9 294.5h0.7M313.1 301.4h0.7M321 296h0.7M290.1 302.4h0.7M305.4 292.5h0.7M315.5 295.6h0.7M301.5 299.1h0.7M294.2 296.6h0.7M289.7 294.8h0.7M295.6 299.1h0.7M298.4 300.2h0.7M309.2 295.5h0.7M287.9 299.6h0.7M312.8 295.4h0.7M289.7 294.1h0.7M294.8 301.4h0.7M301.7 294.9h0.7M286.8 295.1h0.7M297.7 299.5h0.7M320.1 293.4h0.7M320.1 293.6h0.7M314.9 295.9h0.7M296.1 297.2h0.7M304.8 300.1h0.7M315.1 296.2h0.7M285 294.6h0.7M300.4 292.4h0.7M304.6 295.7h0.7M308.1 295.2h0.7M293.8 300.7h0.7M297.5 291.2h0.7M321.9 290.6h0.7M287.9 290.3h0.7M315.5 296h0.7M306.6 298.4h0.7M321.6 302.5h0.7M306.5 291.2h0.7M299.8 297.4h0.7M320.6 294.7h0.7M307.2 302.5h0.7M307 298h0.7M315.7 302.2h0.7M297.8 296.7h0.7M307.2 300.6h0.7M314.2 298.1h0.7M293.1 294.6h0.7M294.1 300.1h0.7M312.9 295.7h0.7M316.6 288.9h0.7M311 296.4h0.7M308.7 292.5h0.7M290 298.7h0.7M316.3 302.2h0.7M321.4 297.9h0.7M317.7 298.8h0.7M304.5 292.5h0.7M289.7 294h0.7M301.5 294.7h0.7M318.9 303.7h0.7M310 295.3h0.7M290.7 297.8h0.7M320.2 290.3h0.7M309.3 295h0.7M313.2 297.2h0.7M289 296.3h0.7M307.4 295.8h0.7M314.3 298.3h0.7M291 298.5h0.7M295.2 292.5h0.7M317.2 292.1h0.7M304.7 298.7h0.7M313.8 299.6h0.7M313.5 292h0.7M304.4 299.2h0.7M300.7 291.8h0.7M312.4 296.2h0.7M298.9 301.3h0.7M310 291h0.7M288.4 296.8h0.7M312.6 296h0.7M313.3 292.8h0.7M315.7 299.5h0.7M303.6 293.4h0.7M315.3 294.4h0.7M293.2 292.9h0.7M285.7 298.3h0.7M317.8 298.7h0.7M289.8 301.6h0.7M293.5 295.9h0.7M295.3 293.8h0.7M285.9 302h0.7M293.7 294.6h0.7M299.9 299.1h0.7M291.3 302.5h0.7M319.1 299.5h0.7M287.1 290.3h0.7M295.7 293h0.7M292.9 293.9h0.7M304.9 299.7h0.7M288 294h0.7M305.1 299.4h0.7M291.1 297.5h0.7M313 297.3h0.7M299.3 296.6h0.7M298.7 294h0.7M316.7 301.6h0.7M291 297.1h0.7M304 302h0.7M312 293.5h0.7M303 290.7h0.7M321.8 301.7h0.7M321.8 292.5h0.7M288 297.1h0.7M320 295.3h0.7M317.9 296.1h0.7M289 295.5h0.7M313 292.7h0.7M297.4 292.4h0.7M294.7 297.4h0.7M304.6 294.1h0.7M288 302.7h0.7M314.2 296.9h0.7M320.6 301.6h0.7M295.7 294.9h0.7M321.5 299.5h0.7M319.8 294.5h0.7M301.3 293.3h0.7M302.1 295.7h0.7M308.9 295.9h0.7M287.5 305.8h0.7M292.7 291.8h0.7M305.6 294.3h0.7M298.3 299.1h0.7M303.8 296h0.7M291.4 297.1h0.7M320.3 299.3h0.7M301 296.1h0.7M293.9 294h0.7M286.7 291.7h0.7M306.5 296.3h0.7M300.2 298.5h0.7M310.3 297.3h0.7M310.7 300.7h0.7M287.5 295.1h0.7M288.8 297.6h0.7M301.9 293.6h0.7M300.9 289.7h0.7M300.6 298.6h0.7M304.5 294.9h0.7M301.4 298.8h0.7M316.2 294.3h0.7M307 291h0.7M296 293.3h0.7M299.9 295.5h0.7M293.6 294.1h0.7M306 295.5h0.7M317.2 298.5h0.7M309 296.5h0.7M319.1 298.2h0.7M313 296h0.7M306.9 294.1h0.7M315.7 293h0.7M309.8 288.7h0.7M285.5 298.6h0.7M309 300.4h0.7M313.6 293h0.7M313.6 293.1h0.7M295.5 293.4h0.7M291.6 297.7h0.7M285 296.8h0.7M293.5 295.7h0.7M292 296.3h0.7M295.6 290.6h0.7M288.7 296h0.7M291.8 295.8h0.7M289.7 298.2h0.7M293.8 293.9h0.7M299.8 294.6h0.7M315.1 297.2h0.7M318.9 306h0.7M306.8 294.3h0.7M303.9 303.8h0.7M303.1 293.2h0.7M319.8 296.7h0.7M317.9 293.2h0.7M308.6 301.4h0.7M297.8 297h0.7M316.1 297.2h0.7M320.1 300.2h0.7M303.4 301.2h0.7M292.1 294.2h0.7M303 297.4h0.7M297.2 294.8h0.7M287.7 300.7h0.7M308.8 289h0.7M307.3 304.3h0.7M306.4 295.7h0.7M288.6 289.1h0.7M309.8 297.5h0.7M300.6 293.5h0.7M297.1 296.7h0.7M297.2 297h0.7M301.5 300.4h0.7M304.8 290h0.7M314.6 298h0.7M307 300.7h0.7M286.3 291.9h0.7M301.3 299.2h0.7M311.3 299.4h0.7M298.7 294.6h0.7M286.5 289.7h0.7M320.2 297.1h0.7M304.3 294.9h0.7M291.8 302.1h0.7M319.8 295.7h0.7M286.9 299.1h0.7M287.6 297.8h0.7M289.8 297.2h0.7M292.2 292.1h0.7M307.1 294h0.7M319.5 296.9h0.7M298.5 296.3h0.7M318.9 296.2h0.7M295 299.3h0.7M296.9 296.7h0.7M305.1 299.1h0.7M316 296.9h0.7M310.3 297.9h0.7M299.1 294.7h0.7M295.7 291.2h0.7M297.7 299.6h0.7M317.4 299.6h0.7M296.5 298.9h0.7M291.4 293.7h0.7M294.8 300.5h0.7M299.6 296.9h0.7M320.3 297.2h0.7M302.6 294.2h0.7M317.5 294.8h0.7M318.1 294.3h0.7M306.8 297.9h0.7M312 294.1h0.7M290 296.5h0.7M300.4 294.6h0.7M288.9 292h0.7M289 296.7h0.7M303.1 297h0.7M315.8 296.8h0.7M288.2 286h0.7M286.3 300.2h0.7M316 296.5h0.7M301.6 293.1h0.7M289.5 303.4h0.7M318.2 296.6h0.7M305.3 299.2h0.7M312.8 297h0.7M318.9 288.3h0.7M289.9 300.8h0.7M290.7 292.5h0.7M319.7 300.4h0.7M296.9 296.1h0.7M306.8 293.5h0.7M305.3 287.8h0.7M293 294.9h0.7M296 293h0.7M289.1 296.7h0.7M304 292.6h0.7M308.3 299.1h0.7M285.6 294.7h0.7M315.5 294.9h0.7M294.4 303.6h0.7M304.5 299.3h0.7M287.4 294.2h0.7M297.2 297.9h0.7M288.4 290.8h0.7M306.8 293.9h0.7M296.9 295.9h0.7M319 293.9h0.7M289.9 293h0.7M305.1 298.8h0.7M320.4 294.4h0.7M295.7 293.7h0.7M317.2 294.4h0.7M321.7 294.2h0.7M288.1 299.3h0.7M304.9 297.6h0.7M300.4 291.2h0.7M302.8 301.3h0.7M315.1 300.4h0.7M314.4 295.5h0.7M294.6 293h0.7M306.4 296.6h0.7M320.4 294.5h0.7M293.6 298.4h0.7M292.2 296.4h0.7M305.8 301h0.7M299.8 290.8h0.7M295.7 294.3h0.7M313.7 297.5h0.7M320.2 294.8h0.7M294.2 295h0.7M289.6 292.4h0.7M301.8 303.3h0.7M304.7 295.9h0.7M317.6 299h0.7M320.3 293.8h0.7M304.8 294.9h0.7M309 296.3h0.7M305.8 302.3h0.7M285.2 301.4h0.7M305.9 303.9h0.7M310.5 301.9h0.7M297.9 301.8h0.7M307.8 295.8h0.7M300.7 294.1h0.7M318.9 301.1h0.7M302.7 294h0.7M305.9 298.4h0.7M291.4 294.4h0.7M311.9 292.8h0.7M302.1 296.7h0.7M290.7 293.4h0.7M304 295.4h0.7M292.9 299.6h0.7M297.8 295.8h0.7M295.4 300h0.7M303.9 294.9h0.7M306.1 297.7h0.7M314.4 293h0.7M304 301.2h0.7M317.6 289.3h0.7M315.9 297.5h0.7M286.7 298.5h0.7M297.8 287.3h0.7M288.7 290.7h0.7M317.1 291.1h0.7M286.5 296.2h0.7M293.9 295.6h0.7M306.7 295.3h0.7M289.5 298.7h0.7M319.8 304.5h0.7M294.9 292.9h0.7M289 297.8h0.7M289.6 296.7h0.7M300.3 300.3h0.7M302.8 289h0.7M307.5 290.8h0.7M288.7 292.7h0.7M291.5 292.7h0.7M296.5 297.3h0.7M287.4 294.8h0.7M288.2 289.4h0.7M297.7 293.9h0.7M298.8 290.8h0.7M312.5 293.8h0.7M321.1 295.8h0.7M290.8 293.7h0.7M312.6 300.8h0.7M286.4 304.4h0.7M291.9 298.2h0.7M287.3 291h0.7M287.3 301.5h0.7M291.5 303.9h0.7M305.2 295.8h0.7M313.6 297.8h0.7M318.3 300.3h0.7M319 297.2h0.7M296.7 300.9h0.7M316.2 298.4h0.7M306.8 294.3h0.7M309.8 294.8h0.7M310.2 295.6h0.7M294.3 294.1h0.7M319.7 301.1h0.7M298.7 297.6h0.7M288.5 295.8h0.7M303 299.3h0.7M305.9 296.7h0.7M305.9 300.1h0.7M306.9 302.2h0.7M321.2 297.1h0.7M305 294.4h0.7M313.3 292.3h0.7M312.1 302.7h0.7M305.5 297.8h0.7M306.7 294.4h0.7M318.1 296.1h0.7M294 292.5h0.7M313.5 301.2h0.7M299.3 297.6h0.7M309.5 295.2h0.7M321.7 291.3h0.7M300.9 303.9h0.7M315.3 296.9h0.7M300.5 288.6h0.7M294.2 294.4h0.7M291 296.4h0.7M317.6 297h0.7M321 292.6h0.7M313.1 300.5h0.7M297.8 298.5h0.7M319.8 296.6h0.7M302.9 294.1h0.7M303.4 290.2h0.7M317.3 294.8h0.7M285.7 295.7h0.7M312.3 292.3h0.7M300.7 297.5h0.7M314.1 299.3h0.7M297.7 294.8h0.7M291.2 295h0.7M307.2 296.4h0.7M307.7 302.3h0.7M299.5 301.5h0.7M298.1 290.6h0.7M319.9 294.7h0.7M291.1 305.4h0.7M310.4 295.3h0.7M299.2 302.6h0.7M321.7 298.2h0.7M321.2 300.9h0.7M313.1 295.2h0.7M305.1 296.8h0.7M302.8 298.4h0.7M290.1 296.4h0.7M306.3 296.3h0.7M316.4 301.5h0.7M313.9 295.9h0.7M298.9 301.1h0.7M291.6 294.4h0.7M302.3 295.4h0.7M286.4 299h0.7M306 298.3h0.7M311.1 299.9h0.7M285.2 296.6h0.7M314.1 296.4h0.7M298.7 294.8h0.7M306.9 290.9h0.7M309.1 295h0.7M317 300.1h0.7M321.2 296.3h0.7M309.2 297.2h0.7M301.6 300.9h0.7M312.8 293.3h0.7M311.4 297.7h0.7M298.8 294.5h0.7M318.3 300.5h0.7M289.8 291.3h0.7M285.7 295.3h0.7M292.1 294.7h0.7M309.3 295.3h0.7M321.5 294.5h0.7M299.9 303.1h0.7M289.9 295.7h0.7M314.5 296h0.7M321.6 291.4h0.7M287.7 291.8h0.7M309.9 293.8h0.7M304.2 292.2h0.7M308.3 298.3h0.7M298.5 294.4h0.7M295.4 294.9h0.7M316.2 296h0.7M288.2 293.3h0.7M310.3 292.1h0.7M301 294.1h0.7M305.7 297.2h0.7M319.9 296.1h0.7M311.7 293.5h0.7M311.9 302.1h0.7M302.7 297.8h0.7M309.6 298.8h0.7M300.6 301.9h0.7M301.6 293.3h0.7M316.4 299.8h0.7M307 297.4h0.7M313.8 297.5h0.7M306.8 291.2h0.7M303.8 293.7h0.7M312.6 296.5h0.7M297.3 296.3h0.7M315.9 301.9h0.7M308 295.2h0.7M294.3 297.4h0.7M309.8 295.4h0.7M315.8 292h0.7M293.5 295.3h0.7M298.3 296.9h0.7M304.9 302.6h0.7M293.6 300.8h0.7M310.3 294.6h0.7M315.2 293.4h0.7M302.4 296.4h0.7M286.5 294.5h0.7M297.1 305.1h0.7M311.7 299.5h0.7M307.4 296.3h0.7M303.8 294.7h0.7M313.5 292.8h0.7M320.8 296.2h0.7M303.3 287.6h0.7M295.1 295.2h0.7M313 294.9h0.7M291.6 301.8h0.7M290.7 290.4h0.7M310.1 299.7h0.7M294.4 295.4h0.7M314.1 299.3h0.7M295.2 294h0.7M302.5 298h0.7M298.5 299.5h0.7M292.3 305.4h0.7M294.8 293.7h0.7M308.5 296.1h0.7M292.7 296.2h0.7M310.9 294.5h0.7M303 296.2h0.7M295 296.7h0.7M316 295.4h0.7M294.4 290.6h0.7M319.9 297.5h0.7M306.1 291.5h0.7M313.4 296.3h0.7M321.6 300.1h0.7M302.7 292.1h0.7M310.8 296.1h0.7M288 297.3h0.7M313.2 296.4h0.7M288.5 294.9h0.7M295.3 296.6h0.7M314.7 298.9h0.7M310.6 293.1h0.7M297.5 296h0.7M289.2 299.1h0.7M289.6 294.5h0.7M314.2 292.4h0.7M295.1 299.2h0.7M294.3 299h0.7M285.4 299.9h0.7M306 296.5h0.7M311.6 294.3h0.7M319.6 301.8h0.7M320.8 300.9h0.7M292.5 299.4h0.7M287 294.9h0.7M300.4 297h0.7M297.5 293.5h0.7M288.8 293h0.7M315.3 296.9h0.7M298.1 297.7h0.7M313.6 298.5h0.7M296.8 296.9h0.7M293.3 303.7h0.7M297.6 293.2h0.7M309.3 301.1h0.7M298.9 295.2h0.7M315 299.8h0.7M302 293.4h0.7M310.9 304.2h0.7M299.3 301.6h0.7M311.6 291.1h0.7M303.9 301.1h0.7M321.1 297.3h0.7M307.7 299.8h0.7M300.7 296.6h0.7M309.3 296.2h0.7M297.1 291.8h0.7M308.3 295h0.7M293 296.6h0.7M321.4 290.8h0.7M316.3 293.2h0.7M292.2 296.7h0.7M293.5 298.2h0.7M304.7 295.1h0.7M308.3 301.5h0.7M297.1 294.9h0.7M316.9 298.8h0.7M289 301.2h0.7M305.8 294h0.7M300.5 300.7h0.7M319.9 296.2h0.7M312 293.7h0.7M318.4 302.3h0.7M314.9 302.4h0.7M291.8 295.6h0.7M297.2 300.4h0.7M297.7 300.2h0.7M288.7 296.7h0.7M315.9 304.4h0.7M315.9 296.3h0.7M314.5 294.5h0.7M285.8 296.8h0.7M321.6 296.4h0.7M316.1 295.2h0.7M289.9 295.8h0.7M295.4 292.1h0.7M308.3 298.9h0.7M302.3 292h0.7M292.2 300.6h0.7M311.5 299.2h0.7M311.9 295.4h0.7M291.4 295.4h0.7M302.3 294.5h0.7M318 296.8h0.7M292.1 302.9h0.7M288.6 297.9h0.7M313.8 295.3h0.7M320.9 302.9h0.7M303.6 295.4h0.7M285.7 295.6h0.7M285.4 304.3h0.7M297.7 299.1h0.7M321.3 301h0.7M300.3 299h0.7M316.7 298.7h0.7M334.5 290.5h0.7M320.7 291.9h0.7M321.3 287.5h0.7M336.2 294.2h0.7M331.4 286.7h0.7M321.7 292.5h0.7M333.8 298.8h0.7M338.6 296.1h0.7M331.1 298h0.7M321.6 294.4h0.7M323.3 297.1h0.7M339 293.3h0.7M322.4 288.5h0.7M344.4 295.9h0.7M342.7 293.6h0.7M324.8 290.5h0.7M325.5 289.1h0.7M344.6 299h0.7M341.5 286.8h0.7M344.7 290.3h0.7M337.3 295.4h0.7M332.1 296.4h0.7M326.6 294.9h0.7M322.2 287.4h0.7M336.6 298.5h0.7M338.6 293.4h0.7M337.8 287.6h0.7M327 298.5h0.7M337.7 293.4h0.7M337.3 286h0.7M329 282.5h0.7M320.7 293.1h0.7M344.7 291.1h0.7M335.5 295h0.7M334.9 294.5h0.7M319.9 290.5h0.7M334.7 295.7h0.7M332.7 294.8h0.7M328.8 289.3h0.7M336.3 297.2h0.7M342.6 294.7h0.7M342.9 293h0.7M321.1 295.3h0.7M321.1 290.4h0.7M327.8 290.4h0.7M337.5 293.4h0.7M321.7 289.8h0.7M323.7 300.3h0.7M325.2 294.9h0.7M332.2 296.9h0.7M343.2 301.5h0.7M335.4 300h0.7M332.7 302.8h0.7M332.6 290.2h0.7M334.9 300.9h0.7M338.6 292.1h0.7M330.3 293h0.7M334.9 294.8h0.7M339.3 294.3h0.7M327.6 293.9h0.7M328.2 295.3h0.7M320.9 300.5h0.7M323.9 284.6h0.7M334.3 287.7h0.7M341.3 288.4h0.7M329.6 295.2h0.7M332.8 294.4h0.7M336 295.6h0.7M330.5 302.1h0.7M338.4 294.1h0.7M322.1 287.9h0.7M322.2 295.8h0.7M344.1 301.8h0.7M335.8 302.5h0.7M318.5 293.7h0.7M332.1 294.7h0.7M341.2 295.4h0.7M341.5 296.6h0.7M343.7 293.4h0.7M330.2 292h0.7M320.8 300.7h0.7M342.1 300.6h0.7M344.3 294.1h0.7M320.9 291.5h0.7M325.3 291.3h0.7M326.4 289.1h0.7M327 288.7h0.7M341.2 292.8h0.7M327.1 290.9h0.7M319.1 295.2h0.7M338.4 291.8h0.7M331.7 290.1h0.7M340 292.3h0.7M335.8 283.3h0.7M344.3 295.6h0.7M331.4 293h0.7M331.6 299.9h0.7M343.8 292.1h0.7M323 293.3h0.7M328.4 290.1h0.7M344.4 302.9h0.7M344.6 295.2h0.7M339.8 299.2h0.7M336.8 292.6h0.7M340.4 296.5h0.7M341.9 289.9h0.7M335.2 291.3h0.7M331.1 292.7h0.7M332.3 290.2h0.7M326.5 297.1h0.7M328.2 297.6h0.7M338.8 299h0.7M319.3 290.1h0.7M341.6 291.5h0.7M325.7 293.8h0.7M333.7 296.7h0.7M323.1 288.6h0.7M339.9 292.8h0.7M338.3 298.3h0.7M323.1 294.4h0.7M331 293.5h0.7M331.6 289.1h0.7M334 292.5h0.7M318.9 296.9h0.7M339.2 298.3h0.7M336.8 286.7h0.7M334.6 295.6h0.7M327.5 292.3h0.7M334.9 289.9h0.7M333.6 301.7h0.7M325.6 296.7h0.7M329 289.2h0.7M343.5 289.5h0.7M326.3 294.6h0.7M331.2 287.5h0.7M327.4 293h0.7M336.1 296h0.7M328.7 288.2h0.7M342.9 294.6h0.7M322.1 295.7h0.7M326.1 291h0.7M344.2 295.4h0.7M335.8 296.6h0.7M337.7 295.6h0.7M330.2 290.9h0.7M319.7 297.4h0.7M319.3 292.4h0.7M338.8 294.7h0.7M344.3 294h0.7M330.9 293.8h0.7M337.2 285.2h0.7M327.2 298.2h0.7M338.3 295.8h0.7M325.3 294.3h0.7M328.2 296.4h0.7M339 292h0.7M331.6 293.1h0.7M332 295.9h0.7M318.9 284.6h0.7M326.3 290.6h0.7M325.1 291.2h0.7M329.5 292.5h0.7M322.8 291.5h0.7M343 290.4h0.7M340.1 294.8h0.7M339.6 297.1h0.7M329 295.7h0.7M335.4 298.1h0.7M327.2 295.9h0.7M325.6 300h0.7M342.6 300.5h0.7M339.2 291.8h0.7M341.4 290.3h0.7M335.1 291.2h0.7M336.2 292.3h0.7M344.6 296.9h0.7M333.5 296h0.7M325.3 294.7h0.7M323.6 290.9h0.7M342.9 292h0.7M323.6 292.9h0.7M319.7 294.7h0.7M333.4 280.9h0.7M320.6 294.8h0.7M330.5 295.9h0.7M326.5 290.7h0.7M327.1 299.8h0.7M338.5 297h0.7M327 296.7h0.7M342.7 287h0.7M340.1 297.1h0.7M340.8 294.4h0.7M325.3 294.6h0.7M327.2 284h0.7M325.3 287.1h0.7M329 292.5h0.7M325.8 288h0.7M328.8 299.4h0.7M334.8 289h0.7M334.1 296.9h0.7M338.5 295.3h0.7M340.6 305.8h0.7M328.4 294h0.7M342.3 300.1h0.7M328.9 291.9h0.7M324 288.9h0.7M328.6 295.3h0.7M325.6 299.3h0.7M324.9 291.5h0.7M321.1 298.3h0.7M341.8 296.3h0.7M324.7 293.9h0.7M342.3 294.7h0.7M342.6 294.4h0.7M344.7 291.2h0.7M327.6 294.5h0.7M318.8 295.6h0.7M339.1 290.7h0.7M339.3 282.7h0.7M342.6 296.6h0.7M332.2 290.9h0.7M341 296.2h0.7M326.8 290.2h0.7M319.6 295.5h0.7M324.2 292.9h0.7M341.5 292.5h0.7M338.3 293.6h0.7M322.1 295.4h0.7M327.3 286.3h0.7M330.8 299.2h0.7M342.9 298.2h0.7M340.2 295.2h0.7M324.3 286.8h0.7M325 297.4h0.7M342.6 293.8h0.7M338.4 300.9h0.7M338.3 291.9h0.7M328.5 293h0.7M342.4 298.1h0.7M322.9 284.6h0.7M318.9 292.2h0.7M343.3 293.1h0.7M321.1 283.9h0.7M318.4 289.8h0.7M340.1 294.8h0.7M330.8 295.3h0.7M343 300.9h0.7M330.8 297.9h0.7M335.1 288.1h0.7M330.2 297.2h0.7M332.3 295.5h0.7M325 294.3h0.7M320.5 288.9h0.7M331.1 301.9h0.7M330.7 301.4h0.7M335.2 295.2h0.7M320.8 290.4h0.7M325.4 289h0.7M320.9 289h0.7M318.4 297.7h0.7M325.1 286.5h0.7M321.2 298.8h0.7M323.4 293.1h0.7M333.2 295.4h0.7M332.4 297.1h0.7M325.7 304.2h0.7M318.7 297.1h0.7M343.2 293.2h0.7M344.6 295.5h0.7M327.3 294.5h0.7M334.5 294h0.7M321.8 294.3h0.7M335.5 289.6h0.7M323.3 295.3h0.7M332.1 288.1h0.7M343.5 298.8h0.7M338.6 292.3h0.7M325.7 288.9h0.7M341.5 296.7h0.7M325.9 296.8h0.7M336.6 294.4h0.7M324.6 287.4h0.7M341.5 288.3h0.7M321.7 296.2h0.7M323.7 303.6h0.7M335.4 295h0.7M319.2 295.2h0.7M338.1 296.4h0.7M326.9 290.2h0.7M340.8 298.7h0.7M325.7 291.2h0.7M335.3 294.1h0.7M332.1 290.4h0.7M339.9 288.7h0.7M325.7 290.6h0.7M318.9 289.9h0.7M342.7 292.2h0.7M325.4 300.6h0.7M341 295.2h0.7M327.2 291.5h0.7M326.7 295.7h0.7M325.4 291.5h0.7M339.2 298.8h0.7M322.4 297.4h0.7M336.4 292.4h0.7M331 293.7h0.7M332.7 294.3h0.7M340.9 289.6h0.7M318.3 289h0.7M336.4 293.4h0.7M334 290.1h0.7M324.9 293.9h0.7M318.4 297.6h0.7M342.3 293h0.7M334.1 296.5h0.7M344.9 301.5h0.7M333.7 292.1h0.7M328.8 300.2h0.7M335 290.4h0.7M343.9 289.1h0.7M323.4 294.8h0.7M344.5 293.3h0.7M327.2 287.7h0.7M330.9 299.5h0.7M332.8 297.7h0.7M321.5 289.8h0.7M324.8 293.1h0.7M327.1 293.7h0.7M326.2 288.7h0.7M318.8 295.4h0.7M338 288.2h0.7M341.8 286.6h0.7M325.5 300.2h0.7M318.4 291.3h0.7M334.4 290.7h0.7M330.6 293h0.7M321.1 290.9h0.7M342 303.2h0.7M334.5 296h0.7M339.7 297.6h0.7M321 297.8h0.7M329.4 303.2h0.7M335.2 284.4h0.7M329.3 297.3h0.7M340.2 294.8h0.7M343.3 294.4h0.7M339 299h0.7M327.9 296.7h0.7M328.7 286.6h0.7M332.6 295.1h0.7M321.7 293.3h0.7M334.6 298.8h0.7M338.2 285h0.7M320.2 296.8h0.7M338.5 294.6h0.7M335 296.8h0.7M337.4 295.7h0.7M322.1 285h0.7M337.2 297h0.7M323.8 293.9h0.7M329.7 290.6h0.7M341.8 298.1h0.7M337.1 293.8h0.7M328.6 301.1h0.7M342.7 298.6h0.7M321.2 289.2h0.7M321.6 297.4h0.7M339.9 294h0.7M327.9 293.9h0.7M338.7 293.4h0.7M319.3 298.4h0.7M320.1 290.5h0.7M331 295.9h0.7M329.1 287.4h0.7M336.2 295.4h0.7M332.8 288.5h0.7M342.4 288.5h0.7M318.2 293.8h0.7M329.5 289.1h0.7M335.7 298.8h0.7M319.6 289.3h0.7M342.1 300.9h0.7M337.2 297.5h0.7M329.6 294.4h0.7M334.8 296.7h0.7M325.2 294.9h0.7M331 304.2h0.7M322.7 296.2h0.7M319.3 291.5h0.7M323.4 295.7h0.7M338.8 292.5h0.7M326.8 293.7h0.7M336.6 291.5h0.7M342.2 291.7h0.7M322.1 297.7h0.7M337.4 293.8h0.7M329.9 297.3h0.7M335.3 292.7h0.7M342.8 293.6h0.7M339.2 292h0.7M340.3 299.6h0.7M322.5 301.1h0.7M340.2 293.6h0.7M344.2 297.9h0.7M343.4 287.8h0.7M339.6 288.5h0.7M340.6 297.2h0.7M333.2 286.5h0.7M343.3 306.1h0.7M338.1 298.4h0.7M320.6 301.5h0.7M327.9 293.7h0.7M321.1 288.2h0.7M342.9 290.2h0.7M318.1 290.3h0.7M331.5 297.7h0.7M337.1 289.6h0.7M329.3 290.5h0.7M342.8 300.9h0.7M327.3 288.8h0.7M328.3 291.3h0.7M324.4 300h0.7M341.2 304.9h0.7M334.8 286.9h0.7M337.9 283.6h0.7M334.2 291h0.7M329.4 295h0.7M318.3 293.9h0.7M338.5 291.6h0.7M343.8 288.5h0.7M323.6 297.8h0.7M335.5 291.8h0.7M335.1 291.2h0.7M319.3 294.3h0.7M332.8 300.4h0.7M336 294.9h0.7M340.1 305.4h0.7M332.4 292.7h0.7M318.1 296.8h0.7M332.2 284.7h0.7M343.5 291.3h0.7M332.4 294h0.7M335.5 291h0.7M318.3 290.7h0.7M340.3 291.7h0.7M327.8 289.9h0.7M320.5 291.8h0.7M341.5 294.4h0.7M326.4 295.8h0.7M341.9 289.4h0.7M326.8 293.2h0.7M323.4 290.6h0.7M344.1 298.1h0.7M318.5 301.7h0.7M330.3 295h0.7M335.1 296h0.7M343.5 293h0.7M333.1 296.3h0.7M330.4 293.2h0.7M324.9 288.6h0.7M325.9 299.6h0.7M325.4 304h0.7M331 296.9h0.7M320 294.1h0.7M340.2 296.3h0.7M342.4 301.6h0.7M328.5 292.1h0.7M335.8 297.4h0.7M344.1 295h0.7M339.4 284.6h0.7M331.2 292.6h0.7M320.1 296.7h0.7M328.8 295.8h0.7M324.9 293.7h0.7M320 288.7h0.7M321 295.3h0.7M331.7 295h0.7M337.4 296.6h0.7M319 302.1h0.7M324.9 294.4h0.7M320.1 299.1h0.7M337 296.4h0.7M336.5 306.4h0.7M323.3 296.5h0.7M337.3 305.9h0.7M330.7 289.9h0.7M341.6 288.9h0.7M341.3 296.4h0.7M340.8 293.7h0.7M337.6 300.1h0.7M344.9 297.9h0.7M334.6 297.9h0.7M336.3 290.9h0.7M319.6 294.2h0.7M331.7 298.1h0.7M337.9 291.9h0.7M340.6 294.4h0.7M321.6 299.7h0.7M344 294.2h0.7M325.9 295.4h0.7M322.7 299.8h0.7M318.5 296.4h0.7M326.3 288h0.7M340.5 294.9h0.7M331.8 294.5h0.7M318.9 295.9h0.7M329 304.5h0.7M331.1 299.5h0.7M338.7 295.1h0.7M335.4 291.5h0.7M324.3 298.2h0.7M336.7 295.3h0.7M333.5 300.2h0.7M320 295.8h0.7M336.7 298.8h0.7M335.7 290.9h0.7M341.2 293.7h0.7M334.8 294.7h0.7M339.4 290.8h0.7M327.4 296.1h0.7M324.7 291.5h0.7M324.8 283.6h0.7M322.2 289.8h0.7M327 288.7h0.7M314.6 280.4h0.7M334.9 290.3h0.7M331 280.4h0.7M332.3 285.2h0.7M337.8 283.3h0.7M329.9 286h0.7M325.3 284.5h0.7M338.4 291.5h0.7M324.6 287.8h0.7M329 291.9h0.7M310.4 290.7h0.7M323.3 287.5h0.7M327.5 288.7h0.7M332.9 286h0.7M331.8 288.8h0.7M335.3 280.5h0.7M323.1 287h0.7M323.1 284.4h0.7M329.2 285.7h0.7M321.2 283.6h0.7M324.3 285.4h0.7M328 291h0.7M311.5 291.4h0.7M314.7 281.7h0.7M330.7 283.4h0.7M321.6 291.7h0.7M333.4 281.4h0.7M323.5 281.8h0.7M319 285.1h0.7M332.3 286.7h0.7M325.2 284.5h0.7M330.2 283.2h0.7M321.9 282.7h0.7M320.8 281.4h0.7M324.6 281.7h0.7M320.9 288.1h0.7M325.7 285.7h0.7M319.1 291.4h0.7M330 289.6h0.7M333.4 281.6h0.7M330.9 280.1h0.7M317 287.5h0.7M337 291.8h0.7M313.2 282h0.7M328.8 285.7h0.7M328 281.5h0.7M333.2 287.8h0.7M321.8 289.1h0.7M323.1 289.3h0.7M336.4 289.6h0.7M336.2 280.3h0.7M319 283.3h0.7M324.9 281.1h0.7M320.9 285.3h0.7M306.4 281.9h0.7M336.2 285.2h0.7M321.9 281.8h0.7M327.6 280.6h0.7M329.1 280.8h0.7M316.8 287.9h0.7M334.3 290.5h0.7M321.8 285.9h0.7M315.5 290.4h0.7M329.8 291.6h0.7M328.4 288.7h0.7M322.8 288.8h0.7M326.7 285.4h0.7M340.6 280.9h0.7M332.7 289.1h0.7M327.2 291.4h0.7M324.2 287.1h0.7M341.8 283.1h0.7M323.6 289.3h0.7M311.5 286.6h0.7M336.9 281.8h0.7M323.1 289h0.7M309.8 286.5h0.7M315.9 289h0.7M316.2 289.1h0.7M309.5 285.9h0.7M321 289.1h0.7M322.3 284h0.7M340.2 289h0.7M326.4 281.6h0.7M322.4 281.9h0.7M325.7 288.9h0.7M328.6 291.6h0.7M335 280.8h0.7M337.6 291.6h0.7M311.4 281.2h0.7M315.3 290.8h0.7M326.9 286.5h0.7M342.4 284.9h0.7M323.1 285.6h0.7M335.8 288h0.7M322.6 281h0.7M322.6 291.1h0.7M325 284.8h0.7M338.2 284.3h0.7M323.3 285.6h0.7M327.7 286.7h0.7M329.8 280.3h0.7M334.5 283.4h0.7M327.6 288.5h0.7M334.3 283.3h0.7M340.7 291.1h0.7M333.5 289.5h0.7M324.2 282h0.7M326.1 282.8h0.7M329.4 286.2h0.7M325 284.6h0.7M318.2 288.2h0.7M319.7 286h0.7M322.7 284.2h0.7M311.5 287.6h0.7M350.5 286.4h0.7M334 282.7h0.7M322.7 288.6h0.7M321.2 285h0.7M337 288.8h0.7M315.9 287.3h0.7M319 288h0.7M335.5 289.6h0.7M326.6 282.1h0.7M333.4 283.4h0.7M328.1 280.6h0.7M327.2 286.9h0.7M322 285h0.7M331.1 282.2h0.7M329.1 286.4h0.7M329.1 290.1h0.7M323.8 287.5h0.7M336.8 288.4h0.7M327.8 282.1h0.7M332 284.9h0.7M317.9 285h0.7M314 285.7h0.7M333.1 290.1h0.7M322 287.2h0.7M320.5 285.3h0.7M330.1 291.1h0.7M337.9 290.5h0.7M325 283.4h0.7M324.9 284.1h0.7M330.8 281.7h0.7M331.6 287.3h0.7M327.7 284.2h0.7M312.7 282.2h0.7M333.4 290.1h0.7M321 289.4h0.7M343.9 283.3h0.7M321.7 280.1h0.7M329 286.9h0.7M326.8 291.7h0.7M328.8 291.3h0.7M347.3 289.7h0.7M325.2 286.4h0.7M335.4 290h0.7M327.3 290.3h0.7M324.4 282h0.7M333.4 291.7h0.7M330 291.7h0.7M325.8 290.8h0.7M319.5 291.8h0.7M330.7 286h0.7M354.6 291.6h0.7M326.2 284.5h0.7M332.3 290h0.7M322.6 281.2h0.7M355.1 287.4h0.7M315.8 288.4h0.7M322.6 291.2h0.7M312.2 290.7h0.7M332.8 283.1h0.7M328.5 288h0.7M330.7 282.5h0.7M327.2 286.5h0.7M339.8 286.7h0.7M338.3 283.4h0.7M336.7 285h0.7M305.7 290h0.7M320 284.3h0.7M328.2 281.1h0.7M334.4 290.6h0.7M305.3 284.1h0.7M340.1 289.5h0.7M330 287.3h0.7M340.1 281.7h0.7M317.9 281.9h0.7M321.1 288.3h0.7M318.9 284.3h0.7M322.3 291.5h0.7M321 288.4h0.7M313.3 280.3h0.7M337.7 282h0.7M331.6 289.4h0.7M320.6 287.4h0.7M310.7 283.1h0.7M336.6 284.3h0.7M308.9 281.7h0.7M318.3 284.1h0.7M317 281.9h0.7M321.3 286.8h0.7M330.9 280.6h0.7M334.1 281.7h0.7M329.7 283h0.7M317.8 288.2h0.7M337.6 283.5h0.7M336.7 280.1h0.7M333.5 280.5h0.7M346.2 286.8h0.7M318.6 280.9h0.7M321 290.8h0.7M320.8 282.4h0.7M322.1 285.6h0.7M332.3 282.5h0.7M328.8 287.1h0.7M323.9 289.1h0.7M336.4 287.7h0.7M326.4 283.3h0.7M322.6 284.3h0.7M322 288.9h0.7M316.6 288.3h0.7M325.2 282.2h0.7M320.1 281.2h0.7M326.2 283.4h0.7M330.1 287.6h0.7M330.7 285.6h0.7M323.4 291.5h0.7M342.3 286.3h0.7M317.7 285.4h0.7M332.7 283.3h0.7M327.2 283.4h0.7M329.3 288.2h0.7M321.5 283.7h0.7M320.7 281.4h0.7M332.1 288.7h0.7M313.1 283.6h0.7M328.1 280.2h0.7M315.2 291.3h0.7M312.2 289.7h0.7M327.6 292h0.7M322.4 288.3h0.7M342.6 284.1h0.7M312.8 289.9h0.7M328.2 289.9h0.7M327.8 284.7h0.7M328.3 286.7h0.7M323.2 284.1h0.7M313.9 287.8h0.7M332.9 286.9h0.7M333 281.6h0.7M330.1 280.3h0.7M329.2 285.8h0.7M336.6 285.8h0.7M334.8 287.1h0.7M329.8 286h0.7M336.5 264.4h0.7M331.1 260.8h0.7M336.7 246.3h0.7M309.8 268.6h0.7M322.1 281.9h0.7M323.8 278h0.7M318.1 279.3h0.7M316.1 256.5h0.7M337 258h0.7M318.7 261.5h0.7M338.8 269.1h0.7M337.1 261.3h0.7M326.5 287.3h0.7M317.7 258.5h0.7M324.5 249.6h0.7M323.4 265.6h0.7M323.9 245.2h0.7M322.9 246.9h0.7M329.9 264.1h0.7M327 276.1h0.7M329 271.8h0.7M329.2 256.5h0.7M339.8 263.8h0.7M346.5 256.9h0.7M329.6 248.4h0.7M328.8 263.9h0.7M328.1 270.8h0.7M337.6 260.3h0.7M335.4 266.4h0.7M330.4 278.1h0.7M328.3 247.6h0.7M334.3 246h0.7M338.3 265h0.7M325.8 264.2h0.7M333.1 284.8h0.7M314.1 280.2h0.7M323.8 256.8h0.7M333.5 281.9h0.7M316.1 265.9h0.7M316.7 274.1h0.7M331.6 254h0.7M312.8 258.5h0.7M326.7 284.1h0.7M347.1 252.4h0.7M332.4 246.8h0.7M344.4 248.4h0.7M342.7 271.7h0.7M323.1 265.5h0.7M327.8 273h0.7M332.7 260.6h0.7M338.8 249.9h0.7M341.7 253.5h0.7M336.1 288.7h0.7M332.4 279.7h0.7M320.6 274.9h0.7M338.4 289.8h0.7M324.6 275.9h0.7M337.9 249.3h0.7M340.9 260.2h0.7M317.3 276.8h0.7M346.6 282.4h0.7M327.9 277.7h0.7M338.7 283.4h0.7M337.6 267.5h0.7M345.3 253.1h0.7M339.6 270h0.7M343.5 277.5h0.7M336.7 280.5h0.7M322.9 248.9h0.7M328 253.4h0.7M335.5 286.8h0.7M337.7 279.2h0.7M330.9 258.9h0.7M323.5 248.5h0.7M319 272.7h0.7M330.4 275.2h0.7M355.2 248.8h0.7M328.6 289.2h0.7M325.5 256.3h0.7M334.8 274.3h0.7M335.8 261h0.7M330.7 248h0.7M312.6 253.4h0.7M323.8 271.5h0.7M324.3 282.8h0.7M334.9 286.1h0.7M324.3 267.1h0.7M327.7 260.6h0.7M320.2 255.4h0.7M324.9 245.7h0.7M348.4 283.6h0.7M336.7 250.9h0.7M333.3 261.9h0.7M322.5 272.8h0.7M319.3 276.8h0.7M338.4 288h0.7M329.6 258.6h0.7M334.7 259.3h0.7M332.2 264.4h0.7M330.7 281.5h0.7M308.6 280.5h0.7M337.4 287.2h0.7M344.6 254.8h0.7M330.3 273.8h0.7M328.2 270.6h0.7M331.5 246.4h0.7M327.5 253.5h0.7M314.1 271.9h0.7M326.6 248.3h0.7M329.6 276.8h0.7M338.7 259.6h0.7M321.4 245.7h0.7M327 287.8h0.7M329.9 288.4h0.7M333.7 261.7h0.7M346.2 266.6h0.7M335.2 272.5h0.7M335.3 282.9h0.7M319.6 255.8h0.7M343.4 275.8h0.7M315.1 270.8h0.7M341.2 268.1h0.7M337.2 260.4h0.7M330.6 266.6h0.7M320.8 252.4h0.7M334.4 280.5h0.7M325.8 267.8h0.7M341.3 272h0.7M304.9 276.3h0.7M330.5 270h0.7M307.5 264.2h0.7M330.4 261h0.7M327.1 259.9h0.7M336.9 263.5h0.7M320 267.6h0.7M321.4 280.6h0.7M311.4 286.5h0.7M325.9 278.6h0.7M331.2 287.6h0.7M327.6 287.3h0.7M321.4 283.5h0.7M327.8 286.3h0.7M334.5 262.5h0.7M332.3 267.9h0.7M312.9 276.5h0.7M325.4 287.4h0.7M322.1 247.9h0.7M306 271.1h0.7M334.8 265.1h0.7M332.4 246.5h0.7M320.8 275h0.7M334.1 250.2h0.7M331.7 273.7h0.7M325.5 248.6h0.7M332.3 257h0.7M327.8 285.2h0.7M323.8 271.3h0.7M338.4 258.2h0.7M316.3 253.7h0.7M345.9 252.3h0.7M331.8 285h0.7M326.1 273.8h0.7M333.3 252.1h0.7M321.7 271.8h0.7M326.2 250.9h0.7M346.6 257.6h0.7M333.7 274.5h0.7M328.3 282.8h0.7M328.3 287.6h0.7M337.5 286.4h0.7M337.5 265.6h0.7M326.9 261.5h0.7M339.8 277.8h0.7M329.5 271.2h0.7M329.3 247.2h0.7M336.2 263.6h0.7M323.4 264.8h0.7M316.4 262.5h0.7M328.4 258.1h0.7M337.2 249.9h0.7M327.1 284.2h0.7M337.2 278.3h0.7M340 251.9h0.7M326.7 287.4h0.7M329.8 260.7h0.7M328.5 278.2h0.7M335.3 254.2h0.7M333.9 287.2h0.7M331.3 278.2h0.7M341.4 276.9h0.7M333.1 284.2h0.7M332.2 276.6h0.7M323.5 283.2h0.7M330.4 259.2h0.7M341.2 280.7h0.7M335.8 272.4h0.7M330.8 269h0.7M329 286.9h0.7M321.9 263.6h0.7M323.6 270.4h0.7M338.6 250.8h0.7M330.1 256.3h0.7M330.6 274.9h0.7M340.6 252.7h0.7M326.3 251.7h0.7M325.8 282.2h0.7M342 250h0.7M335.2 287.9h0.7M316.4 261.4h0.7M329.8 285.5h0.7M323.3 265.1h0.7M325.6 256.6h0.7M327.9 267.9h0.7M316 279.5h0.7M323.8 278.3h0.7M345.3 290h0.7M328.2 253.3h0.7M325.9 252.2h0.7M338.1 269.5h0.7M318.3 256h0.7M328 246.8h0.7M340.9 270.1h0.7M330 281h0.7M332.8 286.2h0.7M328.1 258.8h0.7M332.9 268.2h0.7M335.9 275.7h0.7M328.5 245.5h0.7M330.9 274.5h0.7M332.1 250.7h0.7M313.9 268.7h0.7M337.7 277h0.7M345.4 261.9h0.7M336.9 286.4h0.7M332 261.7h0.7M326.9 254h0.7M333.1 256.9h0.7M346.6 249.5h0.7M342.6 250.9h0.7M324.2 270.7h0.7M342.9 272.2h0.7M324.2 279h0.7M324.6 281.2h0.7M328.9 263.7h0.7M335.4 254.3h0.7M328.2 261.2h0.7M338.5 262.9h0.7M332.7 245.3h0.7M343.4 269.1h0.7M318.4 288h0.7M331.1 251.7h0.7M335.7 257.8h0.7M343.1 272h0.7M312.5 270.3h0.7M328.2 270.7h0.7M313.5 279.7h0.7M333.8 266.2h0.7M325.5 255.7h0.7M332.9 246.9h0.7M338.7 250.3h0.7M337.5 252.1h0.7M328.5 262.5h0.7M335.4 281.2h0.7M356.4 255.9h0.7M326.1 251.8h0.7M335 249.6h0.7M326.1 271.4h0.7M337.3 265.8h0.7M323.5 270.2h0.7M335.4 250.1h0.7M317.8 246h0.7M331.9 251.8h0.7M351.5 260.3h0.7M320.7 285.6h0.7M325.4 289.3h0.7M338.1 287.3h0.7M321 258.1h0.7M310.6 272h0.7M316.3 245.3h0.7M332 273h0.7M339.6 245.1h0.7M331.1 254.2h0.7M330.9 278.8h0.7M339.5 254.6h0.7M330 261.8h0.7M341.7 273.7h0.7M342.9 257.6h0.7M327.7 265.9h0.7M341.1 260h0.7M336.3 265.8h0.7M329.3 247.4h0.7M330.2 262.6h0.7M339.5 282h0.7M319.9 281.2h0.7M316.9 255.7h0.7M340.2 251.7h0.7M346.9 259.2h0.7M332.7 255h0.7M339.1 280.7h0.7M316.5 259h0.7M319.1 270.1h0.7M325.6 272.6h0.7M327.2 255.4h0.7M331.6 248.7h0.7M326.2 270h0.7M329.6 249.1h0.7M328.6 280.7h0.7M335.4 252.8h0.7M339.3 264.2h0.7M337.7 256.1h0.7M342.1 272.6h0.7M328.6 254.1h0.7M326.3 248.9h0.7M314.3 285.1h0.7M316 245.3h0.7M337 249.8h0.7M334.2 257.1h0.7M330.5 247h0.7M327.5 274.3h0.7M319.6 259.5h0.7M311.4 266.2h0.7M325.1 260.3h0.7M327.9 270.5h0.7M308.2 261.6h0.7M341.3 251.7h0.7M324.3 279.4h0.7M333.7 266.2h0.7M341.2 260.7h0.7M342.8 268.4h0.7M327.4 280.7h0.7M338.3 269.7h0.7M337.8 273.8h0.7M330.5 254.1h0.7M332.8 272.9h0.7M322.5 255.1h0.7M332.3 288.3h0.7M324.4 270h0.7M328.1 251.1h0.7M330.9 282.7h0.7M338.1 251.9h0.7M328 272.3h0.7M327.7 272.5h0.7M326.4 248.6h0.7M353.4 278.8h0.7M326.4 278.4h0.7M334 289.9h0.7M317.1 276h0.7M330.4 268.9h0.7M319.7 257.9h0.7M325.2 252.9h0.7M336.4 276.5h0.7M344.7 286.7h0.7M331.5 281.7h0.7M335.2 262.3h0.7M331.5 258.1h0.7M326.2 259.3h0.7M330.7 248.3h0.7M338.3 247.5h0.7M331.7 284.7h0.7M326.7 256.8h0.7M325.9 254.1h0.7M334.1 279.3h0.7M327.2 286.8h0.7M337.9 272.2h0.7M318 267.8h0.7M336.5 268h0.7M323 287.2h0.7M329.4 272.7h0.7M348.1 269.4h0.7M338.9 267.7h0.7M325.6 288.1h0.7M326.7 282.4h0.7M337.7 284.4h0.7M338.1 246.2h0.7M329.8 272.8h0.7M336.4 261.9h0.7M326.5 258.2h0.7M306.5 288.3h0.7M339.4 277.1h0.7M325.8 286.9h0.7M335.1 256.6h0.7M328.5 246.5h0.7M327.6 257.2h0.7M322.4 254.2h0.7M336.6 259.5h0.7M337.2 272.9h0.7M340.8 253.4h0.7M336.1 268.8h0.7M333.8 288.1h0.7M325.6 262.8h0.7M330.4 264.6h0.7M333.7 247.1h0.7M308.7 257.5h0.7M320.1 273.2h0.7M328.5 266.8h0.7M337 273.4h0.7M342.1 257.8h0.7M344.7 283.1h0.7M323.5 283.3h0.7M330.6 276.7h0.7M325.6 278.7h0.7M323.1 281.7h0.7M327 270.5h0.7M331 255.2h0.7M337 288.9h0.7M317.3 262.9h0.7M328.9 247.2h0.7M321.4 256.4h0.7M342 266.5h0.7M344.6 269.7h0.7M325.9 276.2h0.7M323.9 265.5h0.7M335.3 286h0.7M338.2 284.5h0.7M321.4 260.6h0.7M326.3 279.5h0.7M332.2 278.8h0.7M320.9 259.4h0.7M342.8 289.7h0.7M330.3 265h0.7M330.5 271.2h0.7M319.9 249.3h0.7M340.4 251h0.7M318.3 267.5h0.7M323.7 268.5h0.7M324.7 282.4h0.7M328.7 283.9h0.7M317.5 247.2h0.7M323.2 247.7h0.7M334.9 261.3h0.7M329.5 281.6h0.7M330.9 262.6h0.7M338.2 252.4h0.7M333.7 249.3h0.7M338.5 278.7h0.7M330 266.6h0.7M322.2 272.8h0.7M344.1 286.5h0.7M315.3 273h0.7M318.1 250.7h0.7M320 261.3h0.7M350.1 279.2h0.7M330.5 245.1h0.7M339.1 286.7h0.7M316.5 286.6h0.7M320.4 254.5h0.7M332.5 289.7h0.7M325.9 270.6h0.7M330.8 254h0.7M335 276.8h0.7M330.6 276.7h0.7M330.6 275.6h0.7M331.7 285.5h0.7M328.1 282.4h0.7M332.5 248.3h0.7M338.2 257.6h0.7M321.9 272.8h0.7M332.2 263.5h0.7M337.5 264.9h0.7M328.2 256.8h0.7M329.1 267h0.7M345.7 245.9h0.7M339.5 264.6h0.7M349.5 285.4h0.7M345.9 258.9h0.7M327.1 281.2h0.7M324 248.9h0.7M327.5 283.3h0.7M337.4 258.1h0.7M300.7 274.5h0.7M330.3 269.3h0.7M340.3 278.3h0.7M330.4 263.9h0.7M332.7 263.8h0.7M328 256.5h0.7M315.7 263.2h0.7M338.1 284.8h0.7M327.5 268.5h0.7M334 269h0.7M330.2 289.1h0.7M346.7 270.3h0.7M334 272.1h0.7M333.7 281.2h0.7M329.2 258.8h0.7M323 287.3h0.7M333.4 274.1h0.7M339.3 263.6h0.7M330 288.9h0.7M311.5 286.4h0.7M323.3 254.8h0.7M346.5 273.5h0.7M325.2 268.1h0.7M331.6 245h0.7M313.7 264.7h0.7M325.1 276.1h0.7M322.6 280.2h0.7M336.8 287.1h0.7M335.4 268.3h0.7M334.7 254.6h0.7M338.7 273.7h0.7M325.9 257.4h0.7M344.5 259.1h0.7M327.9 249.6h0.7M337.9 272.3h0.7M348 250.8h0.7M325.6 289.7h0.7M333.2 280.3h0.7M329 280h0.7M331.1 279h0.7M332.6 253.2h0.7M329.4 247.6h0.7M330.1 275.9h0.7M336 258.3h0.7M318.7 274.5h0.7M323.7 273.3h0.7M325.7 274.3h0.7M318.3 258.6h0.7M332.9 288.2h0.7M326.1 289.5h0.7M322.7 264.2h0.7M318.4 261.3h0.7M322.4 256.4h0.7M333.7 268h0.7M319.1 262.6h0.7M337.8 284.3h0.7M335.3 260.5h0.7M332.4 286.2h0.7M315.6 275.2h0.7M323.4 260.5h0.7M338.8 275.2h0.7M326.7 250.3h0.7M323.4 285.5h0.7M323.8 272.7h0.7M333.2 281.6h0.7M314.3 257.9h0.7M338.7 271.5h0.7M331.9 253.8h0.7M321.1 250.2h0.7M335.1 251.8h0.7M306.8 264.2h0.7M319.4 276.2h0.7M332.5 278.2h0.7M342.6 254.6h0.7M319.7 277.7h0.7M317.8 264.4h0.7M329.3 256.2h0.7M330.7 246h0.7M323.4 257.2h0.7M323.1 273.8h0.7M343.1 259.9h0.7M321.9 257.9h0.7M316 284.7h0.7M326.3 275.4h0.7M340.9 257.3h0.7M335.7 271.9h0.7M329.5 262.4h0.7M318.8 254.6h0.7M329 279.1h0.7M354.2 259.5h0.7M334.9 288.8h0.7M338.7 246.7h0.7M316.2 251.9h0.7M326.3 264.2h0.7M325 279.7h0.7M344.6 251.1h0.7M327.3 264h0.7M329.2 263.4h0.7M325.6 245.7h0.7M305.5 257.8h0.7M339.5 245.9h0.7M313.6 253.2h0.7M324.8 275.9h0.7M316.3 282.1h0.7M324.6 268.9h0.7M325.8 264.1h0.7M325.3 261.8h0.7M342.1 268.6h0.7M319.5 255.5h0.7M327 245.8h0.7M334.3 280.5h0.7M326.2 258.8h0.7M325.2 270.3h0.7M346.3 267.7h0.7M336.3 256.9h0.7M322.5 265.1h0.7M331.9 253.3h0.7M322 254.2h0.7M333.6 267.2h0.7M317.5 282.9h0.7M336.6 258.4h0.7M332.9 274.5h0.7M332.6 260.1h0.7M329.7 266.9h0.7M331.6 249.3h0.7M322.3 261.3h0.7M330.2 289.5h0.7M334.8 276.5h0.7M333.4 266.8h0.7M321.7 253.7h0.7M334.5 253.5h0.7M319.4 274.6h0.7M323.4 257.7h0.7M322.3 256.3h0.7M324.5 256h0.7M328.6 279.3h0.7M335.4 247.3h0.7M338.7 265h0.7M333.5 258.8h0.7M323.3 263.1h0.7M336 258.5h0.7M338 279.5h0.7M323.1 266.2h0.7M319.4 279.6h0.7M328.3 251.4h0.7M346.2 269.4h0.7M327 255.6h0.7M328.1 265.9h0.7M335.6 288h0.7M319.5 246h0.7M320.3 253.4h0.7M328.6 276.2h0.7M336.8 277.4h0.7M326.9 252.4h0.7M324 267.9h0.7M315.3 262.2h0.7M343.1 258.3h0.7M318.8 283.3h0.7M340.8 267.1h0.7M323.5 285.3h0.7M339.4 274h0.7M344.2 257.9h0.7M322.1 282.1h0.7M334.5 246h0.7M335.8 287.5h0.7M340.3 249.3h0.7M326.9 286.2h0.7M340.1 247.6h0.7M330.5 252.9h0.7M321 258.4h0.7M338.1 286.3h0.7M340.4 263.9h0.7M329.4 283.5h0.7M328.5 257.3h0.7M336.2 279.6h0.7M344 268.1h0.7M319 280.1h0.7M338.6 274.3h0.7M346.9 278.3h0.7M322 252.5h0.7M334.5 250.8h0.7M330.1 250.1h0.7M332.6 284.6h0.7M340.2 270.8h0.7M315.9 254.1h0.7M325.2 264.6h0.7M317.8 277.8h0.7M326.9 273.2h0.7M345.5 276.3h0.7M320.6 277.8h0.7M325.5 283.9h0.7M324.3 263.7h0.7M333 255h0.7M326.8 286.8h0.7M322.8 285.1h0.7M323 258.5h0.7M328.2 278.8h0.7M319 270.3h0.7M308.9 275.2h0.7M339.5 284.6h0.7M330.6 267.1h0.7M324.4 280.5h0.7M328.1 259.7h0.7M335.8 276.6h0.7M322.2 262.2h0.7M329.8 288.5h0.7M324.9 249.5h0.7M340 261.3h0.7M308.7 265.4h0.7M317.5 254h0.7M341.5 264.3h0.7M319.3 259.1h0.7M322.7 270.5h0.7M319.1 256h0.7M309.6 255.2h0.7M328.6 248.4h0.7M335.3 257.7h0.7M332.1 248.8h0.7M318.9 275.7h0.7M324.9 274.1h0.7M343.5 271.7h0.7M327.8 272.5h0.7M321.5 280.3h0.7M337 286.9h0.7M326.9 284.3h0.7M313.4 286.7h0.7M322.1 252.1h0.7M337.3 271.9h0.7M328 279.7h0.7M328.6 277.1h0.7M334.9 269.3h0.7M322.8 258h0.7M316.6 289.1h0.7M329.3 245.7h0.7M324 247.7h0.7M329.3 273.1h0.7M323.2 265.2h0.7M323 277.4h0.7M317.3 248.8h0.7M331.8 286.9h0.7M346 280.6h0.7M318.9 276.5h0.7M339.3 285h0.7M335.3 263.2h0.7M323.9 258.7h0.7M320.7 278.5h0.7M334 262.6h0.7M326.4 248.2h0.7M327 268.8h0.7M325.5 280.2h0.7M345.8 265.8h0.7M315.7 250.5h0.7M333.2 282.9h0.7M345.7 289.7h0.7M330.9 267.4h0.7M347.8 261.3h0.7M329.5 256.4h0.7M331 256.7h0.7M336.2 285h0.7M323.4 251.4h0.7M329.8 256.9h0.7M334.5 273.9h0.7M323.9 261.5h0.7M333.6 282.9h0.7M338.9 280.7h0.7M319.6 249.5h0.7M328.6 269.7h0.7M333 245.8h0.7M323.4 285.1h0.7M338.3 284.6h0.7M340.2 261.9h0.7M324.8 248.1h0.7M331.8 275.5h0.7M324.3 283.9h0.7M328.6 276.9h0.7M333.7 255.3h0.7M328.3 270.6h0.7M331.2 278.8h0.7M325.9 272.5h0.7M339.9 275.5h0.7M337.7 258.9h0.7M324.4 253.5h0.7M334.5 283.7h0.7M352.3 261.8h0.7M325.8 257.4h0.7M341.6 249.9h0.7M352.6 285.8h0.7M328 251.5h0.7M336.7 260h0.7M311.1 253.5h0.7M341.6 284h0.7M335.4 258.9h0.7M337 267.4h0.7M331.5 278.4h0.7M338.1 250.4h0.7M339.4 269h0.7M336 285.7h0.7M327.5 283.5h0.7M328.5 285.4h0.7M330.2 258h0.7M328.1 259h0.7M322.8 249.7h0.7M319 286.1h0.7M329 245.7h0.7M322 245.4h0.7M326.8 250.6h0.7M319 260.8h0.7M318.2 282.4h0.7M326.3 271h0.7M327.9 271.6h0.7M348.4 247.4h0.7M329.2 276h0.7M338.8 283.9h0.7M334.1 246.8h0.7M332.5 280.7h0.7M327.3 265.5h0.7M335.4 259.1h0.7M334.4 279h0.7M317.9 251.3h0.7M335.6 264.9h0.7M328.1 274.1h0.7M316.3 266.4h0.7M323.3 266.2h0.7M335.9 263.9h0.7M337.9 258.4h0.7M328.9 285.8h0.7M340.3 252.1h0.7M336.7 281.7h0.7M316.7 257h0.7M320.5 248.1h0.7M332.8 280.3h0.7M322.2 267.7h0.7M324.5 275.1h0.7M332.4 267h0.7M327.4 282h0.7M323.9 283.9h0.7M317.8 265.3h0.7M347.4 282.8h0.7M317.9 282.7h0.7M326.1 268.6h0.7M339.2 287.7h0.7M329 247.5h0.7M321.7 266.5h0.7M320 268.6h0.7M339.7 252.4h0.7M336.5 249.6h0.7M313 272.2h0.7M317.9 246.2h0.7M335.2 286.5h0.7M343.7 290h0.7M325.1 250.3h0.7M338 252.5h0.7M316 282.8h0.7M315.4 283.8h0.7M319 272.6h0.7M334 270.8h0.7M331.5 280.4h0.7M335.9 260.1h0.7M314.5 278.2h0.7M344.1 254.5h0.7M326.2 265h0.7M352.6 285.3h0.7M332 262.8h0.7M314.2 269.2h0.7M329.4 262.7h0.7M322.4 260.6h0.7M343 246.3h0.7M331.6 278.7h0.7M340.5 286.4h0.7M322.8 283.8h0.7M323.1 262.7h0.7M331 256.2h0.7M330.4 277.2h0.7M321.7 267.3h0.7M334.2 271.1h0.7M339.8 265h0.7M326.6 280.9h0.7M325.4 268.8h0.7M325.4 249.4h0.7M334.3 264.9h0.7M328.7 227h0.7M326.4 241.8h0.7M337.2 248.4h0.7M336.1 220.4h0.7M347.2 248.4h0.7M311.5 225h0.7M340.9 241.4h0.7M336 234.4h0.7M328.6 228.3h0.7M323.9 225.3h0.7M324 224.6h0.7M324.1 222.6h0.7M346.3 230.4h0.7M331.6 242.7h0.7M328.9 231.4h0.7M331.9 250.9h0.7M336.6 231.5h0.7M338.4 227.5h0.7M331.3 233.6h0.7M329.6 248.4h0.7M324.3 227.1h0.7M331 233.6h0.7M330.2 242.7h0.7M325.7 229.2h0.7M328.6 238.2h0.7M343 232.2h0.7M338.8 231.9h0.7M334.1 232.5h0.7M342.6 231.4h0.7M332.6 240.4h0.7M342.2 219.7h0.7M331.4 222.3h0.7M344.9 229.4h0.7M336.5 220h0.7M328.7 225.1h0.7M320.5 222.8h0.7M332.8 232.4h0.7M332.8 218.4h0.7M321.4 230.8h0.7M329.5 227.6h0.7M326 242.5h0.7M334.1 219.2h0.7M319.6 218.7h0.7M331.4 219.3h0.7M349.3 223.3h0.7M340.5 225.1h0.7M331.3 238.4h0.7M345.7 225.9h0.7M328 231.2h0.7M339.3 231.8h0.7M334.4 237.9h0.7M327.6 220.6h0.7M336.2 225.7h0.7M353.5 232.7h0.7M323.6 244.9h0.7M323.4 226.9h0.7M347.3 226.3h0.7M325.6 239.3h0.7M330.5 233.6h0.7M327.3 232.9h0.7M324.6 249h0.7M336.1 226.4h0.7M322.2 239.6h0.7M321.9 249.8h0.7M329.2 229h0.7M336.6 253.2h0.7M344.9 239.5h0.7M331.3 236h0.7M340.1 246h0.7M344.3 235.2h0.7M335.9 211.1h0.7M339.4 235.6h0.7M329.7 231.8h0.7M316.6 220.4h0.7M338.8 239.6h0.7M321 228.4h0.7M336.8 225.5h0.7M323.9 252.7h0.7M320.6 243.5h0.7M330.5 246.9h0.7M319.8 249.1h0.7M332.3 222h0.7M329.8 249.9h0.7M329.5 224.3h0.7M345.7 224.2h0.7M339.1 236.5h0.7M329.3 230.4h0.7M339.2 248.6h0.7M335.3 230.3h0.7M328.5 239.2h0.7M319.1 233.3h0.7M324.8 226.9h0.7M349.8 231.1h0.7M332 229.7h0.7M336.8 234.9h0.7M347.5 232.2h0.7M324.8 241h0.7M341.7 231h0.7M307.8 236h0.7M322 248h0.7M311.3 237.8h0.7M331.4 258.1h0.7M331.7 234.6h0.7M324.7 236.4h0.7M325.5 239h0.7M358.9 243.9h0.7M335.4 240.5h0.7M336.5 233.4h0.7M323.2 231.9h0.7M324.2 230.1h0.7M333.4 233.7h0.7M328.6 220.2h0.7M330 222.8h0.7M328.8 223.4h0.7M315.4 246.2h0.7M335 235.9h0.7M333.6 242.7h0.7M336.7 231.6h0.7M338.1 236.5h0.7M348.6 226.3h0.7M327.9 216.4h0.7M333.5 231.3h0.7M344.3 229.1h0.7M328.1 228.1h0.7M342.4 221.3h0.7M327 238.7h0.7M327.4 240.4h0.7M321.5 238.3h0.7M330.3 243.1h0.7M351 226.2h0.7M348.8 238.7h0.7M332.5 233h0.7M336.5 229.3h0.7M342.4 233.7h0.7M321.7 225.1h0.7M327.8 230.6h0.7M329.9 233.3h0.7M314.1 217.9h0.7M324.2 246.7h0.7M325.8 242.1h0.7M328.5 240.5h0.7M329.6 248.7h0.7M310.2 239.4h0.7M335.7 238.8h0.7M326.8 248h0.7M335.9 229.3h0.7M337 221.8h0.7M329.8 241.8h0.7M348.2 231.4h0.7M315.4 242.6h0.7M331 239.3h0.7M332.1 227.4h0.7M344.8 233h0.7M330.4 223.9h0.7M336.4 234h0.7M333.1 232.1h0.7M350.5 240.7h0.7M328.2 250.2h0.7M323 236h0.7M326.7 231.1h0.7M335.3 234.6h0.7M344.7 232.8h0.7M309.2 229.6h0.7M319.2 235.7h0.7M344.6 223.7h0.7M327.4 226.2h0.7M324.4 235.8h0.7M327 241.9h0.7M323 238.2h0.7M321.3 231.2h0.7M332.1 243.5h0.7M324.1 236.4h0.7M347.5 248.8h0.7M307.8 238.1h0.7M336.4 233.5h0.7M324.7 223h0.7M347.1 244.8h0.7M322 242.3h0.7M336.1 245.7h0.7M346.7 228.8h0.7M336.6 224.1h0.7M325.4 245.7h0.7M329.6 233.6h0.7M333.2 212.1h0.7M345.2 239.3h0.7M332.7 222.4h0.7M337.2 246h0.7M320.9 243.2h0.7M331.9 216.2h0.7M343.1 236.6h0.7M328.7 233.5h0.7M326.8 239h0.7M327.8 222.9h0.7M342.2 221h0.7M336.2 241.5h0.7M335.1 216.2h0.7M324.5 232.7h0.7M314.7 237.4h0.7M341.3 240.1h0.7M327.2 236.6h0.7M339.3 253.8h0.7M336.2 244.2h0.7M325.8 232.2h0.7M321 232.3h0.7M340.1 227.1h0.7M311.3 235.3h0.7M309.3 252.3h0.7M346.1 239.8h0.7M323.5 232.8h0.7M333 223h0.7M341.3 211.6h0.7M351 232.9h0.7M321.7 226.8h0.7M329.6 236.9h0.7M339.8 223.7h0.7M331.1 240.2h0.7M323.7 231.5h0.7M340.2 228.1h0.7M315.1 236.3h0.7M340.5 229.3h0.7M330.8 233.2h0.7M331.2 227h0.7M324.7 237.7h0.7M328.8 218.6h0.7M341.1 232.6h0.7M333.6 238.5h0.7M341.8 241.2h0.7M336.7 238.3h0.7M327.6 245h0.7M328.6 235.7h0.7M331.6 256.3h0.7M326.9 228.9h0.7M344.4 215.6h0.7M320.3 214.2h0.7M347.4 216.7h0.7M324.6 233.2h0.7M322.8 218.3h0.7M330.9 220.4h0.7M319 239.6h0.7M346.9 217.5h0.7M346.6 234h0.7M344.7 241.1h0.7M347.8 243.8h0.7M343 235.5h0.7M313.9 221h0.7M337.5 224.6h0.7M324.4 246.1h0.7M339.3 247.5h0.7M328.5 229.6h0.7M326.9 241.1h0.7M322.5 240.1h0.7M336.6 230.3h0.7M341.5 242.7h0.7M320.9 225.5h0.7M334.7 238.6h0.7M335.4 238.8h0.7M330.1 232.1h0.7M329.3 228.4h0.7M342.4 247.2h0.7M343.6 226.3h0.7M338.1 225.5h0.7M337.8 221h0.7M338.4 231.4h0.7M325.7 231.7h0.7M330.6 226.2h0.7M331.6 243.4h0.7M322.5 234.5h0.7M338.7 238.7h0.7M349 221.1h0.7M350.4 230.6h0.7M329.1 247.4h0.7M326.8 242.9h0.7M323.6 237.7h0.7M337.7 243.8h0.7M330.5 240.2h0.7M342.2 236.4h0.7M320.9 237.3h0.7M332.7 238h0.7M325.5 230.2h0.7M333.7 249.4h0.7M329.2 255.3h0.7M313.8 235.3h0.7M339 233.6h0.7M331.7 254.9h0.7M332.8 238h0.7M330.4 239.2h0.7M322.3 238.2h0.7M331.5 234.9h0.7M338.6 231h0.7M346.9 241.2h0.7M333.3 221h0.7M326.2 243.6h0.7M342.3 247.6h0.7M329.3 232.1h0.7M329 230.8h0.7M331.2 251.7h0.7M337 232.7h0.7M319.9 229.3h0.7M332.3 242.6h0.7M330.8 224.4h0.7M327.2 215.6h0.7M347 234.2h0.7M316.5 229.6h0.7M331 227.2h0.7M333.1 227.6h0.7M333.2 228.7h0.7M345.2 231.5h0.7M311.6 213.8h0.7M328.1 241.1h0.7M323.1 231.1h0.7M318 230.8h0.7M325.6 231.3h0.7M335.1 241.5h0.7M328.6 236.8h0.7M349.4 254h0.7M317 214.8h0.7M334.4 241.5h0.7M334.1 242.8h0.7M337.3 239.1h0.7M329.1 233h0.7M336.2 232.8h0.7M329.2 233.9h0.7M326.9 237.5h0.7M322.9 230.5h0.7M327.6 227.5h0.7M338.3 242.6h0.7M327 234h0.7M338.3 241.5h0.7M329.8 257.9h0.7M331.6 221.7h0.7M343.7 225.9h0.7M320.8 227.5h0.7M330.9 233h0.7M340.1 248.9h0.7M337 237.9h0.7M335.3 243.7h0.7M344.8 250.9h0.7M327.7 216h0.7M333 230.7h0.7M348.3 227.7h0.7M321.1 237.6h0.7M337.1 224.6h0.7M337.5 248.5h0.7M335 229.3h0.7M336 226.9h0.7M324.3 224.4h0.7M333.5 222h0.7M331 233.4h0.7M335.6 228.5h0.7M333.6 236.6h0.7M349.3 229.4h0.7M341.5 237.9h0.7M351.9 235.6h0.7M341.6 243.6h0.7M336.3 240.3h0.7M339.2 228.9h0.7M344.6 244.9h0.7M324.9 228.6h0.7M318.5 225.6h0.7M319.1 241.6h0.7M339.4 222.4h0.7M329.2 227.6h0.7M329.7 220h0.7M333.4 220.2h0.7M339.7 236.3h0.7M328.7 225.3h0.7M324.8 248.7h0.7M327.8 246.6h0.7M339.3 236.8h0.7M330.6 227.6h0.7M337.8 233.4h0.7M341.7 231.3h0.7M329.8 243.7h0.7M324.7 216.5h0.7M320.9 232.1h0.7M327.3 234.3h0.7M322.6 237.2h0.7M334 239.8h0.7M320.1 230h0.7M333.7 239.1h0.7M328.3 222.9h0.7M339.3 243.6h0.7M321.9 236.9h0.7M332.9 232.4h0.7M338.6 243.5h0.7M317.3 227.1h0.7M335.2 218.3h0.7M326.8 238h0.7M323.4 234.3h0.7M318 230.5h0.7M332.4 227.4h0.7M326.3 237.6h0.7M328.4 241.4h0.7M338.6 225.3h0.7M303.8 220.9h0.7M340 239.6h0.7M352.7 223.8h0.7M331.1 244.9h0.7M328 246.2h0.7M330.7 228.3h0.7M340 254.3h0.7M354.4 231.2h0.7M324.1 232.7h0.7M303.5 232.6h0.7M334.4 237.5h0.7M330.9 241h0.7M330.1 236.7h0.7M329.6 227.3h0.7M311.4 230.6h0.7M334.5 219.7h0.7M324.9 224.4h0.7M334.3 235.1h0.7M327.1 233.6h0.7M323.2 228.4h0.7M314.7 235.6h0.7M344.5 226.8h0.7M330.8 233.2h0.7M334.9 234h0.7M345.9 242.4h0.7M336.3 242.7h0.7M333.9 224.5h0.7M310.2 230h0.7M342.2 217.7h0.7M339.8 251.4h0.7M321.2 214.5h0.7M317.4 232.8h0.7M335.1 219.5h0.7M330 233.9h0.7M345 235.4h0.7M319.3 238.9h0.7M330.9 227.9h0.7M337.5 239.7h0.7M335.7 227.2h0.7M320 224.9h0.7M318.3 226.2h0.7M327.2 226.5h0.7M351.3 248.4h0.7M324 241.4h0.7M327.3 239h0.7M339.6 215.3h0.7M335.8 232.6h0.7M344.3 239.1h0.7M325.2 217.6h0.7M325.3 242.1h0.7M339.2 223.7h0.7M329.4 233.2h0.7M331.4 235.6h0.7M322 232.3h0.7M324.3 233.2h0.7M324.2 237.6h0.7M325.7 243.8h0.7M324.9 247.1h0.7M328.5 245.6h0.7M328.3 234.6h0.7M341.5 215.4h0.7M347.9 223.4h0.7M328.4 229.1h0.7M346 239.1h0.7M336 244h0.7M310.8 230h0.7M334 227.4h0.7M318.2 234.3h0.7M341.7 235.3h0.7M326.7 239.6h0.7M346.1 240.3h0.7M344.7 231.5h0.7M327 211.2h0.7M322.5 229.7h0.7M323.4 231.9h0.7M330.8 257.6h0.7M340.7 244.5h0.7M330.4 236.7h0.7M338.2 253.5h0.7M349.5 224.1h0.7M334.8 237.1h0.7M338.1 238.3h0.7M326.3 227.3h0.7M306.8 228.3h0.7M333.1 239.7h0.7M331.8 235.8h0.7M336.7 228.4h0.7M332 232.4h0.7M326 239.5h0.7M326.1 231.7h0.7M332.4 226.9h0.7M323.4 237h0.7M319 232.4h0.7M334 234.7h0.7M331.4 222.9h0.7M336.9 233.1h0.7M326.7 230.2h0.7M330.4 220.5h0.7M323.1 247.3h0.7M328 234.8h0.7M339.4 235.8h0.7M347.5 241.3h0.7M329.1 246.1h0.7M335.8 242.7h0.7M324.9 227.4h0.7M318.2 235.6h0.7M326.4 228.2h0.7M329.5 231.5h0.7M328.8 237.1h0.7M324.3 244.3h0.7M333.3 224h0.7M342.1 240.5h0.7M326.7 237h0.7M335.4 224.3h0.7M337 259.7h0.7M340.9 232.6h0.7M337.8 244.4h0.7M340.9 233.1h0.7M332.4 237h0.7M320 241.6h0.7M321.8 234.1h0.7M327.6 233.8h0.7M322.8 244.9h0.7M324.7 243.6h0.7M329.9 255.9h0.7M331.5 236.4h0.7M327.9 217.7h0.7M334.9 220.8h0.7M349.5 238.5h0.7M322.7 224.7h0.7M326.7 220.8h0.7M321.1 244.1h0.7M342.1 219h0.7M339.8 219h0.7M319.6 235.2h0.7M336.2 244.5h0.7M319 241h0.7M335.4 223.3h0.7M332 240.5h0.7M332.4 224.5h0.7M315.6 236.4h0.7M333.6 222.2h0.7M344 236.9h0.7M333 232.2h0.7M331.5 237.2h0.7M336.8 246.2h0.7M339.4 241.5h0.7M338.8 252.5h0.7M340.2 228.6h0.7M330.5 242.1h0.7M319 239.1h0.7M332.7 231.8h0.7M345.3 238.3h0.7M343.4 234.5h0.7M325.8 239.9h0.7M350.9 232h0.7M344.7 234.4h0.7M339.8 226.8h0.7M323 229.9h0.7M338.3 235.6h0.7M340.8 236.5h0.7M352.3 237.2h0.7M328.1 241.8h0.7M329.6 227h0.7M343.1 226.8h0.7M342.7 218.6h0.7M340.3 245.4h0.7M327.5 251.3h0.7M326.3 237.1h0.7M334.6 239.5h0.7M336.5 226.8h0.7M340.6 234.9h0.7M325.6 246.6h0.7M317.7 236.6h0.7M342.3 220.9h0.7M331.3 236.5h0.7M330.9 233.8h0.7M341 241.8h0.7M319 248.8h0.7M332 234.3h0.7M329 238.4h0.7M336.4 242.8h0.7M331.8 226h0.7M338.4 231.9h0.7M320.4 218.8h0.7M328.2 236.2h0.7M324.2 240.5h0.7M342.1 237.1h0.7M343.9 238h0.7M333 227.1h0.7M338.7 226.4h0.7M330.3 245.6h0.7M326.4 240h0.7M344.9 230.7h0.7M331.4 239.4h0.7M344.8 227.1h0.7M354.4 225h0.7M321.5 237.1h0.7M337.7 233.2h0.7M329.3 236.7h0.7M336 255.5h0.7M311 237.8h0.7M337.9 235.5h0.7M324.4 252.6h0.7M335.1 226.8h0.7M336.4 232.7h0.7M340 229.6h0.7M332.5 233.2h0.7M335.3 254.7h0.7M329.7 216.4h0.7M318.4 245.5h0.7M326.7 222h0.7M327.8 219.5h0.7M329.3 232.6h0.7M333.8 233.1h0.7M334.5 231.2h0.7M342.2 223.9h0.7M350.6 240h0.7M322.8 222.3h0.7M333.8 239.7h0.7M336.4 259.7h0.7M330.1 222.1h0.7M338.7 236.4h0.7M311.7 235.1h0.7M338.6 220.1h0.7M330.5 234.2h0.7M315 243h0.7M330 242.6h0.7M350.2 240.3h0.7M331.4 228.8h0.7M351.4 233h0.7M352.8 226.1h0.7M335.2 244.8h0.7M329.7 227.4h0.7M338.9 224.3h0.7M345.9 228.8h0.7M349.1 249.6h0.7M335.7 219.5h0.7M324.5 242.3h0.7M346.7 241.1h0.7M315.7 229.2h0.7M330.5 236.1h0.7M333.2 220.6h0.7M337.3 237.7h0.7M327 238.4h0.7M334 227.2h0.7M341 235.8h0.7M333 234.5h0.7M324.9 239.5h0.7M339.9 240.6h0.7M334.2 244.1h0.7M323.5 233.3h0.7M326 239.6h0.7M350 242.4h0.7M331 249.5h0.7M337.6 235.3h0.7M328.2 230h0.7M331.2 228.3h0.7M332.2 233.4h0.7M328 218.6h0.7M339.7 224.5h0.7M342.5 240.5h0.7M340.2 252.8h0.7M328.9 246.9h0.7M326.8 228.7h0.7M314.1 245.5h0.7M342.6 237.6h0.7M329.7 229.7h0.7M321.3 246.5h0.7M322 242.8h0.7M340 242.6h0.7M330 239.7h0.7M339.6 243.4h0.7M334.4 231.8h0.7M341.4 231.7h0.7M335 229.1h0.7M306.1 242.7h0.7M345.2 238.9h0.7M320.6 243.4h0.7M346.7 231.5h0.7M333.9 232h0.7M325.4 234.4h0.7M327.8 234.7h0.7M324.9 232.4h0.7M336.1 247.5h0.7M337.4 236.3h0.7M320.2 210.7h0.7M315.4 229h0.7M344.5 236.8h0.7M336.2 236h0.7M320.3 235.1h0.7M342 232.6h0.7M343.7 248.4h0.7M337.1 227.3h0.7M337.4 241.5h0.7M327.6 243.2h0.7M305.2 243.5h0.7M339.3 254.7h0.7M325.1 226.7h0.7M351.2 228.8h0.7M328.7 238.2h0.7M337.9 239.6h0.7M325.4 240h0.7M319 228.6h0.7M327.7 231.3h0.7M352.3 249.1h0.7M332.8 240.9h0.7M314 240.9h0.7M342.3 242.5h0.7M343.7 251.2h0.7M324.9 233.5h0.7M333.5 237.7h0.7M332.5 220.4h0.7M325.2 231.7h0.7M333.3 237.7h0.7M317.6 240.6h0.7M335.9 228.3h0.7M341.9 222.5h0.7M324.4 227.1h0.7M338.8 215.7h0.7M339.7 225h0.7M337.8 233.4h0.7M346.1 239h0.7M332.4 248h0.7M325.3 236.1h0.7M339.9 227.7h0.7M337.4 236.5h0.7M312.1 231.2h0.7M333.1 244.1h0.7M325.2 244.3h0.7M328.8 219.5h0.7M333.3 232.1h0.7M346.8 253.4h0.7M336.3 245.6h0.7M326 232.7h0.7M334.3 240.8h0.7M336.2 238h0.7M358.1 233.1h0.7M323.4 241.9h0.7M327 237h0.7M341.5 239.7h0.7M329 232.2h0.7M334.1 232.9h0.7M317 237.9h0.7M316.9 231.4h0.7M338.8 223.5h0.7M322.8 223h0.7M339.6 236.8h0.7M327.8 226.7h0.7M335.3 226.3h0.7M343.6 228h0.7M324.8 240.4h0.7M324.9 215h0.7M343.2 211.6h0.7M332.5 235.8h0.7M330.9 232.1h0.7M340.8 247.5h0.7M323 231.2h0.7M332 220.6h0.7M320.4 236.4h0.7M319.7 236.8h0.7M338.5 237h0.7M343.7 237.1h0.7M334.1 253.5h0.7M318.5 230.7h0.7M331.1 237.4h0.7M335.4 233.4h0.7M332 218.2h0.7M343.3 222.8h0.7M324.5 225.5h0.7M335.2 230.8h0.7M328.9 222.7h0.7M331.4 246.5h0.7M329 232.7h0.7M336.9 224.8h0.7M320.8 226.9h0.7M329.4 234h0.7M335.5 227.8h0.7M340.4 223.8h0.7M342.4 222.3h0.7M334 233.2h0.7M343 249.2h0.7M331.1 229.9h0.7M350.8 233.7h0.7M346.7 225.9h0.7M329.5 253.4h0.7M331.1 234.8h0.7M327.8 217.9h0.7M331.1 235.6h0.7M335.6 222.5h0.7M334.8 240.4h0.7M328.5 233.4h0.7M336.8 244h0.7M343.6 224.6h0.7M340.8 236.7h0.7M338.5 248h0.7M329.1 230.9h0.7M329.4 224h0.7M347.9 230h0.7M332.7 235.2h0.7" stroke="#111" stroke-width="0.7" fill="none" opacity="0.8"/>
<path d="M353.7 299.5h0.7M353.9 294.2h0.7M367.1 292.9h0.7M362.6 294.7h0.7M376.3 301.5h0.7M364 288.2h0.7M377.4 296.5h0.7M361.6 292.4h0.7M351.9 289.8h0.7M379.6 285.3h0.7M346.4 290.2h0.7M348.4 290.2h0.7M377.9 294.6h0.7M355.9 298.3h0.7M379.2 296.3h0.7M355.3 293.3h0.7M353.7 302h0.7M352.5 291.8h0.7M370 294.7h0.7M356 293h0.7M348.8 297.4h0.7M349 296.6h0.7M357.7 294.5h0.7M349.6 297.2h0.7M376.2 295.8h0.7M359.9 291.7h0.7M351.1 298.7h0.7M347.4 292.4h0.7M349.8 291.8h0.7M356.9 297.7h0.7M370.9 292.5h0.7M358.7 294.8h0.7M350.9 305.8h0.7M348.2 298.4h0.7M354.7 292.4h0.7M350.6 292.3h0.7M347.9 299h0.7M366.5 296.2h0.7M370.8 290.7h0.7M371.5 297.5h0.7M358.3 287.7h0.7M372.2 300.3h0.7M365.2 300.2h0.7M375.4 301.9h0.7M356.3 289h0.7M346.7 297.4h0.7M359.7 303.4h0.7M353.9 296.6h0.7M355 294h0.7M349.3 300.5h0.7M358.1 288.5h0.7M373.8 294.4h0.7M352.3 296.6h0.7M362.6 292.8h0.7M381.2 295h0.7M371.2 298.8h0.7M346.2 298.3h0.7M370.8 294.5h0.7M361.8 289.5h0.7M364.4 288.1h0.7M374.6 290.8h0.7M346.9 292.4h0.7M347.1 291.4h0.7M353.4 307h0.7M347.8 293.9h0.7M350.9 294.1h0.7M364.3 297.5h0.7M360 289.1h0.7M379.1 292.2h0.7M358.3 297.3h0.7M349 291.6h0.7M354.4 299.1h0.7M346.4 292h0.7M378.9 295.7h0.7M355.3 301h0.7M350.5 299.5h0.7M376.1 295.4h0.7M353 295.4h0.7M372.9 297.9h0.7M365.3 293h0.7M374.1 290h0.7M346.2 299.1h0.7M364.4 299.7h0.7M353.3 296h0.7M357.8 293.8h0.7M356.4 289.9h0.7M352.3 292.1h0.7M375.1 293.3h0.7M381 295.9h0.7M382 298.4h0.7M375.2 295h0.7M366.3 296.5h0.7M396 289.2h0.7M358.5 295.3h0.7M392.8 299.8h0.7M358.8 291.9h0.7M352 286.6h0.7M347.6 297.7h0.7M358.3 301.2h0.7M360.7 297.9h0.7M355.3 292.7h0.7M346.7 297.4h0.7M381.6 285.8h0.7M354.7 295.1h0.7M347.6 291.6h0.7M348.7 299.6h0.7M346.6 290.5h0.7M349.2 303.6h0.7M385.8 305.2h0.7M365.7 303.2h0.7M385.6 299h0.7M348.9 291.6h0.7M361.1 293.5h0.7M346.1 299h0.7M387 296.4h0.7M356 292h0.7M358.1 293.8h0.7M352.1 291.2h0.7M357.5 296.5h0.7M358.7 294.5h0.7M368.8 300.3h0.7M347.9 297.9h0.7M349.2 293.2h0.7M367.6 300.7h0.7M359.5 284.9h0.7M350.8 288.6h0.7M380 292.2h0.7M363.3 297.1h0.7M347.9 302.9h0.7M347.2 298.2h0.7M378.2 296h0.7M347.5 294.7h0.7M362.6 287.1h0.7M355.8 292.2h0.7M353.9 299.4h0.7M369.8 296.2h0.7M353.8 292.2h0.7M376.9 294.6h0.7M350 291.9h0.7M350.9 286.5h0.7M394.7 293.8h0.7M349.8 292h0.7M350.1 289.4h0.7M362.9 293.9h0.7M362 293.4h0.7M354.4 295.4h0.7M351 294.8h0.7M351.6 295.5h0.7M350.9 293.7h0.7M347 291.5h0.7M392.1 294.3h0.7M364.9 294.7h0.7M356.7 298.8h0.7M356.9 294.9h0.7M346.5 291.7h0.7M355.3 298.2h0.7M368.8 294.6h0.7M351.6 298.2h0.7M356.3 304h0.7M351.3 298.2h0.7M349.8 289.2h0.7M377.6 290.7h0.7M352.1 296.9h0.7M358.8 287.6h0.7M381.5 292.6h0.7M360.6 295.6h0.7M359 292.5h0.7M358.9 291h0.7M356.8 294.4h0.7M374.3 293h0.7M370.5 292.4h0.7M354.9 296.9h0.7M355.2 291.8h0.7M367.2 293.6h0.7M347.1 300h0.7M379.9 298.4h0.7M374.3 294.8h0.7M377.2 293.8h0.7M346.4 295.8h0.7M352.7 295.6h0.7M369.7 289.1h0.7M363.5 291.3h0.7M356.1 299.4h0.7M360.3 290.5h0.7M346 301.8h0.7M366.9 297.7h0.7M360 294.6h0.7M369.7 292.7h0.7M351 295.2h0.7M360.6 298.2h0.7M347.9 296.7h0.7M356.4 300.5h0.7M353.4 296.8h0.7M346.3 292h0.7M388.7 297.2h0.7M355.8 298h0.7M375.4 294.4h0.7M373.7 290.9h0.7M361.9 291.5h0.7M355.5 297.2h0.7M377.2 291h0.7M354.7 302.4h0.7M365.3 298h0.7M371.9 287h0.7M347.8 290.2h0.7M367.1 295.1h0.7M356.7 289.4h0.7M359.2 294.1h0.7M360.3 298.6h0.7M360.2 297.5h0.7M366.4 290.1h0.7M367.2 298h0.7M347.1 299.1h0.7M365.2 291.7h0.7M347.2 297.5h0.7M360.7 292.1h0.7M356.7 289.1h0.7M355.5 299.9h0.7M358.9 299.7h0.7M367.1 290.8h0.7M375.8 283.5h0.7M349 299.1h0.7M377.7 292.1h0.7M349 296.3h0.7M355.5 289.1h0.7M361.5 296.9h0.7M365.9 299.4h0.7M381.8 295.4h0.7M388.9 298.2h0.7M371.1 296.1h0.7M373.3 298.9h0.7M348.9 292.4h0.7M366.5 292.3h0.7M364.3 286.3h0.7M362.2 292.8h0.7M346.1 293.4h0.7M360.6 289.8h0.7M346.7 299.1h0.7M359.5 293.6h0.7M392.9 307.6h0.7M368 297.3h0.7M350.2 291.2h0.7M349.3 294.7h0.7M371.7 297.9h0.7M359.8 299.4h0.7M351.6 301.2h0.7M355.5 292.8h0.7M346.1 299h0.7M377.7 294.5h0.7M358.9 298.8h0.7M370.3 294.2h0.7M368.1 294.6h0.7M358.5 296.2h0.7M373.1 292h0.7M370.4 294.7h0.7M362.8 296.4h0.7M354.8 286.9h0.7M350.1 292.5h0.7M353.5 292.7h0.7M352.3 299.1h0.7M346 295.4h0.7M348.9 294.7h0.7M363.6 291.6h0.7M360.4 296.6h0.7M347.4 293.5h0.7M350.7 298.9h0.7M353.7 293.6h0.7M348 294.6h0.7M348.5 297.3h0.7M370.2 296.7h0.7M358.2 288.1h0.7M369.5 295.6h0.7M402.5 294.5h0.7M371.6 286.8h0.7M394 289.5h0.7M380.6 298.8h0.7M349 296.2h0.7M359.5 292.7h0.7M350.2 298.8h0.7M349 287.3h0.7M366.3 300.7h0.7M360.7 292.3h0.7M360.5 301.2h0.7M369.2 293h0.7M349.8 292.6h0.7M357.1 296h0.7M362.4 293.7h0.7M377.9 299.2h0.7M356.6 298.2h0.7M407.8 293.3h0.7M348.8 294h0.7M367.6 294.8h0.7M374 302.2h0.7M350.5 294.6h0.7M361.8 299.2h0.7M363.6 294.6h0.7M346.4 291.2h0.7M371.3 287.7h0.7M347 295.8h0.7M353.5 296.9h0.7M349.1 295.8h0.7M347.7 300.3h0.7M357.8 297.9h0.7M369.4 302.7h0.7M366.2 297.5h0.7M368.4 290.9h0.7M352.9 299.6h0.7M368.5 290.2h0.7M358.5 294.2h0.7M352 289.2h0.7M369.2 298.7h0.7M348.8 300.9h0.7M358.8 288.9h0.7M361.8 290.9h0.7M366.4 291.7h0.7M364 286.5h0.7M346.3 294.1h0.7M375.2 293.5h0.7M360.1 288.6h0.7M372.5 284.7h0.7M376 288.1h0.7M356.8 295.6h0.7M346 287.9h0.7M374.3 294.5h0.7M356.8 295.5h0.7M362.3 297.5h0.7M355.2 294.1h0.7M354.2 295.4h0.7M355.6 300.8h0.7M352.9 291.9h0.7M364.1 294.5h0.7M360.1 299.9h0.7M366.6 289.4h0.7M363.1 297.2h0.7M351.5 283.3h0.7M346.7 287.5h0.7M347 287.6h0.7M361.6 293.6h0.7M352.5 294.4h0.7M384.5 284.5h0.7M362 302.5h0.7M346.6 303.6h0.7M346.1 300h0.7M348 293.7h0.7M352.9 296.6h0.7M349.5 291.6h0.7M352 292.2h0.7M376.6 291.3h0.7M347.8 295.9h0.7M396.2 292.4h0.7M377.9 292.6h0.7M363.1 302.3h0.7M370.1 293.2h0.7M378.6 297.3h0.7M364.7 296.4h0.7M401.7 292.7h0.7M356 292.9h0.7M347.9 299.6h0.7M365.6 292.4h0.7M355.1 297.6h0.7M354.6 292.8h0.7M358.3 293.1h0.7M363.8 301.1h0.7M360.2 287.2h0.7M381.6 291.6h0.7M346.6 292.1h0.7M371.8 296.5h0.7M359.6 291.7h0.7M350.5 295.1h0.7M374.8 297.6h0.7M383.4 303.1h0.7M354.5 298.8h0.7M356.9 288.6h0.7M397.9 302.1h0.7M359.1 294.7h0.7M359.8 290.4h0.7M354.9 295.6h0.7M391.7 290.4h0.7M367.1 292.9h0.7M362.7 290.7h0.7M373.6 292.5h0.7M369.8 283.9h0.7M367.5 300.1h0.7M371.2 294.8h0.7M370.4 298.2h0.7M369.5 296.3h0.7M346.7 294.2h0.7M355.3 300.4h0.7M363 300.2h0.7M347.2 293h0.7M361.2 298.1h0.7M362.4 293.1h0.7M355.4 292.5h0.7M367.5 296.5h0.7M365.7 294.9h0.7M376.4 294.1h0.7M356.5 285.8h0.7M351.8 290.9h0.7M358.2 295h0.7M347.4 297.6h0.7M381.4 297.4h0.7M358.4 292.2h0.7M352.9 296.6h0.7M351.7 289.2h0.7M350.6 296.5h0.7M360.6 302.6h0.7M365.9 293.6h0.7M354.3 290.1h0.7M349.6 299.1h0.7M348 294h0.7M352.6 294.6h0.7M359.1 296.9h0.7M357.3 293.1h0.7M357.8 297.6h0.7M351.6 291.5h0.7M357.7 291.3h0.7M347.3 295.8h0.7M355 296.4h0.7M371.7 295.5h0.7M359.9 297.4h0.7M364.3 294.3h0.7M354 291.8h0.7M377.8 296.6h0.7M349.1 287.8h0.7M369.4 294.5h0.7M360.6 298.7h0.7M366.4 297h0.7M347.3 299.5h0.7M351.4 293.5h0.7M369 293.5h0.7M361.5 292.5h0.7M352.4 292.4h0.7M349.2 295.5h0.7M351.2 298.8h0.7M368.9 294.4h0.7M352.1 301.3h0.7M352 296.6h0.7M359.3 285.9h0.7M381.9 297.5h0.7M354.6 292.6h0.7M366.7 295h0.7M387.2 291.5h0.7M361.3 292.3h0.7M366.8 303.5h0.7M366.3 299.1h0.7M361.3 293.1h0.7M346.9 291.4h0.7M361 293.1h0.7M382.2 292h0.7M369.6 297.4h0.7M349 299.6h0.7M368.4 288h0.7M360 296.7h0.7M352.4 294.4h0.7M358.1 293.6h0.7M352.8 298.1h0.7M357.5 291.5h0.7M381.6 291.1h0.7M368.3 294.3h0.7M370.9 291.6h0.7M394 292.5h0.7M346.2 298.2h0.7M354.1 289.2h0.7M380.3 300.1h0.7M348.6 300.6h0.7M390.6 293.4h0.7M346 297.6h0.7M356.9 290.3h0.7M354.4 293.7h0.7M366.5 292.9h0.7M359.9 291.3h0.7M361.4 299h0.7M358.9 296.5h0.7M365.1 299.1h0.7M358.6 288.3h0.7M354.2 294.4h0.7M365.8 293.1h0.7M353.6 288.4h0.7M353.8 299.6h0.7M387.4 295.4h0.7M374.9 296.6h0.7M358.9 301.5h0.7M348.4 292.7h0.7M370.1 301.9h0.7M354.2 287.2h0.7M347.2 301h0.7M364.4 298.5h0.7M366.6 290h0.7M369.8 289.6h0.7M378.3 306.1h0.7M353.4 292.5h0.7M360.8 300.3h0.7M351.1 296.9h0.7M356.2 295.7h0.7M366.8 294.5h0.7M367 289.8h0.7M359 290.1h0.7M354.5 291.6h0.7M371.9 299.1h0.7M368.3 286.8h0.7M369.7 290.5h0.7M372.3 296.9h0.7M358.2 294.6h0.7M346.8 292.9h0.7M375.4 290.7h0.7M387.6 287.5h0.7M348.9 291.6h0.7M349.2 289.9h0.7M378.6 292.7h0.7M354.8 290.8h0.7M352.5 288.3h0.7M356.8 300.7h0.7M352.4 285.9h0.7M356.8 298.2h0.7M349.8 293h0.7M366.8 292.3h0.7M371.9 289.5h0.7M346.7 290.6h0.7M350.7 292.8h0.7M347.4 285.8h0.7M363.8 299.1h0.7M358.2 295.4h0.7M375.5 294.6h0.7M350.6 294.5h0.7M371.5 299.4h0.7M377.6 294.6h0.7M372.7 298h0.7M367.4 291.8h0.7M346.4 302.2h0.7M378.3 291.8h0.7M349.9 290.1h0.7M355.7 291.8h0.7M382.7 298.6h0.7M355.1 301.5h0.7M350.2 296.2h0.7M367.6 303.9h0.7M354.1 290.2h0.7M359 291.4h0.7M359.7 292.6h0.7M357.9 300.3h0.7M383.6 290.6h0.7M401.4 294.6h0.7M357.7 289.6h0.7M361 295.5h0.7M364.1 290.9h0.7M361.3 307.7h0.7M349 298h0.7M372.7 292.4h0.7M367.2 298.3h0.7M360.8 294.4h0.7M374.7 291.9h0.7M409.6 296.9h0.7M382.3 288.2h0.7M359.6 301.1h0.7M371.5 300h0.7M372.6 289.8h0.7M346.2 294h0.7M349.9 286.4h0.7M347.8 297h0.7M352.5 296h0.7M381.5 295.6h0.7M369.5 292.3h0.7M360.1 294.4h0.7M351.8 291.7h0.7M356.1 293.6h0.7M374.6 291.7h0.7M346.1 291.8h0.7M361.3 291.6h0.7M353.5 283.5h0.7M404.2 291.1h0.7M359.4 298.4h0.7M372.9 300.9h0.7M347 292.1h0.7M350.5 294.8h0.7M359.1 300.2h0.7M370.4 287.6h0.7M359.6 296.3h0.7M349.1 287.2h0.7M365 296.3h0.7M399.7 293.6h0.7M387.4 294.1h0.7M348.7 293.5h0.7M347.6 303h0.7M362.6 283h0.7M351.2 288.4h0.7M352.8 295.5h0.7M369.7 295.7h0.7M351.3 291.3h0.7M348.3 296.1h0.7M367.8 294.6h0.7M358.7 295h0.7M346.3 299.6h0.7M383.5 290.8h0.7M356.7 295.5h0.7M346.1 298.6h0.7M377.1 292.2h0.7M380.7 300h0.7M373.4 290.8h0.7M361.1 287.3h0.7M394.8 289.8h0.7M389.5 294.9h0.7M349.6 299h0.7M363.3 292.9h0.7M357.2 294.3h0.7M379.7 294.4h0.7M357.2 297.3h0.7M365.4 290.2h0.7M350.8 294h0.7M346.4 290.5h0.7M349.8 296.5h0.7M361 298.2h0.7M346.3 284.6h0.7M367.7 295.5h0.7M351.6 293.7h0.7M357.4 297.7h0.7M354.3 291.3h0.7M355 294.6h0.7M361.5 289.2h0.7M353.9 298h0.7M353.2 304.6h0.7M364.8 295.6h0.7M382.3 301.3h0.7M354.6 301.3h0.7M356.3 293.4h0.7M359.3 294.9h0.7M357.8 295.3h0.7M365.1 299.2h0.7M354.6 291.6h0.7M377.3 297.8h0.7M354.1 290.8h0.7M360.5 297.4h0.7M392.9 294.5h0.7M384 287.1h0.7M350.8 292.8h0.7M381.9 296.7h0.7M349.6 293.9h0.7M349.2 295.7h0.7M366.9 304.4h0.7M400.4 288.9h0.7M360.4 291.4h0.7M358.1 291.2h0.7M370.7 294.6h0.7M356.8 292.5h0.7M366.4 293.6h0.7M384.3 290.9h0.7M350.4 291.3h0.7M374.1 303h0.7M353.5 305.6h0.7M356 293.9h0.7M379.8 295h0.7M356.5 287.3h0.7M350 292.8h0.7M364.1 297.9h0.7M354.9 296.4h0.7M361.1 293.7h0.7M354.9 302.6h0.7M358.4 307.6h0.7M361.7 293.8h0.7M353.4 290.1h0.7M351.2 297.3h0.7M363.7 298.4h0.7M357.6 290.8h0.7M349.3 294.4h0.7M350.1 299.4h0.7M361.9 296.4h0.7M357.7 290.9h0.7M363.2 298.6h0.7M355.9 291h0.7M347.3 301.4h0.7M349.4 294.6h0.7M359.7 286.4h0.7M359.1 290.8h0.7M352.3 298.1h0.7M380.8 302.6h0.7M377.2 296.3h0.7M351.7 293.4h0.7M347.9 304.8h0.7M351.2 288.9h0.7M355.3 299.2h0.7M368.2 287.9h0.7M365.3 287h0.7M358.7 289.9h0.7M358.3 298.2h0.7M353.3 295.8h0.7M354.3 293.8h0.7M392.7 296.5h0.7M366.6 291.5h0.7M347 301.3h0.7M369.1 295.1h0.7M359.2 297h0.7M351.3 288.9h0.7M352.9 294.3h0.7M366.8 289.3h0.7M350.8 297.6h0.7M376.2 287.5h0.7M362.6 297.9h0.7M350.8 299.3h0.7M353.3 297.1h0.7M368.4 300.2h0.7M353.2 301.4h0.7M363.8 293.4h0.7M364.6 292.5h0.7M357.9 292.6h0.7M361.2 294.6h0.7M351.4 293.7h0.7M379.2 293.6h0.7M356.9 302.2h0.7M363.8 295h0.7M357.5 292.7h0.7M359.6 301.2h0.7M372.5 289.7h0.7M357.4 294.3h0.7M363.3 297.1h0.7M351.6 297.5h0.7M353.4 289.1h0.7M354.5 288.6h0.7M352.6 289.3h0.7M349.5 291h0.7M353.2 299.7h0.7M347.8 294.2h0.7M353.8 296.1h0.7M366.9 290.9h0.7M375.6 292.3h0.7M353.4 297.4h0.7M393.8 296.1h0.7M379.3 293.3h0.7M373.3 298.8h0.7M359.2 292h0.7M357.4 292.2h0.7M404.1 292.7h0.7M353.1 292h0.7M353.8 298.1h0.7M349.7 288.1h0.7M374.1 296.4h0.7M364 286.5h0.7M365 287h0.7M362.7 294.5h0.7M348.3 295.8h0.7M357.3 293.9h0.7M354.3 285.6h0.7M358.9 299.7h0.7M359.7 299.3h0.7M347.8 290.9h0.7M364 300.3h0.7M347.6 291.9h0.7M368.6 294.7h0.7M376.8 291.2h0.7M377.9 290.1h0.7M364 287.9h0.7M374.5 293.3h0.7M359.5 262.6h0.7M355.5 224.6h0.7M358.5 271.1h0.7M363.8 249.6h0.7M378.3 286.5h0.7M367.7 274h0.7M346.1 267h0.7M350.8 230.5h0.7M349.9 237.2h0.7M365.7 218.3h0.7M373.7 275.4h0.7M382.9 278.7h0.7M366.7 257.5h0.7M357.5 288.7h0.7M377.9 268.6h0.7M349.9 215.6h0.7M359.2 281h0.7M353.8 218.8h0.7M379.8 246h0.7M367.8 240.1h0.7M366.6 243.7h0.7M357.9 228.4h0.7M362.4 243.1h0.7M363.2 221.5h0.7M359.3 242.1h0.7M347 248.1h0.7M365.2 266.4h0.7M373 278.1h0.7M349.6 230.7h0.7M354.8 266.5h0.7M360.6 280h0.7M360.5 278.9h0.7M378 225.1h0.7M348.3 213h0.7M359.5 230.1h0.7M350.5 238.5h0.7M354.9 212.9h0.7M348.9 270.8h0.7M350.6 237.6h0.7M393.7 237.1h0.7M386.2 286.2h0.7M366.5 224.2h0.7M346.7 222.7h0.7M390.7 261.4h0.7M360.7 224h0.7M385.8 263.4h0.7M350.9 227.6h0.7M367.4 240.5h0.7M398.1 278.1h0.7M370.8 216.1h0.7M355.8 238.5h0.7M356.9 229.9h0.7M353.3 246.6h0.7M358.8 284.7h0.7M358.6 224.5h0.7M372.4 256.7h0.7M361.3 279.5h0.7M380.7 237.1h0.7M352.3 256h0.7M351.9 287.9h0.7M355.5 271.4h0.7M358.5 244.1h0.7M346.4 252h0.7M354.2 254.3h0.7M367.9 259.4h0.7M386.4 278.1h0.7M360.3 270.4h0.7M356.1 256.9h0.7M348.9 238.5h0.7M359.2 284h0.7M368.1 279.1h0.7M349.2 248.5h0.7M355.6 220.5h0.7M353.2 287.6h0.7M355.9 269.2h0.7M346.2 281.7h0.7M359.5 253.6h0.7M355.4 260.1h0.7M359.2 245.4h0.7M390.3 219.6h0.7M384.9 214.6h0.7M353.4 215h0.7M364.7 251.9h0.7M351.3 267.8h0.7M350.3 283.2h0.7M346.6 262.1h0.7M347.9 238.3h0.7M349.9 222.2h0.7M365.7 227.6h0.7M358.4 212.5h0.7M346.4 268.6h0.7M388.1 246.3h0.7M364.5 228.4h0.7M355 287.2h0.7M348 231.7h0.7M389.2 256.5h0.7M365.8 224.1h0.7M390.6 279.5h0.7M361.2 280.4h0.7M348.3 261.5h0.7M347.9 235.8h0.7M368.2 245h0.7M350.2 268.4h0.7M367.5 229.1h0.7M357 277.8h0.7M395.5 288.4h0.7M348.6 239.6h0.7M380.6 253.4h0.7M359.6 271.2h0.7M373.4 226.7h0.7M375.4 262.8h0.7M352.8 278.8h0.7M346.2 281.2h0.7M376.8 283.7h0.7M361.8 280.8h0.7M350.4 211.7h0.7M352.7 277.5h0.7M375.6 276h0.7M376.8 226.3h0.7M357.5 267.5h0.7M363.4 225.3h0.7M347.3 259.2h0.7M366.1 224.8h0.7M362.6 242h0.7M369 280.1h0.7M350.6 273.4h0.7M352 257.5h0.7M351.2 254.3h0.7M349.7 288.9h0.7M357.6 212.8h0.7M370.8 248h0.7M372.4 274.8h0.7M346.4 214.7h0.7M396.3 214.6h0.7M392.9 285h0.7M365.8 287.8h0.7M379.9 285.9h0.7M346.1 219.6h0.7M354 238.4h0.7M359.7 237.9h0.7M349.2 248.9h0.7M349.7 287.8h0.7M364.2 229.9h0.7M347.6 237.9h0.7M372.4 260.3h0.7M356.7 274.5h0.7M359.7 226.3h0.7M362.5 284.9h0.7M370.8 283.9h0.7M352.3 260.6h0.7M347.8 229.8h0.7M384.5 262.6h0.7M393.7 275.8h0.7M349.5 237.8h0.7M346.7 222.4h0.7M357 222.9h0.7M350.4 257.6h0.7M396.2 268.3h0.7M363.7 214.9h0.7M383.1 226.3h0.7M357.3 225.6h0.7M365.6 228.1h0.7M348.2 260.3h0.7M353.7 239.6h0.7M390.6 213.6h0.7M368.9 213.5h0.7M380.2 255.3h0.7M354.8 263.4h0.7M349.2 275.2h0.7M347.6 221.3h0.7M369.6 279.1h0.7M346.1 288.3h0.7M348 245.8h0.7M354.9 231.3h0.7M374.4 243.9h0.7M358.9 217.7h0.7M352.3 274h0.7M350.9 216.4h0.7M378.5 264.5h0.7M348.3 255.4h0.7M370.1 280.7h0.7M350.5 250.2h0.7M376.8 245.6h0.7M351.2 288h0.7M356.8 251h0.7M369.2 228.7h0.7M373.8 276.9h0.7M362.8 239.2h0.7M351.1 242.4h0.7M370.6 252.7h0.7M353 231.8h0.7M383.5 263.9h0.7M389.9 267.8h0.7M350.8 238.7h0.7M348.3 247.2h0.7M353.2 273.2h0.7M352.2 217.8h0.7M347.2 279h0.7M354.5 217.7h0.7M351.8 284.9h0.7M366.7 242.3h0.7M362.4 283.5h0.7M347.1 276.8h0.7M346.8 232h0.7M348.9 231.4h0.7M362.7 278.1h0.7M373.3 238.8h0.7M391.7 245.1h0.7M356.2 232.8h0.7M364.8 285.5h0.7M350.6 260.6h0.7M361.6 217.7h0.7M367.6 221h0.7M375.7 212.7h0.7M347.8 228.7h0.7M357.3 287h0.7M364.4 234.5h0.7M380.5 240.4h0.7M346.2 222.4h0.7M353.8 256h0.7M366.3 250h0.7M359.5 247.4h0.7M370.6 265.1h0.7M355.2 222.9h0.7M347.6 281.1h0.7M358 247.7h0.7M349.6 278.3h0.7M419.5 281.7h0.7M348.7 269.8h0.7M368.1 212.7h0.7M382.4 280.9h0.7M369.4 274.7h0.7M356.9 275.7h0.7M366.7 226.4h0.7M376.6 280.7h0.7M374.1 242.2h0.7M362.9 220.7h0.7M362.1 231.7h0.7M354.9 239.5h0.7M346.7 276.4h0.7M356.8 212.3h0.7M369.8 232.5h0.7M359.1 230.7h0.7M352.1 285.4h0.7M374.8 231.1h0.7M359.9 257.8h0.7M369.4 260.4h0.7M407.2 245.9h0.7M372.7 287.6h0.7M353.3 264.7h0.7M381.7 220.2h0.7M346.4 271.3h0.7M358.5 267.7h0.7M348.4 226.2h0.7M361.1 238.4h0.7M348.2 286.9h0.7M369.4 220.2h0.7M352.9 250.9h0.7M356.9 233h0.7M366.9 288.2h0.7M385.5 271.2h0.7M349.3 225.5h0.7M346.2 252.5h0.7M350.9 283.9h0.7M368.1 248.4h0.7M355.9 225.3h0.7M367 275.7h0.7M349.8 261.4h0.7M372.2 221.5h0.7M355.1 244.3h0.7M356 276h0.7M394.3 252.3h0.7M366.6 286.4h0.7M383 277.5h0.7M360.3 235.7h0.7M350.8 261.9h0.7M362.8 225h0.7M351.4 234.8h0.7M358.7 238.1h0.7M376.8 282.1h0.7M353.9 217.1h0.7M350.2 267.4h0.7M356.7 246.5h0.7M383.5 213.9h0.7M374 265.5h0.7M364.7 216.6h0.7M372.8 274h0.7M352.1 248.2h0.7M351.5 229.1h0.7M371.9 269.9h0.7M359.6 239.3h0.7M348.6 240.2h0.7M373.9 252.9h0.7M350.9 229.2h0.7M375.8 237.7h0.7M360 286.3h0.7M351.7 229h0.7M361.2 252h0.7M346.9 265.5h0.7M361.8 223h0.7M358 237.2h0.7M373.1 240.7h0.7M354 246.1h0.7M383.1 242.6h0.7M348.3 250.9h0.7M356.2 214.4h0.7M358.8 282.2h0.7M354.2 227.5h0.7M372.4 226.9h0.7M357.1 281.5h0.7M359.1 260.7h0.7M362.3 216h0.7M356.2 231.3h0.7M362.6 287.4h0.7M368.8 250.2h0.7M364.1 258.5h0.7M371.1 228.2h0.7M366.7 267.8h0.7M350.4 276.2h0.7M383.2 278.3h0.7M361.5 243.7h0.7M366.5 252.5h0.7M355.1 260.4h0.7M390.9 274.4h0.7M364.9 238h0.7M353.1 287.7h0.7M376.8 284.5h0.7M353.8 236.2h0.7M357.3 219.3h0.7M353.3 211.6h0.7M363.6 234h0.7M379.3 276.9h0.7M394.5 231.9h0.7M348.5 219.2h0.7M361.8 211.2h0.7M357.3 240.7h0.7M360.4 236.3h0.7M381.2 219.5h0.7M370.7 261.6h0.7M350.2 244.1h0.7M364 254.9h0.7M372.3 287.9h0.7M354.7 270.5h0.7M355 237.8h0.7M395.2 258.5h0.7M360.1 225.7h0.7M363.1 274.2h0.7M353.9 213h0.7M356.9 214.2h0.7M350.5 226.4h0.7M363 283.2h0.7M382.6 284.5h0.7M377.5 243.8h0.7M370.3 244.2h0.7M368.6 259.4h0.7M346.2 247.7h0.7M361.8 254.7h0.7M348.5 257.5h0.7M384.6 247.1h0.7M346.3 225h0.7M375.2 286.6h0.7M370.4 242.9h0.7M358.2 229.3h0.7M415.5 229.7h0.7M371.3 232.5h0.7M368.9 286h0.7M356.8 221.7h0.7M349.9 246.6h0.7M354.9 254.3h0.7M351.7 259.1h0.7M363 216h0.7M348.8 248.5h0.7M370 253.1h0.7M348.1 211.5h0.7M346 265.6h0.7M351.8 251.8h0.7M372.4 251.9h0.7M349.8 215.6h0.7M358.3 284.3h0.7M393.4 277.9h0.7M377.9 235.2h0.7M358.9 249.2h0.7M352 262.4h0.7M379.9 262.7h0.7M353.6 215.5h0.7M349 280.5h0.7M348.8 250.6h0.7M366.8 268.5h0.7M352.8 285.8h0.7M359 250.8h0.7M393.1 270.2h0.7M362.9 288.5h0.7M347.8 218.5h0.7M364.7 256.4h0.7M351.5 282.5h0.7M368 243.6h0.7M357.6 237.5h0.7M346.4 228.5h0.7M349.6 287.1h0.7M387.6 237.3h0.7M379.7 214.2h0.7M391.7 236h0.7M365.1 287.7h0.7M361 237.6h0.7M391.3 272.6h0.7M352.2 261.7h0.7M389.9 235.4h0.7M402.3 245.6h0.7M383.9 242h0.7M355.5 264.2h0.7M364.1 270.7h0.7M355.4 255.5h0.7M358 239.9h0.7M364.1 268.7h0.7M377.6 260.6h0.7M354.3 212.5h0.7M370.3 227.9h0.7M406.7 247.8h0.7M361.3 287.6h0.7M369.4 257.2h0.7M350.6 240h0.7M351.4 237.1h0.7M362.9 214.6h0.7M358.6 250h0.7M382.2 255.7h0.7M388.6 263.1h0.7M361.5 215.1h0.7M367.3 234.3h0.7M351.3 230.6h0.7M350.5 233h0.7M350.3 232.6h0.7M373.3 255.5h0.7M361.7 218.3h0.7M352.9 214h0.7M347.5 229.2h0.7M367.8 211.8h0.7M361.9 244.5h0.7M371.9 227.5h0.7M355.1 276.3h0.7M367.9 216h0.7M356.9 245.2h0.7M399.8 233.7h0.7M347.1 257.5h0.7M360.7 270.6h0.7M362.8 225.9h0.7M368.1 263h0.7M359.6 284h0.7M380.6 287.5h0.7M350.8 265.9h0.7M352.9 286.9h0.7M370.1 286.6h0.7M357 264.2h0.7M364.1 264.8h0.7M379.2 285.9h0.7M355.7 260.9h0.7M356.9 241.4h0.7M393.1 248.6h0.7M351.1 216.9h0.7M357.2 260.6h0.7M349.6 225.9h0.7M346.6 219.4h0.7M348.9 273h0.7M365.7 240.1h0.7M363.1 255.5h0.7M380.6 269.2h0.7M363.3 266h0.7M382.7 268.7h0.7M363.3 230.2h0.7M364.4 253.4h0.7M346.4 255.8h0.7M377.1 215.8h0.7M349 266h0.7M347.5 249.7h0.7M356.9 216h0.7M351.8 250.2h0.7M360 233.7h0.7M366.3 265.4h0.7M349.7 278.8h0.7M346.2 254.9h0.7M348.7 247.8h0.7M391.2 279.9h0.7M351.3 257.6h0.7M372.4 236.8h0.7M347 258.6h0.7M358.3 268.6h0.7M356.8 242.7h0.7M347.3 277.3h0.7M373.4 237h0.7M346.5 268.5h0.7M381.1 284.3h0.7M381.5 224.9h0.7M386.2 272.6h0.7M372.4 245.6h0.7M356.5 230.4h0.7M389.7 281.5h0.7M346.3 227.6h0.7M367.1 270.1h0.7M359.8 217.4h0.7M351.3 264.6h0.7M363.6 268.8h0.7M353.9 280.4h0.7M388.5 287.7h0.7M354.9 224.4h0.7M351.7 268.3h0.7M352 229.5h0.7M352.7 218.3h0.7M346.2 269.1h0.7M362.7 249.6h0.7M363.8 272.5h0.7M352.4 280h0.7M348.3 216.7h0.7M346.2 258.3h0.7M380.1 249h0.7M379.2 240.3h0.7M385.1 237.6h0.7M359.3 217.7h0.7M403.8 218.7h0.7M348.9 226.5h0.7M354.4 228.7h0.7M353.8 236.3h0.7M360.7 228h0.7M348.5 233.7h0.7M347.8 244h0.7M362.3 216.3h0.7M359.6 237.9h0.7M367.9 239.7h0.7M348.8 253h0.7M348.9 212.1h0.7M346.7 238.9h0.7M347.6 253.1h0.7M350.3 234.6h0.7M347.3 231.3h0.7M357.9 227.3h0.7M361.6 213.7h0.7M354.8 244.2h0.7M365.6 218h0.7M371 212.1h0.7M360.3 238.7h0.7M352.9 241.2h0.7M365.4 239.5h0.7M355.1 239.2h0.7M357.5 221.1h0.7M375 230h0.7M351.1 227.1h0.7M373.6 221.9h0.7M349.2 234.4h0.7M346.2 220h0.7M348.8 229h0.7M350.2 245.3h0.7M394.1 229.6h0.7M368.4 229h0.7M348.8 238.7h0.7M383.8 218.1h0.7M354.2 234h0.7M363.2 242.4h0.7M351.7 236.7h0.7M351.3 223h0.7M360.9 239.3h0.7M351.1 226.4h0.7M359.7 238.7h0.7M349.5 220.6h0.7M359.5 219.4h0.7M359.7 246.3h0.7M349.1 228.6h0.7M356.5 228.7h0.7M347.3 217.5h0.7M356.8 225.4h0.7M351.4 245.4h0.7M366.6 235.7h0.7M352.4 230.3h0.7M346.9 211.6h0.7M349.3 238.8h0.7M353.2 234.8h0.7M365.8 242.3h0.7M369.3 226.1h0.7M351 236h0.7M371.5 224.5h0.7M372.4 215.7h0.7M370.6 211.1h0.7M350.6 237.7h0.7M356.4 226.8h0.7M346.6 229.4h0.7M356.7 214h0.7M361.5 247.3h0.7M363.7 224.5h0.7M350.9 212.1h0.7M349.9 216.7h0.7M391.1 224.1h0.7M360.6 240h0.7M371.8 234.7h0.7M371.9 235.2h0.7M365.2 223.2h0.7M369.9 238.7h0.7M372.9 229.9h0.7M353.7 240.8h0.7M369.4 222.1h0.7M350.4 223.8h0.7M351.2 221.4h0.7M349 223.7h0.7M376.7 221.6h0.7M355.8 235.4h0.7M368.1 225.7h0.7M371.2 214.4h0.7M364.8 225.5h0.7M346.1 223.1h0.7M348.8 212.9h0.7M372.8 231.7h0.7M357.5 231.5h0.7M349.6 229.8h0.7M368.7 244.9h0.7M351.8 214.6h0.7M349.3 236.5h0.7M377.3 232.8h0.7M352.4 220.1h0.7M395.2 243.2h0.7M375 218.1h0.7M369.8 231.9h0.7M364 236.1h0.7M359.8 226.6h0.7M363 223.2h0.7M377 239.3h0.7M351.9 241.9h0.7M356.2 225h0.7M366 243.3h0.7M356.8 233.5h0.7M373.8 218.4h0.7M349.1 238.3h0.7M354.9 229.2h0.7M357.2 225.9h0.7M366.1 234.3h0.7M364.3 234.1h0.7M363.4 222.5h0.7M375.5 224.8h0.7M362.9 236.9h0.7M348.3 238h0.7M347.8 248.2h0.7M348.5 230.1h0.7M368.9 232.1h0.7M346 222.6h0.7M376.6 250.5h0.7M348.4 233.1h0.7M379.3 235.3h0.7M354.8 243.7h0.7M361 238.1h0.7M378.5 223h0.7M377.5 227.5h0.7M346.4 242.3h0.7M355.1 234.1h0.7M354.3 225.7h0.7M362.4 228.4h0.7M363.2 241.5h0.7M348.3 218.6h0.7M363.2 229.2h0.7M363.3 242.1h0.7M347.1 241.2h0.7M363.7 220.3h0.7M357.8 229.6h0.7M351.5 234.4h0.7M356.3 233.3h0.7M365.7 228.4h0.7M355.9 225h0.7M366.7 228h0.7M369.5 232.2h0.7M352.2 231h0.7M349.3 247.5h0.7M374.6 234.5h0.7M371.3 238.3h0.7M355.3 237h0.7M350.4 227.7h0.7M352.1 239.4h0.7M376.5 225.1h0.7M353.5 241.4h0.7M373.3 237.5h0.7M361.9 225.7h0.7M347.9 239.2h0.7M355.3 226.5h0.7M361.2 239h0.7M346.2 220.6h0.7M363.5 233h0.7M362.1 244.3h0.7M307.8 279.4h0.7M316.7 260.9h0.7M296.4 289.2h0.7M295.4 234.8h0.7M286.3 240.3h0.7M305.6 251.1h0.7M311.1 282.9h0.7M296.2 231.6h0.7M301.5 242.2h0.7M316 285.6h0.7M306.5 245.7h0.7M302.9 267.8h0.7M303.3 285.9h0.7M312.2 284h0.7M305.3 260h0.7M287.6 232.4h0.7M288.7 276.7h0.7M306.2 264.6h0.7M289.7 241.9h0.7M306.7 233.6h0.7M309.6 278.6h0.7M307.9 266.9h0.7M311.9 244.8h0.7M300.4 243.9h0.7M288.9 275.1h0.7M314.1 225.8h0.7M306.3 270h0.7M301.7 270.2h0.7M311.9 236h0.7M310.5 245.4h0.7M305.3 260.7h0.7M313.2 230.8h0.7M290.8 237.7h0.7M290 229.5h0.7M303.8 241h0.7M292.5 267.3h0.7M299.3 271.1h0.7M317.7 283.7h0.7M308.5 289.6h0.7M290.4 287.1h0.7M311.3 259.7h0.7M298.9 281.2h0.7M314.3 246.2h0.7M286.1 245h0.7M299.2 235.6h0.7M287.6 286.5h0.7M298.6 279.1h0.7M311.5 264.1h0.7M307.1 261.8h0.7M291.7 236.5h0.7M297.7 233.3h0.7M311.7 252.2h0.7M309.4 276.6h0.7M295.1 277.9h0.7M297.7 251.3h0.7M302.2 252.9h0.7M304.8 272.8h0.7M314.7 275.6h0.7M293.9 236.9h0.7M287.6 273.6h0.7M316.7 281.5h0.7M311.1 237.3h0.7M310.2 231.5h0.7M299.4 238.1h0.7M295.3 283.5h0.7M315.6 251.3h0.7M286.3 274.6h0.7M305.4 282.7h0.7M297.2 267.2h0.7M294.3 257.9h0.7M296.2 232.4h0.7M303.9 280.6h0.7M301.2 287h0.7M316.9 242.5h0.7M296.7 254.7h0.7M297.8 286.4h0.7M300.4 264.4h0.7M304.7 275.9h0.7M316.5 247.8h0.7M307.5 289h0.7M296.1 268.7h0.7M303.7 267.8h0.7M296.3 250.6h0.7M296.2 250.1h0.7M299.7 230.8h0.7M299.4 234.4h0.7M300 241.5h0.7M303.6 247.9h0.7M287 230.9h0.7M293.3 247.1h0.7" stroke="#333" stroke-width="0.7" fill="none" opacity="0.6"/>
<path d="M360.7 330.3h0.7M346.7 342.7h0.7M323.2 317.4h0.7M323 365.1h0.7M337.5 350.6h0.7M345.9 335.4h0.7M349.4 344h0.7M340.8 327.1h0.7M306.4 363.3h0.7M333.6 363.7h0.7M338.8 363.8h0.7M328.7 356h0.7M347.4 353.7h0.7M361.6 314.5h0.7M315.9 321.8h0.7M349.5 326.3h0.7M322.8 354.3h0.7M320.9 314.9h0.7M333.7 318.8h0.7M376.8 344.2h0.7M351.1 330.7h0.7M335.1 363.9h0.7M362.7 329.8h0.7M341.2 363h0.7M348.6 338.5h0.7M318.5 325.9h0.7M319.1 334h0.7M309.6 329.4h0.7M357.5 308.5h0.7M311.1 357.4h0.7M367.3 361.7h0.7M311.5 328h0.7M338.8 316.1h0.7M343.3 360.2h0.7M315.6 331.9h0.7M298.7 345.9h0.7M328.2 367h0.7M371 319.7h0.7M367.5 333.8h0.7M312.8 344.6h0.7M339.8 325.9h0.7M334.5 350h0.7M361.9 336.8h0.7M346.5 354.9h0.7M321.3 357.6h0.7M384.6 335.3h0.7M355.2 363.5h0.7M323 323.2h0.7M363.4 361.8h0.7M356.3 312.9h0.7M364.4 318.9h0.7M316.2 334.9h0.7M343.1 334.5h0.7M325.9 359.8h0.7M336.2 348.2h0.7M335.4 339.6h0.7M347.8 367.4h0.7M319.4 361.8h0.7M360.3 312.3h0.7M330.9 346.3h0.7M347.7 329.3h0.7M337.5 356.6h0.7M345.6 326.7h0.7M354.8 363.6h0.7M332.3 358.4h0.7M357.3 308.9h0.7M331.1 341.9h0.7M347.6 333.7h0.7M337.4 355h0.7M325.8 344.8h0.7M294.2 352.1h0.7M323 343.4h0.7M326 366h0.7M329.6 310.8h0.7M365 343.5h0.7M319.6 355.7h0.7M351.5 363.4h0.7M392.5 324.2h0.7M321.1 323.9h0.7M348.2 337.9h0.7M354.4 357.5h0.7M340.4 331.3h0.7M343.1 331.6h0.7M353.3 325.7h0.7M388.7 322.3h0.7M325.8 314.5h0.7M350.1 351.7h0.7M343.7 313.4h0.7M382.4 326.2h0.7M370.9 349.1h0.7M379.3 367.2h0.7M351.5 339.3h0.7M348.1 333.7h0.7M341.1 361.2h0.7M332.8 327.3h0.7M324.5 345.1h0.7M347.4 361.4h0.7M355.6 326.1h0.7M346.5 357.9h0.7M309 310.3h0.7M350.7 343.4h0.7M395.4 336.4h0.7M338.7 324.3h0.7M318.8 327h0.7M366.2 312.4h0.7M320 340.2h0.7M342.7 348.1h0.7M346 366.3h0.7M329.4 345.9h0.7M321.6 311.9h0.7M345.9 339.1h0.7M317.1 362h0.7M347.8 348.9h0.7M349.8 332.3h0.7M317.6 316.8h0.7M354.6 310.9h0.7M314.8 331.1h0.7M344.7 356h0.7M325.4 321.2h0.7M315.8 355.8h0.7M329.9 358.3h0.7M343.1 345.3h0.7M354.3 308.8h0.7M352.3 325.9h0.7M322.7 363.6h0.7M337.8 363.7h0.7M287.3 352.3h0.7M356.2 358.1h0.7M339.8 352h0.7M336.8 335.7h0.7M334.3 308.1h0.7M301.8 358.5h0.7M346.1 313.9h0.7M342.8 319.3h0.7M338.2 337.6h0.7M360.5 365.2h0.7M337 331.8h0.7M329.3 339.6h0.7M362.6 361.3h0.7M335.2 340.9h0.7M322.7 311.3h0.7M296 342.3h0.7M330.7 353.3h0.7M331.4 324.7h0.7M317.9 321.5h0.7M348.9 366.4h0.7M306.8 316.1h0.7M337.8 319.1h0.7M340.7 351.5h0.7M359.7 352h0.7M339.5 357.1h0.7M334.1 329.2h0.7M360.1 345.1h0.7M367.5 320.9h0.7M344.8 321.6h0.7M322.6 352.1h0.7M349.6 365.5h0.7M316.8 360h0.7M365.6 345.2h0.7M344.9 337.5h0.7M321.6 327.3h0.7M377 310h0.7M311.5 346.8h0.7M360.6 312.7h0.7M333 332.1h0.7M329.7 309.1h0.7M309.2 332.7h0.7M301.3 336.7h0.7M344.4 324.1h0.7M320.1 323.4h0.7M360.6 316.2h0.7M339 327.9h0.7M346.6 334.7h0.7M378 312.3h0.7M306.3 322.8h0.7M342.3 345.3h0.7M331.1 358h0.7M353.3 361.2h0.7M336.4 322.1h0.7M329.1 365.7h0.7M323.6 354.9h0.7M335.3 318.4h0.7M310.9 337.9h0.7M352.4 326.1h0.7M283.8 325.7h0.7M350 318.1h0.7M349.7 365.6h0.7M341 338.3h0.7M333.1 350.9h0.7M358.3 316.4h0.7M354.7 347.8h0.7M355.6 328.8h0.7M331.3 326.1h0.7M348.4 362.7h0.7M337.6 339h0.7M329.7 351.2h0.7M361.1 313.5h0.7M312.7 359.4h0.7M334.3 316.5h0.7M313.8 352h0.7M302.6 357.9h0.7M364.3 344.2h0.7M353.2 337.4h0.7M345.4 358.4h0.7M316 337.8h0.7M339.2 337.1h0.7M353.8 345.7h0.7M300.4 359.5h0.7M353.3 334.3h0.7M347.6 313.2h0.7M375.7 354.5h0.7M320.9 346.4h0.7M376.4 341.1h0.7M341.3 349.3h0.7M347.1 319.8h0.7M356.8 348.5h0.7M385.7 313.8h0.7M359.9 336.6h0.7M376.9 359.1h0.7M341.2 356.8h0.7M354 361.9h0.7M357.6 367.9h0.7M313.4 342.5h0.7M344.7 315.5h0.7M344.2 321.3h0.7M351.6 344h0.7M372.4 314.1h0.7M353.6 322h0.7M345.9 308.5h0.7M342.2 319.1h0.7M341.5 359.6h0.7M312.8 328.1h0.7M335.8 362.1h0.7M322.4 320.8h0.7M312.9 366.6h0.7M360.2 310.3h0.7M321.3 344.2h0.7M319.4 340.5h0.7M306.9 310.2h0.7M362.9 367.4h0.7M368.2 341.8h0.7M347.8 344.7h0.7M333.6 349.5h0.7M350.2 359.9h0.7M350.3 341h0.7M341.7 338.4h0.7M345.2 332h0.7M306.5 335.5h0.7M342.8 367.7h0.7M331.3 317.7h0.7M335.7 338.5h0.7M337.7 327.7h0.7M312.1 357.9h0.7M344.9 363.1h0.7M352.4 317.6h0.7M296.5 311h0.7M309.3 320.4h0.7M368.5 356.2h0.7M309.9 354.3h0.7M354.1 311.1h0.7" stroke="#777" stroke-width="0.7" fill="none" opacity="0.4"/>
<path d="M348 362.8h0.7M322.8 368.2h0.7M346.2 363.3h0.7M327.2 366.9h0.7M340 364.3h0.7M332.2 366.2h0.7M336.8 364.6h0.7M341.3 364.3h0.7M344 364.2h0.7M322 366.8h0.7M342.8 364.2h0.7M340.8 365h0.7M324.3 367.7h0.7M331.1 365.4h0.7M344.1 363.4h0.7M329.2 365.8h0.7M326.3 365.9h0.7M341.3 363.2h0.7M337.6 364.8h0.7M346.2 363.4h0.7M338.4 364.6h0.7M338.9 366.1h0.7M340.7 364.5h0.7M334.7 366.2h0.7M351.1 361.7h0.7M328.5 366.6h0.7M337.6 364.8h0.7M321.8 367.5h0.7M350.9 362h0.7M348.6 362.7h0.7M344.2 363.6h0.7M332.6 366.1h0.7M335.6 364.4h0.7M346.5 363.4h0.7M339.7 365h0.7M320.3 367.8h0.7M336.2 365.9h0.7M350.3 362.8h0.7M346 363.5h0.7M346.8 363.9h0.7M326.9 367.3h0.7M350.1 363.4h0.7M348.1 363.3h0.7M344.5 364.3h0.7M323.2 366.8h0.7M333.8 366h0.7M338.6 364.1h0.7M335.7 366h0.7M351.4 362h0.7M351.5 362.8h0.7M339.9 364.8h0.7M348.6 363.5h0.7M328.8 365.3h0.7M328.8 366.1h0.7M341.1 364.5h0.7M328.8 366.7h0.7M350 362.1h0.7M344.9 364.5h0.7M325.7 368.3h0.7M335.8 365.1h0.7M348.6 362.8h0.7M341.8 363.5h0.7M332.8 365.3h0.7M341.4 364.2h0.7M324.6 368.3h0.7M354.4 361.5h0.7M331.2 367.2h0.7M335.1 365.1h0.7M338.8 364.5h0.7M339.4 364.5h0.7M350.1 363.3h0.7M327 366.4h0.7M325.5 367h0.7M326 366.9h0.7M329.9 366.2h0.7M323.8 367.5h0.7M320.1 367.6h0.7M330.9 365.5h0.7M347 363.5h0.7M328.1 366.8h0.7M330.2 366.4h0.7M321.6 366.4h0.7M351.7 362.5h0.7M348.1 362.9h0.7M341 363.4h0.7M327.6 366.3h0.7M336.6 364.6h0.7M338.4 363.7h0.7M325.2 366.2h0.7M335.8 365.4h0.7" stroke="#555" stroke-width="0.7" fill="none" opacity="0.7"/>
<line x1="283" y1="244.5" x2="439.2" y2="244.5" stroke="#111" stroke-width="1.0"/>
<line x1="283" y1="282.5" x2="439.2" y2="282.5" stroke="#111" stroke-width="1.0"/>
<line x1="283" y1="307.5" x2="439.2" y2="307.5" stroke="#111" stroke-width="1.0"/>
<line x1="345.5" y1="208.7" x2="345.5" y2="307.5" stroke="#111" stroke-width="1.0"/>
<line x1="345.5" y1="307.5" x2="345.5" y2="370" stroke="#aaa" stroke-width="0.8"/>
<line x1="283" y1="208.7" x2="439.2" y2="208.7" stroke="#222" stroke-width="0.9"/>
<line x1="283" y1="208.4" x2="283" y2="370.7" stroke="#000" stroke-width="1.5"/>
<line x1="282.4" y1="370" x2="439.5" y2="370" stroke="#000" stroke-width="1.9"/>
<text x="278.6" y="211.6" font-size="8.1" text-anchor="end" fill="#111">2800</text>
<line x1="280.6" y1="208.7" x2="283" y2="208.7" stroke="#222" stroke-width="0.7"/>
<text x="278.6" y="252.1" font-size="8.1" text-anchor="end" fill="#111">2100</text>
<line x1="280.6" y1="249.2" x2="283" y2="249.2" stroke="#222" stroke-width="0.7"/>
<text x="278.6" y="292.5" font-size="8.1" text-anchor="end" fill="#111">1400</text>
<line x1="280.6" y1="289.6" x2="283" y2="289.6" stroke="#222" stroke-width="0.7"/>
<text x="278.6" y="332.7" font-size="8.1" text-anchor="end" fill="#111">700</text>
<line x1="280.6" y1="329.8" x2="283" y2="329.8" stroke="#222" stroke-width="0.7"/>
<text x="278.6" y="372.9" font-size="8.1" text-anchor="end" fill="#111">0</text>
<line x1="280.6" y1="370" x2="283" y2="370" stroke="#222" stroke-width="0.7"/>
<text x="280.6" y="384.7" font-size="8.7" fill="#222" text-anchor="middle">10<tspan font-size="7.2" dy="-4.3">0</tspan></text>
<line x1="283" y1="370" x2="283" y2="372.2" stroke="#222" stroke-width="0.7"/>
<text x="332.6" y="384.7" font-size="8.7" fill="#222" text-anchor="middle">10<tspan font-size="7.2" dy="-4.3">1</tspan></text>
<line x1="335" y1="370" x2="335" y2="372.2" stroke="#222" stroke-width="0.7"/>
<text x="384.8" y="384.7" font-size="8.7" fill="#222" text-anchor="middle">10<tspan font-size="7.2" dy="-4.3">2</tspan></text>
<line x1="387.2" y1="370" x2="387.2" y2="372.2" stroke="#222" stroke-width="0.7"/>
<text x="436.4" y="384.7" font-size="8.7" fill="#222" text-anchor="middle">10<tspan font-size="7.2" dy="-4.3">3</tspan></text>
<line x1="438.8" y1="370" x2="438.8" y2="372.2" stroke="#222" stroke-width="0.7"/>
<text x="283" y="204.9" font-size="12.8">4-1BB low</text>
<text x="354.2" y="204.9" font-size="12.8">4-1BB high</text>
<text x="443.4" y="228.2" font-size="12.7">G2/M-phase</text>
<text x="443.4" y="264" font-size="12.6">S-phase</text>
<text x="443.4" y="295.4" font-size="12.7">G1/G0-phase</text>
<text x="1.4" y="469.8" font-size="17.5" font-weight="bold">C</text>
<line x1="69.3" y1="490.3" x2="69.3" y2="642.7" stroke="#222" stroke-width="1.0"/>
<line x1="66" y1="642.3" x2="401.6" y2="642.3" stroke="#222" stroke-width="1.0"/>
<line x1="66" y1="642.3" x2="69.3" y2="642.3" stroke="#222" stroke-width="0.9"/>
<text x="61.5" y="647" font-size="13" text-anchor="end" fill="#111">0</text>
<line x1="66" y1="625.5" x2="69.3" y2="625.5" stroke="#222" stroke-width="0.9"/>
<text x="63.2" y="630.2" font-size="13" text-anchor="end" fill="#111">0.1</text>
<line x1="66" y1="608.7" x2="69.3" y2="608.7" stroke="#222" stroke-width="0.9"/>
<text x="63.2" y="613.4" font-size="13" text-anchor="end" fill="#111">0.2</text>
<line x1="66" y1="591.9" x2="69.3" y2="591.9" stroke="#222" stroke-width="0.9"/>
<text x="63.2" y="596.6" font-size="13" text-anchor="end" fill="#111">0.3</text>
<line x1="66" y1="575.1" x2="69.3" y2="575.1" stroke="#222" stroke-width="0.9"/>
<text x="63.2" y="579.8" font-size="13" text-anchor="end" fill="#111">0.4</text>
<line x1="66" y1="558.2" x2="69.3" y2="558.2" stroke="#222" stroke-width="0.9"/>
<text x="63.2" y="563" font-size="13" text-anchor="end" fill="#111">0.5</text>
<line x1="66" y1="541.4" x2="69.3" y2="541.4" stroke="#222" stroke-width="0.9"/>
<text x="63.2" y="546.1" font-size="13" text-anchor="end" fill="#111">0.6</text>
<line x1="66" y1="524.6" x2="69.3" y2="524.6" stroke="#222" stroke-width="0.9"/>
<text x="63.2" y="529.3" font-size="13" text-anchor="end" fill="#111">0.7</text>
<line x1="66" y1="507.8" x2="69.3" y2="507.8" stroke="#222" stroke-width="0.9"/>
<text x="63.2" y="512.5" font-size="13" text-anchor="end" fill="#111">0.8</text>
<line x1="66" y1="491" x2="69.3" y2="491" stroke="#222" stroke-width="0.9"/>
<text x="63.2" y="495.7" font-size="13" text-anchor="end" fill="#111">0.9</text>
<line x1="69.3" y1="642.3" x2="69.3" y2="645.3" stroke="#222" stroke-width="0.9"/>
<line x1="152.4" y1="642.3" x2="152.4" y2="645.3" stroke="#222" stroke-width="0.9"/>
<line x1="235.5" y1="642.3" x2="235.5" y2="645.3" stroke="#222" stroke-width="0.9"/>
<line x1="318.6" y1="642.3" x2="318.6" y2="645.3" stroke="#222" stroke-width="0.9"/>
<line x1="401.7" y1="642.3" x2="401.7" y2="645.3" stroke="#222" stroke-width="0.9"/>
<text x="17.8" y="641" font-size="16" transform="rotate(-90 17.8 641)">proportion of cells in</text>
<text x="35.6" y="641.3" font-size="16" transform="rotate(-90 35.6 641.3)">S and G2/M phase</text>
<rect x="86.8" y="567.2" width="24.2" height="75.1" fill="#000"/>
<rect x="111" y="600" width="23.7" height="42.3" fill="#808080"/>
<line x1="99.1" y1="563.2" x2="99.1" y2="568.2" stroke="#000" stroke-width="1.1"/>
<line x1="95.7" y1="563.2" x2="102.5" y2="563.2" stroke="#000" stroke-width="1.1"/>
<line x1="123.1" y1="595.3" x2="123.1" y2="603.6" stroke="#000" stroke-width="1.1"/>
<line x1="119.7" y1="595.3" x2="126.5" y2="595.3" stroke="#000" stroke-width="1.1"/>
<line x1="119.7" y1="603.6" x2="126.5" y2="603.6" stroke="#000" stroke-width="1.1"/>
<text x="109.9" y="663.8" font-size="15.7" text-anchor="middle">Eva</text>
<rect x="169.6" y="593.7" width="24.2" height="48.6" fill="#000"/>
<rect x="193.8" y="605.2" width="23.7" height="37.1" fill="#808080"/>
<line x1="181.9" y1="587.8" x2="181.9" y2="594.7" stroke="#000" stroke-width="1.1"/>
<line x1="178.5" y1="587.8" x2="185.3" y2="587.8" stroke="#000" stroke-width="1.1"/>
<line x1="205.9" y1="600.3" x2="205.9" y2="610" stroke="#000" stroke-width="1.1"/>
<line x1="202.5" y1="600.3" x2="209.3" y2="600.3" stroke="#000" stroke-width="1.1"/>
<line x1="202.5" y1="610" x2="209.3" y2="610" stroke="#000" stroke-width="1.1"/>
<text x="194.4" y="663.8" font-size="15.7" text-anchor="middle">StEd</text>
<rect x="252.8" y="520.4" width="24.2" height="121.9" fill="#000"/>
<rect x="277" y="566.5" width="23.7" height="75.8" fill="#808080"/>
<line x1="265.1" y1="510.8" x2="265.1" y2="521.4" stroke="#000" stroke-width="1.1"/>
<line x1="261.7" y1="510.8" x2="268.5" y2="510.8" stroke="#000" stroke-width="1.1"/>
<line x1="289.1" y1="561.5" x2="289.1" y2="571.5" stroke="#000" stroke-width="1.1"/>
<line x1="285.7" y1="561.5" x2="292.5" y2="561.5" stroke="#000" stroke-width="1.1"/>
<line x1="285.7" y1="571.5" x2="292.5" y2="571.5" stroke="#000" stroke-width="1.1"/>
<text x="275.8" y="663.8" font-size="15.7" text-anchor="middle">HuT-102</text>
<rect x="335.6" y="568.5" width="24.2" height="73.8" fill="#000"/>
<rect x="359.8" y="593.5" width="23.7" height="48.8" fill="#808080"/>
<line x1="347.9" y1="562.6" x2="347.9" y2="569.5" stroke="#000" stroke-width="1.1"/>
<line x1="344.5" y1="562.6" x2="351.3" y2="562.6" stroke="#000" stroke-width="1.1"/>
<line x1="371.9" y1="588.4" x2="371.9" y2="599.2" stroke="#000" stroke-width="1.1"/>
<line x1="368.5" y1="588.4" x2="375.3" y2="588.4" stroke="#000" stroke-width="1.1"/>
<line x1="368.5" y1="599.2" x2="375.3" y2="599.2" stroke="#000" stroke-width="1.1"/>
<text x="362.6" y="663.8" font-size="15.7" text-anchor="middle">Champ</text>
<rect x="324.4" y="486.8" width="7.5" height="7.5" fill="#000"/>
<rect x="324.4" y="504.0" width="7.5" height="7.5" fill="#828282"/>
<text x="334" y="494.7" font-size="13.1">4-1BB high</text>
<text x="334" y="511.6" font-size="13.1">4-1BB low</text>
</svg></body></html>
